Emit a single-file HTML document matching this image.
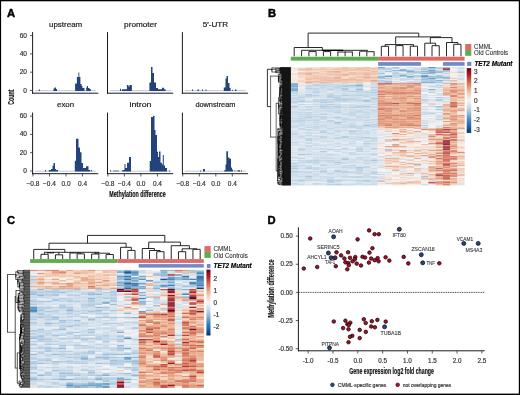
<!DOCTYPE html>
<html><head><meta charset="utf-8"><style>
html,body{margin:0;padding:0;background:#fff;}
svg{display:block;will-change:transform;}
text{font-family:"Liberation Sans", sans-serif;paint-order:stroke;stroke:currentColor;stroke-width:0.18px;}
</style></head><body>
<svg width="520" height="395" viewBox="0 0 520 395">
<defs><filter id="soft" x="-2%" y="-2%" width="104%" height="104%"><feGaussianBlur stdDeviation="0.35"/></filter></defs>
<rect x="0.00" y="0.00" width="520.00" height="395.00" fill="#000"/>
<rect x="1.10" y="1.30" width="517.70" height="392.30" fill="#fff"/>
<text x="7.00" y="17.10" font-size="11.2" fill="#000" color="#000" text-anchor="start" font-weight="bold" font-style="normal" style="stroke-width:0.45px">A</text>
<text x="268.00" y="17.10" font-size="11.2" fill="#000" color="#000" text-anchor="start" font-weight="bold" font-style="normal" style="stroke-width:0.45px">B</text>
<text x="7.00" y="224.30" font-size="11.2" fill="#000" color="#000" text-anchor="start" font-weight="bold" font-style="normal" style="stroke-width:0.45px">C</text>
<text x="267.50" y="224.00" font-size="11.2" fill="#000" color="#000" text-anchor="start" font-weight="bold" font-style="normal" style="stroke-width:0.45px">D</text>
<text x="65.60" y="26.70" font-size="7.4" fill="#1a1a1a" color="#1a1a1a" text-anchor="middle" font-weight="normal" font-style="normal" textLength="33.3" lengthAdjust="spacingAndGlyphs">upstream</text>
<line x1="35.10" y1="90.70" x2="96.10" y2="90.70" stroke="#9db0cf" stroke-width="0.7"/>
<path d="M38.90,91.00V89.50H39.90V91.00ZM53.50,91.00V88.50H54.50V91.00ZM54.50,91.00V87.60H56.00V91.00ZM56.00,91.00V89.00H57.00V91.00ZM75.10,91.00V83.40H76.90V91.00ZM76.90,91.00V76.90H78.40V91.00ZM78.40,91.00V72.40H79.30V91.00ZM79.30,91.00V76.90H80.40V91.00ZM80.40,91.00V84.00H81.60V91.00ZM81.60,91.00V85.90H82.50V91.00ZM82.50,91.00V88.10H84.50V91.00ZM86.20,91.00V87.50H87.00V91.00ZM87.00,91.00V86.10H88.00V91.00ZM88.00,91.00V88.00H89.50V91.00ZM89.50,91.00V89.00H90.80V91.00Z" fill="#23437c"/>
<line x1="32.60" y1="32.10" x2="32.60" y2="93.70" stroke="#000" stroke-width="0.9"/>
<line x1="32.15" y1="93.20" x2="98.30" y2="93.20" stroke="#000" stroke-width="0.9"/>
<line x1="30.00" y1="35.60" x2="32.60" y2="35.60" stroke="#333" stroke-width="0.8"/>
<text x="27.00" y="37.60" font-size="6.6" fill="#333" color="#333" text-anchor="end" font-weight="normal" font-style="normal">60</text>
<line x1="30.00" y1="53.90" x2="32.60" y2="53.90" stroke="#333" stroke-width="0.8"/>
<text x="27.00" y="55.90" font-size="6.6" fill="#333" color="#333" text-anchor="end" font-weight="normal" font-style="normal">40</text>
<line x1="30.00" y1="72.20" x2="32.60" y2="72.20" stroke="#333" stroke-width="0.8"/>
<text x="27.00" y="74.20" font-size="6.6" fill="#333" color="#333" text-anchor="end" font-weight="normal" font-style="normal">20</text>
<line x1="30.00" y1="90.50" x2="32.60" y2="90.50" stroke="#333" stroke-width="0.8"/>
<text x="27.00" y="92.50" font-size="6.6" fill="#333" color="#333" text-anchor="end" font-weight="normal" font-style="normal">0</text>
<text x="140.50" y="26.70" font-size="7.4" fill="#1a1a1a" color="#1a1a1a" text-anchor="middle" font-weight="normal" font-style="normal" textLength="32.8" lengthAdjust="spacingAndGlyphs">promoter</text>
<line x1="110.00" y1="90.70" x2="171.00" y2="90.70" stroke="#9db0cf" stroke-width="0.7"/>
<path d="M120.00,91.00V88.75H121.00V91.00ZM121.90,91.00V89.30H126.90V91.00ZM126.90,91.00V85.00H128.50V91.00ZM128.50,91.00V86.50H129.50V91.00ZM129.50,91.00V85.00H131.90V91.00ZM149.40,91.00V82.50H151.00V91.00ZM151.00,91.00V66.90H152.50V91.00ZM152.50,91.00V73.00H154.00V91.00ZM154.00,91.00V82.50H156.00V91.00ZM156.00,91.00V88.00H158.00V91.00ZM158.00,91.00V89.20H162.00V91.00ZM162.00,91.00V87.70H164.00V91.00ZM164.00,91.00V89.30H165.60V91.00Z" fill="#23437c"/>
<line x1="107.50" y1="32.10" x2="107.50" y2="93.70" stroke="#000" stroke-width="0.9"/>
<line x1="107.05" y1="93.20" x2="173.20" y2="93.20" stroke="#000" stroke-width="0.9"/>
<text x="215.40" y="26.70" font-size="7.4" fill="#1a1a1a" color="#1a1a1a" text-anchor="middle" font-weight="normal" font-style="normal" textLength="25.4" lengthAdjust="spacingAndGlyphs">5′-UTR</text>
<line x1="184.90" y1="90.70" x2="245.90" y2="90.70" stroke="#9db0cf" stroke-width="0.7"/>
<path d="M192.00,91.00V89.50H193.00V91.00ZM197.50,91.00V89.50H199.00V91.00ZM202.00,91.00V89.50H203.00V91.00ZM205.50,91.00V89.50H206.50V91.00ZM223.75,91.00V87.40H225.50V91.00ZM225.50,91.00V78.60H226.50V91.00ZM226.50,91.00V76.10H228.00V91.00ZM228.00,91.00V83.00H229.50V91.00ZM229.50,91.00V88.00H230.60V91.00ZM232.00,91.00V89.70H232.80V91.00ZM235.00,91.00V89.50H236.50V91.00Z" fill="#23437c"/>
<line x1="182.40" y1="32.10" x2="182.40" y2="93.70" stroke="#000" stroke-width="0.9"/>
<line x1="181.95" y1="93.20" x2="248.10" y2="93.20" stroke="#000" stroke-width="0.9"/>
<text x="65.60" y="107.20" font-size="7.4" fill="#1a1a1a" color="#1a1a1a" text-anchor="middle" font-weight="normal" font-style="normal" textLength="17" lengthAdjust="spacingAndGlyphs">exon</text>
<line x1="35.10" y1="171.20" x2="96.10" y2="171.20" stroke="#9db0cf" stroke-width="0.7"/>
<path d="M45.00,171.50V170.00H46.00V171.50ZM48.80,171.50V170.00H51.00V171.50ZM51.00,171.50V169.00H52.50V171.50ZM52.50,171.50V165.70H53.50V171.50ZM53.50,171.50V163.00H55.00V171.50ZM55.00,171.50V169.00H56.00V171.50ZM56.00,171.50V170.00H58.00V171.50ZM74.80,171.50V160.70H76.00V171.50ZM76.00,171.50V138.70H78.50V171.50ZM78.50,171.50V147.50H80.00V171.50ZM80.00,171.50V152.20H81.50V171.50ZM81.50,171.50V163.00H83.00V171.50ZM83.00,171.50V168.00H86.00V171.50ZM86.00,171.50V166.30H88.50V171.50ZM88.50,171.50V170.00H90.00V171.50ZM90.80,171.50V169.70H91.80V171.50Z" fill="#23437c"/>
<line x1="32.60" y1="112.60" x2="32.60" y2="174.20" stroke="#000" stroke-width="0.9"/>
<line x1="32.15" y1="173.70" x2="98.30" y2="173.70" stroke="#000" stroke-width="0.9"/>
<line x1="30.00" y1="116.10" x2="32.60" y2="116.10" stroke="#333" stroke-width="0.8"/>
<text x="27.00" y="118.10" font-size="6.6" fill="#333" color="#333" text-anchor="end" font-weight="normal" font-style="normal">60</text>
<line x1="30.00" y1="134.40" x2="32.60" y2="134.40" stroke="#333" stroke-width="0.8"/>
<text x="27.00" y="136.40" font-size="6.6" fill="#333" color="#333" text-anchor="end" font-weight="normal" font-style="normal">40</text>
<line x1="30.00" y1="152.70" x2="32.60" y2="152.70" stroke="#333" stroke-width="0.8"/>
<text x="27.00" y="154.70" font-size="6.6" fill="#333" color="#333" text-anchor="end" font-weight="normal" font-style="normal">20</text>
<line x1="30.00" y1="171.00" x2="32.60" y2="171.00" stroke="#333" stroke-width="0.8"/>
<text x="27.00" y="173.00" font-size="6.6" fill="#333" color="#333" text-anchor="end" font-weight="normal" font-style="normal">0</text>
<line x1="33.00" y1="173.70" x2="33.00" y2="176.50" stroke="#333" stroke-width="0.8"/>
<text x="33.00" y="185.90" font-size="6.5" fill="#333" color="#333" text-anchor="middle" font-weight="normal" font-style="normal">−0.8</text>
<line x1="49.50" y1="173.70" x2="49.50" y2="176.50" stroke="#333" stroke-width="0.8"/>
<text x="49.50" y="185.90" font-size="6.5" fill="#333" color="#333" text-anchor="middle" font-weight="normal" font-style="normal">−0.4</text>
<line x1="66.00" y1="173.70" x2="66.00" y2="176.50" stroke="#333" stroke-width="0.8"/>
<text x="66.00" y="185.90" font-size="6.5" fill="#333" color="#333" text-anchor="middle" font-weight="normal" font-style="normal">0.0</text>
<line x1="82.50" y1="173.70" x2="82.50" y2="176.50" stroke="#333" stroke-width="0.8"/>
<text x="82.50" y="185.90" font-size="6.5" fill="#333" color="#333" text-anchor="middle" font-weight="normal" font-style="normal">0.4</text>
<text x="140.50" y="107.20" font-size="7.4" fill="#1a1a1a" color="#1a1a1a" text-anchor="middle" font-weight="normal" font-style="normal" textLength="22" lengthAdjust="spacingAndGlyphs">intron</text>
<line x1="110.00" y1="171.20" x2="171.00" y2="171.20" stroke="#9db0cf" stroke-width="0.7"/>
<path d="M110.00,171.50V170.30H111.00V171.50ZM113.50,171.50V170.30H114.50V171.50ZM115.50,171.50V170.30H116.50V171.50ZM117.50,171.50V170.30H118.50V171.50ZM122.30,171.50V170.00H124.50V171.50ZM124.50,171.50V164.10H125.50V171.50ZM125.50,171.50V168.00H127.00V171.50ZM127.00,171.50V162.70H129.00V171.50ZM129.00,171.50V156.90H131.00V171.50ZM149.70,171.50V160.90H151.00V171.50ZM151.00,171.50V117.10H153.00V171.50ZM153.00,171.50V115.70H154.50V171.50ZM154.50,171.50V129.90H155.50V171.50ZM155.50,171.50V135.00H157.00V171.50ZM157.00,171.50V151.70H158.00V171.50ZM158.00,171.50V157.00H159.00V171.50ZM159.00,171.50V151.40H160.50V171.50ZM160.50,171.50V162.70H162.00V171.50ZM162.00,171.50V164.50H162.80V171.50ZM162.80,171.50V155.00H163.80V171.50ZM163.80,171.50V165.40H165.00V171.50ZM165.00,171.50V168.00H167.00V171.50ZM169.00,171.50V170.50H170.00V171.50Z" fill="#23437c"/>
<line x1="107.50" y1="112.60" x2="107.50" y2="174.20" stroke="#000" stroke-width="0.9"/>
<line x1="107.05" y1="173.70" x2="173.20" y2="173.70" stroke="#000" stroke-width="0.9"/>
<line x1="107.90" y1="173.70" x2="107.90" y2="176.50" stroke="#333" stroke-width="0.8"/>
<text x="107.90" y="185.90" font-size="6.5" fill="#333" color="#333" text-anchor="middle" font-weight="normal" font-style="normal">−0.8</text>
<line x1="124.40" y1="173.70" x2="124.40" y2="176.50" stroke="#333" stroke-width="0.8"/>
<text x="124.40" y="185.90" font-size="6.5" fill="#333" color="#333" text-anchor="middle" font-weight="normal" font-style="normal">−0.4</text>
<line x1="140.90" y1="173.70" x2="140.90" y2="176.50" stroke="#333" stroke-width="0.8"/>
<text x="140.90" y="185.90" font-size="6.5" fill="#333" color="#333" text-anchor="middle" font-weight="normal" font-style="normal">0.0</text>
<line x1="157.40" y1="173.70" x2="157.40" y2="176.50" stroke="#333" stroke-width="0.8"/>
<text x="157.40" y="185.90" font-size="6.5" fill="#333" color="#333" text-anchor="middle" font-weight="normal" font-style="normal">0.4</text>
<text x="215.40" y="107.20" font-size="7.4" fill="#1a1a1a" color="#1a1a1a" text-anchor="middle" font-weight="normal" font-style="normal" textLength="40" lengthAdjust="spacingAndGlyphs">downstream</text>
<line x1="184.90" y1="171.20" x2="245.90" y2="171.20" stroke="#9db0cf" stroke-width="0.7"/>
<path d="M200.00,171.50V170.50H201.00V171.50ZM203.00,171.50V169.00H205.00V171.50ZM224.40,171.50V170.00H225.50V171.50ZM225.50,171.50V164.40H226.30V171.50ZM226.30,171.50V151.25H228.00V171.50ZM228.00,171.50V157.50H229.50V171.50ZM229.50,171.50V158.75H231.00V171.50ZM231.00,171.50V167.50H232.00V171.50ZM232.00,171.50V169.40H233.00V171.50ZM234.50,171.50V170.30H235.30V171.50ZM237.50,171.50V170.30H240.00V171.50ZM241.00,171.50V170.30H242.00V171.50Z" fill="#23437c"/>
<line x1="182.40" y1="112.60" x2="182.40" y2="174.20" stroke="#000" stroke-width="0.9"/>
<line x1="181.95" y1="173.70" x2="248.10" y2="173.70" stroke="#000" stroke-width="0.9"/>
<line x1="182.80" y1="173.70" x2="182.80" y2="176.50" stroke="#333" stroke-width="0.8"/>
<text x="182.80" y="185.90" font-size="6.5" fill="#333" color="#333" text-anchor="middle" font-weight="normal" font-style="normal">−0.8</text>
<line x1="199.30" y1="173.70" x2="199.30" y2="176.50" stroke="#333" stroke-width="0.8"/>
<text x="199.30" y="185.90" font-size="6.5" fill="#333" color="#333" text-anchor="middle" font-weight="normal" font-style="normal">−0.4</text>
<line x1="215.80" y1="173.70" x2="215.80" y2="176.50" stroke="#333" stroke-width="0.8"/>
<text x="215.80" y="185.90" font-size="6.5" fill="#333" color="#333" text-anchor="middle" font-weight="normal" font-style="normal">0.0</text>
<line x1="232.30" y1="173.70" x2="232.30" y2="176.50" stroke="#333" stroke-width="0.8"/>
<text x="232.30" y="185.90" font-size="6.5" fill="#333" color="#333" text-anchor="middle" font-weight="normal" font-style="normal">0.4</text>
<text x="137.50" y="196.60" font-size="8.2" fill="#111" color="#111" text-anchor="middle" font-weight="bold" font-style="normal" textLength="56.6" lengthAdjust="spacingAndGlyphs">Methylation difference</text>
<text x="0" y="0" font-size="8.2" fill="#111" color="#111" font-weight="bold" text-anchor="middle" textLength="15.0" lengthAdjust="spacingAndGlyphs" transform="translate(14.2,97.2) rotate(-90)">Count</text>
<style>.h79 rect{width:7.292px;height:1.050px}</style><g class="h79" filter="url(#soft)">
<rect x="290.80" y="67.30" fill="#f5f0ed"/>
<rect x="298.04" y="67.30" fill="#f4e8e0"/>
<rect x="305.28" y="67.30" fill="#f4dccd"/>
<rect x="312.53" y="67.30" fill="#f3d9c9"/>
<rect x="319.77" y="67.30" fill="#f0c5ab"/>
<rect x="327.01" y="67.30" fill="#efc2a8"/>
<rect x="334.25" y="67.30" fill="#f2ccb5"/>
<rect x="341.49" y="67.30" fill="#e9ae8e"/>
<rect x="348.73" y="67.30" fill="#efc2a8"/>
<rect x="355.98" y="67.30" fill="#edbb9f"/>
<rect x="363.22" y="67.30" fill="#eab192"/>
<rect x="370.46" y="67.30" fill="#f3d1bc"/>
<rect x="377.70" y="67.30" fill="#4589bb"/>
<rect x="384.94" y="67.30" fill="#ceddea"/>
<rect x="392.18" y="67.30" fill="#8cb4d4"/>
<rect x="399.43" y="67.30" fill="#dee7ef"/>
<rect x="406.67" y="67.30" fill="#bbd1e4"/>
<rect x="413.91" y="67.30" fill="#d5e2ec"/>
<rect x="421.15" y="67.30" fill="#a2c2db"/>
<rect x="428.39" y="67.30" fill="#2669ac"/>
<rect x="435.63" y="67.30" fill="#a0c0db"/>
<rect x="442.88" y="67.30" fill="#81aed0"/>
<rect x="450.12" y="67.30" fill="#d1dfeb"/>
<rect x="457.36" y="67.30" fill="#c6d8e7"/>
<rect x="290.80" y="68.30" fill="#f3d9c8"/>
<rect x="298.04" y="68.30" fill="#f0c4ab"/>
<rect x="305.28" y="68.30" fill="#e8a988"/>
<rect x="312.53" y="68.30" fill="#f3d3be"/>
<rect x="319.77" y="68.30" fill="#efc2a8"/>
<rect x="327.01" y="68.30" fill="#f4dbcc"/>
<rect x="334.25" y="68.30" fill="#edbb9e"/>
<rect x="341.49" y="68.30" fill="#eab090"/>
<rect x="348.73" y="68.30" fill="#f0c5ac"/>
<rect x="355.98" y="68.30" fill="#ebb597"/>
<rect x="363.22" y="68.30" fill="#ebb598"/>
<rect x="370.46" y="68.30" fill="#e8a988"/>
<rect x="377.70" y="68.30" fill="#a4c3dc"/>
<rect x="384.94" y="68.30" fill="#a4c3dc"/>
<rect x="392.18" y="68.30" fill="#a7c5dd"/>
<rect x="399.43" y="68.30" fill="#f5ede8"/>
<rect x="406.67" y="68.30" fill="#ebeff2"/>
<rect x="413.91" y="68.30" fill="#c3d6e6"/>
<rect x="421.15" y="68.30" fill="#a6c4dd"/>
<rect x="428.39" y="68.30" fill="#a1c1db"/>
<rect x="435.63" y="68.30" fill="#a5c4dc"/>
<rect x="442.88" y="68.30" fill="#ad1c2c"/>
<rect x="450.12" y="68.30" fill="#f0f2f3"/>
<rect x="457.36" y="68.30" fill="#bdd3e4"/>
<rect x="290.80" y="69.30" fill="#f4e7de"/>
<rect x="298.04" y="69.30" fill="#ebb495"/>
<rect x="305.28" y="69.30" fill="#e9ac8c"/>
<rect x="312.53" y="69.30" fill="#ebb495"/>
<rect x="319.77" y="69.30" fill="#ecb89b"/>
<rect x="327.01" y="69.30" fill="#ebb495"/>
<rect x="334.25" y="69.30" fill="#e9af8f"/>
<rect x="341.49" y="69.30" fill="#eebfa4"/>
<rect x="348.73" y="69.30" fill="#eab193"/>
<rect x="355.98" y="69.30" fill="#eab192"/>
<rect x="363.22" y="69.30" fill="#eec0a6"/>
<rect x="370.46" y="69.30" fill="#efc1a7"/>
<rect x="377.70" y="69.30" fill="#a7c5dd"/>
<rect x="384.94" y="69.30" fill="#a4c3dc"/>
<rect x="392.18" y="69.30" fill="#eceff2"/>
<rect x="399.43" y="69.30" fill="#5f99c5"/>
<rect x="406.67" y="69.30" fill="#c8d9e8"/>
<rect x="413.91" y="69.30" fill="#b9d0e3"/>
<rect x="421.15" y="69.30" fill="#89b3d3"/>
<rect x="428.39" y="69.30" fill="#abc8de"/>
<rect x="435.63" y="69.30" fill="#d6e2ec"/>
<rect x="442.88" y="69.30" fill="#9e1529"/>
<rect x="450.12" y="69.30" fill="#f5eeea"/>
<rect x="457.36" y="69.30" fill="#dde6ee"/>
<rect x="290.80" y="70.30" fill="#f4e9e2"/>
<rect x="298.04" y="70.30" fill="#f1cab2"/>
<rect x="305.28" y="70.30" fill="#f0c6ad"/>
<rect x="312.53" y="70.30" fill="#f3d1bc"/>
<rect x="319.77" y="70.30" fill="#f3d3be"/>
<rect x="327.01" y="70.30" fill="#f3d1bb"/>
<rect x="334.25" y="70.30" fill="#f3d4c1"/>
<rect x="341.49" y="70.30" fill="#e9ae8e"/>
<rect x="348.73" y="70.30" fill="#edba9d"/>
<rect x="355.98" y="70.30" fill="#efc3a9"/>
<rect x="363.22" y="70.30" fill="#e7a887"/>
<rect x="370.46" y="70.30" fill="#f1cab2"/>
<rect x="377.70" y="70.30" fill="#d6e2ec"/>
<rect x="384.94" y="70.30" fill="#d8e3ed"/>
<rect x="392.18" y="70.30" fill="#6ba1c9"/>
<rect x="399.43" y="70.30" fill="#6ba0c9"/>
<rect x="406.67" y="70.30" fill="#8fb6d5"/>
<rect x="413.91" y="70.30" fill="#dbe5ee"/>
<rect x="421.15" y="70.30" fill="#c6d8e7"/>
<rect x="428.39" y="70.30" fill="#4589bc"/>
<rect x="435.63" y="70.30" fill="#bbd1e4"/>
<rect x="442.88" y="70.30" fill="#9fc0da"/>
<rect x="450.12" y="70.30" fill="#e4eaf0"/>
<rect x="457.36" y="70.30" fill="#cddcea"/>
<rect x="290.80" y="71.30" fill="#f5f0ed"/>
<rect x="298.04" y="71.30" fill="#f5f1ef"/>
<rect x="305.28" y="71.30" fill="#f3d4c0"/>
<rect x="312.53" y="71.30" fill="#f3d7c5"/>
<rect x="319.77" y="71.30" fill="#eebea2"/>
<rect x="327.01" y="71.30" fill="#e6a482"/>
<rect x="334.25" y="71.30" fill="#e29876"/>
<rect x="341.49" y="71.30" fill="#f1cbb3"/>
<rect x="348.73" y="71.30" fill="#f4ddce"/>
<rect x="355.98" y="71.30" fill="#f2ccb4"/>
<rect x="363.22" y="71.30" fill="#f3d3bf"/>
<rect x="370.46" y="71.30" fill="#e7a684"/>
<rect x="377.70" y="71.30" fill="#c4d7e7"/>
<rect x="384.94" y="71.30" fill="#87b2d2"/>
<rect x="392.18" y="71.30" fill="#d2e0eb"/>
<rect x="399.43" y="71.30" fill="#c2d6e6"/>
<rect x="406.67" y="71.30" fill="#5493c1"/>
<rect x="413.91" y="71.30" fill="#92b8d6"/>
<rect x="421.15" y="71.30" fill="#6aa0c8"/>
<rect x="428.39" y="71.30" fill="#79a9cd"/>
<rect x="435.63" y="71.30" fill="#7fadd0"/>
<rect x="442.88" y="71.30" fill="#92b8d6"/>
<rect x="450.12" y="71.30" fill="#ebeff2"/>
<rect x="457.36" y="71.30" fill="#bdd2e4"/>
<rect x="290.80" y="72.30" fill="#f5f0ed"/>
<rect x="298.04" y="72.30" fill="#eebda2"/>
<rect x="305.28" y="72.30" fill="#ecb799"/>
<rect x="312.53" y="72.30" fill="#ebb597"/>
<rect x="319.77" y="72.30" fill="#f3d4c1"/>
<rect x="327.01" y="72.30" fill="#eebfa4"/>
<rect x="334.25" y="72.30" fill="#e9af90"/>
<rect x="341.49" y="72.30" fill="#f3d0bb"/>
<rect x="348.73" y="72.30" fill="#e8ab8a"/>
<rect x="355.98" y="72.30" fill="#efc2a8"/>
<rect x="363.22" y="72.30" fill="#ebb698"/>
<rect x="370.46" y="72.30" fill="#eebea3"/>
<rect x="377.70" y="72.30" fill="#cbdbe9"/>
<rect x="384.94" y="72.30" fill="#e9edf2"/>
<rect x="392.18" y="72.30" fill="#afcae0"/>
<rect x="399.43" y="72.30" fill="#f3f4f4"/>
<rect x="406.67" y="72.30" fill="#9ebfda"/>
<rect x="413.91" y="72.30" fill="#97bbd8"/>
<rect x="421.15" y="72.30" fill="#b4cde1"/>
<rect x="428.39" y="72.30" fill="#5895c2"/>
<rect x="435.63" y="72.30" fill="#80add0"/>
<rect x="442.88" y="72.30" fill="#dae4ed"/>
<rect x="450.12" y="72.30" fill="#f3d4c1"/>
<rect x="457.36" y="72.30" fill="#9ec0da"/>
<rect x="290.80" y="73.30" fill="#f4dccc"/>
<rect x="298.04" y="73.30" fill="#ebb495"/>
<rect x="305.28" y="73.30" fill="#e7a583"/>
<rect x="312.53" y="73.30" fill="#edbca0"/>
<rect x="319.77" y="73.30" fill="#efc2a8"/>
<rect x="327.01" y="73.30" fill="#edbda1"/>
<rect x="334.25" y="73.30" fill="#f1cbb3"/>
<rect x="341.49" y="73.30" fill="#edbca1"/>
<rect x="348.73" y="73.30" fill="#edbb9f"/>
<rect x="355.98" y="73.30" fill="#edbb9e"/>
<rect x="363.22" y="73.30" fill="#e7a683"/>
<rect x="370.46" y="73.30" fill="#edbca0"/>
<rect x="377.70" y="73.30" fill="#87b1d2"/>
<rect x="384.94" y="73.30" fill="#ebeff2"/>
<rect x="392.18" y="73.30" fill="#9bbdd9"/>
<rect x="399.43" y="73.30" fill="#b7cfe2"/>
<rect x="406.67" y="73.30" fill="#c5d7e7"/>
<rect x="413.91" y="73.30" fill="#bbd1e4"/>
<rect x="421.15" y="73.30" fill="#689fc8"/>
<rect x="428.39" y="73.30" fill="#93b8d6"/>
<rect x="435.63" y="73.30" fill="#eef1f3"/>
<rect x="442.88" y="73.30" fill="#a6c5dd"/>
<rect x="450.12" y="73.30" fill="#f5f3f3"/>
<rect x="457.36" y="73.30" fill="#f4e1d5"/>
<rect x="290.80" y="74.30" fill="#f3d5c2"/>
<rect x="298.04" y="74.30" fill="#efc1a7"/>
<rect x="305.28" y="74.30" fill="#e7a684"/>
<rect x="312.53" y="74.30" fill="#f3d2be"/>
<rect x="319.77" y="74.30" fill="#efc2a7"/>
<rect x="327.01" y="74.30" fill="#eab293"/>
<rect x="334.25" y="74.30" fill="#e8ac8b"/>
<rect x="341.49" y="74.30" fill="#e59f7b"/>
<rect x="348.73" y="74.30" fill="#e9ac8c"/>
<rect x="355.98" y="74.30" fill="#ecb89a"/>
<rect x="363.22" y="74.30" fill="#ebb395"/>
<rect x="370.46" y="74.30" fill="#ecb79a"/>
<rect x="377.70" y="74.30" fill="#dae5ed"/>
<rect x="384.94" y="74.30" fill="#e7ecf1"/>
<rect x="392.18" y="74.30" fill="#c7d8e8"/>
<rect x="399.43" y="74.30" fill="#b1cbe0"/>
<rect x="406.67" y="74.30" fill="#afcae0"/>
<rect x="413.91" y="74.30" fill="#f3f4f4"/>
<rect x="421.15" y="74.30" fill="#dbe5ee"/>
<rect x="428.39" y="74.30" fill="#d3e0eb"/>
<rect x="435.63" y="74.30" fill="#cfdeea"/>
<rect x="442.88" y="74.30" fill="#e6ecf1"/>
<rect x="450.12" y="74.30" fill="#f4e9e2"/>
<rect x="457.36" y="74.30" fill="#f4e7df"/>
<rect x="290.80" y="75.30" fill="#f2f3f4"/>
<rect x="298.04" y="75.30" fill="#f4ddcf"/>
<rect x="305.28" y="75.30" fill="#f3d0ba"/>
<rect x="312.53" y="75.30" fill="#ecb99c"/>
<rect x="319.77" y="75.30" fill="#f2ceb7"/>
<rect x="327.01" y="75.30" fill="#f0c6ad"/>
<rect x="334.25" y="75.30" fill="#eebea3"/>
<rect x="341.49" y="75.30" fill="#e9af8f"/>
<rect x="348.73" y="75.30" fill="#f3d1bb"/>
<rect x="355.98" y="75.30" fill="#f3d3be"/>
<rect x="363.22" y="75.30" fill="#ecb89a"/>
<rect x="370.46" y="75.30" fill="#f3d5c1"/>
<rect x="377.70" y="75.30" fill="#c1d5e6"/>
<rect x="384.94" y="75.30" fill="#93b8d6"/>
<rect x="392.18" y="75.30" fill="#a8c5dd"/>
<rect x="399.43" y="75.30" fill="#4c8dbe"/>
<rect x="406.67" y="75.30" fill="#ccdce9"/>
<rect x="413.91" y="75.30" fill="#96bad7"/>
<rect x="421.15" y="75.30" fill="#478bbc"/>
<rect x="428.39" y="75.30" fill="#d8e3ed"/>
<rect x="435.63" y="75.30" fill="#9fc0da"/>
<rect x="442.88" y="75.30" fill="#f3d3bf"/>
<rect x="450.12" y="75.30" fill="#f3f4f4"/>
<rect x="457.36" y="75.30" fill="#cadae9"/>
<rect x="290.80" y="76.30" fill="#f4eae4"/>
<rect x="298.04" y="76.30" fill="#f0c5ac"/>
<rect x="305.28" y="76.30" fill="#f0c5ac"/>
<rect x="312.53" y="76.30" fill="#eebea3"/>
<rect x="319.77" y="76.30" fill="#edbda1"/>
<rect x="327.01" y="76.30" fill="#f3d3be"/>
<rect x="334.25" y="76.30" fill="#efc3a9"/>
<rect x="341.49" y="76.30" fill="#f2cdb6"/>
<rect x="348.73" y="76.30" fill="#f3d7c5"/>
<rect x="355.98" y="76.30" fill="#ecb79a"/>
<rect x="363.22" y="76.30" fill="#edbb9e"/>
<rect x="370.46" y="76.30" fill="#efc4aa"/>
<rect x="377.70" y="76.30" fill="#7eaccf"/>
<rect x="384.94" y="76.30" fill="#4387ba"/>
<rect x="392.18" y="76.30" fill="#c1d5e6"/>
<rect x="399.43" y="76.30" fill="#a7c5dd"/>
<rect x="406.67" y="76.30" fill="#5291c0"/>
<rect x="413.91" y="76.30" fill="#a8c6dd"/>
<rect x="421.15" y="76.30" fill="#3578b4"/>
<rect x="428.39" y="76.30" fill="#77a8cd"/>
<rect x="435.63" y="76.30" fill="#81aed0"/>
<rect x="442.88" y="76.30" fill="#b2cce1"/>
<rect x="450.12" y="76.30" fill="#ecf0f3"/>
<rect x="457.36" y="76.30" fill="#d9e4ed"/>
<rect x="290.80" y="77.30" fill="#f5eeea"/>
<rect x="298.04" y="77.30" fill="#f3d5c1"/>
<rect x="305.28" y="77.30" fill="#eebfa4"/>
<rect x="312.53" y="77.30" fill="#edba9e"/>
<rect x="319.77" y="77.30" fill="#eab294"/>
<rect x="327.01" y="77.30" fill="#e9ad8d"/>
<rect x="334.25" y="77.30" fill="#e39c79"/>
<rect x="341.49" y="77.30" fill="#f4dccd"/>
<rect x="348.73" y="77.30" fill="#eab091"/>
<rect x="355.98" y="77.30" fill="#edba9d"/>
<rect x="363.22" y="77.30" fill="#df8f6e"/>
<rect x="370.46" y="77.30" fill="#e7a886"/>
<rect x="377.70" y="77.30" fill="#81aed0"/>
<rect x="384.94" y="77.30" fill="#dae5ed"/>
<rect x="392.18" y="77.30" fill="#b7cfe2"/>
<rect x="399.43" y="77.30" fill="#eceff2"/>
<rect x="406.67" y="77.30" fill="#9fc0da"/>
<rect x="413.91" y="77.30" fill="#cadbe9"/>
<rect x="421.15" y="77.30" fill="#9cbed9"/>
<rect x="428.39" y="77.30" fill="#9ebfda"/>
<rect x="435.63" y="77.30" fill="#85b0d2"/>
<rect x="442.88" y="77.30" fill="#6ba0c9"/>
<rect x="450.12" y="77.30" fill="#f4e0d4"/>
<rect x="457.36" y="77.30" fill="#f4e2d7"/>
<rect x="290.80" y="78.30" fill="#f4e3d8"/>
<rect x="298.04" y="78.30" fill="#f4ded0"/>
<rect x="305.28" y="78.30" fill="#ebb597"/>
<rect x="312.53" y="78.30" fill="#e9af90"/>
<rect x="319.77" y="78.30" fill="#edbb9f"/>
<rect x="327.01" y="78.30" fill="#ecb99c"/>
<rect x="334.25" y="78.30" fill="#e6a27f"/>
<rect x="341.49" y="78.30" fill="#f1cab2"/>
<rect x="348.73" y="78.30" fill="#efc1a7"/>
<rect x="355.98" y="78.30" fill="#f3d5c2"/>
<rect x="363.22" y="78.30" fill="#efc3aa"/>
<rect x="370.46" y="78.30" fill="#f0c4ab"/>
<rect x="377.70" y="78.30" fill="#a0c0db"/>
<rect x="384.94" y="78.30" fill="#abc8de"/>
<rect x="392.18" y="78.30" fill="#f4eae4"/>
<rect x="399.43" y="78.30" fill="#c2d6e6"/>
<rect x="406.67" y="78.30" fill="#c6d8e7"/>
<rect x="413.91" y="78.30" fill="#f4dfd2"/>
<rect x="421.15" y="78.30" fill="#9bbed9"/>
<rect x="428.39" y="78.30" fill="#4286ba"/>
<rect x="435.63" y="78.30" fill="#b0cae0"/>
<rect x="442.88" y="78.30" fill="#98bbd8"/>
<rect x="450.12" y="78.30" fill="#eebea3"/>
<rect x="457.36" y="78.30" fill="#c0d4e5"/>
<rect x="290.80" y="79.30" fill="#f4e3d8"/>
<rect x="298.04" y="79.30" fill="#f4dfd2"/>
<rect x="305.28" y="79.30" fill="#e9af90"/>
<rect x="312.53" y="79.30" fill="#efc1a6"/>
<rect x="319.77" y="79.30" fill="#eab293"/>
<rect x="327.01" y="79.30" fill="#ecb799"/>
<rect x="334.25" y="79.30" fill="#edba9e"/>
<rect x="341.49" y="79.30" fill="#e6a27e"/>
<rect x="348.73" y="79.30" fill="#e6a27e"/>
<rect x="355.98" y="79.30" fill="#eab090"/>
<rect x="363.22" y="79.30" fill="#eebfa4"/>
<rect x="370.46" y="79.30" fill="#efc2a7"/>
<rect x="377.70" y="79.30" fill="#e0e8ef"/>
<rect x="384.94" y="79.30" fill="#f2ceb7"/>
<rect x="392.18" y="79.30" fill="#c9dae8"/>
<rect x="399.43" y="79.30" fill="#bad1e3"/>
<rect x="406.67" y="79.30" fill="#bed3e5"/>
<rect x="413.91" y="79.30" fill="#adc8df"/>
<rect x="421.15" y="79.30" fill="#82aed0"/>
<rect x="428.39" y="79.30" fill="#a8c5dd"/>
<rect x="435.63" y="79.30" fill="#e5ebf0"/>
<rect x="442.88" y="79.30" fill="#d2e0eb"/>
<rect x="450.12" y="79.30" fill="#f5f2f0"/>
<rect x="457.36" y="79.30" fill="#c2d6e6"/>
<rect x="290.80" y="80.30" fill="#f4dcce"/>
<rect x="298.04" y="80.30" fill="#f2ceb8"/>
<rect x="305.28" y="80.30" fill="#f1c8b0"/>
<rect x="312.53" y="80.30" fill="#f0c6ad"/>
<rect x="319.77" y="80.30" fill="#ebb598"/>
<rect x="327.01" y="80.30" fill="#e6a582"/>
<rect x="334.25" y="80.30" fill="#e8ab8a"/>
<rect x="341.49" y="80.30" fill="#eab193"/>
<rect x="348.73" y="80.30" fill="#edba9d"/>
<rect x="355.98" y="80.30" fill="#eab090"/>
<rect x="363.22" y="80.30" fill="#ebb597"/>
<rect x="370.46" y="80.30" fill="#de8e6d"/>
<rect x="377.70" y="80.30" fill="#a1c1db"/>
<rect x="384.94" y="80.30" fill="#c3d6e6"/>
<rect x="392.18" y="80.30" fill="#f5f3f2"/>
<rect x="399.43" y="80.30" fill="#c8d9e8"/>
<rect x="406.67" y="80.30" fill="#f5efeb"/>
<rect x="413.91" y="80.30" fill="#d0dfeb"/>
<rect x="421.15" y="80.30" fill="#adc9df"/>
<rect x="428.39" y="80.30" fill="#96bbd7"/>
<rect x="435.63" y="80.30" fill="#5e98c4"/>
<rect x="442.88" y="80.30" fill="#9fc0da"/>
<rect x="450.12" y="80.30" fill="#e6a27f"/>
<rect x="457.36" y="80.30" fill="#f4e9e2"/>
<rect x="290.80" y="81.30" fill="#f4ded0"/>
<rect x="298.04" y="81.30" fill="#f0c7ae"/>
<rect x="305.28" y="81.30" fill="#ebb395"/>
<rect x="312.53" y="81.30" fill="#e9ac8c"/>
<rect x="319.77" y="81.30" fill="#efc1a6"/>
<rect x="327.01" y="81.30" fill="#eec0a5"/>
<rect x="334.25" y="81.30" fill="#e9ad8d"/>
<rect x="341.49" y="81.30" fill="#efc2a8"/>
<rect x="348.73" y="81.30" fill="#f3d1bc"/>
<rect x="355.98" y="81.30" fill="#eec0a5"/>
<rect x="363.22" y="81.30" fill="#f0c5ac"/>
<rect x="370.46" y="81.30" fill="#eab394"/>
<rect x="377.70" y="81.30" fill="#a0c1db"/>
<rect x="384.94" y="81.30" fill="#90b7d5"/>
<rect x="392.18" y="81.30" fill="#b1cbe0"/>
<rect x="399.43" y="81.30" fill="#f2f3f4"/>
<rect x="406.67" y="81.30" fill="#bed3e5"/>
<rect x="413.91" y="81.30" fill="#c8d9e8"/>
<rect x="421.15" y="81.30" fill="#94b9d7"/>
<rect x="428.39" y="81.30" fill="#a1c1db"/>
<rect x="435.63" y="81.30" fill="#bdd3e4"/>
<rect x="442.88" y="81.30" fill="#e8edf1"/>
<rect x="450.12" y="81.30" fill="#bed3e5"/>
<rect x="457.36" y="81.30" fill="#f4e1d5"/>
<rect x="290.80" y="82.30" fill="#f4e6dd"/>
<rect x="298.04" y="82.30" fill="#f3d9c9"/>
<rect x="305.28" y="82.30" fill="#e19573"/>
<rect x="312.53" y="82.30" fill="#eec0a6"/>
<rect x="319.77" y="82.30" fill="#e59f7b"/>
<rect x="327.01" y="82.30" fill="#e9ae8f"/>
<rect x="334.25" y="82.30" fill="#f2ceb7"/>
<rect x="341.49" y="82.30" fill="#ebb698"/>
<rect x="348.73" y="82.30" fill="#eab293"/>
<rect x="355.98" y="82.30" fill="#eec0a5"/>
<rect x="363.22" y="82.30" fill="#f4ded1"/>
<rect x="370.46" y="82.30" fill="#efc3a9"/>
<rect x="377.70" y="82.30" fill="#b5cde2"/>
<rect x="384.94" y="82.30" fill="#8ab3d3"/>
<rect x="392.18" y="82.30" fill="#f5f2f0"/>
<rect x="399.43" y="82.30" fill="#b2cce1"/>
<rect x="406.67" y="82.30" fill="#acc8df"/>
<rect x="413.91" y="82.30" fill="#b0cae0"/>
<rect x="421.15" y="82.30" fill="#639cc6"/>
<rect x="428.39" y="82.30" fill="#649cc6"/>
<rect x="435.63" y="82.30" fill="#95bad7"/>
<rect x="442.88" y="82.30" fill="#c2d6e6"/>
<rect x="450.12" y="82.30" fill="#e3eaf0"/>
<rect x="457.36" y="82.30" fill="#dee7ee"/>
<rect x="290.80" y="83.30" fill="#669dc7"/>
<rect x="298.04" y="83.30" fill="#f4e9e2"/>
<rect x="305.28" y="83.30" fill="#c7d9e8"/>
<rect x="312.53" y="83.30" fill="#d5e1ec"/>
<rect x="319.77" y="83.30" fill="#c4d7e7"/>
<rect x="327.01" y="83.30" fill="#cbdbe9"/>
<rect x="334.25" y="83.30" fill="#d5e1ec"/>
<rect x="341.49" y="83.30" fill="#bfd4e5"/>
<rect x="348.73" y="83.30" fill="#eff1f3"/>
<rect x="355.98" y="83.30" fill="#bed3e5"/>
<rect x="363.22" y="83.30" fill="#eff1f3"/>
<rect x="370.46" y="83.30" fill="#c8d9e8"/>
<rect x="377.70" y="83.30" fill="#be403b"/>
<rect x="384.94" y="83.30" fill="#c1453c"/>
<rect x="392.18" y="83.30" fill="#cd5f47"/>
<rect x="399.43" y="83.30" fill="#da8263"/>
<rect x="406.67" y="83.30" fill="#d37054"/>
<rect x="413.91" y="83.30" fill="#c95844"/>
<rect x="421.15" y="83.30" fill="#eaeef2"/>
<rect x="428.39" y="83.30" fill="#dae4ed"/>
<rect x="435.63" y="83.30" fill="#dae4ed"/>
<rect x="442.88" y="83.30" fill="#e6a27f"/>
<rect x="450.12" y="83.30" fill="#d16a4f"/>
<rect x="457.36" y="83.30" fill="#e7a684"/>
<rect x="290.80" y="84.30" fill="#669dc7"/>
<rect x="298.04" y="84.30" fill="#f4e0d3"/>
<rect x="305.28" y="84.30" fill="#d6e2ec"/>
<rect x="312.53" y="84.30" fill="#a8c6dd"/>
<rect x="319.77" y="84.30" fill="#c1d5e6"/>
<rect x="327.01" y="84.30" fill="#bdd2e4"/>
<rect x="334.25" y="84.30" fill="#b9d0e3"/>
<rect x="341.49" y="84.30" fill="#ceddea"/>
<rect x="348.73" y="84.30" fill="#b5cee2"/>
<rect x="355.98" y="84.30" fill="#9fc0da"/>
<rect x="363.22" y="84.30" fill="#dbe5ee"/>
<rect x="370.46" y="84.30" fill="#b9d0e3"/>
<rect x="377.70" y="84.30" fill="#d98162"/>
<rect x="384.94" y="84.30" fill="#dd8b6a"/>
<rect x="392.18" y="84.30" fill="#eab192"/>
<rect x="399.43" y="84.30" fill="#e6a380"/>
<rect x="406.67" y="84.30" fill="#e7a987"/>
<rect x="413.91" y="84.30" fill="#dd8a6a"/>
<rect x="421.15" y="84.30" fill="#dae4ed"/>
<rect x="428.39" y="84.30" fill="#e9eef2"/>
<rect x="435.63" y="84.30" fill="#d3e0eb"/>
<rect x="442.88" y="84.30" fill="#f4e6dc"/>
<rect x="450.12" y="84.30" fill="#df8f6d"/>
<rect x="457.36" y="84.30" fill="#ebb698"/>
<rect x="290.80" y="85.30" fill="#6ba1c9"/>
<rect x="298.04" y="85.30" fill="#d8e3ed"/>
<rect x="305.28" y="85.30" fill="#b8cfe3"/>
<rect x="312.53" y="85.30" fill="#aac7de"/>
<rect x="319.77" y="85.30" fill="#aac7de"/>
<rect x="327.01" y="85.30" fill="#bdd2e4"/>
<rect x="334.25" y="85.30" fill="#bdd2e4"/>
<rect x="341.49" y="85.30" fill="#a7c5dd"/>
<rect x="348.73" y="85.30" fill="#98bcd8"/>
<rect x="355.98" y="85.30" fill="#6ca1c9"/>
<rect x="363.22" y="85.30" fill="#d5e1ec"/>
<rect x="370.46" y="85.30" fill="#cbdbe9"/>
<rect x="377.70" y="85.30" fill="#e6a481"/>
<rect x="384.94" y="85.30" fill="#f0c7ae"/>
<rect x="392.18" y="85.30" fill="#eab192"/>
<rect x="399.43" y="85.30" fill="#e39b78"/>
<rect x="406.67" y="85.30" fill="#da8263"/>
<rect x="413.91" y="85.30" fill="#de8c6b"/>
<rect x="421.15" y="85.30" fill="#d7e3ed"/>
<rect x="428.39" y="85.30" fill="#d3e0eb"/>
<rect x="435.63" y="85.30" fill="#a9c6de"/>
<rect x="442.88" y="85.30" fill="#f1c9b1"/>
<rect x="450.12" y="85.30" fill="#eab091"/>
<rect x="457.36" y="85.30" fill="#f3d7c6"/>
<rect x="290.80" y="86.30" fill="#5d98c4"/>
<rect x="298.04" y="86.30" fill="#e1e9ef"/>
<rect x="305.28" y="86.30" fill="#b9d0e3"/>
<rect x="312.53" y="86.30" fill="#cddcea"/>
<rect x="319.77" y="86.30" fill="#c1d5e6"/>
<rect x="327.01" y="86.30" fill="#bbd1e4"/>
<rect x="334.25" y="86.30" fill="#afcae0"/>
<rect x="341.49" y="86.30" fill="#98bcd8"/>
<rect x="348.73" y="86.30" fill="#b1cbe0"/>
<rect x="355.98" y="86.30" fill="#a7c5dd"/>
<rect x="363.22" y="86.30" fill="#ceddea"/>
<rect x="370.46" y="86.30" fill="#cadbe9"/>
<rect x="377.70" y="86.30" fill="#e9ad8d"/>
<rect x="384.94" y="86.30" fill="#e6a27f"/>
<rect x="392.18" y="86.30" fill="#e9ad8d"/>
<rect x="399.43" y="86.30" fill="#edbca0"/>
<rect x="406.67" y="86.30" fill="#d98061"/>
<rect x="413.91" y="86.30" fill="#edbb9e"/>
<rect x="421.15" y="86.30" fill="#e0e8ef"/>
<rect x="428.39" y="86.30" fill="#b5cde2"/>
<rect x="435.63" y="86.30" fill="#d1dfeb"/>
<rect x="442.88" y="86.30" fill="#f3d7c4"/>
<rect x="450.12" y="86.30" fill="#ecb89b"/>
<rect x="457.36" y="86.30" fill="#e9ae8e"/>
<rect x="290.80" y="87.30" fill="#95bad7"/>
<rect x="298.04" y="87.30" fill="#e3eaf0"/>
<rect x="305.28" y="87.30" fill="#bfd4e5"/>
<rect x="312.53" y="87.30" fill="#cfdeea"/>
<rect x="319.77" y="87.30" fill="#b3cce1"/>
<rect x="327.01" y="87.30" fill="#cbdbe9"/>
<rect x="334.25" y="87.30" fill="#b0cbe0"/>
<rect x="341.49" y="87.30" fill="#c9dae8"/>
<rect x="348.73" y="87.30" fill="#c6d8e7"/>
<rect x="355.98" y="87.30" fill="#bed3e5"/>
<rect x="363.22" y="87.30" fill="#e5ebf1"/>
<rect x="370.46" y="87.30" fill="#a9c6de"/>
<rect x="377.70" y="87.30" fill="#db8666"/>
<rect x="384.94" y="87.30" fill="#e7a886"/>
<rect x="392.18" y="87.30" fill="#db8465"/>
<rect x="399.43" y="87.30" fill="#d57558"/>
<rect x="406.67" y="87.30" fill="#dc8767"/>
<rect x="413.91" y="87.30" fill="#e59f7b"/>
<rect x="421.15" y="87.30" fill="#f5f5f5"/>
<rect x="428.39" y="87.30" fill="#dde6ee"/>
<rect x="435.63" y="87.30" fill="#b2cce1"/>
<rect x="442.88" y="87.30" fill="#edba9d"/>
<rect x="450.12" y="87.30" fill="#cf6449"/>
<rect x="457.36" y="87.30" fill="#eec0a5"/>
<rect x="290.80" y="88.30" fill="#6da2c9"/>
<rect x="298.04" y="88.30" fill="#e9eef2"/>
<rect x="305.28" y="88.30" fill="#a1c1db"/>
<rect x="312.53" y="88.30" fill="#b6cee2"/>
<rect x="319.77" y="88.30" fill="#c5d8e7"/>
<rect x="327.01" y="88.30" fill="#c3d6e6"/>
<rect x="334.25" y="88.30" fill="#bcd2e4"/>
<rect x="341.49" y="88.30" fill="#99bcd8"/>
<rect x="348.73" y="88.30" fill="#d2e0eb"/>
<rect x="355.98" y="88.30" fill="#b5cee2"/>
<rect x="363.22" y="88.30" fill="#edf0f3"/>
<rect x="370.46" y="88.30" fill="#d3e0ec"/>
<rect x="377.70" y="88.30" fill="#e39c78"/>
<rect x="384.94" y="88.30" fill="#e59f7b"/>
<rect x="392.18" y="88.30" fill="#de8c6b"/>
<rect x="399.43" y="88.30" fill="#d37154"/>
<rect x="406.67" y="88.30" fill="#eab091"/>
<rect x="413.91" y="88.30" fill="#e29775"/>
<rect x="421.15" y="88.30" fill="#c6d8e7"/>
<rect x="428.39" y="88.30" fill="#e7ecf1"/>
<rect x="435.63" y="88.30" fill="#f5efeb"/>
<rect x="442.88" y="88.30" fill="#ecb79a"/>
<rect x="450.12" y="88.30" fill="#edbda1"/>
<rect x="457.36" y="88.30" fill="#ebb597"/>
<rect x="290.80" y="89.30" fill="#5e99c4"/>
<rect x="298.04" y="89.30" fill="#d8e3ed"/>
<rect x="305.28" y="89.30" fill="#cadbe9"/>
<rect x="312.53" y="89.30" fill="#b1cbe0"/>
<rect x="319.77" y="89.30" fill="#c7d9e8"/>
<rect x="327.01" y="89.30" fill="#a3c2dc"/>
<rect x="334.25" y="89.30" fill="#ceddea"/>
<rect x="341.49" y="89.30" fill="#a1c1db"/>
<rect x="348.73" y="89.30" fill="#cdddea"/>
<rect x="355.98" y="89.30" fill="#80add0"/>
<rect x="363.22" y="89.30" fill="#eff1f3"/>
<rect x="370.46" y="89.30" fill="#b4cde1"/>
<rect x="377.70" y="89.30" fill="#ebb598"/>
<rect x="384.94" y="89.30" fill="#e5a07d"/>
<rect x="392.18" y="89.30" fill="#e19573"/>
<rect x="399.43" y="89.30" fill="#e9ac8c"/>
<rect x="406.67" y="89.30" fill="#e6a582"/>
<rect x="413.91" y="89.30" fill="#e19674"/>
<rect x="421.15" y="89.30" fill="#d0deeb"/>
<rect x="428.39" y="89.30" fill="#5e98c4"/>
<rect x="435.63" y="89.30" fill="#c7d9e8"/>
<rect x="442.88" y="89.30" fill="#e8aa88"/>
<rect x="450.12" y="89.30" fill="#e19573"/>
<rect x="457.36" y="89.30" fill="#e5a07c"/>
<rect x="290.80" y="90.30" fill="#5895c2"/>
<rect x="298.04" y="90.30" fill="#f4e1d6"/>
<rect x="305.28" y="90.30" fill="#cbdbe9"/>
<rect x="312.53" y="90.30" fill="#c3d6e6"/>
<rect x="319.77" y="90.30" fill="#d0deea"/>
<rect x="327.01" y="90.30" fill="#ceddea"/>
<rect x="334.25" y="90.30" fill="#bfd4e5"/>
<rect x="341.49" y="90.30" fill="#b2cce1"/>
<rect x="348.73" y="90.30" fill="#cfdeea"/>
<rect x="355.98" y="90.30" fill="#aec9df"/>
<rect x="363.22" y="90.30" fill="#c8d9e8"/>
<rect x="370.46" y="90.30" fill="#a9c6de"/>
<rect x="377.70" y="90.30" fill="#de8d6c"/>
<rect x="384.94" y="90.30" fill="#e19472"/>
<rect x="392.18" y="90.30" fill="#df916f"/>
<rect x="399.43" y="90.30" fill="#dd8969"/>
<rect x="406.67" y="90.30" fill="#e09472"/>
<rect x="413.91" y="90.30" fill="#d67659"/>
<rect x="421.15" y="90.30" fill="#c7d9e8"/>
<rect x="428.39" y="90.30" fill="#ceddea"/>
<rect x="435.63" y="90.30" fill="#dfe7ef"/>
<rect x="442.88" y="90.30" fill="#e39b78"/>
<rect x="450.12" y="90.30" fill="#d87e5f"/>
<rect x="457.36" y="90.30" fill="#dd8969"/>
<rect x="290.80" y="91.30" fill="#bcd2e4"/>
<rect x="298.04" y="91.30" fill="#d6e2ec"/>
<rect x="305.28" y="91.30" fill="#cddcea"/>
<rect x="312.53" y="91.30" fill="#b2cce1"/>
<rect x="319.77" y="91.30" fill="#c2d6e6"/>
<rect x="327.01" y="91.30" fill="#e0e8ef"/>
<rect x="334.25" y="91.30" fill="#d1dfeb"/>
<rect x="341.49" y="91.30" fill="#bcd2e4"/>
<rect x="348.73" y="91.30" fill="#9abdd9"/>
<rect x="355.98" y="91.30" fill="#b7cfe2"/>
<rect x="363.22" y="91.30" fill="#b8cfe3"/>
<rect x="370.46" y="91.30" fill="#c6d8e7"/>
<rect x="377.70" y="91.30" fill="#ce6148"/>
<rect x="384.94" y="91.30" fill="#da8162"/>
<rect x="392.18" y="91.30" fill="#dd8a6a"/>
<rect x="399.43" y="91.30" fill="#e6a37f"/>
<rect x="406.67" y="91.30" fill="#e7a785"/>
<rect x="413.91" y="91.30" fill="#e19572"/>
<rect x="421.15" y="91.30" fill="#d0deeb"/>
<rect x="428.39" y="91.30" fill="#f1cab2"/>
<rect x="435.63" y="91.30" fill="#d2dfeb"/>
<rect x="442.88" y="91.30" fill="#eebfa4"/>
<rect x="450.12" y="91.30" fill="#d16b50"/>
<rect x="457.36" y="91.30" fill="#eab293"/>
<rect x="290.80" y="92.30" fill="#b2cce1"/>
<rect x="298.04" y="92.30" fill="#d9e4ed"/>
<rect x="305.28" y="92.30" fill="#c3d6e6"/>
<rect x="312.53" y="92.30" fill="#b0cbe0"/>
<rect x="319.77" y="92.30" fill="#ceddea"/>
<rect x="327.01" y="92.30" fill="#d0deeb"/>
<rect x="334.25" y="92.30" fill="#c2d6e6"/>
<rect x="341.49" y="92.30" fill="#d2e0eb"/>
<rect x="348.73" y="92.30" fill="#d4e1ec"/>
<rect x="355.98" y="92.30" fill="#b9d0e3"/>
<rect x="363.22" y="92.30" fill="#a3c3dc"/>
<rect x="370.46" y="92.30" fill="#9dbfda"/>
<rect x="377.70" y="92.30" fill="#dd8b6b"/>
<rect x="384.94" y="92.30" fill="#d36f53"/>
<rect x="392.18" y="92.30" fill="#d57457"/>
<rect x="399.43" y="92.30" fill="#d26c51"/>
<rect x="406.67" y="92.30" fill="#ce6349"/>
<rect x="413.91" y="92.30" fill="#dc8868"/>
<rect x="421.15" y="92.30" fill="#f5f2f0"/>
<rect x="428.39" y="92.30" fill="#b3cce1"/>
<rect x="435.63" y="92.30" fill="#f0f2f4"/>
<rect x="442.88" y="92.30" fill="#e39a77"/>
<rect x="450.12" y="92.30" fill="#df916f"/>
<rect x="457.36" y="92.30" fill="#edbb9f"/>
<rect x="290.80" y="93.30" fill="#b8cfe3"/>
<rect x="298.04" y="93.30" fill="#ceddea"/>
<rect x="305.28" y="93.30" fill="#dce5ee"/>
<rect x="312.53" y="93.30" fill="#c5d8e7"/>
<rect x="319.77" y="93.30" fill="#d3e0eb"/>
<rect x="327.01" y="93.30" fill="#c0d4e5"/>
<rect x="334.25" y="93.30" fill="#d0deea"/>
<rect x="341.49" y="93.30" fill="#bad1e3"/>
<rect x="348.73" y="93.30" fill="#d1dfeb"/>
<rect x="355.98" y="93.30" fill="#c8d9e8"/>
<rect x="363.22" y="93.30" fill="#d0deeb"/>
<rect x="370.46" y="93.30" fill="#c1d5e6"/>
<rect x="377.70" y="93.30" fill="#e29976"/>
<rect x="384.94" y="93.30" fill="#dc8868"/>
<rect x="392.18" y="93.30" fill="#d26c50"/>
<rect x="399.43" y="93.30" fill="#cd6147"/>
<rect x="406.67" y="93.30" fill="#dc8868"/>
<rect x="413.91" y="93.30" fill="#d37154"/>
<rect x="421.15" y="93.30" fill="#f5f4f3"/>
<rect x="428.39" y="93.30" fill="#eef1f3"/>
<rect x="435.63" y="93.30" fill="#b9d0e3"/>
<rect x="442.88" y="93.30" fill="#e19673"/>
<rect x="450.12" y="93.30" fill="#e7a886"/>
<rect x="457.36" y="93.30" fill="#d97f60"/>
<rect x="290.80" y="94.30" fill="#d1dfeb"/>
<rect x="298.04" y="94.30" fill="#cfddea"/>
<rect x="305.28" y="94.30" fill="#96bbd7"/>
<rect x="312.53" y="94.30" fill="#cfddea"/>
<rect x="319.77" y="94.30" fill="#d0deea"/>
<rect x="327.01" y="94.30" fill="#adc9df"/>
<rect x="334.25" y="94.30" fill="#d3e0eb"/>
<rect x="341.49" y="94.30" fill="#c5d8e7"/>
<rect x="348.73" y="94.30" fill="#c1d5e6"/>
<rect x="355.98" y="94.30" fill="#b7cfe2"/>
<rect x="363.22" y="94.30" fill="#b2cce1"/>
<rect x="370.46" y="94.30" fill="#bcd2e4"/>
<rect x="377.70" y="94.30" fill="#c65041"/>
<rect x="384.94" y="94.30" fill="#de8d6c"/>
<rect x="392.18" y="94.30" fill="#de8d6c"/>
<rect x="399.43" y="94.30" fill="#e59f7b"/>
<rect x="406.67" y="94.30" fill="#e49e7a"/>
<rect x="413.91" y="94.30" fill="#e49d79"/>
<rect x="421.15" y="94.30" fill="#c1d5e6"/>
<rect x="428.39" y="94.30" fill="#eff1f3"/>
<rect x="435.63" y="94.30" fill="#d4e1ec"/>
<rect x="442.88" y="94.30" fill="#e09270"/>
<rect x="450.12" y="94.30" fill="#ecba9d"/>
<rect x="457.36" y="94.30" fill="#e29976"/>
<rect x="290.80" y="95.30" fill="#b2cbe1"/>
<rect x="298.04" y="95.30" fill="#bed3e5"/>
<rect x="305.28" y="95.30" fill="#b0cbe0"/>
<rect x="312.53" y="95.30" fill="#a2c2db"/>
<rect x="319.77" y="95.30" fill="#c8d9e8"/>
<rect x="327.01" y="95.30" fill="#aac7de"/>
<rect x="334.25" y="95.30" fill="#afcae0"/>
<rect x="341.49" y="95.30" fill="#a2c2db"/>
<rect x="348.73" y="95.30" fill="#b6cee2"/>
<rect x="355.98" y="95.30" fill="#abc7de"/>
<rect x="363.22" y="95.30" fill="#b7cfe2"/>
<rect x="370.46" y="95.30" fill="#b8d0e3"/>
<rect x="377.70" y="95.30" fill="#edbca1"/>
<rect x="384.94" y="95.30" fill="#f1c8af"/>
<rect x="392.18" y="95.30" fill="#e8ab8a"/>
<rect x="399.43" y="95.30" fill="#e6a380"/>
<rect x="406.67" y="95.30" fill="#e7a784"/>
<rect x="413.91" y="95.30" fill="#efc4aa"/>
<rect x="421.15" y="95.30" fill="#d1dfeb"/>
<rect x="428.39" y="95.30" fill="#cbdbe9"/>
<rect x="435.63" y="95.30" fill="#c7d9e8"/>
<rect x="442.88" y="95.30" fill="#eebea3"/>
<rect x="450.12" y="95.30" fill="#ce6148"/>
<rect x="457.36" y="95.30" fill="#f2ccb4"/>
<rect x="290.80" y="96.30" fill="#d5e1ec"/>
<rect x="298.04" y="96.30" fill="#bfd4e5"/>
<rect x="305.28" y="96.30" fill="#afcae0"/>
<rect x="312.53" y="96.30" fill="#c7d8e8"/>
<rect x="319.77" y="96.30" fill="#ccdce9"/>
<rect x="327.01" y="96.30" fill="#a7c5dd"/>
<rect x="334.25" y="96.30" fill="#bcd2e4"/>
<rect x="341.49" y="96.30" fill="#d1dfeb"/>
<rect x="348.73" y="96.30" fill="#c6d8e7"/>
<rect x="355.98" y="96.30" fill="#cadbe9"/>
<rect x="363.22" y="96.30" fill="#b2cce1"/>
<rect x="370.46" y="96.30" fill="#d5e1ec"/>
<rect x="377.70" y="96.30" fill="#cf654a"/>
<rect x="384.94" y="96.30" fill="#de8c6c"/>
<rect x="392.18" y="96.30" fill="#e29775"/>
<rect x="399.43" y="96.30" fill="#e5a07c"/>
<rect x="406.67" y="96.30" fill="#d57659"/>
<rect x="413.91" y="96.30" fill="#db8666"/>
<rect x="421.15" y="96.30" fill="#cddcea"/>
<rect x="428.39" y="96.30" fill="#f5eeea"/>
<rect x="435.63" y="96.30" fill="#f2f3f4"/>
<rect x="442.88" y="96.30" fill="#f5f0ee"/>
<rect x="450.12" y="96.30" fill="#d0684d"/>
<rect x="457.36" y="96.30" fill="#eab192"/>
<rect x="290.80" y="97.30" fill="#c1d5e6"/>
<rect x="298.04" y="97.30" fill="#9fc0da"/>
<rect x="305.28" y="97.30" fill="#c6d8e7"/>
<rect x="312.53" y="97.30" fill="#cfddea"/>
<rect x="319.77" y="97.30" fill="#c8d9e8"/>
<rect x="327.01" y="97.30" fill="#a8c6dd"/>
<rect x="334.25" y="97.30" fill="#a9c6de"/>
<rect x="341.49" y="97.30" fill="#c6d8e7"/>
<rect x="348.73" y="97.30" fill="#c7d9e8"/>
<rect x="355.98" y="97.30" fill="#cbdbe9"/>
<rect x="363.22" y="97.30" fill="#cbdbe9"/>
<rect x="370.46" y="97.30" fill="#b4cde1"/>
<rect x="377.70" y="97.30" fill="#eab394"/>
<rect x="384.94" y="97.30" fill="#f1cab2"/>
<rect x="392.18" y="97.30" fill="#e5a07c"/>
<rect x="399.43" y="97.30" fill="#da8162"/>
<rect x="406.67" y="97.30" fill="#ebb495"/>
<rect x="413.91" y="97.30" fill="#ebb495"/>
<rect x="421.15" y="97.30" fill="#d6e2ec"/>
<rect x="428.39" y="97.30" fill="#d0deeb"/>
<rect x="435.63" y="97.30" fill="#92b8d6"/>
<rect x="442.88" y="97.30" fill="#bcd2e4"/>
<rect x="450.12" y="97.30" fill="#f3cfb9"/>
<rect x="457.36" y="97.30" fill="#df8e6d"/>
<rect x="290.80" y="98.30" fill="#b4cde1"/>
<rect x="298.04" y="98.30" fill="#cfdeea"/>
<rect x="305.28" y="98.30" fill="#dce5ee"/>
<rect x="312.53" y="98.30" fill="#dbe5ee"/>
<rect x="319.77" y="98.30" fill="#d6e2ec"/>
<rect x="327.01" y="98.30" fill="#d8e3ed"/>
<rect x="334.25" y="98.30" fill="#aac7de"/>
<rect x="341.49" y="98.30" fill="#bad1e3"/>
<rect x="348.73" y="98.30" fill="#b4cde1"/>
<rect x="355.98" y="98.30" fill="#bbd2e4"/>
<rect x="363.22" y="98.30" fill="#e4eaf0"/>
<rect x="370.46" y="98.30" fill="#a2c2db"/>
<rect x="377.70" y="98.30" fill="#de8d6c"/>
<rect x="384.94" y="98.30" fill="#e9ae8e"/>
<rect x="392.18" y="98.30" fill="#d87d5f"/>
<rect x="399.43" y="98.30" fill="#d87e60"/>
<rect x="406.67" y="98.30" fill="#e6a27f"/>
<rect x="413.91" y="98.30" fill="#d36e52"/>
<rect x="421.15" y="98.30" fill="#d8e3ed"/>
<rect x="428.39" y="98.30" fill="#f4f5f5"/>
<rect x="435.63" y="98.30" fill="#dde6ee"/>
<rect x="442.88" y="98.30" fill="#d4e1ec"/>
<rect x="450.12" y="98.30" fill="#e8a987"/>
<rect x="457.36" y="98.30" fill="#eebea3"/>
<rect x="290.80" y="99.30" fill="#c0d4e5"/>
<rect x="298.04" y="99.30" fill="#b7cfe2"/>
<rect x="305.28" y="99.30" fill="#d9e4ed"/>
<rect x="312.53" y="99.30" fill="#b1cbe0"/>
<rect x="319.77" y="99.30" fill="#adc8df"/>
<rect x="327.01" y="99.30" fill="#a8c6dd"/>
<rect x="334.25" y="99.30" fill="#a7c5dd"/>
<rect x="341.49" y="99.30" fill="#9bbed9"/>
<rect x="348.73" y="99.30" fill="#a3c3dc"/>
<rect x="355.98" y="99.30" fill="#c5d8e7"/>
<rect x="363.22" y="99.30" fill="#b6cee2"/>
<rect x="370.46" y="99.30" fill="#b2cce1"/>
<rect x="377.70" y="99.30" fill="#e7a786"/>
<rect x="384.94" y="99.30" fill="#e39b78"/>
<rect x="392.18" y="99.30" fill="#e6a380"/>
<rect x="399.43" y="99.30" fill="#e5a17d"/>
<rect x="406.67" y="99.30" fill="#ebb698"/>
<rect x="413.91" y="99.30" fill="#eab192"/>
<rect x="421.15" y="99.30" fill="#a7c5dd"/>
<rect x="428.39" y="99.30" fill="#bfd4e5"/>
<rect x="435.63" y="99.30" fill="#a5c4dc"/>
<rect x="442.88" y="99.30" fill="#c7d9e8"/>
<rect x="450.12" y="99.30" fill="#ebb698"/>
<rect x="457.36" y="99.30" fill="#f3d3be"/>
<rect x="290.80" y="100.30" fill="#bdd3e4"/>
<rect x="298.04" y="100.30" fill="#b9d0e3"/>
<rect x="305.28" y="100.30" fill="#d6e2ec"/>
<rect x="312.53" y="100.30" fill="#bcd2e4"/>
<rect x="319.77" y="100.30" fill="#b0cae0"/>
<rect x="327.01" y="100.30" fill="#c6d8e7"/>
<rect x="334.25" y="100.30" fill="#afcae0"/>
<rect x="341.49" y="100.30" fill="#afcae0"/>
<rect x="348.73" y="100.30" fill="#c4d7e7"/>
<rect x="355.98" y="100.30" fill="#a4c3dc"/>
<rect x="363.22" y="100.30" fill="#86b1d2"/>
<rect x="370.46" y="100.30" fill="#c7d9e8"/>
<rect x="377.70" y="100.30" fill="#d98061"/>
<rect x="384.94" y="100.30" fill="#eab293"/>
<rect x="392.18" y="100.30" fill="#e7a684"/>
<rect x="399.43" y="100.30" fill="#dd8a69"/>
<rect x="406.67" y="100.30" fill="#ecb79a"/>
<rect x="413.91" y="100.30" fill="#e7a683"/>
<rect x="421.15" y="100.30" fill="#b2cce1"/>
<rect x="428.39" y="100.30" fill="#d3e0eb"/>
<rect x="435.63" y="100.30" fill="#96bbd7"/>
<rect x="442.88" y="100.30" fill="#f5f2f0"/>
<rect x="450.12" y="100.30" fill="#e59f7b"/>
<rect x="457.36" y="100.30" fill="#e9af90"/>
<rect x="290.80" y="101.30" fill="#b5cee2"/>
<rect x="298.04" y="101.30" fill="#95bad7"/>
<rect x="305.28" y="101.30" fill="#b8d0e3"/>
<rect x="312.53" y="101.30" fill="#a3c3dc"/>
<rect x="319.77" y="101.30" fill="#bbd1e4"/>
<rect x="327.01" y="101.30" fill="#acc8df"/>
<rect x="334.25" y="101.30" fill="#b5cee2"/>
<rect x="341.49" y="101.30" fill="#b7cfe2"/>
<rect x="348.73" y="101.30" fill="#c9dae8"/>
<rect x="355.98" y="101.30" fill="#c9dae8"/>
<rect x="363.22" y="101.30" fill="#a9c6de"/>
<rect x="370.46" y="101.30" fill="#bbd1e4"/>
<rect x="377.70" y="101.30" fill="#db8666"/>
<rect x="384.94" y="101.30" fill="#e39a77"/>
<rect x="392.18" y="101.30" fill="#e9af8f"/>
<rect x="399.43" y="101.30" fill="#e6a582"/>
<rect x="406.67" y="101.30" fill="#e7a887"/>
<rect x="413.91" y="101.30" fill="#df916f"/>
<rect x="421.15" y="101.30" fill="#cfdeea"/>
<rect x="428.39" y="101.30" fill="#d7e3ed"/>
<rect x="435.63" y="101.30" fill="#f4e8e1"/>
<rect x="442.88" y="101.30" fill="#b0cae0"/>
<rect x="450.12" y="101.30" fill="#efc4aa"/>
<rect x="457.36" y="101.30" fill="#f5ede8"/>
<rect x="290.80" y="102.30" fill="#a7c5dd"/>
<rect x="298.04" y="102.30" fill="#d2dfeb"/>
<rect x="305.28" y="102.30" fill="#c9dae8"/>
<rect x="312.53" y="102.30" fill="#dbe5ee"/>
<rect x="319.77" y="102.30" fill="#a1c1db"/>
<rect x="327.01" y="102.30" fill="#b4cde1"/>
<rect x="334.25" y="102.30" fill="#d8e3ed"/>
<rect x="341.49" y="102.30" fill="#d4e0ec"/>
<rect x="348.73" y="102.30" fill="#d2dfeb"/>
<rect x="355.98" y="102.30" fill="#d2dfeb"/>
<rect x="363.22" y="102.30" fill="#c5d7e7"/>
<rect x="370.46" y="102.30" fill="#c4d7e7"/>
<rect x="377.70" y="102.30" fill="#df916f"/>
<rect x="384.94" y="102.30" fill="#d98061"/>
<rect x="392.18" y="102.30" fill="#e19573"/>
<rect x="399.43" y="102.30" fill="#dd8b6a"/>
<rect x="406.67" y="102.30" fill="#d57457"/>
<rect x="413.91" y="102.30" fill="#e7a784"/>
<rect x="421.15" y="102.30" fill="#c6d8e7"/>
<rect x="428.39" y="102.30" fill="#e7edf1"/>
<rect x="435.63" y="102.30" fill="#d4e1ec"/>
<rect x="442.88" y="102.30" fill="#e2eaf0"/>
<rect x="450.12" y="102.30" fill="#c0443c"/>
<rect x="457.36" y="102.30" fill="#e8a988"/>
<rect x="290.80" y="103.30" fill="#d5e1ec"/>
<rect x="298.04" y="103.30" fill="#e6ecf1"/>
<rect x="305.28" y="103.30" fill="#f5f3f2"/>
<rect x="312.53" y="103.30" fill="#ccdce9"/>
<rect x="319.77" y="103.30" fill="#d2dfeb"/>
<rect x="327.01" y="103.30" fill="#dbe5ee"/>
<rect x="334.25" y="103.30" fill="#d2e0eb"/>
<rect x="341.49" y="103.30" fill="#f3f4f4"/>
<rect x="348.73" y="103.30" fill="#e0e8ef"/>
<rect x="355.98" y="103.30" fill="#d5e1ec"/>
<rect x="363.22" y="103.30" fill="#dfe8ef"/>
<rect x="370.46" y="103.30" fill="#d0deeb"/>
<rect x="377.70" y="103.30" fill="#cf654a"/>
<rect x="384.94" y="103.30" fill="#c75442"/>
<rect x="392.18" y="103.30" fill="#ae1e2d"/>
<rect x="399.43" y="103.30" fill="#db8666"/>
<rect x="406.67" y="103.30" fill="#c44d3f"/>
<rect x="413.91" y="103.30" fill="#b93736"/>
<rect x="421.15" y="103.30" fill="#f4dccd"/>
<rect x="428.39" y="103.30" fill="#eebda2"/>
<rect x="435.63" y="103.30" fill="#f4e2d7"/>
<rect x="442.88" y="103.30" fill="#f4ded0"/>
<rect x="450.12" y="103.30" fill="#ce6248"/>
<rect x="457.36" y="103.30" fill="#e5a17e"/>
<rect x="290.80" y="104.30" fill="#d9e4ed"/>
<rect x="298.04" y="104.30" fill="#acc8df"/>
<rect x="305.28" y="104.30" fill="#bfd4e5"/>
<rect x="312.53" y="104.30" fill="#b8d0e3"/>
<rect x="319.77" y="104.30" fill="#b4cde1"/>
<rect x="327.01" y="104.30" fill="#9abdd9"/>
<rect x="334.25" y="104.30" fill="#bbd1e4"/>
<rect x="341.49" y="104.30" fill="#c4d7e7"/>
<rect x="348.73" y="104.30" fill="#c4d7e7"/>
<rect x="355.98" y="104.30" fill="#d0deeb"/>
<rect x="363.22" y="104.30" fill="#bfd4e5"/>
<rect x="370.46" y="104.30" fill="#b6cee2"/>
<rect x="377.70" y="104.30" fill="#df906f"/>
<rect x="384.94" y="104.30" fill="#dc8968"/>
<rect x="392.18" y="104.30" fill="#e7a785"/>
<rect x="399.43" y="104.30" fill="#eab191"/>
<rect x="406.67" y="104.30" fill="#e8a987"/>
<rect x="413.91" y="104.30" fill="#d98162"/>
<rect x="421.15" y="104.30" fill="#eff1f3"/>
<rect x="428.39" y="104.30" fill="#bcd2e4"/>
<rect x="435.63" y="104.30" fill="#dae4ed"/>
<rect x="442.88" y="104.30" fill="#e29875"/>
<rect x="450.12" y="104.30" fill="#d16a4e"/>
<rect x="457.36" y="104.30" fill="#f2ccb5"/>
<rect x="290.80" y="105.30" fill="#c5d8e7"/>
<rect x="298.04" y="105.30" fill="#dce5ee"/>
<rect x="305.28" y="105.30" fill="#e7edf1"/>
<rect x="312.53" y="105.30" fill="#dde6ee"/>
<rect x="319.77" y="105.30" fill="#b5cee2"/>
<rect x="327.01" y="105.30" fill="#d0dfeb"/>
<rect x="334.25" y="105.30" fill="#c4d7e7"/>
<rect x="341.49" y="105.30" fill="#c9dae8"/>
<rect x="348.73" y="105.30" fill="#bed3e5"/>
<rect x="355.98" y="105.30" fill="#c1d5e6"/>
<rect x="363.22" y="105.30" fill="#cadae9"/>
<rect x="370.46" y="105.30" fill="#e0e8ef"/>
<rect x="377.70" y="105.30" fill="#d6775a"/>
<rect x="384.94" y="105.30" fill="#d87d5f"/>
<rect x="392.18" y="105.30" fill="#db8566"/>
<rect x="399.43" y="105.30" fill="#e19573"/>
<rect x="406.67" y="105.30" fill="#dd8a6a"/>
<rect x="413.91" y="105.30" fill="#d26c51"/>
<rect x="421.15" y="105.30" fill="#f5f5f5"/>
<rect x="428.39" y="105.30" fill="#f4dccd"/>
<rect x="435.63" y="105.30" fill="#e8edf1"/>
<rect x="442.88" y="105.30" fill="#e7a583"/>
<rect x="450.12" y="105.30" fill="#cd6047"/>
<rect x="457.36" y="105.30" fill="#e5a17d"/>
<rect x="290.80" y="106.30" fill="#97bbd8"/>
<rect x="298.04" y="106.30" fill="#d0deeb"/>
<rect x="305.28" y="106.30" fill="#abc7de"/>
<rect x="312.53" y="106.30" fill="#b6cee2"/>
<rect x="319.77" y="106.30" fill="#9ebfda"/>
<rect x="327.01" y="106.30" fill="#adc9df"/>
<rect x="334.25" y="106.30" fill="#a6c4dd"/>
<rect x="341.49" y="106.30" fill="#cbdbe9"/>
<rect x="348.73" y="106.30" fill="#bbd1e4"/>
<rect x="355.98" y="106.30" fill="#a1c1db"/>
<rect x="363.22" y="106.30" fill="#94b9d7"/>
<rect x="370.46" y="106.30" fill="#b5cee2"/>
<rect x="377.70" y="106.30" fill="#eab394"/>
<rect x="384.94" y="106.30" fill="#edbca1"/>
<rect x="392.18" y="106.30" fill="#e5a27e"/>
<rect x="399.43" y="106.30" fill="#e9ae8e"/>
<rect x="406.67" y="106.30" fill="#e8a988"/>
<rect x="413.91" y="106.30" fill="#ebb496"/>
<rect x="421.15" y="106.30" fill="#b1cbe0"/>
<rect x="428.39" y="106.30" fill="#b5cde2"/>
<rect x="435.63" y="106.30" fill="#8ab3d3"/>
<rect x="442.88" y="106.30" fill="#eab293"/>
<rect x="450.12" y="106.30" fill="#ba3837"/>
<rect x="457.36" y="106.30" fill="#f5f2f1"/>
<rect x="290.80" y="107.30" fill="#c1d5e6"/>
<rect x="298.04" y="107.30" fill="#d2e0eb"/>
<rect x="305.28" y="107.30" fill="#c4d7e7"/>
<rect x="312.53" y="107.30" fill="#d4e1ec"/>
<rect x="319.77" y="107.30" fill="#bbd1e4"/>
<rect x="327.01" y="107.30" fill="#c0d4e5"/>
<rect x="334.25" y="107.30" fill="#a8c6dd"/>
<rect x="341.49" y="107.30" fill="#afcae0"/>
<rect x="348.73" y="107.30" fill="#9fc0da"/>
<rect x="355.98" y="107.30" fill="#afcae0"/>
<rect x="363.22" y="107.30" fill="#c4d7e7"/>
<rect x="370.46" y="107.30" fill="#c9dae8"/>
<rect x="377.70" y="107.30" fill="#da8364"/>
<rect x="384.94" y="107.30" fill="#e29875"/>
<rect x="392.18" y="107.30" fill="#e8ac8b"/>
<rect x="399.43" y="107.30" fill="#e09270"/>
<rect x="406.67" y="107.30" fill="#e49e7a"/>
<rect x="413.91" y="107.30" fill="#d67659"/>
<rect x="421.15" y="107.30" fill="#f4e8e1"/>
<rect x="428.39" y="107.30" fill="#ebeff2"/>
<rect x="435.63" y="107.30" fill="#afcae0"/>
<rect x="442.88" y="107.30" fill="#f0c4ab"/>
<rect x="450.12" y="107.30" fill="#e29876"/>
<rect x="457.36" y="107.30" fill="#f3d1bb"/>
<rect x="290.80" y="108.30" fill="#d0deeb"/>
<rect x="298.04" y="108.30" fill="#d2e0eb"/>
<rect x="305.28" y="108.30" fill="#d4e1ec"/>
<rect x="312.53" y="108.30" fill="#ccdce9"/>
<rect x="319.77" y="108.30" fill="#b8d0e3"/>
<rect x="327.01" y="108.30" fill="#b9d0e3"/>
<rect x="334.25" y="108.30" fill="#c6d8e7"/>
<rect x="341.49" y="108.30" fill="#dae4ed"/>
<rect x="348.73" y="108.30" fill="#dde6ee"/>
<rect x="355.98" y="108.30" fill="#d6e2ec"/>
<rect x="363.22" y="108.30" fill="#ceddea"/>
<rect x="370.46" y="108.30" fill="#d2dfeb"/>
<rect x="377.70" y="108.30" fill="#d6785b"/>
<rect x="384.94" y="108.30" fill="#d36f53"/>
<rect x="392.18" y="108.30" fill="#d6785a"/>
<rect x="399.43" y="108.30" fill="#e7a784"/>
<rect x="406.67" y="108.30" fill="#d57658"/>
<rect x="413.91" y="108.30" fill="#da8162"/>
<rect x="421.15" y="108.30" fill="#d5e1ec"/>
<rect x="428.39" y="108.30" fill="#eceff2"/>
<rect x="435.63" y="108.30" fill="#e6ecf1"/>
<rect x="442.88" y="108.30" fill="#e8a988"/>
<rect x="450.12" y="108.30" fill="#efc2a8"/>
<rect x="457.36" y="108.30" fill="#e8ab8b"/>
<rect x="290.80" y="109.30" fill="#cbdbe9"/>
<rect x="298.04" y="109.30" fill="#c0d5e5"/>
<rect x="305.28" y="109.30" fill="#a5c4dc"/>
<rect x="312.53" y="109.30" fill="#cadae9"/>
<rect x="319.77" y="109.30" fill="#ceddea"/>
<rect x="327.01" y="109.30" fill="#c5d7e7"/>
<rect x="334.25" y="109.30" fill="#c9dae8"/>
<rect x="341.49" y="109.30" fill="#bbd1e4"/>
<rect x="348.73" y="109.30" fill="#b5cee2"/>
<rect x="355.98" y="109.30" fill="#cbdbe9"/>
<rect x="363.22" y="109.30" fill="#bbd1e4"/>
<rect x="370.46" y="109.30" fill="#c5d7e7"/>
<rect x="377.70" y="109.30" fill="#c75342"/>
<rect x="384.94" y="109.30" fill="#dc8968"/>
<rect x="392.18" y="109.30" fill="#e19472"/>
<rect x="399.43" y="109.30" fill="#eab394"/>
<rect x="406.67" y="109.30" fill="#e19573"/>
<rect x="413.91" y="109.30" fill="#dc8868"/>
<rect x="421.15" y="109.30" fill="#c2d6e6"/>
<rect x="428.39" y="109.30" fill="#d1dfeb"/>
<rect x="435.63" y="109.30" fill="#88b2d3"/>
<rect x="442.88" y="109.30" fill="#e6a27f"/>
<rect x="450.12" y="109.30" fill="#e9ae8e"/>
<rect x="457.36" y="109.30" fill="#e7a684"/>
<rect x="290.80" y="110.30" fill="#d8e3ed"/>
<rect x="298.04" y="110.30" fill="#c3d6e6"/>
<rect x="305.28" y="110.30" fill="#d4e1ec"/>
<rect x="312.53" y="110.30" fill="#cadbe9"/>
<rect x="319.77" y="110.30" fill="#c2d5e6"/>
<rect x="327.01" y="110.30" fill="#c0d5e5"/>
<rect x="334.25" y="110.30" fill="#b6cee2"/>
<rect x="341.49" y="110.30" fill="#d7e3ed"/>
<rect x="348.73" y="110.30" fill="#d3e0eb"/>
<rect x="355.98" y="110.30" fill="#b3cde1"/>
<rect x="363.22" y="110.30" fill="#d2e0eb"/>
<rect x="370.46" y="110.30" fill="#b8d0e3"/>
<rect x="377.70" y="110.30" fill="#e8aa89"/>
<rect x="384.94" y="110.30" fill="#d57659"/>
<rect x="392.18" y="110.30" fill="#e7a785"/>
<rect x="399.43" y="110.30" fill="#d67659"/>
<rect x="406.67" y="110.30" fill="#dd8a6a"/>
<rect x="413.91" y="110.30" fill="#d87c5e"/>
<rect x="421.15" y="110.30" fill="#e8edf1"/>
<rect x="428.39" y="110.30" fill="#f5f3f2"/>
<rect x="435.63" y="110.30" fill="#e4ebf0"/>
<rect x="442.88" y="110.30" fill="#e39a77"/>
<rect x="450.12" y="110.30" fill="#dd8a6a"/>
<rect x="457.36" y="110.30" fill="#df906e"/>
<rect x="290.80" y="111.30" fill="#bcd2e4"/>
<rect x="298.04" y="111.30" fill="#d3e0eb"/>
<rect x="305.28" y="111.30" fill="#d8e3ed"/>
<rect x="312.53" y="111.30" fill="#c2d6e6"/>
<rect x="319.77" y="111.30" fill="#cbdbe9"/>
<rect x="327.01" y="111.30" fill="#bad1e3"/>
<rect x="334.25" y="111.30" fill="#bed3e5"/>
<rect x="341.49" y="111.30" fill="#c8d9e8"/>
<rect x="348.73" y="111.30" fill="#bdd2e4"/>
<rect x="355.98" y="111.30" fill="#b3cce1"/>
<rect x="363.22" y="111.30" fill="#c3d6e6"/>
<rect x="370.46" y="111.30" fill="#c7d8e8"/>
<rect x="377.70" y="111.30" fill="#de8d6c"/>
<rect x="384.94" y="111.30" fill="#db8565"/>
<rect x="392.18" y="111.30" fill="#eab294"/>
<rect x="399.43" y="111.30" fill="#d67759"/>
<rect x="406.67" y="111.30" fill="#e29774"/>
<rect x="413.91" y="111.30" fill="#e6a37f"/>
<rect x="421.15" y="111.30" fill="#d0deeb"/>
<rect x="428.39" y="111.30" fill="#e3eaf0"/>
<rect x="435.63" y="111.30" fill="#edf0f3"/>
<rect x="442.88" y="111.30" fill="#edba9e"/>
<rect x="450.12" y="111.30" fill="#e09270"/>
<rect x="457.36" y="111.30" fill="#f4e0d3"/>
<rect x="290.80" y="112.30" fill="#bcd2e4"/>
<rect x="298.04" y="112.30" fill="#b7cfe2"/>
<rect x="305.28" y="112.30" fill="#b1cbe0"/>
<rect x="312.53" y="112.30" fill="#c9dae8"/>
<rect x="319.77" y="112.30" fill="#d5e2ec"/>
<rect x="327.01" y="112.30" fill="#ccdce9"/>
<rect x="334.25" y="112.30" fill="#abc7de"/>
<rect x="341.49" y="112.30" fill="#d2e0eb"/>
<rect x="348.73" y="112.30" fill="#b3cce1"/>
<rect x="355.98" y="112.30" fill="#b8d0e3"/>
<rect x="363.22" y="112.30" fill="#afcae0"/>
<rect x="370.46" y="112.30" fill="#c1d5e6"/>
<rect x="377.70" y="112.30" fill="#e49d79"/>
<rect x="384.94" y="112.30" fill="#e6a481"/>
<rect x="392.18" y="112.30" fill="#e8aa88"/>
<rect x="399.43" y="112.30" fill="#e7a987"/>
<rect x="406.67" y="112.30" fill="#e9ad8c"/>
<rect x="413.91" y="112.30" fill="#e19472"/>
<rect x="421.15" y="112.30" fill="#b8d0e3"/>
<rect x="428.39" y="112.30" fill="#c6d8e7"/>
<rect x="435.63" y="112.30" fill="#c4d7e7"/>
<rect x="442.88" y="112.30" fill="#f3d4c0"/>
<rect x="450.12" y="112.30" fill="#eab091"/>
<rect x="457.36" y="112.30" fill="#f4e9e2"/>
<rect x="290.80" y="113.30" fill="#ceddea"/>
<rect x="298.04" y="113.30" fill="#d0deeb"/>
<rect x="305.28" y="113.30" fill="#c2d5e6"/>
<rect x="312.53" y="113.30" fill="#dce5ee"/>
<rect x="319.77" y="113.30" fill="#b9d0e3"/>
<rect x="327.01" y="113.30" fill="#d0deeb"/>
<rect x="334.25" y="113.30" fill="#cfdeea"/>
<rect x="341.49" y="113.30" fill="#bed3e5"/>
<rect x="348.73" y="113.30" fill="#c3d6e6"/>
<rect x="355.98" y="113.30" fill="#d4e1ec"/>
<rect x="363.22" y="113.30" fill="#c8d9e8"/>
<rect x="370.46" y="113.30" fill="#ccdce9"/>
<rect x="377.70" y="113.30" fill="#d36e52"/>
<rect x="384.94" y="113.30" fill="#dc8767"/>
<rect x="392.18" y="113.30" fill="#e8aa89"/>
<rect x="399.43" y="113.30" fill="#e39a77"/>
<rect x="406.67" y="113.30" fill="#d77a5c"/>
<rect x="413.91" y="113.30" fill="#de8e6d"/>
<rect x="421.15" y="113.30" fill="#c1d5e6"/>
<rect x="428.39" y="113.30" fill="#a0c1db"/>
<rect x="435.63" y="113.30" fill="#e6ecf1"/>
<rect x="442.88" y="113.30" fill="#d57457"/>
<rect x="450.12" y="113.30" fill="#ecb79a"/>
<rect x="457.36" y="113.30" fill="#f4e7df"/>
<rect x="290.80" y="114.30" fill="#c4d7e7"/>
<rect x="298.04" y="114.30" fill="#b1cbe0"/>
<rect x="305.28" y="114.30" fill="#b6cee2"/>
<rect x="312.53" y="114.30" fill="#b5cee2"/>
<rect x="319.77" y="114.30" fill="#abc7de"/>
<rect x="327.01" y="114.30" fill="#c3d6e6"/>
<rect x="334.25" y="114.30" fill="#cbdbe9"/>
<rect x="341.49" y="114.30" fill="#c1d5e6"/>
<rect x="348.73" y="114.30" fill="#b1cbe0"/>
<rect x="355.98" y="114.30" fill="#cdddea"/>
<rect x="363.22" y="114.30" fill="#b9d0e3"/>
<rect x="370.46" y="114.30" fill="#c5d8e7"/>
<rect x="377.70" y="114.30" fill="#eab293"/>
<rect x="384.94" y="114.30" fill="#e29775"/>
<rect x="392.18" y="114.30" fill="#e19573"/>
<rect x="399.43" y="114.30" fill="#dd8a6a"/>
<rect x="406.67" y="114.30" fill="#e6a380"/>
<rect x="413.91" y="114.30" fill="#e39b78"/>
<rect x="421.15" y="114.30" fill="#bad1e3"/>
<rect x="428.39" y="114.30" fill="#e3eaf0"/>
<rect x="435.63" y="114.30" fill="#e0e8ef"/>
<rect x="442.88" y="114.30" fill="#e49d7a"/>
<rect x="450.12" y="114.30" fill="#eab293"/>
<rect x="457.36" y="114.30" fill="#f4e1d6"/>
<rect x="290.80" y="115.30" fill="#d0dfeb"/>
<rect x="298.04" y="115.30" fill="#cfdeea"/>
<rect x="305.28" y="115.30" fill="#c6d8e7"/>
<rect x="312.53" y="115.30" fill="#d8e3ed"/>
<rect x="319.77" y="115.30" fill="#dce6ee"/>
<rect x="327.01" y="115.30" fill="#d6e2ec"/>
<rect x="334.25" y="115.30" fill="#dee7ef"/>
<rect x="341.49" y="115.30" fill="#d6e2ec"/>
<rect x="348.73" y="115.30" fill="#c2d5e6"/>
<rect x="355.98" y="115.30" fill="#c9dae8"/>
<rect x="363.22" y="115.30" fill="#cddcea"/>
<rect x="370.46" y="115.30" fill="#d9e4ed"/>
<rect x="377.70" y="115.30" fill="#cd6047"/>
<rect x="384.94" y="115.30" fill="#d37054"/>
<rect x="392.18" y="115.30" fill="#cc5e46"/>
<rect x="399.43" y="115.30" fill="#da8364"/>
<rect x="406.67" y="115.30" fill="#d57558"/>
<rect x="413.91" y="115.30" fill="#c75242"/>
<rect x="421.15" y="115.30" fill="#f5f2f1"/>
<rect x="428.39" y="115.30" fill="#f4e5dc"/>
<rect x="435.63" y="115.30" fill="#bcd2e4"/>
<rect x="442.88" y="115.30" fill="#f0c5ac"/>
<rect x="450.12" y="115.30" fill="#e29774"/>
<rect x="457.36" y="115.30" fill="#d6775a"/>
<rect x="290.80" y="116.30" fill="#d6e2ec"/>
<rect x="298.04" y="116.30" fill="#b3cce1"/>
<rect x="305.28" y="116.30" fill="#acc8df"/>
<rect x="312.53" y="116.30" fill="#acc8df"/>
<rect x="319.77" y="116.30" fill="#aec9df"/>
<rect x="327.01" y="116.30" fill="#c7d9e8"/>
<rect x="334.25" y="116.30" fill="#b8cfe3"/>
<rect x="341.49" y="116.30" fill="#d9e4ed"/>
<rect x="348.73" y="116.30" fill="#cadbe9"/>
<rect x="355.98" y="116.30" fill="#b2cbe1"/>
<rect x="363.22" y="116.30" fill="#c2d5e6"/>
<rect x="370.46" y="116.30" fill="#bbd1e4"/>
<rect x="377.70" y="116.30" fill="#df8f6e"/>
<rect x="384.94" y="116.30" fill="#de8c6c"/>
<rect x="392.18" y="116.30" fill="#e6a482"/>
<rect x="399.43" y="116.30" fill="#de8d6c"/>
<rect x="406.67" y="116.30" fill="#e09371"/>
<rect x="413.91" y="116.30" fill="#e5a07c"/>
<rect x="421.15" y="116.30" fill="#d8e3ed"/>
<rect x="428.39" y="116.30" fill="#e2e9f0"/>
<rect x="435.63" y="116.30" fill="#c9dae8"/>
<rect x="442.88" y="116.30" fill="#f2cbb4"/>
<rect x="450.12" y="116.30" fill="#d57558"/>
<rect x="457.36" y="116.30" fill="#eebfa4"/>
<rect x="290.80" y="117.30" fill="#bed3e5"/>
<rect x="298.04" y="117.30" fill="#d0deea"/>
<rect x="305.28" y="117.30" fill="#aec9df"/>
<rect x="312.53" y="117.30" fill="#c9dae8"/>
<rect x="319.77" y="117.30" fill="#b0cbe0"/>
<rect x="327.01" y="117.30" fill="#c1d5e6"/>
<rect x="334.25" y="117.30" fill="#a9c6de"/>
<rect x="341.49" y="117.30" fill="#bcd2e4"/>
<rect x="348.73" y="117.30" fill="#d5e1ec"/>
<rect x="355.98" y="117.30" fill="#c5d8e7"/>
<rect x="363.22" y="117.30" fill="#b3cce1"/>
<rect x="370.46" y="117.30" fill="#dee7ef"/>
<rect x="377.70" y="117.30" fill="#e19573"/>
<rect x="384.94" y="117.30" fill="#d16b4f"/>
<rect x="392.18" y="117.30" fill="#e09371"/>
<rect x="399.43" y="117.30" fill="#e6a582"/>
<rect x="406.67" y="117.30" fill="#cf6449"/>
<rect x="413.91" y="117.30" fill="#e09170"/>
<rect x="421.15" y="117.30" fill="#f1f3f4"/>
<rect x="428.39" y="117.30" fill="#f5efec"/>
<rect x="435.63" y="117.30" fill="#bbd1e4"/>
<rect x="442.88" y="117.30" fill="#e6a582"/>
<rect x="450.12" y="117.30" fill="#e5a27e"/>
<rect x="457.36" y="117.30" fill="#e49c79"/>
<rect x="290.80" y="118.30" fill="#c2d6e6"/>
<rect x="298.04" y="118.30" fill="#acc8df"/>
<rect x="305.28" y="118.30" fill="#c3d6e6"/>
<rect x="312.53" y="118.30" fill="#cfdeea"/>
<rect x="319.77" y="118.30" fill="#bdd3e4"/>
<rect x="327.01" y="118.30" fill="#ccdce9"/>
<rect x="334.25" y="118.30" fill="#b9d0e3"/>
<rect x="341.49" y="118.30" fill="#c1d5e6"/>
<rect x="348.73" y="118.30" fill="#c8dae8"/>
<rect x="355.98" y="118.30" fill="#c5d7e7"/>
<rect x="363.22" y="118.30" fill="#d5e1ec"/>
<rect x="370.46" y="118.30" fill="#d1dfeb"/>
<rect x="377.70" y="118.30" fill="#db8465"/>
<rect x="384.94" y="118.30" fill="#dc8767"/>
<rect x="392.18" y="118.30" fill="#e09270"/>
<rect x="399.43" y="118.30" fill="#e8aa89"/>
<rect x="406.67" y="118.30" fill="#d98061"/>
<rect x="413.91" y="118.30" fill="#d47256"/>
<rect x="421.15" y="118.30" fill="#dde6ee"/>
<rect x="428.39" y="118.30" fill="#d2e0eb"/>
<rect x="435.63" y="118.30" fill="#d7e3ed"/>
<rect x="442.88" y="118.30" fill="#dd8a69"/>
<rect x="450.12" y="118.30" fill="#df8f6e"/>
<rect x="457.36" y="118.30" fill="#f3d3be"/>
<rect x="290.80" y="119.30" fill="#c8d9e8"/>
<rect x="298.04" y="119.30" fill="#bdd3e4"/>
<rect x="305.28" y="119.30" fill="#c7d9e8"/>
<rect x="312.53" y="119.30" fill="#bbd1e4"/>
<rect x="319.77" y="119.30" fill="#bbd2e4"/>
<rect x="327.01" y="119.30" fill="#dde6ee"/>
<rect x="334.25" y="119.30" fill="#d8e3ed"/>
<rect x="341.49" y="119.30" fill="#afcae0"/>
<rect x="348.73" y="119.30" fill="#bad0e3"/>
<rect x="355.98" y="119.30" fill="#c3d6e6"/>
<rect x="363.22" y="119.30" fill="#c4d7e7"/>
<rect x="370.46" y="119.30" fill="#b3cce1"/>
<rect x="377.70" y="119.30" fill="#d47255"/>
<rect x="384.94" y="119.30" fill="#e6a380"/>
<rect x="392.18" y="119.30" fill="#d57659"/>
<rect x="399.43" y="119.30" fill="#d57659"/>
<rect x="406.67" y="119.30" fill="#dd8b6a"/>
<rect x="413.91" y="119.30" fill="#df916f"/>
<rect x="421.15" y="119.30" fill="#e4ebf0"/>
<rect x="428.39" y="119.30" fill="#e6ecf1"/>
<rect x="435.63" y="119.30" fill="#a5c4dc"/>
<rect x="442.88" y="119.30" fill="#f0c6ad"/>
<rect x="450.12" y="119.30" fill="#d57558"/>
<rect x="457.36" y="119.30" fill="#e9ad8d"/>
<rect x="290.80" y="120.30" fill="#b6cee2"/>
<rect x="298.04" y="120.30" fill="#abc8de"/>
<rect x="305.28" y="120.30" fill="#b0cbe0"/>
<rect x="312.53" y="120.30" fill="#afcae0"/>
<rect x="319.77" y="120.30" fill="#e3eaf0"/>
<rect x="327.01" y="120.30" fill="#a7c5dd"/>
<rect x="334.25" y="120.30" fill="#d4e1ec"/>
<rect x="341.49" y="120.30" fill="#c5d8e7"/>
<rect x="348.73" y="120.30" fill="#c1d5e6"/>
<rect x="355.98" y="120.30" fill="#c0d5e5"/>
<rect x="363.22" y="120.30" fill="#b6cee2"/>
<rect x="370.46" y="120.30" fill="#d5e1ec"/>
<rect x="377.70" y="120.30" fill="#e19674"/>
<rect x="384.94" y="120.30" fill="#e5a17d"/>
<rect x="392.18" y="120.30" fill="#e6a27f"/>
<rect x="399.43" y="120.30" fill="#e49c79"/>
<rect x="406.67" y="120.30" fill="#eab293"/>
<rect x="413.91" y="120.30" fill="#e7a583"/>
<rect x="421.15" y="120.30" fill="#bdd2e4"/>
<rect x="428.39" y="120.30" fill="#dfe8ef"/>
<rect x="435.63" y="120.30" fill="#dfe7ef"/>
<rect x="442.88" y="120.30" fill="#f4e7df"/>
<rect x="450.12" y="120.30" fill="#e8aa89"/>
<rect x="457.36" y="120.30" fill="#e6a582"/>
<rect x="290.80" y="121.30" fill="#b5cde2"/>
<rect x="298.04" y="121.30" fill="#b6cfe2"/>
<rect x="305.28" y="121.30" fill="#d8e3ed"/>
<rect x="312.53" y="121.30" fill="#c9dae8"/>
<rect x="319.77" y="121.30" fill="#c3d6e6"/>
<rect x="327.01" y="121.30" fill="#b6cee2"/>
<rect x="334.25" y="121.30" fill="#ceddea"/>
<rect x="341.49" y="121.30" fill="#c1d5e6"/>
<rect x="348.73" y="121.30" fill="#cfddea"/>
<rect x="355.98" y="121.30" fill="#d1dfeb"/>
<rect x="363.22" y="121.30" fill="#d4e1ec"/>
<rect x="370.46" y="121.30" fill="#c6d8e7"/>
<rect x="377.70" y="121.30" fill="#de8d6c"/>
<rect x="384.94" y="121.30" fill="#da8263"/>
<rect x="392.18" y="121.30" fill="#db8565"/>
<rect x="399.43" y="121.30" fill="#d97f61"/>
<rect x="406.67" y="121.30" fill="#de8d6c"/>
<rect x="413.91" y="121.30" fill="#dc8767"/>
<rect x="421.15" y="121.30" fill="#d6e2ec"/>
<rect x="428.39" y="121.30" fill="#d6e2ec"/>
<rect x="435.63" y="121.30" fill="#e7edf1"/>
<rect x="442.88" y="121.30" fill="#d7795b"/>
<rect x="450.12" y="121.30" fill="#e39b78"/>
<rect x="457.36" y="121.30" fill="#e29775"/>
<rect x="290.80" y="122.30" fill="#c7d9e8"/>
<rect x="298.04" y="122.30" fill="#c3d6e6"/>
<rect x="305.28" y="122.30" fill="#cddcea"/>
<rect x="312.53" y="122.30" fill="#b7cfe2"/>
<rect x="319.77" y="122.30" fill="#cbdbe9"/>
<rect x="327.01" y="122.30" fill="#c6d8e7"/>
<rect x="334.25" y="122.30" fill="#80add0"/>
<rect x="341.49" y="122.30" fill="#c7d9e8"/>
<rect x="348.73" y="122.30" fill="#ccdce9"/>
<rect x="355.98" y="122.30" fill="#dce6ee"/>
<rect x="363.22" y="122.30" fill="#afcae0"/>
<rect x="370.46" y="122.30" fill="#c3d6e6"/>
<rect x="377.70" y="122.30" fill="#df916f"/>
<rect x="384.94" y="122.30" fill="#e7a887"/>
<rect x="392.18" y="122.30" fill="#d98061"/>
<rect x="399.43" y="122.30" fill="#df8f6d"/>
<rect x="406.67" y="122.30" fill="#e7a683"/>
<rect x="413.91" y="122.30" fill="#e8ac8b"/>
<rect x="421.15" y="122.30" fill="#ccdce9"/>
<rect x="428.39" y="122.30" fill="#f4ded1"/>
<rect x="435.63" y="122.30" fill="#f4e3d8"/>
<rect x="442.88" y="122.30" fill="#f5efeb"/>
<rect x="450.12" y="122.30" fill="#f3d0ba"/>
<rect x="457.36" y="122.30" fill="#e7a785"/>
<rect x="290.80" y="123.30" fill="#ccdce9"/>
<rect x="298.04" y="123.30" fill="#c2d6e6"/>
<rect x="305.28" y="123.30" fill="#d5e1ec"/>
<rect x="312.53" y="123.30" fill="#cfdeea"/>
<rect x="319.77" y="123.30" fill="#d1dfeb"/>
<rect x="327.01" y="123.30" fill="#d1dfeb"/>
<rect x="334.25" y="123.30" fill="#bad1e3"/>
<rect x="341.49" y="123.30" fill="#dde6ee"/>
<rect x="348.73" y="123.30" fill="#c6d8e7"/>
<rect x="355.98" y="123.30" fill="#dbe5ee"/>
<rect x="363.22" y="123.30" fill="#d6e2ec"/>
<rect x="370.46" y="123.30" fill="#ceddea"/>
<rect x="377.70" y="123.30" fill="#d77b5d"/>
<rect x="384.94" y="123.30" fill="#d97f60"/>
<rect x="392.18" y="123.30" fill="#e6a27f"/>
<rect x="399.43" y="123.30" fill="#db8465"/>
<rect x="406.67" y="123.30" fill="#d57558"/>
<rect x="413.91" y="123.30" fill="#e49e7a"/>
<rect x="421.15" y="123.30" fill="#c0d4e5"/>
<rect x="428.39" y="123.30" fill="#f4ebe5"/>
<rect x="435.63" y="123.30" fill="#f5f1ef"/>
<rect x="442.88" y="123.30" fill="#f1cab2"/>
<rect x="450.12" y="123.30" fill="#d47255"/>
<rect x="457.36" y="123.30" fill="#e7a785"/>
<rect x="290.80" y="124.30" fill="#d5e1ec"/>
<rect x="298.04" y="124.30" fill="#c2d6e6"/>
<rect x="305.28" y="124.30" fill="#c4d7e7"/>
<rect x="312.53" y="124.30" fill="#bbd1e4"/>
<rect x="319.77" y="124.30" fill="#cbdbe9"/>
<rect x="327.01" y="124.30" fill="#c6d8e7"/>
<rect x="334.25" y="124.30" fill="#bcd2e4"/>
<rect x="341.49" y="124.30" fill="#c2d5e6"/>
<rect x="348.73" y="124.30" fill="#bbd1e4"/>
<rect x="355.98" y="124.30" fill="#d1dfeb"/>
<rect x="363.22" y="124.30" fill="#b6cee2"/>
<rect x="370.46" y="124.30" fill="#acc8df"/>
<rect x="377.70" y="124.30" fill="#e49d7a"/>
<rect x="384.94" y="124.30" fill="#d57457"/>
<rect x="392.18" y="124.30" fill="#e19472"/>
<rect x="399.43" y="124.30" fill="#d87d5e"/>
<rect x="406.67" y="124.30" fill="#d77b5d"/>
<rect x="413.91" y="124.30" fill="#e19472"/>
<rect x="421.15" y="124.30" fill="#f1f2f4"/>
<rect x="428.39" y="124.30" fill="#ebeff2"/>
<rect x="435.63" y="124.30" fill="#dee7ef"/>
<rect x="442.88" y="124.30" fill="#edbca0"/>
<rect x="450.12" y="124.30" fill="#df906f"/>
<rect x="457.36" y="124.30" fill="#f3d3be"/>
<rect x="290.80" y="125.30" fill="#bfd4e5"/>
<rect x="298.04" y="125.30" fill="#b9d0e3"/>
<rect x="305.28" y="125.30" fill="#cbdbe9"/>
<rect x="312.53" y="125.30" fill="#cadae9"/>
<rect x="319.77" y="125.30" fill="#b8d0e3"/>
<rect x="327.01" y="125.30" fill="#d1dfeb"/>
<rect x="334.25" y="125.30" fill="#d5e1ec"/>
<rect x="341.49" y="125.30" fill="#c5d7e7"/>
<rect x="348.73" y="125.30" fill="#b6cee2"/>
<rect x="355.98" y="125.30" fill="#ccdce9"/>
<rect x="363.22" y="125.30" fill="#98bcd8"/>
<rect x="370.46" y="125.30" fill="#b9d0e3"/>
<rect x="377.70" y="125.30" fill="#dc8767"/>
<rect x="384.94" y="125.30" fill="#d16a4f"/>
<rect x="392.18" y="125.30" fill="#e5a17e"/>
<rect x="399.43" y="125.30" fill="#d57457"/>
<rect x="406.67" y="125.30" fill="#cf644a"/>
<rect x="413.91" y="125.30" fill="#d26d51"/>
<rect x="421.15" y="125.30" fill="#8bb4d4"/>
<rect x="428.39" y="125.30" fill="#f3f4f4"/>
<rect x="435.63" y="125.30" fill="#dee7ef"/>
<rect x="442.88" y="125.30" fill="#de8e6d"/>
<rect x="450.12" y="125.30" fill="#e49e7a"/>
<rect x="457.36" y="125.30" fill="#f0c7af"/>
<rect x="290.80" y="126.30" fill="#b7cfe2"/>
<rect x="298.04" y="126.30" fill="#d3e0eb"/>
<rect x="305.28" y="126.30" fill="#cadbe9"/>
<rect x="312.53" y="126.30" fill="#b6cee2"/>
<rect x="319.77" y="126.30" fill="#c2d6e6"/>
<rect x="327.01" y="126.30" fill="#cbdbe9"/>
<rect x="334.25" y="126.30" fill="#c5d8e7"/>
<rect x="341.49" y="126.30" fill="#bad1e3"/>
<rect x="348.73" y="126.30" fill="#b0cae0"/>
<rect x="355.98" y="126.30" fill="#aec9df"/>
<rect x="363.22" y="126.30" fill="#b3cde1"/>
<rect x="370.46" y="126.30" fill="#b1cbe0"/>
<rect x="377.70" y="126.30" fill="#edbca0"/>
<rect x="384.94" y="126.30" fill="#ecb99c"/>
<rect x="392.18" y="126.30" fill="#e09270"/>
<rect x="399.43" y="126.30" fill="#ebb496"/>
<rect x="406.67" y="126.30" fill="#ecb79a"/>
<rect x="413.91" y="126.30" fill="#e6a481"/>
<rect x="421.15" y="126.30" fill="#f0f2f4"/>
<rect x="428.39" y="126.30" fill="#eceff2"/>
<rect x="435.63" y="126.30" fill="#c1d5e6"/>
<rect x="442.88" y="126.30" fill="#f3d7c6"/>
<rect x="450.12" y="126.30" fill="#ebb698"/>
<rect x="457.36" y="126.30" fill="#f4daca"/>
<rect x="290.80" y="127.30" fill="#bfd4e5"/>
<rect x="298.04" y="127.30" fill="#d0deeb"/>
<rect x="305.28" y="127.30" fill="#b6cee2"/>
<rect x="312.53" y="127.30" fill="#bbd1e4"/>
<rect x="319.77" y="127.30" fill="#c4d7e7"/>
<rect x="327.01" y="127.30" fill="#c9dae8"/>
<rect x="334.25" y="127.30" fill="#bbd2e4"/>
<rect x="341.49" y="127.30" fill="#bbd1e4"/>
<rect x="348.73" y="127.30" fill="#b5cee2"/>
<rect x="355.98" y="127.30" fill="#bcd2e4"/>
<rect x="363.22" y="127.30" fill="#d1dfeb"/>
<rect x="370.46" y="127.30" fill="#c5d7e7"/>
<rect x="377.70" y="127.30" fill="#eebea2"/>
<rect x="384.94" y="127.30" fill="#d77b5d"/>
<rect x="392.18" y="127.30" fill="#dc8968"/>
<rect x="399.43" y="127.30" fill="#e29976"/>
<rect x="406.67" y="127.30" fill="#de8c6b"/>
<rect x="413.91" y="127.30" fill="#edbca1"/>
<rect x="421.15" y="127.30" fill="#b0cae0"/>
<rect x="428.39" y="127.30" fill="#f5eeeb"/>
<rect x="435.63" y="127.30" fill="#f3d9c9"/>
<rect x="442.88" y="127.30" fill="#c85543"/>
<rect x="450.12" y="127.30" fill="#e7a583"/>
<rect x="457.36" y="127.30" fill="#e8ac8b"/>
<rect x="290.80" y="128.30" fill="#d5e1ec"/>
<rect x="298.04" y="128.30" fill="#b5cee2"/>
<rect x="305.28" y="128.30" fill="#e0e8ef"/>
<rect x="312.53" y="128.30" fill="#bed3e5"/>
<rect x="319.77" y="128.30" fill="#d0deeb"/>
<rect x="327.01" y="128.30" fill="#b6cee2"/>
<rect x="334.25" y="128.30" fill="#d0deeb"/>
<rect x="341.49" y="128.30" fill="#cbdbe9"/>
<rect x="348.73" y="128.30" fill="#d9e3ed"/>
<rect x="355.98" y="128.30" fill="#b6cee2"/>
<rect x="363.22" y="128.30" fill="#cbdbe9"/>
<rect x="370.46" y="128.30" fill="#e1e9ef"/>
<rect x="377.70" y="128.30" fill="#d4e1ec"/>
<rect x="384.94" y="128.30" fill="#f4ddce"/>
<rect x="392.18" y="128.30" fill="#f0c4ab"/>
<rect x="399.43" y="128.30" fill="#f4e9e1"/>
<rect x="406.67" y="128.30" fill="#f4e5db"/>
<rect x="413.91" y="128.30" fill="#e5a17d"/>
<rect x="421.15" y="128.30" fill="#eebea3"/>
<rect x="428.39" y="128.30" fill="#eab191"/>
<rect x="435.63" y="128.30" fill="#da8464"/>
<rect x="442.88" y="128.30" fill="#e49d79"/>
<rect x="450.12" y="128.30" fill="#e19674"/>
<rect x="457.36" y="128.30" fill="#dd8969"/>
<rect x="290.80" y="129.30" fill="#dfe8ef"/>
<rect x="298.04" y="129.30" fill="#bdd3e4"/>
<rect x="305.28" y="129.30" fill="#b0cbe0"/>
<rect x="312.53" y="129.30" fill="#c9dae8"/>
<rect x="319.77" y="129.30" fill="#d5e1ec"/>
<rect x="327.01" y="129.30" fill="#ccdbe9"/>
<rect x="334.25" y="129.30" fill="#cfdeea"/>
<rect x="341.49" y="129.30" fill="#d7e2ec"/>
<rect x="348.73" y="129.30" fill="#dde6ee"/>
<rect x="355.98" y="129.30" fill="#d5e1ec"/>
<rect x="363.22" y="129.30" fill="#e1e9ef"/>
<rect x="370.46" y="129.30" fill="#bcd2e4"/>
<rect x="377.70" y="129.30" fill="#f3d5c1"/>
<rect x="384.94" y="129.30" fill="#f2cdb6"/>
<rect x="392.18" y="129.30" fill="#f5f4f4"/>
<rect x="399.43" y="129.30" fill="#e29876"/>
<rect x="406.67" y="129.30" fill="#e9eef2"/>
<rect x="413.91" y="129.30" fill="#f4f4f5"/>
<rect x="421.15" y="129.30" fill="#ce6348"/>
<rect x="428.39" y="129.30" fill="#d77a5c"/>
<rect x="435.63" y="129.30" fill="#d0684d"/>
<rect x="442.88" y="129.30" fill="#8d0e26"/>
<rect x="450.12" y="129.30" fill="#c1463d"/>
<rect x="457.36" y="129.30" fill="#f4eae3"/>
<rect x="290.80" y="130.30" fill="#ccdce9"/>
<rect x="298.04" y="130.30" fill="#d7e3ed"/>
<rect x="305.28" y="130.30" fill="#c0d5e5"/>
<rect x="312.53" y="130.30" fill="#c5d7e7"/>
<rect x="319.77" y="130.30" fill="#bbd1e4"/>
<rect x="327.01" y="130.30" fill="#d0deea"/>
<rect x="334.25" y="130.30" fill="#b9d0e3"/>
<rect x="341.49" y="130.30" fill="#b9d0e3"/>
<rect x="348.73" y="130.30" fill="#adc9df"/>
<rect x="355.98" y="130.30" fill="#b3cce1"/>
<rect x="363.22" y="130.30" fill="#c7d9e8"/>
<rect x="370.46" y="130.30" fill="#ccdce9"/>
<rect x="377.70" y="130.30" fill="#e4ebf0"/>
<rect x="384.94" y="130.30" fill="#d8e3ed"/>
<rect x="392.18" y="130.30" fill="#f3d3bf"/>
<rect x="399.43" y="130.30" fill="#f3d8c7"/>
<rect x="406.67" y="130.30" fill="#ecba9d"/>
<rect x="413.91" y="130.30" fill="#f5efec"/>
<rect x="421.15" y="130.30" fill="#eff1f3"/>
<rect x="428.39" y="130.30" fill="#eebfa4"/>
<rect x="435.63" y="130.30" fill="#c65041"/>
<rect x="442.88" y="130.30" fill="#d57558"/>
<rect x="450.12" y="130.30" fill="#e8ab8b"/>
<rect x="457.36" y="130.30" fill="#f0f2f3"/>
<rect x="290.80" y="131.30" fill="#c5d7e7"/>
<rect x="298.04" y="131.30" fill="#d8e3ed"/>
<rect x="305.28" y="131.30" fill="#d6e2ec"/>
<rect x="312.53" y="131.30" fill="#dae4ed"/>
<rect x="319.77" y="131.30" fill="#aec9df"/>
<rect x="327.01" y="131.30" fill="#d6e2ec"/>
<rect x="334.25" y="131.30" fill="#bbd1e4"/>
<rect x="341.49" y="131.30" fill="#d3e0ec"/>
<rect x="348.73" y="131.30" fill="#a1c1db"/>
<rect x="355.98" y="131.30" fill="#cadae9"/>
<rect x="363.22" y="131.30" fill="#bcd2e4"/>
<rect x="370.46" y="131.30" fill="#dbe5ee"/>
<rect x="377.70" y="131.30" fill="#f4ebe5"/>
<rect x="384.94" y="131.30" fill="#ecb99d"/>
<rect x="392.18" y="131.30" fill="#f4e1d4"/>
<rect x="399.43" y="131.30" fill="#dc8767"/>
<rect x="406.67" y="131.30" fill="#f4e9e2"/>
<rect x="413.91" y="131.30" fill="#db8666"/>
<rect x="421.15" y="131.30" fill="#f5f3f1"/>
<rect x="428.39" y="131.30" fill="#f4e6dd"/>
<rect x="435.63" y="131.30" fill="#ce6148"/>
<rect x="442.88" y="131.30" fill="#d57659"/>
<rect x="450.12" y="131.30" fill="#e49c79"/>
<rect x="457.36" y="131.30" fill="#edf0f3"/>
<rect x="290.80" y="132.30" fill="#c5d7e7"/>
<rect x="298.04" y="132.30" fill="#cdddea"/>
<rect x="305.28" y="132.30" fill="#bed3e5"/>
<rect x="312.53" y="132.30" fill="#d1dfeb"/>
<rect x="319.77" y="132.30" fill="#a2c2db"/>
<rect x="327.01" y="132.30" fill="#d7e2ec"/>
<rect x="334.25" y="132.30" fill="#c4d7e7"/>
<rect x="341.49" y="132.30" fill="#dee7ee"/>
<rect x="348.73" y="132.30" fill="#c5d7e7"/>
<rect x="355.98" y="132.30" fill="#bfd4e5"/>
<rect x="363.22" y="132.30" fill="#c3d6e6"/>
<rect x="370.46" y="132.30" fill="#cfdeea"/>
<rect x="377.70" y="132.30" fill="#f4ddcf"/>
<rect x="384.94" y="132.30" fill="#f5f5f5"/>
<rect x="392.18" y="132.30" fill="#f5ece7"/>
<rect x="399.43" y="132.30" fill="#f1cbb3"/>
<rect x="406.67" y="132.30" fill="#eebfa3"/>
<rect x="413.91" y="132.30" fill="#dde6ee"/>
<rect x="421.15" y="132.30" fill="#e5ebf0"/>
<rect x="428.39" y="132.30" fill="#f4ddcf"/>
<rect x="435.63" y="132.30" fill="#b73235"/>
<rect x="442.88" y="132.30" fill="#aa192b"/>
<rect x="450.12" y="132.30" fill="#d37154"/>
<rect x="457.36" y="132.30" fill="#efc1a7"/>
<rect x="290.80" y="133.30" fill="#b5cee2"/>
<rect x="298.04" y="133.30" fill="#d8e3ed"/>
<rect x="305.28" y="133.30" fill="#c1d5e6"/>
<rect x="312.53" y="133.30" fill="#bbd1e4"/>
<rect x="319.77" y="133.30" fill="#e2e9f0"/>
<rect x="327.01" y="133.30" fill="#afcae0"/>
<rect x="334.25" y="133.30" fill="#dbe5ee"/>
<rect x="341.49" y="133.30" fill="#cddcea"/>
<rect x="348.73" y="133.30" fill="#b8d0e3"/>
<rect x="355.98" y="133.30" fill="#ccdce9"/>
<rect x="363.22" y="133.30" fill="#bad1e3"/>
<rect x="370.46" y="133.30" fill="#cddcea"/>
<rect x="377.70" y="133.30" fill="#e3eaf0"/>
<rect x="384.94" y="133.30" fill="#dbe5ee"/>
<rect x="392.18" y="133.30" fill="#cc5e47"/>
<rect x="399.43" y="133.30" fill="#f4ebe5"/>
<rect x="406.67" y="133.30" fill="#edbb9f"/>
<rect x="413.91" y="133.30" fill="#f4dacb"/>
<rect x="421.15" y="133.30" fill="#f3d2bd"/>
<rect x="428.39" y="133.30" fill="#f5f2f0"/>
<rect x="435.63" y="133.30" fill="#efc1a7"/>
<rect x="442.88" y="133.30" fill="#f5eee9"/>
<rect x="450.12" y="133.30" fill="#d16a4f"/>
<rect x="457.36" y="133.30" fill="#f0c6ad"/>
<rect x="290.80" y="134.30" fill="#b3cce1"/>
<rect x="298.04" y="134.30" fill="#d4e1ec"/>
<rect x="305.28" y="134.30" fill="#d1dfeb"/>
<rect x="312.53" y="134.30" fill="#edf0f3"/>
<rect x="319.77" y="134.30" fill="#cddcea"/>
<rect x="327.01" y="134.30" fill="#d5e1ec"/>
<rect x="334.25" y="134.30" fill="#d2dfeb"/>
<rect x="341.49" y="134.30" fill="#d4e0ec"/>
<rect x="348.73" y="134.30" fill="#c8d9e8"/>
<rect x="355.98" y="134.30" fill="#c1d5e6"/>
<rect x="363.22" y="134.30" fill="#d3e0eb"/>
<rect x="370.46" y="134.30" fill="#d9e4ed"/>
<rect x="377.70" y="134.30" fill="#d2dfeb"/>
<rect x="384.94" y="134.30" fill="#dbe5ee"/>
<rect x="392.18" y="134.30" fill="#f3d8c7"/>
<rect x="399.43" y="134.30" fill="#e19673"/>
<rect x="406.67" y="134.30" fill="#f4e6dc"/>
<rect x="413.91" y="134.30" fill="#dbe5ee"/>
<rect x="421.15" y="134.30" fill="#f2ceb8"/>
<rect x="428.39" y="134.30" fill="#e9ac8c"/>
<rect x="435.63" y="134.30" fill="#b32a31"/>
<rect x="442.88" y="134.30" fill="#cc5d46"/>
<rect x="450.12" y="134.30" fill="#b83335"/>
<rect x="457.36" y="134.30" fill="#f5ede8"/>
<rect x="290.80" y="135.30" fill="#d5e1ec"/>
<rect x="298.04" y="135.30" fill="#cbdbe9"/>
<rect x="305.28" y="135.30" fill="#b3cce1"/>
<rect x="312.53" y="135.30" fill="#c3d6e6"/>
<rect x="319.77" y="135.30" fill="#dae4ed"/>
<rect x="327.01" y="135.30" fill="#d8e3ed"/>
<rect x="334.25" y="135.30" fill="#c1d5e6"/>
<rect x="341.49" y="135.30" fill="#d7e3ed"/>
<rect x="348.73" y="135.30" fill="#d5e1ec"/>
<rect x="355.98" y="135.30" fill="#d5e1ec"/>
<rect x="363.22" y="135.30" fill="#ceddea"/>
<rect x="370.46" y="135.30" fill="#ceddea"/>
<rect x="377.70" y="135.30" fill="#dce6ee"/>
<rect x="384.94" y="135.30" fill="#f5ede8"/>
<rect x="392.18" y="135.30" fill="#f3d3bf"/>
<rect x="399.43" y="135.30" fill="#f5f3f2"/>
<rect x="406.67" y="135.30" fill="#f4e8e1"/>
<rect x="413.91" y="135.30" fill="#f3d5c2"/>
<rect x="421.15" y="135.30" fill="#f4e1d5"/>
<rect x="428.39" y="135.30" fill="#e5a17d"/>
<rect x="435.63" y="135.30" fill="#efc2a8"/>
<rect x="442.88" y="135.30" fill="#d87c5e"/>
<rect x="450.12" y="135.30" fill="#e09270"/>
<rect x="457.36" y="135.30" fill="#f4e3d8"/>
<rect x="290.80" y="136.30" fill="#c7d9e8"/>
<rect x="298.04" y="136.30" fill="#b9d0e3"/>
<rect x="305.28" y="136.30" fill="#d4e1ec"/>
<rect x="312.53" y="136.30" fill="#bdd3e4"/>
<rect x="319.77" y="136.30" fill="#adc8df"/>
<rect x="327.01" y="136.30" fill="#cfddea"/>
<rect x="334.25" y="136.30" fill="#d9e4ed"/>
<rect x="341.49" y="136.30" fill="#9ec0da"/>
<rect x="348.73" y="136.30" fill="#bfd4e5"/>
<rect x="355.98" y="136.30" fill="#c3d6e6"/>
<rect x="363.22" y="136.30" fill="#d2dfeb"/>
<rect x="370.46" y="136.30" fill="#d7e3ed"/>
<rect x="377.70" y="136.30" fill="#e9eef2"/>
<rect x="384.94" y="136.30" fill="#bfd4e5"/>
<rect x="392.18" y="136.30" fill="#f1cab2"/>
<rect x="399.43" y="136.30" fill="#efc3aa"/>
<rect x="406.67" y="136.30" fill="#f4daca"/>
<rect x="413.91" y="136.30" fill="#f4e0d4"/>
<rect x="421.15" y="136.30" fill="#dfe8ef"/>
<rect x="428.39" y="136.30" fill="#d0684d"/>
<rect x="435.63" y="136.30" fill="#f3d3bf"/>
<rect x="442.88" y="136.30" fill="#edbca0"/>
<rect x="450.12" y="136.30" fill="#d87c5e"/>
<rect x="457.36" y="136.30" fill="#f3d7c5"/>
<rect x="290.80" y="137.30" fill="#cadae9"/>
<rect x="298.04" y="137.30" fill="#c4d7e7"/>
<rect x="305.28" y="137.30" fill="#d7e3ed"/>
<rect x="312.53" y="137.30" fill="#d4e1ec"/>
<rect x="319.77" y="137.30" fill="#b4cde1"/>
<rect x="327.01" y="137.30" fill="#cfdeea"/>
<rect x="334.25" y="137.30" fill="#a8c6dd"/>
<rect x="341.49" y="137.30" fill="#9fc0da"/>
<rect x="348.73" y="137.30" fill="#d2dfeb"/>
<rect x="355.98" y="137.30" fill="#b6cee2"/>
<rect x="363.22" y="137.30" fill="#97bbd8"/>
<rect x="370.46" y="137.30" fill="#bdd3e4"/>
<rect x="377.70" y="137.30" fill="#d4e1ec"/>
<rect x="384.94" y="137.30" fill="#f4e8e0"/>
<rect x="392.18" y="137.30" fill="#f4e6dd"/>
<rect x="399.43" y="137.30" fill="#e8edf1"/>
<rect x="406.67" y="137.30" fill="#e7ecf1"/>
<rect x="413.91" y="137.30" fill="#f3cfb9"/>
<rect x="421.15" y="137.30" fill="#d7e2ed"/>
<rect x="428.39" y="137.30" fill="#f3d5c2"/>
<rect x="435.63" y="137.30" fill="#f3d1bb"/>
<rect x="442.88" y="137.30" fill="#d0674c"/>
<rect x="450.12" y="137.30" fill="#ca5944"/>
<rect x="457.36" y="137.30" fill="#f3d3be"/>
<rect x="290.80" y="138.30" fill="#d4e1ec"/>
<rect x="298.04" y="138.30" fill="#cbdbe9"/>
<rect x="305.28" y="138.30" fill="#b2cce1"/>
<rect x="312.53" y="138.30" fill="#bed3e5"/>
<rect x="319.77" y="138.30" fill="#c4d7e7"/>
<rect x="327.01" y="138.30" fill="#cbdbe9"/>
<rect x="334.25" y="138.30" fill="#b8d0e3"/>
<rect x="341.49" y="138.30" fill="#ceddea"/>
<rect x="348.73" y="138.30" fill="#b6cee2"/>
<rect x="355.98" y="138.30" fill="#c4d7e7"/>
<rect x="363.22" y="138.30" fill="#c3d6e6"/>
<rect x="370.46" y="138.30" fill="#aec9df"/>
<rect x="377.70" y="138.30" fill="#f4daca"/>
<rect x="384.94" y="138.30" fill="#f5efec"/>
<rect x="392.18" y="138.30" fill="#f4daca"/>
<rect x="399.43" y="138.30" fill="#f4e4da"/>
<rect x="406.67" y="138.30" fill="#bad0e3"/>
<rect x="413.91" y="138.30" fill="#dde6ee"/>
<rect x="421.15" y="138.30" fill="#dfe8ef"/>
<rect x="428.39" y="138.30" fill="#e8ac8b"/>
<rect x="435.63" y="138.30" fill="#ecb89b"/>
<rect x="442.88" y="138.30" fill="#c65141"/>
<rect x="450.12" y="138.30" fill="#f3d1bb"/>
<rect x="457.36" y="138.30" fill="#f2f3f4"/>
<rect x="290.80" y="139.30" fill="#c4d7e7"/>
<rect x="298.04" y="139.30" fill="#d9e4ed"/>
<rect x="305.28" y="139.30" fill="#aec9df"/>
<rect x="312.53" y="139.30" fill="#c9dae8"/>
<rect x="319.77" y="139.30" fill="#d2dfeb"/>
<rect x="327.01" y="139.30" fill="#ceddea"/>
<rect x="334.25" y="139.30" fill="#ccdce9"/>
<rect x="341.49" y="139.30" fill="#d6e2ec"/>
<rect x="348.73" y="139.30" fill="#d0deeb"/>
<rect x="355.98" y="139.30" fill="#bad1e3"/>
<rect x="363.22" y="139.30" fill="#d4e1ec"/>
<rect x="370.46" y="139.30" fill="#bed3e5"/>
<rect x="377.70" y="139.30" fill="#f1f3f4"/>
<rect x="384.94" y="139.30" fill="#eab394"/>
<rect x="392.18" y="139.30" fill="#cf644a"/>
<rect x="399.43" y="139.30" fill="#e5a17d"/>
<rect x="406.67" y="139.30" fill="#f2cdb6"/>
<rect x="413.91" y="139.30" fill="#f5ede9"/>
<rect x="421.15" y="139.30" fill="#eff1f3"/>
<rect x="428.39" y="139.30" fill="#d77a5c"/>
<rect x="435.63" y="139.30" fill="#d87e5f"/>
<rect x="442.88" y="139.30" fill="#e7a684"/>
<rect x="450.12" y="139.30" fill="#bf433b"/>
<rect x="457.36" y="139.30" fill="#edbca0"/>
<rect x="290.80" y="140.30" fill="#e2e9f0"/>
<rect x="298.04" y="140.30" fill="#d7e2ed"/>
<rect x="305.28" y="140.30" fill="#adc9df"/>
<rect x="312.53" y="140.30" fill="#c7d9e8"/>
<rect x="319.77" y="140.30" fill="#d0deeb"/>
<rect x="327.01" y="140.30" fill="#d0deeb"/>
<rect x="334.25" y="140.30" fill="#e4eaf0"/>
<rect x="341.49" y="140.30" fill="#c8d9e8"/>
<rect x="348.73" y="140.30" fill="#d1dfeb"/>
<rect x="355.98" y="140.30" fill="#d1dfeb"/>
<rect x="363.22" y="140.30" fill="#d1dfeb"/>
<rect x="370.46" y="140.30" fill="#c2d5e6"/>
<rect x="377.70" y="140.30" fill="#dfe8ef"/>
<rect x="384.94" y="140.30" fill="#b3cce1"/>
<rect x="392.18" y="140.30" fill="#ecb99c"/>
<rect x="399.43" y="140.30" fill="#f3d4c1"/>
<rect x="406.67" y="140.30" fill="#f1c9b1"/>
<rect x="413.91" y="140.30" fill="#f4ece6"/>
<rect x="421.15" y="140.30" fill="#f3d9c8"/>
<rect x="428.39" y="140.30" fill="#f4dbcc"/>
<rect x="435.63" y="140.30" fill="#e9ae8e"/>
<rect x="442.88" y="140.30" fill="#810a23"/>
<rect x="450.12" y="140.30" fill="#d0664c"/>
<rect x="457.36" y="140.30" fill="#e9af8f"/>
<rect x="290.80" y="141.30" fill="#ceddea"/>
<rect x="298.04" y="141.30" fill="#c9dae8"/>
<rect x="305.28" y="141.30" fill="#dfe8ef"/>
<rect x="312.53" y="141.30" fill="#dee7ee"/>
<rect x="319.77" y="141.30" fill="#c4d7e7"/>
<rect x="327.01" y="141.30" fill="#bcd2e4"/>
<rect x="334.25" y="141.30" fill="#d3e0ec"/>
<rect x="341.49" y="141.30" fill="#d3e0eb"/>
<rect x="348.73" y="141.30" fill="#bfd4e5"/>
<rect x="355.98" y="141.30" fill="#eaeef2"/>
<rect x="363.22" y="141.30" fill="#aac7de"/>
<rect x="370.46" y="141.30" fill="#c0d5e5"/>
<rect x="377.70" y="141.30" fill="#f4e3d8"/>
<rect x="384.94" y="141.30" fill="#eebfa5"/>
<rect x="392.18" y="141.30" fill="#e2e9f0"/>
<rect x="399.43" y="141.30" fill="#f4e1d5"/>
<rect x="406.67" y="141.30" fill="#e59f7b"/>
<rect x="413.91" y="141.30" fill="#e29775"/>
<rect x="421.15" y="141.30" fill="#f4e7de"/>
<rect x="428.39" y="141.30" fill="#eebea3"/>
<rect x="435.63" y="141.30" fill="#eab091"/>
<rect x="442.88" y="141.30" fill="#880d25"/>
<rect x="450.12" y="141.30" fill="#eebea3"/>
<rect x="457.36" y="141.30" fill="#dce6ee"/>
<rect x="290.80" y="142.30" fill="#b5cde2"/>
<rect x="298.04" y="142.30" fill="#d0deeb"/>
<rect x="305.28" y="142.30" fill="#b8d0e3"/>
<rect x="312.53" y="142.30" fill="#dce6ee"/>
<rect x="319.77" y="142.30" fill="#dfe7ef"/>
<rect x="327.01" y="142.30" fill="#dbe5ee"/>
<rect x="334.25" y="142.30" fill="#d7e3ed"/>
<rect x="341.49" y="142.30" fill="#dde6ee"/>
<rect x="348.73" y="142.30" fill="#d3e0eb"/>
<rect x="355.98" y="142.30" fill="#dae4ed"/>
<rect x="363.22" y="142.30" fill="#d5e1ec"/>
<rect x="370.46" y="142.30" fill="#d9e4ed"/>
<rect x="377.70" y="142.30" fill="#e1e8ef"/>
<rect x="384.94" y="142.30" fill="#f5f5f5"/>
<rect x="392.18" y="142.30" fill="#f5ece7"/>
<rect x="399.43" y="142.30" fill="#eab394"/>
<rect x="406.67" y="142.30" fill="#efc3aa"/>
<rect x="413.91" y="142.30" fill="#f4e8e1"/>
<rect x="421.15" y="142.30" fill="#edf0f3"/>
<rect x="428.39" y="142.30" fill="#f3d4c1"/>
<rect x="435.63" y="142.30" fill="#c95844"/>
<rect x="442.88" y="142.30" fill="#a4172a"/>
<rect x="450.12" y="142.30" fill="#e39c79"/>
<rect x="457.36" y="142.30" fill="#f4e3d8"/>
<rect x="290.80" y="143.30" fill="#ccdbe9"/>
<rect x="298.04" y="143.30" fill="#e1e8ef"/>
<rect x="305.28" y="143.30" fill="#c1d5e6"/>
<rect x="312.53" y="143.30" fill="#c7d9e8"/>
<rect x="319.77" y="143.30" fill="#e2e9f0"/>
<rect x="327.01" y="143.30" fill="#d6e2ec"/>
<rect x="334.25" y="143.30" fill="#b9d0e3"/>
<rect x="341.49" y="143.30" fill="#dbe5ee"/>
<rect x="348.73" y="143.30" fill="#b7cfe2"/>
<rect x="355.98" y="143.30" fill="#d4e1ec"/>
<rect x="363.22" y="143.30" fill="#a0c1db"/>
<rect x="370.46" y="143.30" fill="#bcd2e4"/>
<rect x="377.70" y="143.30" fill="#f3d0ba"/>
<rect x="384.94" y="143.30" fill="#f4f4f5"/>
<rect x="392.18" y="143.30" fill="#f4e7de"/>
<rect x="399.43" y="143.30" fill="#f3d4c1"/>
<rect x="406.67" y="143.30" fill="#f3d9c8"/>
<rect x="413.91" y="143.30" fill="#f4e2d6"/>
<rect x="421.15" y="143.30" fill="#f4f4f5"/>
<rect x="428.39" y="143.30" fill="#d37054"/>
<rect x="435.63" y="143.30" fill="#bb3937"/>
<rect x="442.88" y="143.30" fill="#901026"/>
<rect x="450.12" y="143.30" fill="#f0c5ac"/>
<rect x="457.36" y="143.30" fill="#f4e1d5"/>
<rect x="290.80" y="144.30" fill="#c8d9e8"/>
<rect x="298.04" y="144.30" fill="#d3e0eb"/>
<rect x="305.28" y="144.30" fill="#e0e8ef"/>
<rect x="312.53" y="144.30" fill="#c4d7e7"/>
<rect x="319.77" y="144.30" fill="#cfdeea"/>
<rect x="327.01" y="144.30" fill="#c5d8e7"/>
<rect x="334.25" y="144.30" fill="#cfdeea"/>
<rect x="341.49" y="144.30" fill="#c1d5e6"/>
<rect x="348.73" y="144.30" fill="#d2dfeb"/>
<rect x="355.98" y="144.30" fill="#dbe5ee"/>
<rect x="363.22" y="144.30" fill="#c6d8e7"/>
<rect x="370.46" y="144.30" fill="#c7d9e8"/>
<rect x="377.70" y="144.30" fill="#f4eae3"/>
<rect x="384.94" y="144.30" fill="#dce5ee"/>
<rect x="392.18" y="144.30" fill="#da8364"/>
<rect x="399.43" y="144.30" fill="#e9eef2"/>
<rect x="406.67" y="144.30" fill="#f4e5db"/>
<rect x="413.91" y="144.30" fill="#f5efec"/>
<rect x="421.15" y="144.30" fill="#e8ac8b"/>
<rect x="428.39" y="144.30" fill="#f3d5c2"/>
<rect x="435.63" y="144.30" fill="#e7a583"/>
<rect x="442.88" y="144.30" fill="#67001f"/>
<rect x="450.12" y="144.30" fill="#e49c79"/>
<rect x="457.36" y="144.30" fill="#f4e9e2"/>
<rect x="290.80" y="145.30" fill="#c8d9e8"/>
<rect x="298.04" y="145.30" fill="#ccdce9"/>
<rect x="305.28" y="145.30" fill="#bbd1e4"/>
<rect x="312.53" y="145.30" fill="#c5d8e7"/>
<rect x="319.77" y="145.30" fill="#c5d7e7"/>
<rect x="327.01" y="145.30" fill="#d3e0eb"/>
<rect x="334.25" y="145.30" fill="#d3e0ec"/>
<rect x="341.49" y="145.30" fill="#d4e1ec"/>
<rect x="348.73" y="145.30" fill="#c6d8e7"/>
<rect x="355.98" y="145.30" fill="#d4e1ec"/>
<rect x="363.22" y="145.30" fill="#c5d7e7"/>
<rect x="370.46" y="145.30" fill="#d8e3ed"/>
<rect x="377.70" y="145.30" fill="#f4e6de"/>
<rect x="384.94" y="145.30" fill="#f2f3f4"/>
<rect x="392.18" y="145.30" fill="#e7a886"/>
<rect x="399.43" y="145.30" fill="#dee7ee"/>
<rect x="406.67" y="145.30" fill="#ecf0f3"/>
<rect x="413.91" y="145.30" fill="#f5f2f1"/>
<rect x="421.15" y="145.30" fill="#f4ece6"/>
<rect x="428.39" y="145.30" fill="#f5f2f0"/>
<rect x="435.63" y="145.30" fill="#f1c8b0"/>
<rect x="442.88" y="145.30" fill="#dc8868"/>
<rect x="450.12" y="145.30" fill="#e39a77"/>
<rect x="457.36" y="145.30" fill="#f5efeb"/>
<rect x="290.80" y="146.30" fill="#e8edf1"/>
<rect x="298.04" y="146.30" fill="#d7e2ed"/>
<rect x="305.28" y="146.30" fill="#b9d0e3"/>
<rect x="312.53" y="146.30" fill="#dde6ee"/>
<rect x="319.77" y="146.30" fill="#cfdeea"/>
<rect x="327.01" y="146.30" fill="#dae5ee"/>
<rect x="334.25" y="146.30" fill="#bad0e3"/>
<rect x="341.49" y="146.30" fill="#dbe5ee"/>
<rect x="348.73" y="146.30" fill="#dbe5ee"/>
<rect x="355.98" y="146.30" fill="#c6d8e7"/>
<rect x="363.22" y="146.30" fill="#bed3e5"/>
<rect x="370.46" y="146.30" fill="#c7d9e8"/>
<rect x="377.70" y="146.30" fill="#f4e4da"/>
<rect x="384.94" y="146.30" fill="#da8464"/>
<rect x="392.18" y="146.30" fill="#da8263"/>
<rect x="399.43" y="146.30" fill="#e39b78"/>
<rect x="406.67" y="146.30" fill="#f4e0d3"/>
<rect x="413.91" y="146.30" fill="#f4ddcf"/>
<rect x="421.15" y="146.30" fill="#f3d6c3"/>
<rect x="428.39" y="146.30" fill="#f2cdb6"/>
<rect x="435.63" y="146.30" fill="#e6a37f"/>
<rect x="442.88" y="146.30" fill="#ad1d2c"/>
<rect x="450.12" y="146.30" fill="#d1694e"/>
<rect x="457.36" y="146.30" fill="#f3d3be"/>
<rect x="290.80" y="147.30" fill="#d6e2ec"/>
<rect x="298.04" y="147.30" fill="#d1dfeb"/>
<rect x="305.28" y="147.30" fill="#d1dfeb"/>
<rect x="312.53" y="147.30" fill="#d0deeb"/>
<rect x="319.77" y="147.30" fill="#e2eaf0"/>
<rect x="327.01" y="147.30" fill="#d6e2ec"/>
<rect x="334.25" y="147.30" fill="#e5ebf1"/>
<rect x="341.49" y="147.30" fill="#d2dfeb"/>
<rect x="348.73" y="147.30" fill="#e0e8ef"/>
<rect x="355.98" y="147.30" fill="#bed3e5"/>
<rect x="363.22" y="147.30" fill="#cfdeea"/>
<rect x="370.46" y="147.30" fill="#d3e0eb"/>
<rect x="377.70" y="147.30" fill="#f5f5f4"/>
<rect x="384.94" y="147.30" fill="#f4dcce"/>
<rect x="392.18" y="147.30" fill="#f4e2d6"/>
<rect x="399.43" y="147.30" fill="#f3d0ba"/>
<rect x="406.67" y="147.30" fill="#f4e2d7"/>
<rect x="413.91" y="147.30" fill="#f0c6ad"/>
<rect x="421.15" y="147.30" fill="#f4dfd2"/>
<rect x="428.39" y="147.30" fill="#f3d9c8"/>
<rect x="435.63" y="147.30" fill="#de8e6d"/>
<rect x="442.88" y="147.30" fill="#8d0e26"/>
<rect x="450.12" y="147.30" fill="#edbb9f"/>
<rect x="457.36" y="147.30" fill="#eebea3"/>
<rect x="290.80" y="148.30" fill="#d6e2ec"/>
<rect x="298.04" y="148.30" fill="#c0d4e5"/>
<rect x="305.28" y="148.30" fill="#ceddea"/>
<rect x="312.53" y="148.30" fill="#cfddea"/>
<rect x="319.77" y="148.30" fill="#b5cee2"/>
<rect x="327.01" y="148.30" fill="#d7e2ed"/>
<rect x="334.25" y="148.30" fill="#e5ebf0"/>
<rect x="341.49" y="148.30" fill="#b1cbe0"/>
<rect x="348.73" y="148.30" fill="#e1e8ef"/>
<rect x="355.98" y="148.30" fill="#b7cfe2"/>
<rect x="363.22" y="148.30" fill="#d9e3ed"/>
<rect x="370.46" y="148.30" fill="#a3c3dc"/>
<rect x="377.70" y="148.30" fill="#f3d6c3"/>
<rect x="384.94" y="148.30" fill="#f5ece6"/>
<rect x="392.18" y="148.30" fill="#e5ebf1"/>
<rect x="399.43" y="148.30" fill="#eef1f3"/>
<rect x="406.67" y="148.30" fill="#e4ebf0"/>
<rect x="413.91" y="148.30" fill="#eff1f3"/>
<rect x="421.15" y="148.30" fill="#f4e2d6"/>
<rect x="428.39" y="148.30" fill="#f3d7c5"/>
<rect x="435.63" y="148.30" fill="#f2f3f4"/>
<rect x="442.88" y="148.30" fill="#bc3b38"/>
<rect x="450.12" y="148.30" fill="#df916f"/>
<rect x="457.36" y="148.30" fill="#f4daca"/>
<rect x="290.80" y="149.30" fill="#d9e4ed"/>
<rect x="298.04" y="149.30" fill="#9fc0da"/>
<rect x="305.28" y="149.30" fill="#c5d7e7"/>
<rect x="312.53" y="149.30" fill="#c1d5e6"/>
<rect x="319.77" y="149.30" fill="#ceddea"/>
<rect x="327.01" y="149.30" fill="#a8c6dd"/>
<rect x="334.25" y="149.30" fill="#a9c6de"/>
<rect x="341.49" y="149.30" fill="#bdd3e4"/>
<rect x="348.73" y="149.30" fill="#c2d6e6"/>
<rect x="355.98" y="149.30" fill="#a0c1db"/>
<rect x="363.22" y="149.30" fill="#c7d9e8"/>
<rect x="370.46" y="149.30" fill="#c0d5e5"/>
<rect x="377.70" y="149.30" fill="#f4e6dd"/>
<rect x="384.94" y="149.30" fill="#87b2d2"/>
<rect x="392.18" y="149.30" fill="#f3d1bc"/>
<rect x="399.43" y="149.30" fill="#e8edf1"/>
<rect x="406.67" y="149.30" fill="#f2f3f4"/>
<rect x="413.91" y="149.30" fill="#f1cab3"/>
<rect x="421.15" y="149.30" fill="#ecb89b"/>
<rect x="428.39" y="149.30" fill="#f3d1bc"/>
<rect x="435.63" y="149.30" fill="#e8a988"/>
<rect x="442.88" y="149.30" fill="#770622"/>
<rect x="450.12" y="149.30" fill="#f3d0ba"/>
<rect x="457.36" y="149.30" fill="#f4e5dc"/>
<rect x="290.80" y="150.30" fill="#cfddea"/>
<rect x="298.04" y="150.30" fill="#c7d8e8"/>
<rect x="305.28" y="150.30" fill="#d7e3ed"/>
<rect x="312.53" y="150.30" fill="#edf0f3"/>
<rect x="319.77" y="150.30" fill="#d8e3ed"/>
<rect x="327.01" y="150.30" fill="#dbe5ee"/>
<rect x="334.25" y="150.30" fill="#d4e1ec"/>
<rect x="341.49" y="150.30" fill="#e2e9f0"/>
<rect x="348.73" y="150.30" fill="#d7e2ec"/>
<rect x="355.98" y="150.30" fill="#c8dae8"/>
<rect x="363.22" y="150.30" fill="#d6e2ec"/>
<rect x="370.46" y="150.30" fill="#e6ecf1"/>
<rect x="377.70" y="150.30" fill="#f4e2d6"/>
<rect x="384.94" y="150.30" fill="#e8a988"/>
<rect x="392.18" y="150.30" fill="#efc2a8"/>
<rect x="399.43" y="150.30" fill="#d16a4f"/>
<rect x="406.67" y="150.30" fill="#eebfa4"/>
<rect x="413.91" y="150.30" fill="#e8a988"/>
<rect x="421.15" y="150.30" fill="#f4ddcf"/>
<rect x="428.39" y="150.30" fill="#dd8b6b"/>
<rect x="435.63" y="150.30" fill="#d98162"/>
<rect x="442.88" y="150.30" fill="#e09371"/>
<rect x="450.12" y="150.30" fill="#d36f53"/>
<rect x="457.36" y="150.30" fill="#f4e8e1"/>
<rect x="290.80" y="151.30" fill="#dce6ee"/>
<rect x="298.04" y="151.30" fill="#d4e1ec"/>
<rect x="305.28" y="151.30" fill="#c9dae8"/>
<rect x="312.53" y="151.30" fill="#d3e0eb"/>
<rect x="319.77" y="151.30" fill="#9abdd9"/>
<rect x="327.01" y="151.30" fill="#dde6ee"/>
<rect x="334.25" y="151.30" fill="#bdd3e4"/>
<rect x="341.49" y="151.30" fill="#d3e0eb"/>
<rect x="348.73" y="151.30" fill="#e9eef2"/>
<rect x="355.98" y="151.30" fill="#acc8df"/>
<rect x="363.22" y="151.30" fill="#c1d5e6"/>
<rect x="370.46" y="151.30" fill="#cfddea"/>
<rect x="377.70" y="151.30" fill="#f4e5dc"/>
<rect x="384.94" y="151.30" fill="#c8d9e8"/>
<rect x="392.18" y="151.30" fill="#f5f3f2"/>
<rect x="399.43" y="151.30" fill="#e6a482"/>
<rect x="406.67" y="151.30" fill="#f5f1ef"/>
<rect x="413.91" y="151.30" fill="#f0c6ad"/>
<rect x="421.15" y="151.30" fill="#d8e3ed"/>
<rect x="428.39" y="151.30" fill="#f4e7df"/>
<rect x="435.63" y="151.30" fill="#f4dcce"/>
<rect x="442.88" y="151.30" fill="#c95744"/>
<rect x="450.12" y="151.30" fill="#ce6349"/>
<rect x="457.36" y="151.30" fill="#f3d3c0"/>
<rect x="290.80" y="152.30" fill="#cbdbe9"/>
<rect x="298.04" y="152.30" fill="#d2dfeb"/>
<rect x="305.28" y="152.30" fill="#d4e1ec"/>
<rect x="312.53" y="152.30" fill="#cadbe9"/>
<rect x="319.77" y="152.30" fill="#d5e2ec"/>
<rect x="327.01" y="152.30" fill="#e6ecf1"/>
<rect x="334.25" y="152.30" fill="#e9eef2"/>
<rect x="341.49" y="152.30" fill="#c5d8e7"/>
<rect x="348.73" y="152.30" fill="#b9d0e3"/>
<rect x="355.98" y="152.30" fill="#e5ebf1"/>
<rect x="363.22" y="152.30" fill="#dbe5ee"/>
<rect x="370.46" y="152.30" fill="#dde6ee"/>
<rect x="377.70" y="152.30" fill="#f3d7c6"/>
<rect x="384.94" y="152.30" fill="#f4e9e1"/>
<rect x="392.18" y="152.30" fill="#e7a785"/>
<rect x="399.43" y="152.30" fill="#e7a887"/>
<rect x="406.67" y="152.30" fill="#e8aa89"/>
<rect x="413.91" y="152.30" fill="#f5f2f1"/>
<rect x="421.15" y="152.30" fill="#edba9e"/>
<rect x="428.39" y="152.30" fill="#f2cdb7"/>
<rect x="435.63" y="152.30" fill="#e39a77"/>
<rect x="442.88" y="152.30" fill="#bf433b"/>
<rect x="450.12" y="152.30" fill="#e6a27f"/>
<rect x="457.36" y="152.30" fill="#cf644a"/>
<rect x="290.80" y="153.30" fill="#d5e1ec"/>
<rect x="298.04" y="153.30" fill="#d2dfeb"/>
<rect x="305.28" y="153.30" fill="#cbdbe9"/>
<rect x="312.53" y="153.30" fill="#d1dfeb"/>
<rect x="319.77" y="153.30" fill="#cadbe9"/>
<rect x="327.01" y="153.30" fill="#d5e1ec"/>
<rect x="334.25" y="153.30" fill="#d9e3ed"/>
<rect x="341.49" y="153.30" fill="#d8e3ed"/>
<rect x="348.73" y="153.30" fill="#b8cfe3"/>
<rect x="355.98" y="153.30" fill="#c9dae8"/>
<rect x="363.22" y="153.30" fill="#cfdeea"/>
<rect x="370.46" y="153.30" fill="#b9d0e3"/>
<rect x="377.70" y="153.30" fill="#f4dfd3"/>
<rect x="384.94" y="153.30" fill="#f4e7df"/>
<rect x="392.18" y="153.30" fill="#f2cdb6"/>
<rect x="399.43" y="153.30" fill="#f0c7af"/>
<rect x="406.67" y="153.30" fill="#f4ebe5"/>
<rect x="413.91" y="153.30" fill="#e09270"/>
<rect x="421.15" y="153.30" fill="#edbba0"/>
<rect x="428.39" y="153.30" fill="#f3d5c2"/>
<rect x="435.63" y="153.30" fill="#d47155"/>
<rect x="442.88" y="153.30" fill="#b52d33"/>
<rect x="450.12" y="153.30" fill="#ebb496"/>
<rect x="457.36" y="153.30" fill="#f4daca"/>
<rect x="290.80" y="154.30" fill="#c9dae8"/>
<rect x="298.04" y="154.30" fill="#8db5d4"/>
<rect x="305.28" y="154.30" fill="#a5c4dc"/>
<rect x="312.53" y="154.30" fill="#c3d6e6"/>
<rect x="319.77" y="154.30" fill="#c8d9e8"/>
<rect x="327.01" y="154.30" fill="#acc8df"/>
<rect x="334.25" y="154.30" fill="#ccdce9"/>
<rect x="341.49" y="154.30" fill="#dde6ee"/>
<rect x="348.73" y="154.30" fill="#c0d5e5"/>
<rect x="355.98" y="154.30" fill="#bcd2e4"/>
<rect x="363.22" y="154.30" fill="#bed3e5"/>
<rect x="370.46" y="154.30" fill="#aac7de"/>
<rect x="377.70" y="154.30" fill="#f5f0ee"/>
<rect x="384.94" y="154.30" fill="#f5f3f3"/>
<rect x="392.18" y="154.30" fill="#f3ceb8"/>
<rect x="399.43" y="154.30" fill="#edba9e"/>
<rect x="406.67" y="154.30" fill="#f5ede8"/>
<rect x="413.91" y="154.30" fill="#f4e3d8"/>
<rect x="421.15" y="154.30" fill="#f5ece7"/>
<rect x="428.39" y="154.30" fill="#e19674"/>
<rect x="435.63" y="154.30" fill="#f4e0d4"/>
<rect x="442.88" y="154.30" fill="#d98061"/>
<rect x="450.12" y="154.30" fill="#f2cbb4"/>
<rect x="457.36" y="154.30" fill="#f4e2d6"/>
<rect x="290.80" y="155.30" fill="#e1e9ef"/>
<rect x="298.04" y="155.30" fill="#d8e3ed"/>
<rect x="305.28" y="155.30" fill="#e0e8ef"/>
<rect x="312.53" y="155.30" fill="#dae4ed"/>
<rect x="319.77" y="155.30" fill="#cfdeea"/>
<rect x="327.01" y="155.30" fill="#d0deeb"/>
<rect x="334.25" y="155.30" fill="#c4d7e7"/>
<rect x="341.49" y="155.30" fill="#dae4ed"/>
<rect x="348.73" y="155.30" fill="#d3e0eb"/>
<rect x="355.98" y="155.30" fill="#e1e9ef"/>
<rect x="363.22" y="155.30" fill="#e3eaf0"/>
<rect x="370.46" y="155.30" fill="#cddcea"/>
<rect x="377.70" y="155.30" fill="#eff1f3"/>
<rect x="384.94" y="155.30" fill="#ecba9d"/>
<rect x="392.18" y="155.30" fill="#f3d9c8"/>
<rect x="399.43" y="155.30" fill="#ecb89a"/>
<rect x="406.67" y="155.30" fill="#e8ab8a"/>
<rect x="413.91" y="155.30" fill="#f2ccb4"/>
<rect x="421.15" y="155.30" fill="#d98061"/>
<rect x="428.39" y="155.30" fill="#f1c9b1"/>
<rect x="435.63" y="155.30" fill="#c85543"/>
<rect x="442.88" y="155.30" fill="#c65141"/>
<rect x="450.12" y="155.30" fill="#f4eae3"/>
<rect x="457.36" y="155.30" fill="#eebfa5"/>
<rect x="290.80" y="156.30" fill="#d2dfeb"/>
<rect x="298.04" y="156.30" fill="#dbe5ee"/>
<rect x="305.28" y="156.30" fill="#d2e0eb"/>
<rect x="312.53" y="156.30" fill="#cadae9"/>
<rect x="319.77" y="156.30" fill="#cdddea"/>
<rect x="327.01" y="156.30" fill="#d0deeb"/>
<rect x="334.25" y="156.30" fill="#dde6ee"/>
<rect x="341.49" y="156.30" fill="#d0dfeb"/>
<rect x="348.73" y="156.30" fill="#e2e9f0"/>
<rect x="355.98" y="156.30" fill="#dee7ee"/>
<rect x="363.22" y="156.30" fill="#c9dae8"/>
<rect x="370.46" y="156.30" fill="#e0e8ef"/>
<rect x="377.70" y="156.30" fill="#bad1e3"/>
<rect x="384.94" y="156.30" fill="#f3d8c6"/>
<rect x="392.18" y="156.30" fill="#f4e3d9"/>
<rect x="399.43" y="156.30" fill="#f2cdb6"/>
<rect x="406.67" y="156.30" fill="#e59f7b"/>
<rect x="413.91" y="156.30" fill="#f0c6ad"/>
<rect x="421.15" y="156.30" fill="#f4dbcc"/>
<rect x="428.39" y="156.30" fill="#d6785a"/>
<rect x="435.63" y="156.30" fill="#e5a07c"/>
<rect x="442.88" y="156.30" fill="#d57558"/>
<rect x="450.12" y="156.30" fill="#c44d3f"/>
<rect x="457.36" y="156.30" fill="#e8aa89"/>
<rect x="290.80" y="157.30" fill="#afcae0"/>
<rect x="298.04" y="157.30" fill="#cbdbe9"/>
<rect x="305.28" y="157.30" fill="#d4e0ec"/>
<rect x="312.53" y="157.30" fill="#c6d8e7"/>
<rect x="319.77" y="157.30" fill="#c1d5e6"/>
<rect x="327.01" y="157.30" fill="#cbdbe9"/>
<rect x="334.25" y="157.30" fill="#ccdce9"/>
<rect x="341.49" y="157.30" fill="#bcd2e4"/>
<rect x="348.73" y="157.30" fill="#d4e1ec"/>
<rect x="355.98" y="157.30" fill="#acc8df"/>
<rect x="363.22" y="157.30" fill="#c7d9e8"/>
<rect x="370.46" y="157.30" fill="#e3eaf0"/>
<rect x="377.70" y="157.30" fill="#d5e1ec"/>
<rect x="384.94" y="157.30" fill="#f4ece6"/>
<rect x="392.18" y="157.30" fill="#cadae9"/>
<rect x="399.43" y="157.30" fill="#f4f4f5"/>
<rect x="406.67" y="157.30" fill="#e7ecf1"/>
<rect x="413.91" y="157.30" fill="#f3d8c7"/>
<rect x="421.15" y="157.30" fill="#f3f4f4"/>
<rect x="428.39" y="157.30" fill="#d7795b"/>
<rect x="435.63" y="157.30" fill="#edbda2"/>
<rect x="442.88" y="157.30" fill="#d1694e"/>
<rect x="450.12" y="157.30" fill="#e19472"/>
<rect x="457.36" y="157.30" fill="#eec0a5"/>
<rect x="290.80" y="158.30" fill="#d8e3ed"/>
<rect x="298.04" y="158.30" fill="#b1cbe0"/>
<rect x="305.28" y="158.30" fill="#e7edf1"/>
<rect x="312.53" y="158.30" fill="#c8d9e8"/>
<rect x="319.77" y="158.30" fill="#c1d5e6"/>
<rect x="327.01" y="158.30" fill="#b0cae0"/>
<rect x="334.25" y="158.30" fill="#c6d8e7"/>
<rect x="341.49" y="158.30" fill="#aec9df"/>
<rect x="348.73" y="158.30" fill="#d0deeb"/>
<rect x="355.98" y="158.30" fill="#c3d6e6"/>
<rect x="363.22" y="158.30" fill="#d2dfeb"/>
<rect x="370.46" y="158.30" fill="#bfd4e5"/>
<rect x="377.70" y="158.30" fill="#f4eae4"/>
<rect x="384.94" y="158.30" fill="#de8e6d"/>
<rect x="392.18" y="158.30" fill="#e6a27f"/>
<rect x="399.43" y="158.30" fill="#f3d1bc"/>
<rect x="406.67" y="158.30" fill="#f3f4f4"/>
<rect x="413.91" y="158.30" fill="#e29976"/>
<rect x="421.15" y="158.30" fill="#d3e0eb"/>
<rect x="428.39" y="158.30" fill="#f5f1ee"/>
<rect x="435.63" y="158.30" fill="#c0453c"/>
<rect x="442.88" y="158.30" fill="#d87c5e"/>
<rect x="450.12" y="158.30" fill="#c44d3f"/>
<rect x="457.36" y="158.30" fill="#edba9e"/>
<rect x="290.80" y="159.30" fill="#e4eaf0"/>
<rect x="298.04" y="159.30" fill="#dfe7ef"/>
<rect x="305.28" y="159.30" fill="#d1dfeb"/>
<rect x="312.53" y="159.30" fill="#bdd2e4"/>
<rect x="319.77" y="159.30" fill="#d1dfeb"/>
<rect x="327.01" y="159.30" fill="#dae5ee"/>
<rect x="334.25" y="159.30" fill="#cadbe9"/>
<rect x="341.49" y="159.30" fill="#94b9d7"/>
<rect x="348.73" y="159.30" fill="#c1d5e6"/>
<rect x="355.98" y="159.30" fill="#c1d5e6"/>
<rect x="363.22" y="159.30" fill="#c7d9e8"/>
<rect x="370.46" y="159.30" fill="#c2d5e6"/>
<rect x="377.70" y="159.30" fill="#f3d0bb"/>
<rect x="384.94" y="159.30" fill="#d7e2ec"/>
<rect x="392.18" y="159.30" fill="#f1c9b0"/>
<rect x="399.43" y="159.30" fill="#ceddea"/>
<rect x="406.67" y="159.30" fill="#c0d5e5"/>
<rect x="413.91" y="159.30" fill="#f0f2f4"/>
<rect x="421.15" y="159.30" fill="#eaeef2"/>
<rect x="428.39" y="159.30" fill="#f4e8e0"/>
<rect x="435.63" y="159.30" fill="#ebb597"/>
<rect x="442.88" y="159.30" fill="#c1463d"/>
<rect x="450.12" y="159.30" fill="#da8364"/>
<rect x="457.36" y="159.30" fill="#f3d5c2"/>
<rect x="290.80" y="160.30" fill="#c2d6e6"/>
<rect x="298.04" y="160.30" fill="#b2cce1"/>
<rect x="305.28" y="160.30" fill="#adc9df"/>
<rect x="312.53" y="160.30" fill="#a5c4dc"/>
<rect x="319.77" y="160.30" fill="#b7cfe2"/>
<rect x="327.01" y="160.30" fill="#aac7de"/>
<rect x="334.25" y="160.30" fill="#b9d0e3"/>
<rect x="341.49" y="160.30" fill="#ccdce9"/>
<rect x="348.73" y="160.30" fill="#c9dae8"/>
<rect x="355.98" y="160.30" fill="#d4e0ec"/>
<rect x="363.22" y="160.30" fill="#aec9df"/>
<rect x="370.46" y="160.30" fill="#97bbd8"/>
<rect x="377.70" y="160.30" fill="#c3d6e6"/>
<rect x="384.94" y="160.30" fill="#eab394"/>
<rect x="392.18" y="160.30" fill="#f2cdb6"/>
<rect x="399.43" y="160.30" fill="#f4f4f5"/>
<rect x="406.67" y="160.30" fill="#eebfa4"/>
<rect x="413.91" y="160.30" fill="#f5f2f1"/>
<rect x="421.15" y="160.30" fill="#edbca0"/>
<rect x="428.39" y="160.30" fill="#f4e4da"/>
<rect x="435.63" y="160.30" fill="#ecb89b"/>
<rect x="442.88" y="160.30" fill="#c95743"/>
<rect x="450.12" y="160.30" fill="#f4dac9"/>
<rect x="457.36" y="160.30" fill="#f4e8e0"/>
<rect x="290.80" y="161.30" fill="#dfe8ef"/>
<rect x="298.04" y="161.30" fill="#ceddea"/>
<rect x="305.28" y="161.30" fill="#b2cce1"/>
<rect x="312.53" y="161.30" fill="#c1d5e6"/>
<rect x="319.77" y="161.30" fill="#c5d8e7"/>
<rect x="327.01" y="161.30" fill="#b8cfe3"/>
<rect x="334.25" y="161.30" fill="#cddcea"/>
<rect x="341.49" y="161.30" fill="#d7e3ed"/>
<rect x="348.73" y="161.30" fill="#c7d8e8"/>
<rect x="355.98" y="161.30" fill="#d3e0eb"/>
<rect x="363.22" y="161.30" fill="#cbdbe9"/>
<rect x="370.46" y="161.30" fill="#c8d9e8"/>
<rect x="377.70" y="161.30" fill="#dce5ee"/>
<rect x="384.94" y="161.30" fill="#f3d1bb"/>
<rect x="392.18" y="161.30" fill="#e7a886"/>
<rect x="399.43" y="161.30" fill="#f5eeea"/>
<rect x="406.67" y="161.30" fill="#eceff2"/>
<rect x="413.91" y="161.30" fill="#f2cdb6"/>
<rect x="421.15" y="161.30" fill="#f4e8e0"/>
<rect x="428.39" y="161.30" fill="#e6a37f"/>
<rect x="435.63" y="161.30" fill="#da8364"/>
<rect x="442.88" y="161.30" fill="#d57457"/>
<rect x="450.12" y="161.30" fill="#f3d9c8"/>
<rect x="457.36" y="161.30" fill="#f0c5ac"/>
<rect x="290.80" y="162.30" fill="#ccdce9"/>
<rect x="298.04" y="162.30" fill="#b3cce1"/>
<rect x="305.28" y="162.30" fill="#afcae0"/>
<rect x="312.53" y="162.30" fill="#a9c6de"/>
<rect x="319.77" y="162.30" fill="#d3e0eb"/>
<rect x="327.01" y="162.30" fill="#c2d6e6"/>
<rect x="334.25" y="162.30" fill="#8db5d4"/>
<rect x="341.49" y="162.30" fill="#bad1e3"/>
<rect x="348.73" y="162.30" fill="#bfd3e5"/>
<rect x="355.98" y="162.30" fill="#c8d9e8"/>
<rect x="363.22" y="162.30" fill="#cbdbe9"/>
<rect x="370.46" y="162.30" fill="#c4d7e7"/>
<rect x="377.70" y="162.30" fill="#f4daca"/>
<rect x="384.94" y="162.30" fill="#f0c7af"/>
<rect x="392.18" y="162.30" fill="#f4dccd"/>
<rect x="399.43" y="162.30" fill="#e59f7b"/>
<rect x="406.67" y="162.30" fill="#f4e1d6"/>
<rect x="413.91" y="162.30" fill="#f5f2f1"/>
<rect x="421.15" y="162.30" fill="#f4e1d5"/>
<rect x="428.39" y="162.30" fill="#f4f4f5"/>
<rect x="435.63" y="162.30" fill="#e6a27f"/>
<rect x="442.88" y="162.30" fill="#e39b78"/>
<rect x="450.12" y="162.30" fill="#e9ae8e"/>
<rect x="457.36" y="162.30" fill="#f3cfb9"/>
<rect x="290.80" y="163.30" fill="#a5c3dc"/>
<rect x="298.04" y="163.30" fill="#d4e1ec"/>
<rect x="305.28" y="163.30" fill="#d3e0eb"/>
<rect x="312.53" y="163.30" fill="#cddcea"/>
<rect x="319.77" y="163.30" fill="#d8e3ed"/>
<rect x="327.01" y="163.30" fill="#d4e1ec"/>
<rect x="334.25" y="163.30" fill="#cadbe9"/>
<rect x="341.49" y="163.30" fill="#bfd3e5"/>
<rect x="348.73" y="163.30" fill="#d8e3ed"/>
<rect x="355.98" y="163.30" fill="#d9e4ed"/>
<rect x="363.22" y="163.30" fill="#b6cee2"/>
<rect x="370.46" y="163.30" fill="#c3d7e6"/>
<rect x="377.70" y="163.30" fill="#dce6ee"/>
<rect x="384.94" y="163.30" fill="#f0c4ab"/>
<rect x="392.18" y="163.30" fill="#f4dfd1"/>
<rect x="399.43" y="163.30" fill="#f1f3f4"/>
<rect x="406.67" y="163.30" fill="#e39a77"/>
<rect x="413.91" y="163.30" fill="#eebea2"/>
<rect x="421.15" y="163.30" fill="#f3d6c4"/>
<rect x="428.39" y="163.30" fill="#ebb496"/>
<rect x="435.63" y="163.30" fill="#df8f6d"/>
<rect x="442.88" y="163.30" fill="#c75342"/>
<rect x="450.12" y="163.30" fill="#cd6148"/>
<rect x="457.36" y="163.30" fill="#edbb9e"/>
<rect x="290.80" y="164.30" fill="#c5d7e7"/>
<rect x="298.04" y="164.30" fill="#ceddea"/>
<rect x="305.28" y="164.30" fill="#e3eaf0"/>
<rect x="312.53" y="164.30" fill="#c3d6e6"/>
<rect x="319.77" y="164.30" fill="#b5cee2"/>
<rect x="327.01" y="164.30" fill="#cfddea"/>
<rect x="334.25" y="164.30" fill="#b8d0e3"/>
<rect x="341.49" y="164.30" fill="#eceff2"/>
<rect x="348.73" y="164.30" fill="#d5e1ec"/>
<rect x="355.98" y="164.30" fill="#d4e1ec"/>
<rect x="363.22" y="164.30" fill="#d2dfeb"/>
<rect x="370.46" y="164.30" fill="#e4ebf0"/>
<rect x="377.70" y="164.30" fill="#dce6ee"/>
<rect x="384.94" y="164.30" fill="#f4e7de"/>
<rect x="392.18" y="164.30" fill="#e5ebf0"/>
<rect x="399.43" y="164.30" fill="#e7a886"/>
<rect x="406.67" y="164.30" fill="#f4dcce"/>
<rect x="413.91" y="164.30" fill="#dd8b6a"/>
<rect x="421.15" y="164.30" fill="#f4ebe5"/>
<rect x="428.39" y="164.30" fill="#f4e6de"/>
<rect x="435.63" y="164.30" fill="#e9ad8d"/>
<rect x="442.88" y="164.30" fill="#b62e33"/>
<rect x="450.12" y="164.30" fill="#ecb99d"/>
<rect x="457.36" y="164.30" fill="#f1c8af"/>
<rect x="290.80" y="165.30" fill="#bad1e3"/>
<rect x="298.04" y="165.30" fill="#bad1e3"/>
<rect x="305.28" y="165.30" fill="#bdd2e4"/>
<rect x="312.53" y="165.30" fill="#dde6ee"/>
<rect x="319.77" y="165.30" fill="#b4cde1"/>
<rect x="327.01" y="165.30" fill="#cddcea"/>
<rect x="334.25" y="165.30" fill="#d3e0eb"/>
<rect x="341.49" y="165.30" fill="#bad0e3"/>
<rect x="348.73" y="165.30" fill="#acc8df"/>
<rect x="355.98" y="165.30" fill="#dbe5ee"/>
<rect x="363.22" y="165.30" fill="#dee7ee"/>
<rect x="370.46" y="165.30" fill="#c3d6e6"/>
<rect x="377.70" y="165.30" fill="#cfddea"/>
<rect x="384.94" y="165.30" fill="#f3d2bd"/>
<rect x="392.18" y="165.30" fill="#f4daca"/>
<rect x="399.43" y="165.30" fill="#f2f3f4"/>
<rect x="406.67" y="165.30" fill="#f5ede8"/>
<rect x="413.91" y="165.30" fill="#bcd2e4"/>
<rect x="421.15" y="165.30" fill="#e7ecf1"/>
<rect x="428.39" y="165.30" fill="#f5f3f2"/>
<rect x="435.63" y="165.30" fill="#f3cfb9"/>
<rect x="442.88" y="165.30" fill="#c34a3e"/>
<rect x="450.12" y="165.30" fill="#e19573"/>
<rect x="457.36" y="165.30" fill="#e19674"/>
<rect x="290.80" y="166.30" fill="#a2c2db"/>
<rect x="298.04" y="166.30" fill="#c7d8e8"/>
<rect x="305.28" y="166.30" fill="#c3d6e6"/>
<rect x="312.53" y="166.30" fill="#e1e8ef"/>
<rect x="319.77" y="166.30" fill="#dde6ee"/>
<rect x="327.01" y="166.30" fill="#d2e0eb"/>
<rect x="334.25" y="166.30" fill="#d2dfeb"/>
<rect x="341.49" y="166.30" fill="#c5d7e7"/>
<rect x="348.73" y="166.30" fill="#c9dae8"/>
<rect x="355.98" y="166.30" fill="#cadbe9"/>
<rect x="363.22" y="166.30" fill="#a5c4dc"/>
<rect x="370.46" y="166.30" fill="#e7edf1"/>
<rect x="377.70" y="166.30" fill="#f3d0ba"/>
<rect x="384.94" y="166.30" fill="#dd8a6a"/>
<rect x="392.18" y="166.30" fill="#e19673"/>
<rect x="399.43" y="166.30" fill="#edbda1"/>
<rect x="406.67" y="166.30" fill="#eab394"/>
<rect x="413.91" y="166.30" fill="#e8edf1"/>
<rect x="421.15" y="166.30" fill="#eff1f3"/>
<rect x="428.39" y="166.30" fill="#e29774"/>
<rect x="435.63" y="166.30" fill="#e19573"/>
<rect x="442.88" y="166.30" fill="#e6a583"/>
<rect x="450.12" y="166.30" fill="#dd8c6b"/>
<rect x="457.36" y="166.30" fill="#f5f2f1"/>
<rect x="290.80" y="167.30" fill="#c0d4e5"/>
<rect x="298.04" y="167.30" fill="#d7e3ed"/>
<rect x="305.28" y="167.30" fill="#abc7de"/>
<rect x="312.53" y="167.30" fill="#b7cfe2"/>
<rect x="319.77" y="167.30" fill="#cadae9"/>
<rect x="327.01" y="167.30" fill="#bfd4e5"/>
<rect x="334.25" y="167.30" fill="#c3d6e6"/>
<rect x="341.49" y="167.30" fill="#b0cbe0"/>
<rect x="348.73" y="167.30" fill="#b9d0e3"/>
<rect x="355.98" y="167.30" fill="#94b9d7"/>
<rect x="363.22" y="167.30" fill="#bcd2e4"/>
<rect x="370.46" y="167.30" fill="#d4e1ec"/>
<rect x="377.70" y="167.30" fill="#c3d7e6"/>
<rect x="384.94" y="167.30" fill="#eef1f3"/>
<rect x="392.18" y="167.30" fill="#f2cbb4"/>
<rect x="399.43" y="167.30" fill="#eebea3"/>
<rect x="406.67" y="167.30" fill="#f0c4ab"/>
<rect x="413.91" y="167.30" fill="#e9eef2"/>
<rect x="421.15" y="167.30" fill="#eaeef2"/>
<rect x="428.39" y="167.30" fill="#df8f6e"/>
<rect x="435.63" y="167.30" fill="#edba9d"/>
<rect x="442.88" y="167.30" fill="#d26c50"/>
<rect x="450.12" y="167.30" fill="#f3d0ba"/>
<rect x="457.36" y="167.30" fill="#f3f4f5"/>
<rect x="290.80" y="168.30" fill="#97bbd8"/>
<rect x="298.04" y="168.30" fill="#c3d7e6"/>
<rect x="305.28" y="168.30" fill="#a5c4dc"/>
<rect x="312.53" y="168.30" fill="#bbd1e4"/>
<rect x="319.77" y="168.30" fill="#bcd2e4"/>
<rect x="327.01" y="168.30" fill="#dee7ee"/>
<rect x="334.25" y="168.30" fill="#d7e2ec"/>
<rect x="341.49" y="168.30" fill="#d2e0eb"/>
<rect x="348.73" y="168.30" fill="#c4d7e7"/>
<rect x="355.98" y="168.30" fill="#b4cde1"/>
<rect x="363.22" y="168.30" fill="#d3e0eb"/>
<rect x="370.46" y="168.30" fill="#bed3e5"/>
<rect x="377.70" y="168.30" fill="#f5f0ee"/>
<rect x="384.94" y="168.30" fill="#f0c5ac"/>
<rect x="392.18" y="168.30" fill="#f3d7c5"/>
<rect x="399.43" y="168.30" fill="#f3d8c6"/>
<rect x="406.67" y="168.30" fill="#f2f3f4"/>
<rect x="413.91" y="168.30" fill="#e8ab8b"/>
<rect x="421.15" y="168.30" fill="#f3d1bc"/>
<rect x="428.39" y="168.30" fill="#e7a785"/>
<rect x="435.63" y="168.30" fill="#b73235"/>
<rect x="442.88" y="168.30" fill="#e9ae8e"/>
<rect x="450.12" y="168.30" fill="#e19572"/>
<rect x="457.36" y="168.30" fill="#ecb89b"/>
<rect x="290.80" y="169.30" fill="#d3e0ec"/>
<rect x="298.04" y="169.30" fill="#d3e0eb"/>
<rect x="305.28" y="169.30" fill="#d5e1ec"/>
<rect x="312.53" y="169.30" fill="#b4cde1"/>
<rect x="319.77" y="169.30" fill="#ceddea"/>
<rect x="327.01" y="169.30" fill="#dde6ee"/>
<rect x="334.25" y="169.30" fill="#cfddea"/>
<rect x="341.49" y="169.30" fill="#cddcea"/>
<rect x="348.73" y="169.30" fill="#d9e4ed"/>
<rect x="355.98" y="169.30" fill="#b0cbe0"/>
<rect x="363.22" y="169.30" fill="#d4e1ec"/>
<rect x="370.46" y="169.30" fill="#e1e9ef"/>
<rect x="377.70" y="169.30" fill="#f5f1ef"/>
<rect x="384.94" y="169.30" fill="#eff1f3"/>
<rect x="392.18" y="169.30" fill="#ecb89b"/>
<rect x="399.43" y="169.30" fill="#f4e1d6"/>
<rect x="406.67" y="169.30" fill="#f5efec"/>
<rect x="413.91" y="169.30" fill="#f1cab2"/>
<rect x="421.15" y="169.30" fill="#d7e2ec"/>
<rect x="428.39" y="169.30" fill="#e6a481"/>
<rect x="435.63" y="169.30" fill="#edbca1"/>
<rect x="442.88" y="169.30" fill="#d57558"/>
<rect x="450.12" y="169.30" fill="#d16b4f"/>
<rect x="457.36" y="169.30" fill="#f3ceb8"/>
<rect x="290.80" y="170.30" fill="#c8d9e8"/>
<rect x="298.04" y="170.30" fill="#d8e3ed"/>
<rect x="305.28" y="170.30" fill="#d9e4ed"/>
<rect x="312.53" y="170.30" fill="#e0e8ef"/>
<rect x="319.77" y="170.30" fill="#bad0e3"/>
<rect x="327.01" y="170.30" fill="#d2e0eb"/>
<rect x="334.25" y="170.30" fill="#a5c4dc"/>
<rect x="341.49" y="170.30" fill="#d1dfeb"/>
<rect x="348.73" y="170.30" fill="#d7e2ec"/>
<rect x="355.98" y="170.30" fill="#b6cee2"/>
<rect x="363.22" y="170.30" fill="#ccdce9"/>
<rect x="370.46" y="170.30" fill="#d1dfeb"/>
<rect x="377.70" y="170.30" fill="#eceff2"/>
<rect x="384.94" y="170.30" fill="#e5ebf0"/>
<rect x="392.18" y="170.30" fill="#e6a582"/>
<rect x="399.43" y="170.30" fill="#dde6ee"/>
<rect x="406.67" y="170.30" fill="#f4e1d4"/>
<rect x="413.91" y="170.30" fill="#eebfa4"/>
<rect x="421.15" y="170.30" fill="#f4e7de"/>
<rect x="428.39" y="170.30" fill="#df906e"/>
<rect x="435.63" y="170.30" fill="#c65242"/>
<rect x="442.88" y="170.30" fill="#ca5944"/>
<rect x="450.12" y="170.30" fill="#c34b3f"/>
<rect x="457.36" y="170.30" fill="#efc3a9"/>
<rect x="290.80" y="171.30" fill="#a0c0db"/>
<rect x="298.04" y="171.30" fill="#b0cbe0"/>
<rect x="305.28" y="171.30" fill="#bbd1e4"/>
<rect x="312.53" y="171.30" fill="#bad0e3"/>
<rect x="319.77" y="171.30" fill="#97bbd8"/>
<rect x="327.01" y="171.30" fill="#dae4ed"/>
<rect x="334.25" y="171.30" fill="#9abdd9"/>
<rect x="341.49" y="171.30" fill="#a2c2db"/>
<rect x="348.73" y="171.30" fill="#bed3e5"/>
<rect x="355.98" y="171.30" fill="#bad1e3"/>
<rect x="363.22" y="171.30" fill="#d1dfeb"/>
<rect x="370.46" y="171.30" fill="#bad1e3"/>
<rect x="377.70" y="171.30" fill="#eceff2"/>
<rect x="384.94" y="171.30" fill="#f4ebe5"/>
<rect x="392.18" y="171.30" fill="#e5ebf0"/>
<rect x="399.43" y="171.30" fill="#ccdce9"/>
<rect x="406.67" y="171.30" fill="#e5ebf0"/>
<rect x="413.91" y="171.30" fill="#f3d1bc"/>
<rect x="421.15" y="171.30" fill="#e2e9f0"/>
<rect x="428.39" y="171.30" fill="#ebb699"/>
<rect x="435.63" y="171.30" fill="#f2ccb5"/>
<rect x="442.88" y="171.30" fill="#d0674c"/>
<rect x="450.12" y="171.30" fill="#edbca0"/>
<rect x="457.36" y="171.30" fill="#f3d4c0"/>
<rect x="290.80" y="172.30" fill="#bed3e5"/>
<rect x="298.04" y="172.30" fill="#c2d5e6"/>
<rect x="305.28" y="172.30" fill="#b6cee2"/>
<rect x="312.53" y="172.30" fill="#d2e0eb"/>
<rect x="319.77" y="172.30" fill="#bdd3e4"/>
<rect x="327.01" y="172.30" fill="#c7d9e8"/>
<rect x="334.25" y="172.30" fill="#cadbe9"/>
<rect x="341.49" y="172.30" fill="#aec9df"/>
<rect x="348.73" y="172.30" fill="#afcae0"/>
<rect x="355.98" y="172.30" fill="#bdd3e4"/>
<rect x="363.22" y="172.30" fill="#d3e0eb"/>
<rect x="370.46" y="172.30" fill="#abc7de"/>
<rect x="377.70" y="172.30" fill="#c6d8e7"/>
<rect x="384.94" y="172.30" fill="#d2e0eb"/>
<rect x="392.18" y="172.30" fill="#f5f0ed"/>
<rect x="399.43" y="172.30" fill="#dee7ef"/>
<rect x="406.67" y="172.30" fill="#e4eaf0"/>
<rect x="413.91" y="172.30" fill="#f3d6c4"/>
<rect x="421.15" y="172.30" fill="#d2dfeb"/>
<rect x="428.39" y="172.30" fill="#f3d9c9"/>
<rect x="435.63" y="172.30" fill="#f3d6c4"/>
<rect x="442.88" y="172.30" fill="#dc8868"/>
<rect x="450.12" y="172.30" fill="#e39a77"/>
<rect x="457.36" y="172.30" fill="#c1d5e6"/>
<rect x="290.80" y="173.30" fill="#c9dae8"/>
<rect x="298.04" y="173.30" fill="#cddcea"/>
<rect x="305.28" y="173.30" fill="#c7d9e8"/>
<rect x="312.53" y="173.30" fill="#cddcea"/>
<rect x="319.77" y="173.30" fill="#cfdeea"/>
<rect x="327.01" y="173.30" fill="#b1cbe0"/>
<rect x="334.25" y="173.30" fill="#c6d8e7"/>
<rect x="341.49" y="173.30" fill="#d2dfeb"/>
<rect x="348.73" y="173.30" fill="#dae4ed"/>
<rect x="355.98" y="173.30" fill="#b0cae0"/>
<rect x="363.22" y="173.30" fill="#bed3e5"/>
<rect x="370.46" y="173.30" fill="#b0cae0"/>
<rect x="377.70" y="173.30" fill="#f5f4f3"/>
<rect x="384.94" y="173.30" fill="#dde6ee"/>
<rect x="392.18" y="173.30" fill="#f4f5f5"/>
<rect x="399.43" y="173.30" fill="#efc2a8"/>
<rect x="406.67" y="173.30" fill="#db8465"/>
<rect x="413.91" y="173.30" fill="#ceddea"/>
<rect x="421.15" y="173.30" fill="#e9ad8d"/>
<rect x="428.39" y="173.30" fill="#f4e8e1"/>
<rect x="435.63" y="173.30" fill="#d47357"/>
<rect x="442.88" y="173.30" fill="#c75442"/>
<rect x="450.12" y="173.30" fill="#cd6047"/>
<rect x="457.36" y="173.30" fill="#f4ded0"/>
<rect x="290.80" y="174.30" fill="#bcd2e4"/>
<rect x="298.04" y="174.30" fill="#cadae9"/>
<rect x="305.28" y="174.30" fill="#d5e2ec"/>
<rect x="312.53" y="174.30" fill="#bbd1e4"/>
<rect x="319.77" y="174.30" fill="#d1dfeb"/>
<rect x="327.01" y="174.30" fill="#cbdbe9"/>
<rect x="334.25" y="174.30" fill="#ceddea"/>
<rect x="341.49" y="174.30" fill="#cbdbe9"/>
<rect x="348.73" y="174.30" fill="#d3e0eb"/>
<rect x="355.98" y="174.30" fill="#d6e2ec"/>
<rect x="363.22" y="174.30" fill="#c6d8e7"/>
<rect x="370.46" y="174.30" fill="#c5d7e7"/>
<rect x="377.70" y="174.30" fill="#a7c5dd"/>
<rect x="384.94" y="174.30" fill="#e7ecf1"/>
<rect x="392.18" y="174.30" fill="#e6ecf1"/>
<rect x="399.43" y="174.30" fill="#efc1a7"/>
<rect x="406.67" y="174.30" fill="#eceff2"/>
<rect x="413.91" y="174.30" fill="#f5ece7"/>
<rect x="421.15" y="174.30" fill="#f3d4c1"/>
<rect x="428.39" y="174.30" fill="#e59f7b"/>
<rect x="435.63" y="174.30" fill="#c55041"/>
<rect x="442.88" y="174.30" fill="#df8f6d"/>
<rect x="450.12" y="174.30" fill="#de8e6d"/>
<rect x="457.36" y="174.30" fill="#e8aa89"/>
<rect x="290.80" y="175.30" fill="#c5d7e7"/>
<rect x="298.04" y="175.30" fill="#cfdeea"/>
<rect x="305.28" y="175.30" fill="#bed3e5"/>
<rect x="312.53" y="175.30" fill="#c9dae8"/>
<rect x="319.77" y="175.30" fill="#dae5ee"/>
<rect x="327.01" y="175.30" fill="#d3e0eb"/>
<rect x="334.25" y="175.30" fill="#ceddea"/>
<rect x="341.49" y="175.30" fill="#cadbe9"/>
<rect x="348.73" y="175.30" fill="#e4ebf0"/>
<rect x="355.98" y="175.30" fill="#dbe5ee"/>
<rect x="363.22" y="175.30" fill="#bed3e5"/>
<rect x="370.46" y="175.30" fill="#eceff2"/>
<rect x="377.70" y="175.30" fill="#f5f1ef"/>
<rect x="384.94" y="175.30" fill="#f4e1d5"/>
<rect x="392.18" y="175.30" fill="#f3d8c6"/>
<rect x="399.43" y="175.30" fill="#f4e0d3"/>
<rect x="406.67" y="175.30" fill="#ecb89b"/>
<rect x="413.91" y="175.30" fill="#f2f3f4"/>
<rect x="421.15" y="175.30" fill="#f3d8c7"/>
<rect x="428.39" y="175.30" fill="#f0c5ac"/>
<rect x="435.63" y="175.30" fill="#ac1a2b"/>
<rect x="442.88" y="175.30" fill="#b93536"/>
<rect x="450.12" y="175.30" fill="#d47154"/>
<rect x="457.36" y="175.30" fill="#eab192"/>
<rect x="290.80" y="176.30" fill="#c8d9e8"/>
<rect x="298.04" y="176.30" fill="#c0d4e5"/>
<rect x="305.28" y="176.30" fill="#91b7d6"/>
<rect x="312.53" y="176.30" fill="#c5d8e7"/>
<rect x="319.77" y="176.30" fill="#b8cfe3"/>
<rect x="327.01" y="176.30" fill="#cadbe9"/>
<rect x="334.25" y="176.30" fill="#c3d6e6"/>
<rect x="341.49" y="176.30" fill="#b3cde1"/>
<rect x="348.73" y="176.30" fill="#adc9df"/>
<rect x="355.98" y="176.30" fill="#abc7de"/>
<rect x="363.22" y="176.30" fill="#c3d6e6"/>
<rect x="370.46" y="176.30" fill="#bbd2e4"/>
<rect x="377.70" y="176.30" fill="#cbdbe9"/>
<rect x="384.94" y="176.30" fill="#e6ecf1"/>
<rect x="392.18" y="176.30" fill="#f4daca"/>
<rect x="399.43" y="176.30" fill="#ebeff2"/>
<rect x="406.67" y="176.30" fill="#f5f1ef"/>
<rect x="413.91" y="176.30" fill="#eff2f3"/>
<rect x="421.15" y="176.30" fill="#86b0d2"/>
<rect x="428.39" y="176.30" fill="#f3d7c5"/>
<rect x="435.63" y="176.30" fill="#e7a886"/>
<rect x="442.88" y="176.30" fill="#c75342"/>
<rect x="450.12" y="176.30" fill="#d57457"/>
<rect x="457.36" y="176.30" fill="#eff1f3"/>
<rect x="290.80" y="177.30" fill="#d0deeb"/>
<rect x="298.04" y="177.30" fill="#cbdbe9"/>
<rect x="305.28" y="177.30" fill="#c8d9e8"/>
<rect x="312.53" y="177.30" fill="#d3e0eb"/>
<rect x="319.77" y="177.30" fill="#d3e0ec"/>
<rect x="327.01" y="177.30" fill="#b0cae0"/>
<rect x="334.25" y="177.30" fill="#dae5ee"/>
<rect x="341.49" y="177.30" fill="#c3d6e6"/>
<rect x="348.73" y="177.30" fill="#bad1e3"/>
<rect x="355.98" y="177.30" fill="#bad1e3"/>
<rect x="363.22" y="177.30" fill="#c2d6e6"/>
<rect x="370.46" y="177.30" fill="#b2cce1"/>
<rect x="377.70" y="177.30" fill="#f3d4c0"/>
<rect x="384.94" y="177.30" fill="#f4e0d3"/>
<rect x="392.18" y="177.30" fill="#f5f5f5"/>
<rect x="399.43" y="177.30" fill="#efc3a9"/>
<rect x="406.67" y="177.30" fill="#f4dbcb"/>
<rect x="413.91" y="177.30" fill="#f4daca"/>
<rect x="421.15" y="177.30" fill="#f2ccb5"/>
<rect x="428.39" y="177.30" fill="#f3d1bc"/>
<rect x="435.63" y="177.30" fill="#e7a684"/>
<rect x="442.88" y="177.30" fill="#c55041"/>
<rect x="450.12" y="177.30" fill="#f4e5dc"/>
<rect x="457.36" y="177.30" fill="#ebeff2"/>
<rect x="290.80" y="178.30" fill="#d3e0eb"/>
<rect x="298.04" y="178.30" fill="#d9e4ed"/>
<rect x="305.28" y="178.30" fill="#aec9df"/>
<rect x="312.53" y="178.30" fill="#cddcea"/>
<rect x="319.77" y="178.30" fill="#c0d5e5"/>
<rect x="327.01" y="178.30" fill="#c7d9e8"/>
<rect x="334.25" y="178.30" fill="#d4e1ec"/>
<rect x="341.49" y="178.30" fill="#dee7ef"/>
<rect x="348.73" y="178.30" fill="#e2e9f0"/>
<rect x="355.98" y="178.30" fill="#d8e3ed"/>
<rect x="363.22" y="178.30" fill="#d4e1ec"/>
<rect x="370.46" y="178.30" fill="#cfddea"/>
<rect x="377.70" y="178.30" fill="#b8d0e3"/>
<rect x="384.94" y="178.30" fill="#f4dac9"/>
<rect x="392.18" y="178.30" fill="#f3f4f4"/>
<rect x="399.43" y="178.30" fill="#f0f2f3"/>
<rect x="406.67" y="178.30" fill="#f3d7c5"/>
<rect x="413.91" y="178.30" fill="#e4eaf0"/>
<rect x="421.15" y="178.30" fill="#e6a27f"/>
<rect x="428.39" y="178.30" fill="#e9ad8d"/>
<rect x="435.63" y="178.30" fill="#d87c5e"/>
<rect x="442.88" y="178.30" fill="#bf433c"/>
<rect x="450.12" y="178.30" fill="#dd8b6b"/>
<rect x="457.36" y="178.30" fill="#f3d0bb"/>
<rect x="290.80" y="179.30" fill="#d0dfeb"/>
<rect x="298.04" y="179.30" fill="#b9d0e3"/>
<rect x="305.28" y="179.30" fill="#cadbe9"/>
<rect x="312.53" y="179.30" fill="#c8d9e8"/>
<rect x="319.77" y="179.30" fill="#d1dfeb"/>
<rect x="327.01" y="179.30" fill="#b1cbe0"/>
<rect x="334.25" y="179.30" fill="#cadae9"/>
<rect x="341.49" y="179.30" fill="#c3d6e6"/>
<rect x="348.73" y="179.30" fill="#d0deea"/>
<rect x="355.98" y="179.30" fill="#cfddea"/>
<rect x="363.22" y="179.30" fill="#c8dae8"/>
<rect x="370.46" y="179.30" fill="#cdddea"/>
<rect x="377.70" y="179.30" fill="#f4e9e3"/>
<rect x="384.94" y="179.30" fill="#efc2a7"/>
<rect x="392.18" y="179.30" fill="#f3d2bd"/>
<rect x="399.43" y="179.30" fill="#f3d0bb"/>
<rect x="406.67" y="179.30" fill="#e9eef2"/>
<rect x="413.91" y="179.30" fill="#f4e4da"/>
<rect x="421.15" y="179.30" fill="#f3d4c1"/>
<rect x="428.39" y="179.30" fill="#e7a785"/>
<rect x="435.63" y="179.30" fill="#f0c5ac"/>
<rect x="442.88" y="179.30" fill="#d47155"/>
<rect x="450.12" y="179.30" fill="#eab091"/>
<rect x="457.36" y="179.30" fill="#f4dac9"/>
<rect x="290.80" y="180.30" fill="#a9c6de"/>
<rect x="298.04" y="180.30" fill="#aac7de"/>
<rect x="305.28" y="180.30" fill="#b0cbe0"/>
<rect x="312.53" y="180.30" fill="#b3cde1"/>
<rect x="319.77" y="180.30" fill="#c4d7e7"/>
<rect x="327.01" y="180.30" fill="#a2c2db"/>
<rect x="334.25" y="180.30" fill="#a0c1db"/>
<rect x="341.49" y="180.30" fill="#bfd4e5"/>
<rect x="348.73" y="180.30" fill="#bad1e3"/>
<rect x="355.98" y="180.30" fill="#aec9df"/>
<rect x="363.22" y="180.30" fill="#9cbed9"/>
<rect x="370.46" y="180.30" fill="#c4d7e7"/>
<rect x="377.70" y="180.30" fill="#aac7de"/>
<rect x="384.94" y="180.30" fill="#f4e5db"/>
<rect x="392.18" y="180.30" fill="#f5ece7"/>
<rect x="399.43" y="180.30" fill="#eceff2"/>
<rect x="406.67" y="180.30" fill="#e8edf1"/>
<rect x="413.91" y="180.30" fill="#f4ded0"/>
<rect x="421.15" y="180.30" fill="#e5ebf1"/>
<rect x="428.39" y="180.30" fill="#c8d9e8"/>
<rect x="435.63" y="180.30" fill="#f3d7c6"/>
<rect x="442.88" y="180.30" fill="#f4e8e0"/>
<rect x="450.12" y="180.30" fill="#ebb597"/>
<rect x="457.36" y="180.30" fill="#f3d8c6"/>
<rect x="290.80" y="181.30" fill="#dae4ed"/>
<rect x="298.04" y="181.30" fill="#b5cee2"/>
<rect x="305.28" y="181.30" fill="#e7ecf1"/>
<rect x="312.53" y="181.30" fill="#e3eaf0"/>
<rect x="319.77" y="181.30" fill="#ccdce9"/>
<rect x="327.01" y="181.30" fill="#aac7de"/>
<rect x="334.25" y="181.30" fill="#bed3e5"/>
<rect x="341.49" y="181.30" fill="#dae4ed"/>
<rect x="348.73" y="181.30" fill="#e6ecf1"/>
<rect x="355.98" y="181.30" fill="#c4d7e7"/>
<rect x="363.22" y="181.30" fill="#acc8df"/>
<rect x="370.46" y="181.30" fill="#bcd2e4"/>
<rect x="377.70" y="181.30" fill="#e8a987"/>
<rect x="384.94" y="181.30" fill="#f4e4da"/>
<rect x="392.18" y="181.30" fill="#eef1f3"/>
<rect x="399.43" y="181.30" fill="#d2dfeb"/>
<rect x="406.67" y="181.30" fill="#efc2a8"/>
<rect x="413.91" y="181.30" fill="#ebb597"/>
<rect x="421.15" y="181.30" fill="#f5f0ed"/>
<rect x="428.39" y="181.30" fill="#f1cab3"/>
<rect x="435.63" y="181.30" fill="#dc8868"/>
<rect x="442.88" y="181.30" fill="#d36f53"/>
<rect x="450.12" y="181.30" fill="#e9ad8d"/>
<rect x="457.36" y="181.30" fill="#f4e2d7"/>
<rect x="290.80" y="182.30" fill="#d0deea"/>
<rect x="298.04" y="182.30" fill="#e5ebf0"/>
<rect x="305.28" y="182.30" fill="#dbe5ee"/>
<rect x="312.53" y="182.30" fill="#e3eaf0"/>
<rect x="319.77" y="182.30" fill="#ecf0f3"/>
<rect x="327.01" y="182.30" fill="#b2cce1"/>
<rect x="334.25" y="182.30" fill="#d6e2ec"/>
<rect x="341.49" y="182.30" fill="#e2e9f0"/>
<rect x="348.73" y="182.30" fill="#d4e1ec"/>
<rect x="355.98" y="182.30" fill="#d0deea"/>
<rect x="363.22" y="182.30" fill="#dbe5ee"/>
<rect x="370.46" y="182.30" fill="#d0deeb"/>
<rect x="377.70" y="182.30" fill="#f5f5f5"/>
<rect x="384.94" y="182.30" fill="#f4ddce"/>
<rect x="392.18" y="182.30" fill="#ecb99c"/>
<rect x="399.43" y="182.30" fill="#efc2a8"/>
<rect x="406.67" y="182.30" fill="#e6a27f"/>
<rect x="413.91" y="182.30" fill="#eebea3"/>
<rect x="421.15" y="182.30" fill="#f4dfd2"/>
<rect x="428.39" y="182.30" fill="#9b1428"/>
<rect x="435.63" y="182.30" fill="#d77b5d"/>
<rect x="442.88" y="182.30" fill="#c44c3f"/>
<rect x="450.12" y="182.30" fill="#d98061"/>
<rect x="457.36" y="182.30" fill="#f3d5c3"/>
<rect x="290.80" y="183.30" fill="#b3cce1"/>
<rect x="298.04" y="183.30" fill="#d1dfeb"/>
<rect x="305.28" y="183.30" fill="#e0e8ef"/>
<rect x="312.53" y="183.30" fill="#afcae0"/>
<rect x="319.77" y="183.30" fill="#c2d6e6"/>
<rect x="327.01" y="183.30" fill="#d4e1ec"/>
<rect x="334.25" y="183.30" fill="#c3d6e6"/>
<rect x="341.49" y="183.30" fill="#d5e1ec"/>
<rect x="348.73" y="183.30" fill="#ceddea"/>
<rect x="355.98" y="183.30" fill="#bcd2e4"/>
<rect x="363.22" y="183.30" fill="#ccdce9"/>
<rect x="370.46" y="183.30" fill="#c6d8e7"/>
<rect x="377.70" y="183.30" fill="#f4dac9"/>
<rect x="384.94" y="183.30" fill="#abc8de"/>
<rect x="392.18" y="183.30" fill="#eebea2"/>
<rect x="399.43" y="183.30" fill="#e5a07d"/>
<rect x="406.67" y="183.30" fill="#f3d2be"/>
<rect x="413.91" y="183.30" fill="#f1c8b0"/>
<rect x="421.15" y="183.30" fill="#f5efec"/>
<rect x="428.39" y="183.30" fill="#eab294"/>
<rect x="435.63" y="183.30" fill="#df8f6e"/>
<rect x="442.88" y="183.30" fill="#e39b78"/>
<rect x="450.12" y="183.30" fill="#efc4aa"/>
<rect x="457.36" y="183.30" fill="#d3e0eb"/>
<rect x="290.80" y="184.30" fill="#c6d8e7"/>
<rect x="298.04" y="184.30" fill="#c1d5e6"/>
<rect x="305.28" y="184.30" fill="#d0dfeb"/>
<rect x="312.53" y="184.30" fill="#c3d6e6"/>
<rect x="319.77" y="184.30" fill="#cbdbe9"/>
<rect x="327.01" y="184.30" fill="#a6c4dd"/>
<rect x="334.25" y="184.30" fill="#9dbfda"/>
<rect x="341.49" y="184.30" fill="#b4cde1"/>
<rect x="348.73" y="184.30" fill="#b8d0e3"/>
<rect x="355.98" y="184.30" fill="#c5d7e7"/>
<rect x="363.22" y="184.30" fill="#bcd2e4"/>
<rect x="370.46" y="184.30" fill="#bbd1e4"/>
<rect x="377.70" y="184.30" fill="#ebeff2"/>
<rect x="384.94" y="184.30" fill="#f5efec"/>
<rect x="392.18" y="184.30" fill="#f4ded0"/>
<rect x="399.43" y="184.30" fill="#f4e0d3"/>
<rect x="406.67" y="184.30" fill="#eef1f3"/>
<rect x="413.91" y="184.30" fill="#f4e9e2"/>
<rect x="421.15" y="184.30" fill="#c2d6e6"/>
<rect x="428.39" y="184.30" fill="#eff1f3"/>
<rect x="435.63" y="184.30" fill="#ebb496"/>
<rect x="442.88" y="184.30" fill="#d0674c"/>
<rect x="450.12" y="184.30" fill="#f2ceb8"/>
<rect x="457.36" y="184.30" fill="#dae4ed"/>
</g>
<path d="M308.10,33.10H418.75M308.10,33.10V47.50M418.75,33.10V36.90M294.20,47.50H322.30M294.20,47.50V56.30M322.30,47.50V50.30M301.60,50.30H368.00M301.60,50.30V56.30M308.90,51.60V56.30M316.15,51.60V56.30M323.39,51.60V56.30M330.63,51.60V56.30M337.87,51.60V56.30M345.11,51.60V56.30M352.35,51.60V56.30M359.60,51.60V56.30M366.84,51.60V56.30M374.08,51.60V56.30M308.90,51.60H316.15M323.39,51.60H330.63M337.87,52.00H352.35M359.60,51.20H366.84M366.84,51.70H374.08M395.70,36.90H441.00M395.70,36.90V44.60M385.10,44.60H413.50M385.10,44.60V46.30M381.32,46.30H388.56M381.32,46.30V56.30M388.56,46.30V56.30M399.70,44.60V45.60M395.80,45.60H403.05M395.80,45.60V56.30M403.05,45.60V56.30M413.50,44.60V46.20M410.29,46.20H417.53M410.29,46.20V56.30M417.53,46.20V56.30M430.30,37.60H452.00M430.30,37.60V43.20M424.77,43.20H435.60M424.77,43.20V56.30M435.60,43.20V45.70M432.01,45.70H439.25M432.01,45.70V56.30M439.25,45.70V56.30M452.00,37.60V42.50M446.50,42.50H457.90M446.50,42.50V56.30M457.90,42.50V44.30M453.74,44.30H460.98M453.74,44.30V56.30M460.98,44.30V56.30" fill="none" stroke="#111" stroke-width="0.9"/>
<rect x="322.30" y="49.70" width="21.00" height="1.30" fill="#000"/>
<rect x="290.80" y="56.75" width="87.30" height="3.90" fill="#5fac4e"/>
<rect x="378.10" y="56.75" width="86.50" height="3.90" fill="#df6a66"/>
<rect x="378.10" y="62.10" width="42.90" height="3.70" fill="#7189cb"/>
<rect x="443.00" y="62.10" width="21.60" height="3.70" fill="#7189cb"/>
<rect x="465.20" y="44.00" width="6.10" height="6.00" fill="#df6a66"/>
<rect x="465.20" y="50.00" width="6.10" height="5.80" fill="#5fac4e"/>
<text x="474.10" y="48.70" font-size="6.6" fill="#2a2a2a" color="#2a2a2a" text-anchor="start" font-weight="normal" font-style="normal" textLength="18.2" lengthAdjust="spacingAndGlyphs" style="stroke-width:0.08px">CMML</text>
<text x="474.10" y="54.80" font-size="6.6" fill="#2a2a2a" color="#2a2a2a" text-anchor="start" font-weight="normal" font-style="normal" textLength="34.0" lengthAdjust="spacingAndGlyphs" style="stroke-width:0.08px">Old Controls</text>
<rect x="467.20" y="61.80" width="4.10" height="4.10" fill="#7189cb"/>
<text x="474.40" y="65.90" font-size="6.3" fill="#000" color="#000" text-anchor="start" font-weight="bold" font-style="italic" textLength="38.0" lengthAdjust="spacingAndGlyphs">TET2 Mutant</text>
<defs><linearGradient id="g2925" x1="0" y1="0" x2="0" y2="1"><stop offset="0.00" stop-color="#67001f"/><stop offset="0.10" stop-color="#ac1a2b"/><stop offset="0.20" stop-color="#ce6248"/><stop offset="0.30" stop-color="#e5a07c"/><stop offset="0.40" stop-color="#f3d0ba"/><stop offset="0.50" stop-color="#f5f5f5"/><stop offset="0.60" stop-color="#ceddea"/><stop offset="0.70" stop-color="#92b8d6"/><stop offset="0.80" stop-color="#468abc"/><stop offset="0.90" stop-color="#2164aa"/><stop offset="1.00" stop-color="#053061"/></linearGradient></defs>
<rect x="466.70" y="68.10" width="4.50" height="64.80" fill="url(#g2925)"/>
<text x="474.00" y="73.70" font-size="6.4" fill="#333" color="#333" text-anchor="start" font-weight="normal" font-style="normal">3</text>
<text x="474.00" y="83.10" font-size="6.4" fill="#333" color="#333" text-anchor="start" font-weight="normal" font-style="normal">2</text>
<text x="474.00" y="93.00" font-size="6.4" fill="#333" color="#333" text-anchor="start" font-weight="normal" font-style="normal">1</text>
<text x="474.00" y="102.70" font-size="6.4" fill="#333" color="#333" text-anchor="start" font-weight="normal" font-style="normal">0</text>
<text x="474.00" y="112.20" font-size="6.4" fill="#333" color="#333" text-anchor="start" font-weight="normal" font-style="normal">-1</text>
<text x="474.00" y="122.30" font-size="6.4" fill="#333" color="#333" text-anchor="start" font-weight="normal" font-style="normal">-2</text>
<text x="474.00" y="132.00" font-size="6.4" fill="#333" color="#333" text-anchor="start" font-weight="normal" font-style="normal">-3</text>
<path d="M290.80,71.47H281.21M290.80,71.80H281.21M290.80,67.47H281.05M290.80,67.80H281.05M290.80,70.80H280.83M290.80,71.13H280.83M290.80,72.80H280.55M290.80,73.13H280.55M281.21,71.63H280.49M290.80,72.13H280.49M281.05,67.63H280.37M290.80,68.13H280.37M290.80,69.47H280.33M290.80,69.80H280.33M290.80,72.47H280.31M280.55,72.97H280.31M280.33,69.63H280.19M290.80,70.13H280.19M290.80,68.80H280.18M290.80,69.13H280.18M290.80,70.47H279.33M280.83,70.97H279.33M290.80,68.47H279.32M280.18,68.97H279.32M279.33,70.72H275.94M280.49,71.88H275.94M275.94,71.30H275.87M280.31,72.72H275.87M279.32,68.72H275.36M280.19,69.88H275.36M275.36,69.30H271.90M275.87,72.01H271.90M280.37,67.88H271.90M271.90,70.65H271.90" fill="none" stroke="#000" stroke-width="0.62"/>
<path d="M281.21,71.17V72.10M281.05,67.17V68.10M280.83,70.50V71.43M280.55,72.50V73.43M280.49,71.33V72.43M280.37,67.33V68.43M280.33,69.17V70.10M280.31,72.17V73.27M280.19,69.33V70.43M280.18,68.50V69.43M279.33,70.17V71.27M279.32,68.17V69.27M275.94,70.42V72.18M275.87,71.00V73.02M275.36,68.42V70.18M271.90,69.00V72.31M271.90,67.58V70.95" fill="none" stroke="#000" stroke-width="0.6"/>
<path d="M290.80,128.80H284.17M290.80,129.13H284.17M290.80,150.47H283.95M290.80,150.80H283.95M290.80,118.80H283.94M290.80,119.13H283.94M290.80,129.80H283.88M290.80,130.13H283.88M290.80,95.47H283.87M290.80,95.80H283.87M290.80,161.80H283.78M290.80,162.13H283.78M290.80,132.80H283.71M290.80,133.13H283.71M290.80,128.47H283.64M284.17,128.97H283.64M290.80,89.47H283.61M290.80,89.80H283.61M290.80,77.80H283.60M290.80,78.13H283.60M290.80,178.80H283.57M290.80,179.13H283.57M290.80,106.80H283.56M290.80,107.13H283.56M290.80,114.47H283.52M290.80,114.80H283.52M290.80,171.80H283.47M290.80,172.13H283.47M290.80,131.80H283.46M290.80,132.13H283.46M290.80,181.47H283.43M290.80,181.80H283.43M290.80,183.47H283.43M290.80,183.80H283.43M290.80,104.80H283.41M290.80,105.13H283.41M290.80,81.80H283.40M290.80,82.13H283.40M290.80,132.47H283.40M283.71,132.97H283.40M290.80,130.47H283.38M290.80,130.80H283.38M290.80,180.80H283.37M290.80,181.13H283.37M290.80,134.47H283.36M290.80,134.80H283.36M290.80,171.47H283.33M283.47,171.97H283.33M290.80,109.47H283.32M290.80,109.80H283.32M290.80,103.47H283.30M290.80,103.80H283.30M290.80,158.80H283.27M290.80,159.13H283.27M290.80,101.47H283.27M290.80,101.80H283.27M290.80,98.80H283.25M290.80,99.13H283.25M283.95,150.63H283.25M290.80,151.13H283.25M290.80,82.80H283.19M290.80,83.13H283.19M290.80,152.47H283.18M290.80,152.80H283.18M290.80,141.80H283.17M290.80,142.13H283.17M290.80,84.47H283.16M290.80,84.80H283.16M290.80,178.47H283.13M283.57,178.97H283.13M290.80,141.47H283.10M283.17,141.97H283.10M290.80,107.47H283.09M290.80,107.80H283.09M290.80,159.47H283.08M290.80,159.80H283.08M290.80,172.47H283.06M290.80,172.80H283.06M290.80,90.80H283.04M290.80,91.13H283.04M290.80,184.80H283.03M290.80,185.13H283.03M290.80,110.80H283.01M290.80,111.13H283.01M283.87,95.63H283.01M290.80,96.13H283.01M290.80,154.80H283.01M290.80,155.13H283.01M290.80,157.47H283.00M290.80,157.80H283.00M283.30,103.63H283.00M290.80,104.13H283.00M290.80,137.47H283.00M290.80,137.80H283.00M283.16,84.63H282.96M290.80,85.13H282.96M290.80,173.47H282.96M290.80,173.80H282.96M290.80,113.80H282.95M290.80,114.13H282.95M290.80,112.47H282.94M290.80,112.80H282.94M290.80,133.47H282.93M290.80,133.80H282.93M282.93,133.63H282.93M290.80,134.13H282.93M283.38,130.63H282.92M290.80,131.13H282.92M290.80,83.47H282.92M290.80,83.80H282.92M290.80,85.80H282.91M290.80,86.13H282.91M290.80,169.80H282.91M290.80,170.13H282.91M290.80,92.80H282.91M290.80,93.13H282.91M290.80,180.47H282.87M283.37,180.97H282.87M290.80,177.80H282.87M290.80,178.13H282.87M290.80,177.47H282.87M282.87,177.97H282.87M290.80,164.80H282.86M290.80,165.13H282.86M290.80,164.47H282.86M282.86,164.97H282.86M283.00,137.63H282.85M290.80,138.13H282.85M290.80,149.80H282.85M290.80,150.13H282.85M290.80,145.80H282.84M290.80,146.13H282.84M282.96,173.63H282.84M290.80,174.13H282.84M290.80,113.47H282.84M282.95,113.97H282.84M283.61,89.63H282.83M290.80,90.13H282.83M283.43,181.63H282.83M290.80,182.13H282.83M283.52,114.63H282.82M290.80,115.13H282.82M290.80,121.80H282.81M290.80,122.13H282.81M290.80,92.47H282.81M282.91,92.97H282.81M290.80,108.47H282.81M290.80,108.80H282.81M290.80,121.47H282.79M282.81,121.97H282.79M290.80,170.47H282.79M290.80,170.80H282.79M290.80,118.47H282.79M283.94,118.97H282.79M290.80,97.80H282.78M290.80,98.13H282.78M290.80,81.47H282.78M283.40,81.97H282.78M290.80,102.80H282.77M290.80,103.13H282.77M290.80,156.80H282.77M290.80,157.13H282.77M290.80,122.47H282.76M290.80,122.80H282.76M290.80,86.80H282.74M290.80,87.13H282.74M290.80,153.47H282.72M290.80,153.80H282.72M282.79,170.63H282.72M290.80,171.13H282.72M290.80,179.80H282.71M290.80,180.13H282.71M290.80,179.47H282.71M282.71,179.97H282.71M283.09,107.63H282.71M290.80,108.13H282.71M290.80,93.47H282.69M290.80,93.80H282.69M290.80,104.47H282.67M283.41,104.97H282.67M290.80,120.80H282.66M290.80,121.13H282.66M290.80,139.47H282.66M290.80,139.80H282.66M290.80,98.47H282.66M283.25,98.97H282.66M290.80,117.80H282.65M290.80,118.13H282.65M290.80,166.47H282.63M290.80,166.80H282.63M290.80,111.47H282.62M290.80,111.80H282.62M290.80,80.47H282.61M290.80,80.80H282.61M282.61,80.63H282.61M290.80,81.13H282.61M283.00,157.63H282.61M290.80,158.13H282.61M290.80,149.47H282.60M282.85,149.97H282.60M290.80,176.80H282.60M290.80,177.13H282.60M283.36,134.63H282.57M290.80,135.13H282.57M290.80,174.80H282.55M290.80,175.13H282.55M290.80,102.47H282.55M282.77,102.97H282.55M283.18,152.63H282.54M290.80,153.13H282.54M290.80,75.47H282.54M290.80,75.80H282.54M290.80,126.80H282.54M290.80,127.13H282.54M290.80,87.80H282.53M290.80,88.13H282.53M290.80,123.47H282.52M290.80,123.80H282.52M290.80,175.80H282.52M290.80,176.13H282.52M290.80,138.80H282.51M290.80,139.13H282.51M290.80,143.80H282.51M290.80,144.13H282.51M290.80,85.47H282.50M282.91,85.97H282.50M282.72,153.63H282.48M290.80,154.13H282.48M290.80,167.80H282.48M290.80,168.13H282.48M290.80,165.80H282.48M290.80,166.13H282.48M290.80,131.47H282.47M283.46,131.97H282.47M290.80,94.47H282.46M290.80,94.80H282.46M290.80,88.47H282.45M290.80,88.80H282.45M290.80,76.80H282.44M290.80,77.13H282.44M290.80,119.47H282.43M290.80,119.80H282.43M283.27,101.63H282.42M290.80,102.13H282.42M290.80,161.47H282.42M283.78,161.97H282.42M290.80,144.80H282.41M290.80,145.13H282.41M283.06,172.63H282.41M290.80,173.13H282.41M290.80,124.80H282.40M290.80,125.13H282.40M290.80,124.47H282.40M282.40,124.97H282.40M283.08,159.63H282.38M290.80,160.13H282.38M290.80,100.47H282.37M290.80,100.80H282.37M282.37,100.63H282.37M290.80,101.13H282.37M290.80,163.47H282.37M290.80,163.80H282.37M290.80,126.47H282.35M282.54,126.97H282.35M290.80,174.47H282.35M282.55,174.97H282.35M290.80,182.47H282.35M290.80,182.80H282.35M290.80,105.47H282.34M290.80,105.80H282.34M282.37,163.63H282.34M290.80,164.13H282.34M290.80,140.80H282.34M290.80,141.13H282.34M290.80,140.47H282.34M282.34,140.97H282.34M290.80,91.80H282.32M290.80,92.13H282.32M290.80,91.47H282.32M282.32,91.97H282.32M290.80,162.80H282.32M290.80,163.13H282.32M282.76,122.63H282.32M290.80,123.13H282.32M290.80,154.47H282.30M283.01,154.97H282.30M290.80,168.80H282.30M290.80,169.13H282.30M290.80,168.47H282.30M282.30,168.97H282.30M290.80,96.80H282.28M290.80,97.13H282.28M282.45,88.63H282.27M290.80,89.13H282.27M290.80,136.47H282.27M290.80,136.80H282.27M282.27,136.63H282.27M290.80,137.13H282.27M282.69,93.63H282.26M290.80,94.13H282.26M282.46,94.63H282.24M290.80,95.13H282.24M290.80,143.47H282.24M282.51,143.97H282.24M290.80,74.47H282.23M290.80,74.80H282.23M282.23,74.63H282.23M290.80,75.13H282.23M290.80,110.47H282.21M283.01,110.97H282.21M282.92,83.63H282.21M290.80,84.13H282.21M290.80,127.47H282.20M290.80,127.80H282.20M283.43,183.63H282.20M290.80,184.13H282.20M290.80,158.47H282.19M283.27,158.97H282.19M290.80,76.47H282.19M282.44,76.97H282.19M290.80,116.80H282.17M290.80,117.13H282.17M283.32,109.63H282.15M290.80,110.13H282.15M290.80,167.47H282.15M282.48,167.97H282.15M290.80,90.47H282.14M283.04,90.97H282.14M290.80,175.47H282.13M282.52,175.97H282.13M290.80,162.47H282.12M282.32,162.97H282.12M290.80,138.47H282.12M282.51,138.97H282.12M290.80,184.47H282.11M283.03,184.97H282.11M282.43,119.63H282.10M290.80,120.13H282.10M290.80,147.47H282.09M290.80,147.80H282.09M282.81,108.63H282.08M290.80,109.13H282.08M282.52,123.63H282.08M290.80,124.13H282.08M290.80,86.47H282.08M282.74,86.97H282.08M290.80,144.47H282.06M282.41,144.97H282.06M282.34,105.63H282.05M290.80,106.13H282.05M290.80,142.47H282.05M290.80,142.80H282.05M282.05,142.63H282.05M290.80,143.13H282.05M290.80,169.47H282.05M282.91,169.97H282.05M282.62,111.63H282.04M290.80,112.13H282.04M290.80,129.47H282.03M283.88,129.97H282.03M290.80,106.47H282.02M283.56,106.97H282.02M290.80,135.80H282.00M290.80,136.13H282.00M290.80,151.47H282.00M290.80,151.80H282.00M290.80,117.47H282.00M282.65,117.97H282.00M290.80,115.80H281.97M290.80,116.13H281.97M290.80,125.80H281.92M290.80,126.13H281.92M290.80,125.47H281.92M281.92,125.97H281.92M282.63,166.63H281.91M290.80,167.13H281.91M290.80,165.47H281.89M282.48,165.97H281.89M290.80,146.80H281.87M290.80,147.13H281.87M290.80,77.47H281.86M283.60,77.97H281.86M290.80,99.80H281.85M290.80,100.13H281.85M290.80,82.47H281.84M283.19,82.97H281.84M290.80,78.47H281.83M290.80,78.80H281.83M281.83,78.63H281.83M290.80,79.13H281.83M290.80,160.47H281.79M290.80,160.80H281.79M290.80,155.80H281.78M290.80,156.13H281.78M290.80,155.47H281.78M281.78,155.97H281.78M282.00,117.72H281.78M282.79,118.72H281.78M290.80,73.80H281.69M290.80,74.13H281.69M290.80,96.47H281.68M282.28,96.97H281.68M290.80,176.47H281.67M282.60,176.97H281.67M290.80,73.47H281.64M281.69,73.97H281.64M290.80,99.47H281.63M281.85,99.97H281.63M282.35,182.63H281.62M290.80,183.13H281.62M282.54,75.63H281.61M290.80,76.13H281.61M282.94,112.63H281.58M290.80,113.13H281.58M290.80,145.47H281.58M282.84,145.97H281.58M290.80,146.47H281.57M281.87,146.97H281.57M290.80,148.80H281.55M290.80,149.13H281.55M290.80,156.47H281.52M282.77,156.97H281.52M290.80,120.47H281.50M282.66,120.97H281.50M282.21,110.72H281.48M282.04,111.88H281.48M282.09,147.63H281.47M290.80,148.13H281.47M282.84,113.72H281.46M282.82,114.88H281.46M290.80,87.47H281.42M282.53,87.97H281.42M282.50,85.72H281.41M282.08,86.72H281.41M282.66,139.63H281.39M290.80,140.13H281.39M282.00,151.63H281.36M290.80,152.13H281.36M290.80,79.47H281.35M290.80,79.80H281.35M281.35,79.63H281.35M290.80,80.13H281.35M281.58,112.88H281.35M281.46,114.30H281.35M290.80,116.47H281.34M282.17,116.97H281.34M290.80,115.47H281.27M281.97,115.97H281.27M282.20,127.63H281.26M290.80,128.13H281.26M282.81,92.72H281.20M282.26,93.88H281.20M290.80,135.47H281.18M282.00,135.97H281.18M282.08,123.88H281.14M282.40,124.72H281.14M281.79,160.63H281.14M290.80,161.13H281.14M290.80,97.47H281.14M282.78,97.97H281.14M283.33,171.72H281.12M282.41,172.88H281.12M282.71,107.88H281.04M282.08,108.88H281.04M281.04,108.38H281.04M282.15,109.88H281.04M282.96,84.88H281.01M281.41,86.22H281.01M290.80,148.47H280.94M281.55,148.97H280.94M281.14,124.30H280.90M281.92,125.72H280.90M281.04,109.13H280.88M281.48,111.30H280.88M281.34,116.72H280.85M281.78,118.22H280.85M280.85,117.47H280.85M282.10,119.88H280.85M282.83,89.88H280.84M282.14,90.72H280.84M281.20,93.30H280.80M282.24,94.88H280.80M282.05,169.72H280.70M282.72,170.88H280.70M281.01,85.55H280.69M281.42,87.72H280.69M280.88,110.22H280.68M281.35,113.59H280.68M281.63,99.72H280.67M282.37,100.88H280.67M280.90,125.01H280.59M282.35,126.72H280.59M281.14,97.72H280.59M282.66,98.72H280.59M281.27,115.72H280.55M280.85,118.67H280.55M280.68,111.90H280.55M280.55,117.20H280.55M281.52,156.72H280.55M282.61,157.88H280.55M280.67,100.30H280.46M282.42,101.88H280.46M280.69,86.63H280.43M282.27,88.88H280.43M280.43,87.76H280.43M280.84,90.30H280.43M283.13,178.72H280.32M282.71,179.72H280.32M282.87,177.72H280.32M280.32,179.22H280.32M280.59,98.22H280.25M280.46,101.09H280.25M282.78,81.72H280.22M281.84,82.72H280.22M282.32,91.72H280.20M280.80,94.09H280.20M280.25,99.65H280.16M282.55,102.72H280.16M282.32,122.88H280.15M280.59,125.86H280.15M282.79,121.72H280.15M280.15,124.37H280.15M280.15,123.04H280.15M281.26,127.88H280.15M282.67,104.72H280.12M282.05,105.88H280.12M280.43,89.03H280.10M280.20,92.90H280.10M280.55,114.55H280.08M281.50,120.72H280.08M280.08,117.63H280.08M280.15,125.46H280.08M282.05,142.88H280.03M282.24,143.72H280.03M282.54,152.88H280.02M282.48,153.88H280.02M281.14,160.88H279.97M282.42,161.72H279.97M282.85,137.88H279.96M282.12,138.72H279.96M281.18,135.72H279.93M282.27,136.88H279.93M282.21,83.88H279.92M280.10,90.97H279.92M282.34,163.88H279.91M282.86,164.72H279.91M281.64,73.72H279.84M282.23,74.88H279.84M280.12,105.30H279.74M282.02,106.72H279.74M279.74,106.01H279.74M280.08,121.55H279.74M279.92,87.42H279.73M283.01,95.88H279.73M283.10,141.72H279.70M280.03,143.30H279.70M282.12,162.72H279.69M279.91,164.30H279.69M279.73,91.65H279.69M281.68,96.72H279.69M281.47,147.88H279.67M280.94,148.72H279.67M281.61,75.88H279.67M282.19,76.72H279.67M282.35,174.72H279.64M282.13,175.72H279.64M282.84,173.88H279.64M279.64,175.22H279.64M279.97,161.30H279.58M279.69,163.51H279.58M281.91,166.88H279.56M282.15,167.72H279.56M282.30,168.72H279.54M280.70,170.30H279.54M282.47,131.72H279.47M283.40,132.72H279.47M282.92,130.88H279.47M279.47,132.22H279.47M279.93,136.30H279.47M279.96,138.30H279.47M279.69,94.19H279.43M280.16,101.19H279.43M279.58,162.40H279.40M281.89,165.72H279.40M280.02,153.38H279.38M282.30,154.72H279.38M279.38,154.05H279.38M281.78,155.72H279.38M282.34,140.72H279.35M279.70,142.51H279.35M282.20,183.88H279.14M282.11,184.72H279.14M279.35,141.61H279.08M282.06,144.72H279.08M279.67,148.30H279.02M282.60,149.72H279.02M279.54,169.51H279.02M281.12,172.30H279.02M281.86,77.72H278.94M281.83,78.88H278.94M279.02,170.90H278.91M279.64,174.55H278.91M278.91,172.73H278.91M281.67,176.72H278.91M278.91,174.72H278.91M280.32,178.47H278.91M279.08,143.16H278.90M281.58,145.72H278.90M282.57,134.88H278.89M279.47,137.30H278.89M278.89,136.09H278.89M281.39,139.88H278.89M278.89,137.99H278.89M278.90,144.44H278.89M279.40,164.06H278.86M279.56,167.30H278.86M278.86,165.68H278.86M278.91,176.59H278.86M279.38,154.88H278.81M280.55,157.30H278.81M281.36,151.88H278.81M278.81,156.09H278.81M283.25,150.88H278.81M278.81,153.99H278.81M279.02,149.01H278.81M278.81,152.44H278.81M282.83,181.88H278.69M281.62,182.88H278.69M281.57,146.72H278.64M278.81,150.72H278.64M278.89,141.21H278.64M278.64,148.72H278.64M282.38,159.88H278.63M278.86,171.14H278.63M282.19,158.72H278.63M278.63,165.51H278.63M278.64,144.97H278.63M278.63,162.11H278.63M282.61,80.88H278.62M280.22,82.22H278.62M283.00,103.88H278.55M279.74,113.78H278.55M279.43,97.69H278.55M278.55,108.83H278.55M281.35,79.88H278.45M278.62,81.55H278.45M278.94,78.30H278.45M278.45,80.72H278.45M279.67,76.30H278.45M278.45,79.51H278.45M279.84,74.30H278.45M278.45,77.90H278.45M279.47,131.55H278.44M282.93,133.88H278.44M278.44,132.72H278.44M278.63,153.54H278.44M278.69,182.38H278.38M279.14,184.30H278.38M283.64,128.72H277.84M282.03,129.72H277.84M277.84,129.22H277.84M278.44,143.13H277.84M277.84,136.17H277.66M282.87,180.72H277.66M277.66,158.44H277.66M278.38,183.34H277.66M278.55,103.26H276.18M277.66,170.89H276.18M278.45,76.10H270.60M276.18,137.08H270.60" fill="none" stroke="#000" stroke-width="0.62"/>
<path d="M284.17,128.50V129.43M283.95,150.17V151.10M283.94,118.50V119.43M283.88,129.50V130.43M283.87,95.17V96.10M283.78,161.50V162.43M283.71,132.50V133.43M283.64,128.17V129.27M283.61,89.17V90.10M283.60,77.50V78.43M283.57,178.50V179.43M283.56,106.50V107.43M283.52,114.17V115.10M283.47,171.50V172.43M283.46,131.50V132.43M283.43,181.17V182.10M283.43,183.17V184.10M283.41,104.50V105.43M283.40,81.50V82.43M283.40,132.17V133.27M283.38,130.17V131.10M283.37,180.50V181.43M283.36,134.17V135.10M283.33,171.17V172.27M283.32,109.17V110.10M283.30,103.17V104.10M283.27,158.50V159.43M283.27,101.17V102.10M283.25,98.50V99.43M283.25,150.33V151.43M283.19,82.50V83.43M283.18,152.17V153.10M283.17,141.50V142.43M283.16,84.17V85.10M283.13,178.17V179.27M283.10,141.17V142.27M283.09,107.17V108.10M283.08,159.17V160.10M283.06,172.17V173.10M283.04,90.50V91.43M283.03,184.50V185.43M283.01,110.50V111.43M283.01,95.33V96.43M283.01,154.50V155.43M283.00,157.17V158.10M283.00,103.33V104.43M283.00,137.17V138.10M282.96,84.33V85.43M282.96,173.17V174.10M282.95,113.50V114.43M282.94,112.17V113.10M282.93,133.17V134.10M282.93,133.33V134.43M282.92,130.33V131.43M282.92,83.17V84.10M282.91,85.50V86.43M282.91,169.50V170.43M282.91,92.50V93.43M282.87,180.17V181.27M282.87,177.50V178.43M282.87,177.17V178.27M282.86,164.50V165.43M282.86,164.17V165.27M282.85,137.33V138.43M282.85,149.50V150.43M282.84,145.50V146.43M282.84,173.33V174.43M282.84,113.17V114.27M282.83,89.33V90.43M282.83,181.33V182.43M282.82,114.33V115.43M282.81,121.50V122.43M282.81,92.17V93.27M282.81,108.17V109.10M282.79,121.17V122.27M282.79,170.17V171.10M282.79,118.17V119.27M282.78,97.50V98.43M282.78,81.17V82.27M282.77,102.50V103.43M282.77,156.50V157.43M282.76,122.17V123.10M282.74,86.50V87.43M282.72,153.17V154.10M282.72,170.33V171.43M282.71,179.50V180.43M282.71,179.17V180.27M282.71,107.33V108.43M282.69,93.17V94.10M282.67,104.17V105.27M282.66,120.50V121.43M282.66,139.17V140.10M282.66,98.17V99.27M282.65,117.50V118.43M282.63,166.17V167.10M282.62,111.17V112.10M282.61,80.17V81.10M282.61,80.33V81.43M282.61,157.33V158.43M282.60,149.17V150.27M282.60,176.50V177.43M282.57,134.33V135.43M282.55,174.50V175.43M282.55,102.17V103.27M282.54,152.33V153.43M282.54,75.17V76.10M282.54,126.50V127.43M282.53,87.50V88.43M282.52,123.17V124.10M282.52,175.50V176.43M282.51,138.50V139.43M282.51,143.50V144.43M282.50,85.17V86.27M282.48,153.33V154.43M282.48,167.50V168.43M282.48,165.50V166.43M282.47,131.17V132.27M282.46,94.17V95.10M282.45,88.17V89.10M282.44,76.50V77.43M282.43,119.17V120.10M282.42,101.33V102.43M282.42,161.17V162.27M282.41,144.50V145.43M282.41,172.33V173.43M282.40,124.50V125.43M282.40,124.17V125.27M282.38,159.33V160.43M282.37,100.17V101.10M282.37,100.33V101.43M282.37,163.17V164.10M282.35,126.17V127.27M282.35,174.17V175.27M282.35,182.17V183.10M282.34,105.17V106.10M282.34,163.33V164.43M282.34,140.50V141.43M282.34,140.17V141.27M282.32,91.50V92.43M282.32,91.17V92.27M282.32,162.50V163.43M282.32,122.33V123.43M282.30,154.17V155.27M282.30,168.50V169.43M282.30,168.17V169.27M282.28,96.50V97.43M282.27,88.33V89.43M282.27,136.17V137.10M282.27,136.33V137.43M282.26,93.33V94.43M282.24,94.33V95.43M282.24,143.17V144.27M282.23,74.17V75.10M282.23,74.33V75.43M282.21,110.17V111.27M282.21,83.33V84.43M282.20,127.17V128.10M282.20,183.33V184.43M282.19,158.17V159.27M282.19,76.17V77.27M282.17,116.50V117.43M282.15,109.33V110.43M282.15,167.17V168.27M282.14,90.17V91.27M282.13,175.17V176.27M282.12,162.17V163.27M282.12,138.17V139.27M282.11,184.17V185.27M282.10,119.33V120.43M282.09,147.17V148.10M282.08,108.33V109.43M282.08,123.33V124.43M282.08,86.17V87.27M282.06,144.17V145.27M282.05,105.33V106.43M282.05,142.17V143.10M282.05,142.33V143.43M282.05,169.17V170.27M282.04,111.33V112.43M282.03,129.17V130.27M282.02,106.17V107.27M282.00,135.50V136.43M282.00,151.17V152.10M282.00,117.17V118.27M281.97,115.50V116.43M281.92,125.50V126.43M281.92,125.17V126.27M281.91,166.33V167.43M281.89,165.17V166.27M281.87,146.50V147.43M281.86,77.17V78.27M281.85,99.50V100.43M281.84,82.17V83.27M281.83,78.17V79.10M281.83,78.33V79.43M281.79,160.17V161.10M281.78,155.50V156.43M281.78,155.17V156.27M281.78,117.42V119.02M281.69,73.50V74.43M281.68,96.17V97.27M281.67,176.17V177.27M281.64,73.17V74.27M281.63,99.17V100.27M281.62,182.33V183.43M281.61,75.33V76.43M281.58,112.33V113.43M281.58,145.17V146.27M281.57,146.17V147.27M281.55,148.50V149.43M281.52,156.17V157.27M281.50,120.17V121.27M281.48,110.42V112.18M281.47,147.33V148.43M281.46,113.42V115.18M281.42,87.17V88.27M281.41,85.42V87.02M281.39,139.33V140.43M281.36,151.33V152.43M281.35,79.17V80.10M281.35,79.33V80.43M281.35,112.58V114.60M281.34,116.17V117.27M281.27,115.17V116.27M281.26,127.33V128.43M281.20,92.42V94.18M281.18,135.17V136.27M281.14,123.58V125.02M281.14,160.33V161.43M281.14,97.17V98.27M281.12,171.42V173.18M281.04,107.58V109.18M281.04,108.08V110.18M281.01,84.58V86.52M280.94,148.17V149.27M280.90,124.00V126.02M280.88,108.83V111.60M280.85,116.42V118.52M280.85,117.17V120.18M280.84,89.58V91.02M280.80,93.00V95.18M280.70,169.42V171.18M280.69,85.25V88.02M280.68,109.92V113.89M280.67,99.42V101.18M280.59,124.71V127.02M280.59,97.42V99.02M280.55,115.42V118.97M280.55,111.60V117.50M280.55,156.42V158.18M280.46,100.00V102.18M280.43,86.33V89.18M280.43,87.46V90.60M280.32,178.42V180.02M280.32,177.42V179.52M280.25,97.92V101.39M280.22,81.42V83.02M280.20,91.42V94.39M280.16,99.35V103.02M280.15,122.58V126.16M280.15,121.42V124.67M280.15,122.74V128.18M280.12,104.42V106.18M280.10,88.73V93.20M280.08,114.25V121.02M280.08,117.33V125.76M280.03,142.58V144.02M280.02,152.58V154.18M279.97,160.58V162.02M279.96,137.58V139.02M279.93,135.42V137.18M279.92,83.58V91.27M279.91,163.58V165.02M279.84,73.42V75.18M279.74,105.00V107.02M279.74,105.71V121.85M279.73,87.12V96.18M279.70,141.42V143.60M279.69,162.42V164.60M279.69,91.35V97.02M279.67,147.58V149.02M279.67,75.58V77.02M279.64,174.42V176.02M279.64,173.58V175.52M279.58,161.00V163.81M279.56,166.58V168.02M279.54,168.42V170.60M279.47,131.42V133.02M279.47,130.58V132.52M279.47,136.00V138.60M279.43,93.89V101.49M279.40,162.10V166.02M279.38,153.08V155.02M279.38,153.75V156.02M279.35,140.42V142.81M279.14,183.58V185.02M279.08,141.31V145.02M279.02,148.00V150.02M279.02,169.21V172.60M278.94,77.42V79.18M278.91,170.60V174.85M278.91,172.43V177.02M278.91,174.42V178.77M278.90,142.86V146.02M278.89,134.58V137.60M278.89,135.79V140.18M278.89,137.69V144.74M278.86,163.76V167.60M278.86,165.38V176.89M278.81,154.58V157.60M278.81,151.58V156.39M278.81,150.58V154.29M278.81,148.71V152.74M278.69,181.58V183.18M278.64,146.42V151.02M278.64,140.91V149.02M278.63,159.58V171.44M278.63,158.42V165.81M278.63,144.67V162.41M278.62,80.58V82.52M278.55,103.58V114.08M278.55,97.39V109.13M278.45,79.58V81.85M278.45,78.00V81.02M278.45,76.00V79.81M278.45,74.00V78.20M278.44,131.25V134.18M278.44,132.42V153.84M278.38,182.08V184.60M277.84,128.42V130.02M277.84,128.92V143.43M277.66,135.87V181.02M277.66,158.14V183.64M276.18,102.96V171.19M270.60,75.80V137.38" fill="none" stroke="#000" stroke-width="0.6"/>
<path d="M271.9,69.27H267.4V106.59H270.6" fill="none" stroke="#000" stroke-width="0.8"/>
<style>.h2939 rect{width:7.288px;height:1.523px}</style><g class="h2939" filter="url(#soft)">
<rect x="30.10" y="269.90" fill="#df8f6e"/>
<rect x="37.34" y="269.90" fill="#e8a987"/>
<rect x="44.58" y="269.90" fill="#de8e6d"/>
<rect x="51.81" y="269.90" fill="#dc8868"/>
<rect x="59.05" y="269.90" fill="#f3d4c0"/>
<rect x="66.29" y="269.90" fill="#e7a583"/>
<rect x="73.53" y="269.90" fill="#f3d4c0"/>
<rect x="80.76" y="269.90" fill="#eec0a5"/>
<rect x="88.00" y="269.90" fill="#e49d7a"/>
<rect x="95.24" y="269.90" fill="#f2cdb6"/>
<rect x="102.47" y="269.90" fill="#eec0a6"/>
<rect x="109.71" y="269.90" fill="#ecba9d"/>
<rect x="116.95" y="269.90" fill="#b4cde1"/>
<rect x="124.19" y="269.90" fill="#89b3d3"/>
<rect x="131.43" y="269.90" fill="#b1cbe0"/>
<rect x="138.66" y="269.90" fill="#c9dae8"/>
<rect x="145.90" y="269.90" fill="#e3eaf0"/>
<rect x="153.14" y="269.90" fill="#f5f2f0"/>
<rect x="160.38" y="269.90" fill="#84afd1"/>
<rect x="167.61" y="269.90" fill="#95bad7"/>
<rect x="174.85" y="269.90" fill="#d77b5d"/>
<rect x="182.09" y="269.90" fill="#e49d79"/>
<rect x="189.33" y="269.90" fill="#a5c3dc"/>
<rect x="196.56" y="269.90" fill="#bdd3e4"/>
<rect x="30.10" y="271.37" fill="#f1f2f4"/>
<rect x="37.34" y="271.37" fill="#f2f3f4"/>
<rect x="44.58" y="271.37" fill="#f4dacb"/>
<rect x="51.81" y="271.37" fill="#e19573"/>
<rect x="59.05" y="271.37" fill="#d6775a"/>
<rect x="66.29" y="271.37" fill="#f3d1bc"/>
<rect x="73.53" y="271.37" fill="#ecb89b"/>
<rect x="80.76" y="271.37" fill="#ecb79a"/>
<rect x="88.00" y="271.37" fill="#efc2a8"/>
<rect x="95.24" y="271.37" fill="#f5f0ed"/>
<rect x="102.47" y="271.37" fill="#eab091"/>
<rect x="109.71" y="271.37" fill="#efc3a9"/>
<rect x="116.95" y="271.37" fill="#629bc6"/>
<rect x="124.19" y="271.37" fill="#0a386d"/>
<rect x="131.43" y="271.37" fill="#3d81b8"/>
<rect x="138.66" y="271.37" fill="#bfd4e5"/>
<rect x="145.90" y="271.37" fill="#e1e9ef"/>
<rect x="153.14" y="271.37" fill="#d9e4ed"/>
<rect x="160.38" y="271.37" fill="#7eaccf"/>
<rect x="167.61" y="271.37" fill="#dee7ef"/>
<rect x="174.85" y="271.37" fill="#e5a17d"/>
<rect x="182.09" y="271.37" fill="#eec0a5"/>
<rect x="189.33" y="271.37" fill="#94b9d7"/>
<rect x="196.56" y="271.37" fill="#619ac5"/>
<rect x="30.10" y="272.84" fill="#e1e9ef"/>
<rect x="37.34" y="272.84" fill="#e29875"/>
<rect x="44.58" y="272.84" fill="#f2ccb5"/>
<rect x="51.81" y="272.84" fill="#ecb89a"/>
<rect x="59.05" y="272.84" fill="#e9ae8e"/>
<rect x="66.29" y="272.84" fill="#f3d9c8"/>
<rect x="73.53" y="272.84" fill="#e49d7a"/>
<rect x="80.76" y="272.84" fill="#efc3aa"/>
<rect x="88.00" y="272.84" fill="#f3d0ba"/>
<rect x="95.24" y="272.84" fill="#f3d0ba"/>
<rect x="102.47" y="272.84" fill="#f4e4da"/>
<rect x="109.71" y="272.84" fill="#f4ddcf"/>
<rect x="116.95" y="272.84" fill="#e1e9ef"/>
<rect x="124.19" y="272.84" fill="#478bbc"/>
<rect x="131.43" y="272.84" fill="#639cc6"/>
<rect x="138.66" y="272.84" fill="#dbe5ee"/>
<rect x="145.90" y="272.84" fill="#f4ded0"/>
<rect x="153.14" y="272.84" fill="#adc8df"/>
<rect x="160.38" y="272.84" fill="#9dbfda"/>
<rect x="167.61" y="272.84" fill="#c7d8e8"/>
<rect x="174.85" y="272.84" fill="#f5f4f3"/>
<rect x="182.09" y="272.84" fill="#b0cae0"/>
<rect x="189.33" y="272.84" fill="#f4daca"/>
<rect x="196.56" y="272.84" fill="#4387bb"/>
<rect x="30.10" y="274.32" fill="#e8edf1"/>
<rect x="37.34" y="274.32" fill="#f4e2d6"/>
<rect x="44.58" y="274.32" fill="#f0c4ab"/>
<rect x="51.81" y="274.32" fill="#eab294"/>
<rect x="59.05" y="274.32" fill="#f1c9b1"/>
<rect x="66.29" y="274.32" fill="#f1c8af"/>
<rect x="73.53" y="274.32" fill="#f4d9c9"/>
<rect x="80.76" y="274.32" fill="#f3d2bd"/>
<rect x="88.00" y="274.32" fill="#f3cfb8"/>
<rect x="95.24" y="274.32" fill="#f0c5ac"/>
<rect x="102.47" y="274.32" fill="#e7a786"/>
<rect x="109.71" y="274.32" fill="#ebb698"/>
<rect x="116.95" y="274.32" fill="#bfd4e5"/>
<rect x="124.19" y="274.32" fill="#a5c4dc"/>
<rect x="131.43" y="274.32" fill="#4d8ebe"/>
<rect x="138.66" y="274.32" fill="#f4e4db"/>
<rect x="145.90" y="274.32" fill="#f3f4f5"/>
<rect x="153.14" y="274.32" fill="#81aed0"/>
<rect x="160.38" y="274.32" fill="#77a8cd"/>
<rect x="167.61" y="274.32" fill="#af202d"/>
<rect x="174.85" y="274.32" fill="#5493c1"/>
<rect x="182.09" y="274.32" fill="#f4dfd2"/>
<rect x="189.33" y="274.32" fill="#c1d5e6"/>
<rect x="196.56" y="274.32" fill="#8fb6d5"/>
<rect x="30.10" y="275.79" fill="#adc9df"/>
<rect x="37.34" y="275.79" fill="#f0c6ad"/>
<rect x="44.58" y="275.79" fill="#efc2a8"/>
<rect x="51.81" y="275.79" fill="#f4d9c9"/>
<rect x="59.05" y="275.79" fill="#efc2a8"/>
<rect x="66.29" y="275.79" fill="#f1c9b0"/>
<rect x="73.53" y="275.79" fill="#eebfa4"/>
<rect x="80.76" y="275.79" fill="#f4e2d7"/>
<rect x="88.00" y="275.79" fill="#edbb9f"/>
<rect x="95.24" y="275.79" fill="#f3d0ba"/>
<rect x="102.47" y="275.79" fill="#f4dbcc"/>
<rect x="109.71" y="275.79" fill="#f4f4f5"/>
<rect x="116.95" y="275.79" fill="#679ec7"/>
<rect x="124.19" y="275.79" fill="#3578b4"/>
<rect x="131.43" y="275.79" fill="#f5f5f4"/>
<rect x="138.66" y="275.79" fill="#74a6cc"/>
<rect x="145.90" y="275.79" fill="#eebea2"/>
<rect x="153.14" y="275.79" fill="#f4e6dc"/>
<rect x="160.38" y="275.79" fill="#b7cfe2"/>
<rect x="167.61" y="275.79" fill="#b8cfe3"/>
<rect x="174.85" y="275.79" fill="#d8e3ed"/>
<rect x="182.09" y="275.79" fill="#3074b2"/>
<rect x="189.33" y="275.79" fill="#f5ece7"/>
<rect x="196.56" y="275.79" fill="#377ab4"/>
<rect x="30.10" y="277.26" fill="#d1dfeb"/>
<rect x="37.34" y="277.26" fill="#f0c6ad"/>
<rect x="44.58" y="277.26" fill="#ebeff2"/>
<rect x="51.81" y="277.26" fill="#f4e3d8"/>
<rect x="59.05" y="277.26" fill="#f4e0d3"/>
<rect x="66.29" y="277.26" fill="#f4e7df"/>
<rect x="73.53" y="277.26" fill="#ecb79a"/>
<rect x="80.76" y="277.26" fill="#e49c79"/>
<rect x="88.00" y="277.26" fill="#f0c6ad"/>
<rect x="95.24" y="277.26" fill="#f3ceb8"/>
<rect x="102.47" y="277.26" fill="#eebea2"/>
<rect x="109.71" y="277.26" fill="#f3d2be"/>
<rect x="116.95" y="277.26" fill="#85b0d2"/>
<rect x="124.19" y="277.26" fill="#659dc7"/>
<rect x="131.43" y="277.26" fill="#5a96c3"/>
<rect x="138.66" y="277.26" fill="#b0cae0"/>
<rect x="145.90" y="277.26" fill="#f1f3f4"/>
<rect x="153.14" y="277.26" fill="#d5e1ec"/>
<rect x="160.38" y="277.26" fill="#cbdbe9"/>
<rect x="167.61" y="277.26" fill="#3e82b8"/>
<rect x="174.85" y="277.26" fill="#71a4cb"/>
<rect x="182.09" y="277.26" fill="#6ea2ca"/>
<rect x="189.33" y="277.26" fill="#d9e4ed"/>
<rect x="196.56" y="277.26" fill="#154e8c"/>
<rect x="30.10" y="278.73" fill="#ecb79a"/>
<rect x="37.34" y="278.73" fill="#e5a17d"/>
<rect x="44.58" y="278.73" fill="#f3d7c5"/>
<rect x="51.81" y="278.73" fill="#e8a988"/>
<rect x="59.05" y="278.73" fill="#f5f2f0"/>
<rect x="66.29" y="278.73" fill="#f1c9b0"/>
<rect x="73.53" y="278.73" fill="#f4e8e1"/>
<rect x="80.76" y="278.73" fill="#e8aa89"/>
<rect x="88.00" y="278.73" fill="#eab091"/>
<rect x="95.24" y="278.73" fill="#ecb99c"/>
<rect x="102.47" y="278.73" fill="#f3d4c0"/>
<rect x="109.71" y="278.73" fill="#f4dfd2"/>
<rect x="116.95" y="278.73" fill="#9abdd9"/>
<rect x="124.19" y="278.73" fill="#3074b1"/>
<rect x="131.43" y="278.73" fill="#9fc0da"/>
<rect x="138.66" y="278.73" fill="#5694c2"/>
<rect x="145.90" y="278.73" fill="#f4ebe5"/>
<rect x="153.14" y="278.73" fill="#e7edf1"/>
<rect x="160.38" y="278.73" fill="#1b5899"/>
<rect x="167.61" y="278.73" fill="#478bbd"/>
<rect x="174.85" y="278.73" fill="#91b7d5"/>
<rect x="182.09" y="278.73" fill="#639bc6"/>
<rect x="189.33" y="278.73" fill="#4286ba"/>
<rect x="196.56" y="278.73" fill="#4589bb"/>
<rect x="30.10" y="280.21" fill="#b8cfe3"/>
<rect x="37.34" y="280.21" fill="#f0c5ac"/>
<rect x="44.58" y="280.21" fill="#f4eae4"/>
<rect x="51.81" y="280.21" fill="#f4ded0"/>
<rect x="59.05" y="280.21" fill="#eab192"/>
<rect x="66.29" y="280.21" fill="#f4e8e0"/>
<rect x="73.53" y="280.21" fill="#f0c4ab"/>
<rect x="80.76" y="280.21" fill="#e49d7a"/>
<rect x="88.00" y="280.21" fill="#e9ae8f"/>
<rect x="95.24" y="280.21" fill="#f4e0d4"/>
<rect x="102.47" y="280.21" fill="#da8464"/>
<rect x="109.71" y="280.21" fill="#f3d1bc"/>
<rect x="116.95" y="280.21" fill="#bed3e5"/>
<rect x="124.19" y="280.21" fill="#95bad7"/>
<rect x="131.43" y="280.21" fill="#5693c1"/>
<rect x="138.66" y="280.21" fill="#e8edf1"/>
<rect x="145.90" y="280.21" fill="#4387ba"/>
<rect x="153.14" y="280.21" fill="#d8e3ed"/>
<rect x="160.38" y="280.21" fill="#acc8df"/>
<rect x="167.61" y="280.21" fill="#96bad7"/>
<rect x="174.85" y="280.21" fill="#cadae9"/>
<rect x="182.09" y="280.21" fill="#d7e2ec"/>
<rect x="189.33" y="280.21" fill="#edf0f3"/>
<rect x="196.56" y="280.21" fill="#2e71b0"/>
<rect x="30.10" y="281.68" fill="#f2cbb4"/>
<rect x="37.34" y="281.68" fill="#e5a17d"/>
<rect x="44.58" y="281.68" fill="#edbca1"/>
<rect x="51.81" y="281.68" fill="#ebb597"/>
<rect x="59.05" y="281.68" fill="#f5f4f3"/>
<rect x="66.29" y="281.68" fill="#f4e2d7"/>
<rect x="73.53" y="281.68" fill="#ebb698"/>
<rect x="80.76" y="281.68" fill="#f4e1d5"/>
<rect x="88.00" y="281.68" fill="#e8a988"/>
<rect x="95.24" y="281.68" fill="#e5a17e"/>
<rect x="102.47" y="281.68" fill="#f3d7c5"/>
<rect x="109.71" y="281.68" fill="#f4daca"/>
<rect x="116.95" y="281.68" fill="#73a5cb"/>
<rect x="124.19" y="281.68" fill="#5f99c5"/>
<rect x="131.43" y="281.68" fill="#b0cbe0"/>
<rect x="138.66" y="281.68" fill="#c2d6e6"/>
<rect x="145.90" y="281.68" fill="#f4f5f5"/>
<rect x="153.14" y="281.68" fill="#9cbed9"/>
<rect x="160.38" y="281.68" fill="#b8d0e3"/>
<rect x="167.61" y="281.68" fill="#7aa9ce"/>
<rect x="174.85" y="281.68" fill="#f3f4f4"/>
<rect x="182.09" y="281.68" fill="#c8d9e8"/>
<rect x="189.33" y="281.68" fill="#4f8fbf"/>
<rect x="196.56" y="281.68" fill="#689fc8"/>
<rect x="30.10" y="283.15" fill="#c4d7e7"/>
<rect x="37.34" y="283.15" fill="#e5a17e"/>
<rect x="44.58" y="283.15" fill="#f3d4c0"/>
<rect x="51.81" y="283.15" fill="#e29875"/>
<rect x="59.05" y="283.15" fill="#e49e7b"/>
<rect x="66.29" y="283.15" fill="#d98162"/>
<rect x="73.53" y="283.15" fill="#eab293"/>
<rect x="80.76" y="283.15" fill="#ecb99c"/>
<rect x="88.00" y="283.15" fill="#e39977"/>
<rect x="95.24" y="283.15" fill="#f3d7c6"/>
<rect x="102.47" y="283.15" fill="#edbb9f"/>
<rect x="109.71" y="283.15" fill="#efc2a8"/>
<rect x="116.95" y="283.15" fill="#86b1d2"/>
<rect x="124.19" y="283.15" fill="#134a85"/>
<rect x="131.43" y="283.15" fill="#1f60a4"/>
<rect x="138.66" y="283.15" fill="#5e99c4"/>
<rect x="145.90" y="283.15" fill="#eab294"/>
<rect x="153.14" y="283.15" fill="#ccdce9"/>
<rect x="160.38" y="283.15" fill="#d2e0eb"/>
<rect x="167.61" y="283.15" fill="#afcae0"/>
<rect x="174.85" y="283.15" fill="#bdd2e4"/>
<rect x="182.09" y="283.15" fill="#e7edf1"/>
<rect x="189.33" y="283.15" fill="#3377b3"/>
<rect x="196.56" y="283.15" fill="#4488bb"/>
<rect x="30.10" y="284.62" fill="#d1dfeb"/>
<rect x="37.34" y="284.62" fill="#f3d7c5"/>
<rect x="44.58" y="284.62" fill="#f4e5db"/>
<rect x="51.81" y="284.62" fill="#f4e3d9"/>
<rect x="59.05" y="284.62" fill="#f4dcce"/>
<rect x="66.29" y="284.62" fill="#e7a583"/>
<rect x="73.53" y="284.62" fill="#f3d2be"/>
<rect x="80.76" y="284.62" fill="#f2cdb7"/>
<rect x="88.00" y="284.62" fill="#f0c6ad"/>
<rect x="95.24" y="284.62" fill="#eab192"/>
<rect x="102.47" y="284.62" fill="#e7a785"/>
<rect x="109.71" y="284.62" fill="#edbca1"/>
<rect x="116.95" y="284.62" fill="#7fadd0"/>
<rect x="124.19" y="284.62" fill="#73a5cc"/>
<rect x="131.43" y="284.62" fill="#3c7fb7"/>
<rect x="138.66" y="284.62" fill="#d7e3ed"/>
<rect x="145.90" y="284.62" fill="#e9ae8e"/>
<rect x="153.14" y="284.62" fill="#afcae0"/>
<rect x="160.38" y="284.62" fill="#629bc6"/>
<rect x="167.61" y="284.62" fill="#3f83b9"/>
<rect x="174.85" y="284.62" fill="#c7d9e8"/>
<rect x="182.09" y="284.62" fill="#c1d5e6"/>
<rect x="189.33" y="284.62" fill="#a8c6dd"/>
<rect x="196.56" y="284.62" fill="#3a7eb6"/>
<rect x="30.10" y="286.10" fill="#e9af90"/>
<rect x="37.34" y="286.10" fill="#ecb99c"/>
<rect x="44.58" y="286.10" fill="#e7a886"/>
<rect x="51.81" y="286.10" fill="#efc3a9"/>
<rect x="59.05" y="286.10" fill="#e19674"/>
<rect x="66.29" y="286.10" fill="#e6a27f"/>
<rect x="73.53" y="286.10" fill="#eebda2"/>
<rect x="80.76" y="286.10" fill="#f1c9b1"/>
<rect x="88.00" y="286.10" fill="#d26d51"/>
<rect x="95.24" y="286.10" fill="#f3d4c0"/>
<rect x="102.47" y="286.10" fill="#f3d2bd"/>
<rect x="109.71" y="286.10" fill="#f5f0ed"/>
<rect x="116.95" y="286.10" fill="#b9d0e3"/>
<rect x="124.19" y="286.10" fill="#5b97c3"/>
<rect x="131.43" y="286.10" fill="#78a8cd"/>
<rect x="138.66" y="286.10" fill="#6fa3ca"/>
<rect x="145.90" y="286.10" fill="#f5f2f0"/>
<rect x="153.14" y="286.10" fill="#b1cbe0"/>
<rect x="160.38" y="286.10" fill="#5694c2"/>
<rect x="167.61" y="286.10" fill="#a9c6de"/>
<rect x="174.85" y="286.10" fill="#dbe5ee"/>
<rect x="182.09" y="286.10" fill="#9abdd9"/>
<rect x="189.33" y="286.10" fill="#aec9df"/>
<rect x="196.56" y="286.10" fill="#92b8d6"/>
<rect x="30.10" y="287.57" fill="#f4e6dd"/>
<rect x="37.34" y="287.57" fill="#f1c8b0"/>
<rect x="44.58" y="287.57" fill="#eab091"/>
<rect x="51.81" y="287.57" fill="#ecb79a"/>
<rect x="59.05" y="287.57" fill="#e7a886"/>
<rect x="66.29" y="287.57" fill="#e8aa89"/>
<rect x="73.53" y="287.57" fill="#e9ac8c"/>
<rect x="80.76" y="287.57" fill="#f2ceb8"/>
<rect x="88.00" y="287.57" fill="#e49d79"/>
<rect x="95.24" y="287.57" fill="#e7a583"/>
<rect x="102.47" y="287.57" fill="#f2cdb6"/>
<rect x="109.71" y="287.57" fill="#e59f7b"/>
<rect x="116.95" y="287.57" fill="#8bb4d4"/>
<rect x="124.19" y="287.57" fill="#2265ab"/>
<rect x="131.43" y="287.57" fill="#73a5cc"/>
<rect x="138.66" y="287.57" fill="#7baace"/>
<rect x="145.90" y="287.57" fill="#f1c8b0"/>
<rect x="153.14" y="287.57" fill="#8bb4d3"/>
<rect x="160.38" y="287.57" fill="#f2f3f4"/>
<rect x="167.61" y="287.57" fill="#75a6cc"/>
<rect x="174.85" y="287.57" fill="#bfd4e5"/>
<rect x="182.09" y="287.57" fill="#e3eaf0"/>
<rect x="189.33" y="287.57" fill="#d8e3ed"/>
<rect x="196.56" y="287.57" fill="#0f437b"/>
<rect x="30.10" y="289.04" fill="#bfd4e5"/>
<rect x="37.34" y="289.04" fill="#94b9d7"/>
<rect x="44.58" y="289.04" fill="#d2dfeb"/>
<rect x="51.81" y="289.04" fill="#a8c6dd"/>
<rect x="59.05" y="289.04" fill="#c0d4e5"/>
<rect x="66.29" y="289.04" fill="#bfd4e5"/>
<rect x="73.53" y="289.04" fill="#9cbed9"/>
<rect x="80.76" y="289.04" fill="#cbdbe9"/>
<rect x="88.00" y="289.04" fill="#e4ebf0"/>
<rect x="95.24" y="289.04" fill="#abc8de"/>
<rect x="102.47" y="289.04" fill="#b4cde1"/>
<rect x="109.71" y="289.04" fill="#ccdce9"/>
<rect x="116.95" y="289.04" fill="#6a011f"/>
<rect x="124.19" y="289.04" fill="#dc8968"/>
<rect x="131.43" y="289.04" fill="#b62f33"/>
<rect x="138.66" y="289.04" fill="#d1dfeb"/>
<rect x="145.90" y="289.04" fill="#f3d6c4"/>
<rect x="153.14" y="289.04" fill="#bcd2e4"/>
<rect x="160.38" y="289.04" fill="#c44d3f"/>
<rect x="167.61" y="289.04" fill="#67001f"/>
<rect x="174.85" y="289.04" fill="#b4cde1"/>
<rect x="182.09" y="289.04" fill="#86b1d2"/>
<rect x="189.33" y="289.04" fill="#c1473d"/>
<rect x="196.56" y="289.04" fill="#f3d4c0"/>
<rect x="30.10" y="290.51" fill="#b2cce1"/>
<rect x="37.34" y="290.51" fill="#bfd4e5"/>
<rect x="44.58" y="290.51" fill="#adc8df"/>
<rect x="51.81" y="290.51" fill="#b0cae0"/>
<rect x="59.05" y="290.51" fill="#c5d7e7"/>
<rect x="66.29" y="290.51" fill="#b5cee2"/>
<rect x="73.53" y="290.51" fill="#c9dae8"/>
<rect x="80.76" y="290.51" fill="#d6e2ec"/>
<rect x="88.00" y="290.51" fill="#d7e3ed"/>
<rect x="95.24" y="290.51" fill="#c2d5e6"/>
<rect x="102.47" y="290.51" fill="#e6ecf1"/>
<rect x="109.71" y="290.51" fill="#b6cee2"/>
<rect x="116.95" y="290.51" fill="#870c25"/>
<rect x="124.19" y="290.51" fill="#67001f"/>
<rect x="131.43" y="290.51" fill="#b73235"/>
<rect x="138.66" y="290.51" fill="#e6ecf1"/>
<rect x="145.90" y="290.51" fill="#c9dae8"/>
<rect x="153.14" y="290.51" fill="#cddcea"/>
<rect x="160.38" y="290.51" fill="#f4e4d9"/>
<rect x="167.61" y="290.51" fill="#9e1529"/>
<rect x="174.85" y="290.51" fill="#f4dccd"/>
<rect x="182.09" y="290.51" fill="#e6ecf1"/>
<rect x="189.33" y="290.51" fill="#c44c3f"/>
<rect x="196.56" y="290.51" fill="#ebb698"/>
<rect x="30.10" y="291.99" fill="#a8c6dd"/>
<rect x="37.34" y="291.99" fill="#b5cee2"/>
<rect x="44.58" y="291.99" fill="#b9d0e3"/>
<rect x="51.81" y="291.99" fill="#b8cfe3"/>
<rect x="59.05" y="291.99" fill="#9cbed9"/>
<rect x="66.29" y="291.99" fill="#d4e1ec"/>
<rect x="73.53" y="291.99" fill="#d2dfeb"/>
<rect x="80.76" y="291.99" fill="#bed3e5"/>
<rect x="88.00" y="291.99" fill="#acc8df"/>
<rect x="95.24" y="291.99" fill="#d2dfeb"/>
<rect x="102.47" y="291.99" fill="#b2cce1"/>
<rect x="109.71" y="291.99" fill="#b2cce1"/>
<rect x="116.95" y="291.99" fill="#f4eae3"/>
<rect x="124.19" y="291.99" fill="#f5efec"/>
<rect x="131.43" y="291.99" fill="#e9af8f"/>
<rect x="138.66" y="291.99" fill="#8bb4d4"/>
<rect x="145.90" y="291.99" fill="#f5f0ed"/>
<rect x="153.14" y="291.99" fill="#f5f1ef"/>
<rect x="160.38" y="291.99" fill="#f3d0ba"/>
<rect x="167.61" y="291.99" fill="#a9192a"/>
<rect x="174.85" y="291.99" fill="#f4e2d7"/>
<rect x="182.09" y="291.99" fill="#d4e1ec"/>
<rect x="189.33" y="291.99" fill="#b42b32"/>
<rect x="196.56" y="291.99" fill="#f4e7df"/>
<rect x="30.10" y="293.46" fill="#94b9d7"/>
<rect x="37.34" y="293.46" fill="#b4cde1"/>
<rect x="44.58" y="293.46" fill="#b6cee2"/>
<rect x="51.81" y="293.46" fill="#acc8df"/>
<rect x="59.05" y="293.46" fill="#d4e1ec"/>
<rect x="66.29" y="293.46" fill="#bed3e5"/>
<rect x="73.53" y="293.46" fill="#d0deeb"/>
<rect x="80.76" y="293.46" fill="#b4cde1"/>
<rect x="88.00" y="293.46" fill="#8fb6d5"/>
<rect x="95.24" y="293.46" fill="#8fb6d5"/>
<rect x="102.47" y="293.46" fill="#cddcea"/>
<rect x="109.71" y="293.46" fill="#b3cce1"/>
<rect x="116.95" y="293.46" fill="#c8d9e8"/>
<rect x="124.19" y="293.46" fill="#de8d6c"/>
<rect x="131.43" y="293.46" fill="#bb3b38"/>
<rect x="138.66" y="293.46" fill="#c7d9e8"/>
<rect x="145.90" y="293.46" fill="#f3d5c2"/>
<rect x="153.14" y="293.46" fill="#d2e0eb"/>
<rect x="160.38" y="293.46" fill="#c6d8e7"/>
<rect x="167.61" y="293.46" fill="#edbca1"/>
<rect x="174.85" y="293.46" fill="#eebfa4"/>
<rect x="182.09" y="293.46" fill="#3b7fb7"/>
<rect x="189.33" y="293.46" fill="#e09371"/>
<rect x="196.56" y="293.46" fill="#ebb699"/>
<rect x="30.10" y="294.93" fill="#d0deea"/>
<rect x="37.34" y="294.93" fill="#93b9d6"/>
<rect x="44.58" y="294.93" fill="#bcd2e4"/>
<rect x="51.81" y="294.93" fill="#aec9df"/>
<rect x="59.05" y="294.93" fill="#dee7ee"/>
<rect x="66.29" y="294.93" fill="#bdd3e4"/>
<rect x="73.53" y="294.93" fill="#b2cce1"/>
<rect x="80.76" y="294.93" fill="#e2e9f0"/>
<rect x="88.00" y="294.93" fill="#c6d8e7"/>
<rect x="95.24" y="294.93" fill="#d3e0eb"/>
<rect x="102.47" y="294.93" fill="#cadbe9"/>
<rect x="109.71" y="294.93" fill="#bed3e5"/>
<rect x="116.95" y="294.93" fill="#f4ddce"/>
<rect x="124.19" y="294.93" fill="#f5f0ed"/>
<rect x="131.43" y="294.93" fill="#f5f4f3"/>
<rect x="138.66" y="294.93" fill="#8ab3d3"/>
<rect x="145.90" y="294.93" fill="#f4e8e1"/>
<rect x="153.14" y="294.93" fill="#d9e4ed"/>
<rect x="160.38" y="294.93" fill="#ebb496"/>
<rect x="167.61" y="294.93" fill="#860c24"/>
<rect x="174.85" y="294.93" fill="#f4e1d5"/>
<rect x="182.09" y="294.93" fill="#f5eee9"/>
<rect x="189.33" y="294.93" fill="#bf433c"/>
<rect x="196.56" y="294.93" fill="#e29976"/>
<rect x="30.10" y="296.40" fill="#bad1e3"/>
<rect x="37.34" y="296.40" fill="#bfd3e5"/>
<rect x="44.58" y="296.40" fill="#bfd4e5"/>
<rect x="51.81" y="296.40" fill="#d7e2ec"/>
<rect x="59.05" y="296.40" fill="#dfe8ef"/>
<rect x="66.29" y="296.40" fill="#d7e3ed"/>
<rect x="73.53" y="296.40" fill="#c7d9e8"/>
<rect x="80.76" y="296.40" fill="#bed3e5"/>
<rect x="88.00" y="296.40" fill="#c8d9e8"/>
<rect x="95.24" y="296.40" fill="#b3cce1"/>
<rect x="102.47" y="296.40" fill="#c1d5e6"/>
<rect x="109.71" y="296.40" fill="#b9d0e3"/>
<rect x="116.95" y="296.40" fill="#e9eef2"/>
<rect x="124.19" y="296.40" fill="#9abdd9"/>
<rect x="131.43" y="296.40" fill="#e9ae8e"/>
<rect x="138.66" y="296.40" fill="#e0e8ef"/>
<rect x="145.90" y="296.40" fill="#a2c2db"/>
<rect x="153.14" y="296.40" fill="#e7a684"/>
<rect x="160.38" y="296.40" fill="#f4e4da"/>
<rect x="167.61" y="296.40" fill="#ce6248"/>
<rect x="174.85" y="296.40" fill="#e5a07d"/>
<rect x="182.09" y="296.40" fill="#7caace"/>
<rect x="189.33" y="296.40" fill="#67001f"/>
<rect x="196.56" y="296.40" fill="#f3d5c3"/>
<rect x="30.10" y="297.88" fill="#d8e3ed"/>
<rect x="37.34" y="297.88" fill="#e0e8ef"/>
<rect x="44.58" y="297.88" fill="#d4e1ec"/>
<rect x="51.81" y="297.88" fill="#cadae9"/>
<rect x="59.05" y="297.88" fill="#b5cee2"/>
<rect x="66.29" y="297.88" fill="#c3d6e6"/>
<rect x="73.53" y="297.88" fill="#ccdce9"/>
<rect x="80.76" y="297.88" fill="#d9e4ed"/>
<rect x="88.00" y="297.88" fill="#8fb6d5"/>
<rect x="95.24" y="297.88" fill="#d3e0eb"/>
<rect x="102.47" y="297.88" fill="#abc7de"/>
<rect x="109.71" y="297.88" fill="#b7cfe2"/>
<rect x="116.95" y="297.88" fill="#eaeef2"/>
<rect x="124.19" y="297.88" fill="#f4e9e2"/>
<rect x="131.43" y="297.88" fill="#d97f60"/>
<rect x="138.66" y="297.88" fill="#3e82b8"/>
<rect x="145.90" y="297.88" fill="#f5ede8"/>
<rect x="153.14" y="297.88" fill="#b7cfe2"/>
<rect x="160.38" y="297.88" fill="#f2f3f4"/>
<rect x="167.61" y="297.88" fill="#b73235"/>
<rect x="174.85" y="297.88" fill="#bad1e3"/>
<rect x="182.09" y="297.88" fill="#edbda1"/>
<rect x="189.33" y="297.88" fill="#67001f"/>
<rect x="196.56" y="297.88" fill="#f3d0b9"/>
<rect x="30.10" y="299.35" fill="#b0cbe0"/>
<rect x="37.34" y="299.35" fill="#e1e9ef"/>
<rect x="44.58" y="299.35" fill="#e4ebf0"/>
<rect x="51.81" y="299.35" fill="#94b9d7"/>
<rect x="59.05" y="299.35" fill="#bed3e5"/>
<rect x="66.29" y="299.35" fill="#b2cce1"/>
<rect x="73.53" y="299.35" fill="#cbdbe9"/>
<rect x="80.76" y="299.35" fill="#c4d7e7"/>
<rect x="88.00" y="299.35" fill="#adc9df"/>
<rect x="95.24" y="299.35" fill="#bcd2e4"/>
<rect x="102.47" y="299.35" fill="#dbe5ee"/>
<rect x="109.71" y="299.35" fill="#afcae0"/>
<rect x="116.95" y="299.35" fill="#f5f1ef"/>
<rect x="124.19" y="299.35" fill="#e7a886"/>
<rect x="131.43" y="299.35" fill="#b0232f"/>
<rect x="138.66" y="299.35" fill="#d8e3ed"/>
<rect x="145.90" y="299.35" fill="#f3f4f4"/>
<rect x="153.14" y="299.35" fill="#bbd1e4"/>
<rect x="160.38" y="299.35" fill="#f4dcce"/>
<rect x="167.61" y="299.35" fill="#67001f"/>
<rect x="174.85" y="299.35" fill="#f3d3bf"/>
<rect x="182.09" y="299.35" fill="#dc8868"/>
<rect x="189.33" y="299.35" fill="#da8263"/>
<rect x="196.56" y="299.35" fill="#d47255"/>
<rect x="30.10" y="300.82" fill="#afcae0"/>
<rect x="37.34" y="300.82" fill="#a4c3dc"/>
<rect x="44.58" y="300.82" fill="#a6c4dd"/>
<rect x="51.81" y="300.82" fill="#d1dfeb"/>
<rect x="59.05" y="300.82" fill="#c4d7e7"/>
<rect x="66.29" y="300.82" fill="#b1cbe0"/>
<rect x="73.53" y="300.82" fill="#afcae0"/>
<rect x="80.76" y="300.82" fill="#cadae9"/>
<rect x="88.00" y="300.82" fill="#abc7de"/>
<rect x="95.24" y="300.82" fill="#d0deeb"/>
<rect x="102.47" y="300.82" fill="#bdd3e4"/>
<rect x="109.71" y="300.82" fill="#a8c5dd"/>
<rect x="116.95" y="300.82" fill="#dbe5ee"/>
<rect x="124.19" y="300.82" fill="#e3eaf0"/>
<rect x="131.43" y="300.82" fill="#f5ede8"/>
<rect x="138.66" y="300.82" fill="#88b2d3"/>
<rect x="145.90" y="300.82" fill="#c1d5e6"/>
<rect x="153.14" y="300.82" fill="#d2e0eb"/>
<rect x="160.38" y="300.82" fill="#d5e1ec"/>
<rect x="167.61" y="300.82" fill="#d67659"/>
<rect x="174.85" y="300.82" fill="#f4e3d9"/>
<rect x="182.09" y="300.82" fill="#cfddea"/>
<rect x="189.33" y="300.82" fill="#eaeef2"/>
<rect x="196.56" y="300.82" fill="#bb3938"/>
<rect x="30.10" y="302.29" fill="#bed3e5"/>
<rect x="37.34" y="302.29" fill="#c0d4e5"/>
<rect x="44.58" y="302.29" fill="#d5e1ec"/>
<rect x="51.81" y="302.29" fill="#d4e1ec"/>
<rect x="59.05" y="302.29" fill="#d9e4ed"/>
<rect x="66.29" y="302.29" fill="#d1dfeb"/>
<rect x="73.53" y="302.29" fill="#ceddea"/>
<rect x="80.76" y="302.29" fill="#c8d9e8"/>
<rect x="88.00" y="302.29" fill="#b8d0e3"/>
<rect x="95.24" y="302.29" fill="#b9d0e3"/>
<rect x="102.47" y="302.29" fill="#5694c1"/>
<rect x="109.71" y="302.29" fill="#dde6ee"/>
<rect x="116.95" y="302.29" fill="#e2e9f0"/>
<rect x="124.19" y="302.29" fill="#eaeef2"/>
<rect x="131.43" y="302.29" fill="#ce6148"/>
<rect x="138.66" y="302.29" fill="#7eaccf"/>
<rect x="145.90" y="302.29" fill="#f2f3f4"/>
<rect x="153.14" y="302.29" fill="#b7cfe2"/>
<rect x="160.38" y="302.29" fill="#c2d5e6"/>
<rect x="167.61" y="302.29" fill="#6c0220"/>
<rect x="174.85" y="302.29" fill="#f4e8e0"/>
<rect x="182.09" y="302.29" fill="#c4d7e7"/>
<rect x="189.33" y="302.29" fill="#b73235"/>
<rect x="196.56" y="302.29" fill="#d57457"/>
<rect x="30.10" y="303.77" fill="#b0cbe0"/>
<rect x="37.34" y="303.77" fill="#c9dae8"/>
<rect x="44.58" y="303.77" fill="#d4e1ec"/>
<rect x="51.81" y="303.77" fill="#d2e0eb"/>
<rect x="59.05" y="303.77" fill="#c7d9e8"/>
<rect x="66.29" y="303.77" fill="#cbdbe9"/>
<rect x="73.53" y="303.77" fill="#dae4ed"/>
<rect x="80.76" y="303.77" fill="#bdd2e4"/>
<rect x="88.00" y="303.77" fill="#b1cbe0"/>
<rect x="95.24" y="303.77" fill="#b1cbe0"/>
<rect x="102.47" y="303.77" fill="#f3f4f5"/>
<rect x="109.71" y="303.77" fill="#9ebfda"/>
<rect x="116.95" y="303.77" fill="#e6ecf1"/>
<rect x="124.19" y="303.77" fill="#b6cee2"/>
<rect x="131.43" y="303.77" fill="#ecb89b"/>
<rect x="138.66" y="303.77" fill="#a3c3dc"/>
<rect x="145.90" y="303.77" fill="#dae4ed"/>
<rect x="153.14" y="303.77" fill="#f4e2d6"/>
<rect x="160.38" y="303.77" fill="#e6a481"/>
<rect x="167.61" y="303.77" fill="#b32a31"/>
<rect x="174.85" y="303.77" fill="#d4e1ec"/>
<rect x="182.09" y="303.77" fill="#f5f3f3"/>
<rect x="189.33" y="303.77" fill="#d26d51"/>
<rect x="196.56" y="303.77" fill="#f4dcce"/>
<rect x="30.10" y="305.24" fill="#ccdce9"/>
<rect x="37.34" y="305.24" fill="#d6e2ec"/>
<rect x="44.58" y="305.24" fill="#d1dfeb"/>
<rect x="51.81" y="305.24" fill="#eff1f3"/>
<rect x="59.05" y="305.24" fill="#a4c3dc"/>
<rect x="66.29" y="305.24" fill="#d0deeb"/>
<rect x="73.53" y="305.24" fill="#dfe7ef"/>
<rect x="80.76" y="305.24" fill="#b2cce1"/>
<rect x="88.00" y="305.24" fill="#a3c3dc"/>
<rect x="95.24" y="305.24" fill="#f0f2f4"/>
<rect x="102.47" y="305.24" fill="#dde6ee"/>
<rect x="109.71" y="305.24" fill="#d7e2ec"/>
<rect x="116.95" y="305.24" fill="#edbca1"/>
<rect x="124.19" y="305.24" fill="#f4f5f5"/>
<rect x="131.43" y="305.24" fill="#f4e1d6"/>
<rect x="138.66" y="305.24" fill="#f3d8c7"/>
<rect x="145.90" y="305.24" fill="#f1f3f4"/>
<rect x="153.14" y="305.24" fill="#91b7d6"/>
<rect x="160.38" y="305.24" fill="#f4e9e2"/>
<rect x="167.61" y="305.24" fill="#67001f"/>
<rect x="174.85" y="305.24" fill="#d5e2ec"/>
<rect x="182.09" y="305.24" fill="#d1dfeb"/>
<rect x="189.33" y="305.24" fill="#f4e9e1"/>
<rect x="196.56" y="305.24" fill="#e9ad8d"/>
<rect x="30.10" y="306.71" fill="#5895c2"/>
<rect x="37.34" y="306.71" fill="#b1cbe0"/>
<rect x="44.58" y="306.71" fill="#b4cde1"/>
<rect x="51.81" y="306.71" fill="#bad1e3"/>
<rect x="59.05" y="306.71" fill="#b2cbe1"/>
<rect x="66.29" y="306.71" fill="#b3cce1"/>
<rect x="73.53" y="306.71" fill="#d6e2ec"/>
<rect x="80.76" y="306.71" fill="#c2d6e6"/>
<rect x="88.00" y="306.71" fill="#ceddea"/>
<rect x="95.24" y="306.71" fill="#93b9d6"/>
<rect x="102.47" y="306.71" fill="#aac7de"/>
<rect x="109.71" y="306.71" fill="#d6e2ec"/>
<rect x="116.95" y="306.71" fill="#f2f3f4"/>
<rect x="124.19" y="306.71" fill="#df916f"/>
<rect x="131.43" y="306.71" fill="#f2f3f4"/>
<rect x="138.66" y="306.71" fill="#e0e8ef"/>
<rect x="145.90" y="306.71" fill="#c6d8e7"/>
<rect x="153.14" y="306.71" fill="#ebeff2"/>
<rect x="160.38" y="306.71" fill="#dfe7ef"/>
<rect x="167.61" y="306.71" fill="#d98162"/>
<rect x="174.85" y="306.71" fill="#cddcea"/>
<rect x="182.09" y="306.71" fill="#f4ddcf"/>
<rect x="189.33" y="306.71" fill="#9c1428"/>
<rect x="196.56" y="306.71" fill="#f4e6dd"/>
<rect x="30.10" y="308.19" fill="#4b8dbe"/>
<rect x="37.34" y="308.19" fill="#abc8de"/>
<rect x="44.58" y="308.19" fill="#afcae0"/>
<rect x="51.81" y="308.19" fill="#d2e0eb"/>
<rect x="59.05" y="308.19" fill="#b9d0e3"/>
<rect x="66.29" y="308.19" fill="#acc8df"/>
<rect x="73.53" y="308.19" fill="#d3e0eb"/>
<rect x="80.76" y="308.19" fill="#cddcea"/>
<rect x="88.00" y="308.19" fill="#cddcea"/>
<rect x="95.24" y="308.19" fill="#c8d9e8"/>
<rect x="102.47" y="308.19" fill="#b5cee2"/>
<rect x="109.71" y="308.19" fill="#d5e1ec"/>
<rect x="116.95" y="308.19" fill="#cfdeea"/>
<rect x="124.19" y="308.19" fill="#efc1a7"/>
<rect x="131.43" y="308.19" fill="#e6a380"/>
<rect x="138.66" y="308.19" fill="#f5f1ee"/>
<rect x="145.90" y="308.19" fill="#dee7ee"/>
<rect x="153.14" y="308.19" fill="#f3d8c7"/>
<rect x="160.38" y="308.19" fill="#a1c1db"/>
<rect x="167.61" y="308.19" fill="#b0232f"/>
<rect x="174.85" y="308.19" fill="#f4e0d4"/>
<rect x="182.09" y="308.19" fill="#f3d1bb"/>
<rect x="189.33" y="308.19" fill="#f4e1d5"/>
<rect x="196.56" y="308.19" fill="#d6785a"/>
<rect x="30.10" y="309.66" fill="#4185ba"/>
<rect x="37.34" y="309.66" fill="#a8c6dd"/>
<rect x="44.58" y="309.66" fill="#dae4ed"/>
<rect x="51.81" y="309.66" fill="#b3cde1"/>
<rect x="59.05" y="309.66" fill="#d0deea"/>
<rect x="66.29" y="309.66" fill="#8db5d4"/>
<rect x="73.53" y="309.66" fill="#cbdbe9"/>
<rect x="80.76" y="309.66" fill="#bed3e5"/>
<rect x="88.00" y="309.66" fill="#c1d5e6"/>
<rect x="95.24" y="309.66" fill="#a1c1db"/>
<rect x="102.47" y="309.66" fill="#c2d6e6"/>
<rect x="109.71" y="309.66" fill="#b4cde1"/>
<rect x="116.95" y="309.66" fill="#efc4aa"/>
<rect x="124.19" y="309.66" fill="#f5ece7"/>
<rect x="131.43" y="309.66" fill="#e6ecf1"/>
<rect x="138.66" y="309.66" fill="#eef1f3"/>
<rect x="145.90" y="309.66" fill="#99bcd8"/>
<rect x="153.14" y="309.66" fill="#dbe5ee"/>
<rect x="160.38" y="309.66" fill="#f2cdb6"/>
<rect x="167.61" y="309.66" fill="#67001f"/>
<rect x="174.85" y="309.66" fill="#f3d6c4"/>
<rect x="182.09" y="309.66" fill="#ebb597"/>
<rect x="189.33" y="309.66" fill="#cc5e46"/>
<rect x="196.56" y="309.66" fill="#e9ad8d"/>
<rect x="30.10" y="311.13" fill="#4a8cbd"/>
<rect x="37.34" y="311.13" fill="#bed3e5"/>
<rect x="44.58" y="311.13" fill="#9fc0da"/>
<rect x="51.81" y="311.13" fill="#bbd1e4"/>
<rect x="59.05" y="311.13" fill="#d1dfeb"/>
<rect x="66.29" y="311.13" fill="#b9d0e3"/>
<rect x="73.53" y="311.13" fill="#b2cce1"/>
<rect x="80.76" y="311.13" fill="#c8dae8"/>
<rect x="88.00" y="311.13" fill="#a0c1db"/>
<rect x="95.24" y="311.13" fill="#b0cbe0"/>
<rect x="102.47" y="311.13" fill="#e3eaf0"/>
<rect x="109.71" y="311.13" fill="#cadbe9"/>
<rect x="116.95" y="311.13" fill="#f4e3d8"/>
<rect x="124.19" y="311.13" fill="#f4dccd"/>
<rect x="131.43" y="311.13" fill="#f4ddce"/>
<rect x="138.66" y="311.13" fill="#4f8fbf"/>
<rect x="145.90" y="311.13" fill="#dee7ef"/>
<rect x="153.14" y="311.13" fill="#f1c9b1"/>
<rect x="160.38" y="311.13" fill="#f5f4f4"/>
<rect x="167.61" y="311.13" fill="#890d25"/>
<rect x="174.85" y="311.13" fill="#eceff2"/>
<rect x="182.09" y="311.13" fill="#f3d9c8"/>
<rect x="189.33" y="311.13" fill="#c65041"/>
<rect x="196.56" y="311.13" fill="#67001f"/>
<rect x="30.10" y="312.60" fill="#c6d8e7"/>
<rect x="37.34" y="312.60" fill="#acc8df"/>
<rect x="44.58" y="312.60" fill="#d6e2ec"/>
<rect x="51.81" y="312.60" fill="#c2d6e6"/>
<rect x="59.05" y="312.60" fill="#cfdeea"/>
<rect x="66.29" y="312.60" fill="#b1cbe0"/>
<rect x="73.53" y="312.60" fill="#d5e1ec"/>
<rect x="80.76" y="312.60" fill="#b1cbe0"/>
<rect x="88.00" y="312.60" fill="#ccdce9"/>
<rect x="95.24" y="312.60" fill="#b9d0e3"/>
<rect x="102.47" y="312.60" fill="#b0cbe0"/>
<rect x="109.71" y="312.60" fill="#d0deeb"/>
<rect x="116.95" y="312.60" fill="#d9e4ed"/>
<rect x="124.19" y="312.60" fill="#8eb6d5"/>
<rect x="131.43" y="312.60" fill="#e8edf1"/>
<rect x="138.66" y="312.60" fill="#da8262"/>
<rect x="145.90" y="312.60" fill="#e7a683"/>
<rect x="153.14" y="312.60" fill="#e19573"/>
<rect x="160.38" y="312.60" fill="#e29875"/>
<rect x="167.61" y="312.60" fill="#de8c6b"/>
<rect x="174.85" y="312.60" fill="#d9e4ed"/>
<rect x="182.09" y="312.60" fill="#d0674c"/>
<rect x="189.33" y="312.60" fill="#c95744"/>
<rect x="196.56" y="312.60" fill="#efc3aa"/>
<rect x="30.10" y="314.07" fill="#c9dae8"/>
<rect x="37.34" y="314.07" fill="#b1cbe0"/>
<rect x="44.58" y="314.07" fill="#bcd2e4"/>
<rect x="51.81" y="314.07" fill="#dae4ed"/>
<rect x="59.05" y="314.07" fill="#c8dae8"/>
<rect x="66.29" y="314.07" fill="#cddcea"/>
<rect x="73.53" y="314.07" fill="#bfd3e5"/>
<rect x="80.76" y="314.07" fill="#f0f2f4"/>
<rect x="88.00" y="314.07" fill="#dde6ee"/>
<rect x="95.24" y="314.07" fill="#d0deeb"/>
<rect x="102.47" y="314.07" fill="#cddcea"/>
<rect x="109.71" y="314.07" fill="#e6ecf1"/>
<rect x="116.95" y="314.07" fill="#f1f3f4"/>
<rect x="124.19" y="314.07" fill="#e7ecf1"/>
<rect x="131.43" y="314.07" fill="#d3e0eb"/>
<rect x="138.66" y="314.07" fill="#f0c5ab"/>
<rect x="145.90" y="314.07" fill="#d37054"/>
<rect x="153.14" y="314.07" fill="#c75442"/>
<rect x="160.38" y="314.07" fill="#b83435"/>
<rect x="167.61" y="314.07" fill="#dc8767"/>
<rect x="174.85" y="314.07" fill="#f5ede7"/>
<rect x="182.09" y="314.07" fill="#f3d2bd"/>
<rect x="189.33" y="314.07" fill="#d26c51"/>
<rect x="196.56" y="314.07" fill="#edbca0"/>
<rect x="30.10" y="315.55" fill="#bad0e3"/>
<rect x="37.34" y="315.55" fill="#b9d0e3"/>
<rect x="44.58" y="315.55" fill="#b8d0e3"/>
<rect x="51.81" y="315.55" fill="#c1d5e6"/>
<rect x="59.05" y="315.55" fill="#d7e2ec"/>
<rect x="66.29" y="315.55" fill="#bcd2e4"/>
<rect x="73.53" y="315.55" fill="#c5d7e7"/>
<rect x="80.76" y="315.55" fill="#cadbe9"/>
<rect x="88.00" y="315.55" fill="#eef1f3"/>
<rect x="95.24" y="315.55" fill="#dae5ee"/>
<rect x="102.47" y="315.55" fill="#bed3e5"/>
<rect x="109.71" y="315.55" fill="#dbe5ee"/>
<rect x="116.95" y="315.55" fill="#f4e9e2"/>
<rect x="124.19" y="315.55" fill="#dfe7ef"/>
<rect x="131.43" y="315.55" fill="#eff2f3"/>
<rect x="138.66" y="315.55" fill="#d16a4f"/>
<rect x="145.90" y="315.55" fill="#f3d1bb"/>
<rect x="153.14" y="315.55" fill="#e09270"/>
<rect x="160.38" y="315.55" fill="#e49d7a"/>
<rect x="167.61" y="315.55" fill="#d16a4f"/>
<rect x="174.85" y="315.55" fill="#f4ded1"/>
<rect x="182.09" y="315.55" fill="#e49c79"/>
<rect x="189.33" y="315.55" fill="#edbb9f"/>
<rect x="196.56" y="315.55" fill="#e9af8f"/>
<rect x="30.10" y="317.02" fill="#b9d0e3"/>
<rect x="37.34" y="317.02" fill="#a9c6de"/>
<rect x="44.58" y="317.02" fill="#bfd4e5"/>
<rect x="51.81" y="317.02" fill="#9cbed9"/>
<rect x="59.05" y="317.02" fill="#c6d8e7"/>
<rect x="66.29" y="317.02" fill="#cbdbe9"/>
<rect x="73.53" y="317.02" fill="#e1e8ef"/>
<rect x="80.76" y="317.02" fill="#b6cee2"/>
<rect x="88.00" y="317.02" fill="#d0dfeb"/>
<rect x="95.24" y="317.02" fill="#a8c5dd"/>
<rect x="102.47" y="317.02" fill="#a8c6dd"/>
<rect x="109.71" y="317.02" fill="#a5c4dc"/>
<rect x="116.95" y="317.02" fill="#bfd3e5"/>
<rect x="124.19" y="317.02" fill="#a4c3dc"/>
<rect x="131.43" y="317.02" fill="#81aed0"/>
<rect x="138.66" y="317.02" fill="#c44c3f"/>
<rect x="145.90" y="317.02" fill="#eebda2"/>
<rect x="153.14" y="317.02" fill="#e8ab8a"/>
<rect x="160.38" y="317.02" fill="#e6a582"/>
<rect x="167.61" y="317.02" fill="#eab091"/>
<rect x="174.85" y="317.02" fill="#d6e2ec"/>
<rect x="182.09" y="317.02" fill="#d26e52"/>
<rect x="189.33" y="317.02" fill="#de8c6c"/>
<rect x="196.56" y="317.02" fill="#db8565"/>
<rect x="30.10" y="318.49" fill="#afcae0"/>
<rect x="37.34" y="318.49" fill="#d5e1ec"/>
<rect x="44.58" y="318.49" fill="#b6cee2"/>
<rect x="51.81" y="318.49" fill="#adc8df"/>
<rect x="59.05" y="318.49" fill="#d9e4ed"/>
<rect x="66.29" y="318.49" fill="#d1dfeb"/>
<rect x="73.53" y="318.49" fill="#d8e3ed"/>
<rect x="80.76" y="318.49" fill="#d7e3ed"/>
<rect x="88.00" y="318.49" fill="#9cbed9"/>
<rect x="95.24" y="318.49" fill="#d6e2ec"/>
<rect x="102.47" y="318.49" fill="#ebeff2"/>
<rect x="109.71" y="318.49" fill="#d0deea"/>
<rect x="116.95" y="318.49" fill="#eef0f3"/>
<rect x="124.19" y="318.49" fill="#f4e3d8"/>
<rect x="131.43" y="318.49" fill="#f4e1d5"/>
<rect x="138.66" y="318.49" fill="#f4e6de"/>
<rect x="145.90" y="318.49" fill="#e9ae8e"/>
<rect x="153.14" y="318.49" fill="#e5a17d"/>
<rect x="160.38" y="318.49" fill="#e6a481"/>
<rect x="167.61" y="318.49" fill="#cd6047"/>
<rect x="174.85" y="318.49" fill="#c4d7e7"/>
<rect x="182.09" y="318.49" fill="#f4dbcc"/>
<rect x="189.33" y="318.49" fill="#d6785b"/>
<rect x="196.56" y="318.49" fill="#e7a887"/>
<rect x="30.10" y="319.96" fill="#d6e2ec"/>
<rect x="37.34" y="319.96" fill="#d6e2ec"/>
<rect x="44.58" y="319.96" fill="#c9dae8"/>
<rect x="51.81" y="319.96" fill="#dae4ed"/>
<rect x="59.05" y="319.96" fill="#a0c0db"/>
<rect x="66.29" y="319.96" fill="#bed3e5"/>
<rect x="73.53" y="319.96" fill="#9fc0da"/>
<rect x="80.76" y="319.96" fill="#e3eaf0"/>
<rect x="88.00" y="319.96" fill="#b9d0e3"/>
<rect x="95.24" y="319.96" fill="#d4e1ec"/>
<rect x="102.47" y="319.96" fill="#cbdbe9"/>
<rect x="109.71" y="319.96" fill="#d1dfeb"/>
<rect x="116.95" y="319.96" fill="#e6ecf1"/>
<rect x="124.19" y="319.96" fill="#f5f3f2"/>
<rect x="131.43" y="319.96" fill="#e7edf1"/>
<rect x="138.66" y="319.96" fill="#e6a27f"/>
<rect x="145.90" y="319.96" fill="#e09371"/>
<rect x="153.14" y="319.96" fill="#f4dfd2"/>
<rect x="160.38" y="319.96" fill="#efc3a9"/>
<rect x="167.61" y="319.96" fill="#cc5e46"/>
<rect x="174.85" y="319.96" fill="#f0f2f3"/>
<rect x="182.09" y="319.96" fill="#f0c7ae"/>
<rect x="189.33" y="319.96" fill="#eebea2"/>
<rect x="196.56" y="319.96" fill="#f3d1bb"/>
<rect x="30.10" y="321.44" fill="#bad0e3"/>
<rect x="37.34" y="321.44" fill="#d5e1ec"/>
<rect x="44.58" y="321.44" fill="#c3d6e6"/>
<rect x="51.81" y="321.44" fill="#d3e0eb"/>
<rect x="59.05" y="321.44" fill="#a4c3dc"/>
<rect x="66.29" y="321.44" fill="#c1d5e6"/>
<rect x="73.53" y="321.44" fill="#c7d9e8"/>
<rect x="80.76" y="321.44" fill="#ceddea"/>
<rect x="88.00" y="321.44" fill="#d3e0eb"/>
<rect x="95.24" y="321.44" fill="#c6d8e7"/>
<rect x="102.47" y="321.44" fill="#d4e1ec"/>
<rect x="109.71" y="321.44" fill="#dae5ee"/>
<rect x="116.95" y="321.44" fill="#dbe5ee"/>
<rect x="124.19" y="321.44" fill="#b3cce1"/>
<rect x="131.43" y="321.44" fill="#bdd3e4"/>
<rect x="138.66" y="321.44" fill="#eebfa4"/>
<rect x="145.90" y="321.44" fill="#d26d51"/>
<rect x="153.14" y="321.44" fill="#da8263"/>
<rect x="160.38" y="321.44" fill="#e5a17d"/>
<rect x="167.61" y="321.44" fill="#e9ad8d"/>
<rect x="174.85" y="321.44" fill="#d3e0ec"/>
<rect x="182.09" y="321.44" fill="#c65242"/>
<rect x="189.33" y="321.44" fill="#e19472"/>
<rect x="196.56" y="321.44" fill="#edba9e"/>
<rect x="30.10" y="322.91" fill="#b2cce1"/>
<rect x="37.34" y="322.91" fill="#d3e0eb"/>
<rect x="44.58" y="322.91" fill="#98bcd8"/>
<rect x="51.81" y="322.91" fill="#b8cfe3"/>
<rect x="59.05" y="322.91" fill="#d2e0eb"/>
<rect x="66.29" y="322.91" fill="#d5e2ec"/>
<rect x="73.53" y="322.91" fill="#d2dfeb"/>
<rect x="80.76" y="322.91" fill="#bed3e5"/>
<rect x="88.00" y="322.91" fill="#d5e2ec"/>
<rect x="95.24" y="322.91" fill="#e3eaf0"/>
<rect x="102.47" y="322.91" fill="#b1cbe0"/>
<rect x="109.71" y="322.91" fill="#b1cbe0"/>
<rect x="116.95" y="322.91" fill="#c1d5e6"/>
<rect x="124.19" y="322.91" fill="#e0e8ef"/>
<rect x="131.43" y="322.91" fill="#c6d8e7"/>
<rect x="138.66" y="322.91" fill="#ebb698"/>
<rect x="145.90" y="322.91" fill="#f4ebe5"/>
<rect x="153.14" y="322.91" fill="#d87c5e"/>
<rect x="160.38" y="322.91" fill="#efc3a9"/>
<rect x="167.61" y="322.91" fill="#e19573"/>
<rect x="174.85" y="322.91" fill="#d7e2ec"/>
<rect x="182.09" y="322.91" fill="#d47357"/>
<rect x="189.33" y="322.91" fill="#ecb89b"/>
<rect x="196.56" y="322.91" fill="#f1cab2"/>
<rect x="30.10" y="324.38" fill="#c6d8e7"/>
<rect x="37.34" y="324.38" fill="#c6d8e7"/>
<rect x="44.58" y="324.38" fill="#b8d0e3"/>
<rect x="51.81" y="324.38" fill="#ceddea"/>
<rect x="59.05" y="324.38" fill="#b8cfe3"/>
<rect x="66.29" y="324.38" fill="#bcd2e4"/>
<rect x="73.53" y="324.38" fill="#a7c5dd"/>
<rect x="80.76" y="324.38" fill="#c4d7e7"/>
<rect x="88.00" y="324.38" fill="#d6e2ec"/>
<rect x="95.24" y="324.38" fill="#c1d5e6"/>
<rect x="102.47" y="324.38" fill="#c3d6e6"/>
<rect x="109.71" y="324.38" fill="#d7e2ed"/>
<rect x="116.95" y="324.38" fill="#bed3e5"/>
<rect x="124.19" y="324.38" fill="#cadae9"/>
<rect x="131.43" y="324.38" fill="#d8e3ed"/>
<rect x="138.66" y="324.38" fill="#cb5c45"/>
<rect x="145.90" y="324.38" fill="#ecb79a"/>
<rect x="153.14" y="324.38" fill="#e6a481"/>
<rect x="160.38" y="324.38" fill="#e19573"/>
<rect x="167.61" y="324.38" fill="#e7a886"/>
<rect x="174.85" y="324.38" fill="#dae4ed"/>
<rect x="182.09" y="324.38" fill="#cb5b45"/>
<rect x="189.33" y="324.38" fill="#f1c9b1"/>
<rect x="196.56" y="324.38" fill="#e09371"/>
<rect x="30.10" y="325.85" fill="#dce6ee"/>
<rect x="37.34" y="325.85" fill="#e1e9ef"/>
<rect x="44.58" y="325.85" fill="#d1dfeb"/>
<rect x="51.81" y="325.85" fill="#d5e2ec"/>
<rect x="59.05" y="325.85" fill="#c0d4e5"/>
<rect x="66.29" y="325.85" fill="#a4c3dc"/>
<rect x="73.53" y="325.85" fill="#d1dfeb"/>
<rect x="80.76" y="325.85" fill="#d1dfeb"/>
<rect x="88.00" y="325.85" fill="#d5e1ec"/>
<rect x="95.24" y="325.85" fill="#e3eaf0"/>
<rect x="102.47" y="325.85" fill="#f5f4f3"/>
<rect x="109.71" y="325.85" fill="#d6e2ec"/>
<rect x="116.95" y="325.85" fill="#f4e8e1"/>
<rect x="124.19" y="325.85" fill="#e8edf1"/>
<rect x="131.43" y="325.85" fill="#e5ebf1"/>
<rect x="138.66" y="325.85" fill="#edba9d"/>
<rect x="145.90" y="325.85" fill="#e29976"/>
<rect x="153.14" y="325.85" fill="#e9ae8e"/>
<rect x="160.38" y="325.85" fill="#df8f6e"/>
<rect x="167.61" y="325.85" fill="#eebea3"/>
<rect x="174.85" y="325.85" fill="#f4e4d9"/>
<rect x="182.09" y="325.85" fill="#eebea3"/>
<rect x="189.33" y="325.85" fill="#d26e52"/>
<rect x="196.56" y="325.85" fill="#f4ddcf"/>
<rect x="30.10" y="327.33" fill="#d1dfeb"/>
<rect x="37.34" y="327.33" fill="#d5e1ec"/>
<rect x="44.58" y="327.33" fill="#dee7ee"/>
<rect x="51.81" y="327.33" fill="#e9eef2"/>
<rect x="59.05" y="327.33" fill="#b4cde1"/>
<rect x="66.29" y="327.33" fill="#cfddea"/>
<rect x="73.53" y="327.33" fill="#cddcea"/>
<rect x="80.76" y="327.33" fill="#d1dfeb"/>
<rect x="88.00" y="327.33" fill="#e4ebf0"/>
<rect x="95.24" y="327.33" fill="#c3d6e6"/>
<rect x="102.47" y="327.33" fill="#b8d0e3"/>
<rect x="109.71" y="327.33" fill="#c3d6e6"/>
<rect x="116.95" y="327.33" fill="#eff2f3"/>
<rect x="124.19" y="327.33" fill="#d1dfeb"/>
<rect x="131.43" y="327.33" fill="#9dbfda"/>
<rect x="138.66" y="327.33" fill="#e7a583"/>
<rect x="145.90" y="327.33" fill="#d26e52"/>
<rect x="153.14" y="327.33" fill="#c54f40"/>
<rect x="160.38" y="327.33" fill="#e9ac8c"/>
<rect x="167.61" y="327.33" fill="#e6a481"/>
<rect x="174.85" y="327.33" fill="#f4eae3"/>
<rect x="182.09" y="327.33" fill="#c95744"/>
<rect x="189.33" y="327.33" fill="#d97e60"/>
<rect x="196.56" y="327.33" fill="#e29774"/>
<rect x="30.10" y="328.80" fill="#dae4ed"/>
<rect x="37.34" y="328.80" fill="#a6c5dd"/>
<rect x="44.58" y="328.80" fill="#e4ebf0"/>
<rect x="51.81" y="328.80" fill="#b3cce1"/>
<rect x="59.05" y="328.80" fill="#9dbfda"/>
<rect x="66.29" y="328.80" fill="#e2e9f0"/>
<rect x="73.53" y="328.80" fill="#ceddea"/>
<rect x="80.76" y="328.80" fill="#dae4ed"/>
<rect x="88.00" y="328.80" fill="#a7c5dd"/>
<rect x="95.24" y="328.80" fill="#d2dfeb"/>
<rect x="102.47" y="328.80" fill="#d2dfeb"/>
<rect x="109.71" y="328.80" fill="#d0deeb"/>
<rect x="116.95" y="328.80" fill="#d8e3ed"/>
<rect x="124.19" y="328.80" fill="#e0e8ef"/>
<rect x="131.43" y="328.80" fill="#dae4ed"/>
<rect x="138.66" y="328.80" fill="#efc2a8"/>
<rect x="145.90" y="328.80" fill="#c44d40"/>
<rect x="153.14" y="328.80" fill="#e9ac8c"/>
<rect x="160.38" y="328.80" fill="#f0c5ac"/>
<rect x="167.61" y="328.80" fill="#da8263"/>
<rect x="174.85" y="328.80" fill="#e2e9f0"/>
<rect x="182.09" y="328.80" fill="#e7a886"/>
<rect x="189.33" y="328.80" fill="#800a23"/>
<rect x="196.56" y="328.80" fill="#df8f6e"/>
<rect x="30.10" y="330.27" fill="#97bbd8"/>
<rect x="37.34" y="330.27" fill="#b7cfe2"/>
<rect x="44.58" y="330.27" fill="#b9d0e3"/>
<rect x="51.81" y="330.27" fill="#c1d5e6"/>
<rect x="59.05" y="330.27" fill="#d1dfeb"/>
<rect x="66.29" y="330.27" fill="#ceddea"/>
<rect x="73.53" y="330.27" fill="#e5ebf0"/>
<rect x="80.76" y="330.27" fill="#b9d0e3"/>
<rect x="88.00" y="330.27" fill="#bcd2e4"/>
<rect x="95.24" y="330.27" fill="#d9e3ed"/>
<rect x="102.47" y="330.27" fill="#dae5ee"/>
<rect x="109.71" y="330.27" fill="#bdd3e4"/>
<rect x="116.95" y="330.27" fill="#b9d0e3"/>
<rect x="124.19" y="330.27" fill="#f5efec"/>
<rect x="131.43" y="330.27" fill="#e7ecf1"/>
<rect x="138.66" y="330.27" fill="#d47155"/>
<rect x="145.90" y="330.27" fill="#d87e60"/>
<rect x="153.14" y="330.27" fill="#de8c6b"/>
<rect x="160.38" y="330.27" fill="#e39a77"/>
<rect x="167.61" y="330.27" fill="#df906f"/>
<rect x="174.85" y="330.27" fill="#e4eaf0"/>
<rect x="182.09" y="330.27" fill="#eebea3"/>
<rect x="189.33" y="330.27" fill="#d57558"/>
<rect x="196.56" y="330.27" fill="#da8364"/>
<rect x="30.10" y="331.75" fill="#dae4ed"/>
<rect x="37.34" y="331.75" fill="#bed3e5"/>
<rect x="44.58" y="331.75" fill="#c9dae8"/>
<rect x="51.81" y="331.75" fill="#e1e8ef"/>
<rect x="59.05" y="331.75" fill="#e0e8ef"/>
<rect x="66.29" y="331.75" fill="#b8cfe3"/>
<rect x="73.53" y="331.75" fill="#aac7de"/>
<rect x="80.76" y="331.75" fill="#d1dfeb"/>
<rect x="88.00" y="331.75" fill="#a9c6de"/>
<rect x="95.24" y="331.75" fill="#edf0f3"/>
<rect x="102.47" y="331.75" fill="#cbdbe9"/>
<rect x="109.71" y="331.75" fill="#d9e4ed"/>
<rect x="116.95" y="331.75" fill="#8ab3d3"/>
<rect x="124.19" y="331.75" fill="#e6ecf1"/>
<rect x="131.43" y="331.75" fill="#e1e9ef"/>
<rect x="138.66" y="331.75" fill="#f2ccb5"/>
<rect x="145.90" y="331.75" fill="#c75242"/>
<rect x="153.14" y="331.75" fill="#e29875"/>
<rect x="160.38" y="331.75" fill="#db8566"/>
<rect x="167.61" y="331.75" fill="#e39a77"/>
<rect x="174.85" y="331.75" fill="#f0f2f4"/>
<rect x="182.09" y="331.75" fill="#d16b4f"/>
<rect x="189.33" y="331.75" fill="#d47255"/>
<rect x="196.56" y="331.75" fill="#de8c6b"/>
<rect x="30.10" y="333.22" fill="#a5c4dc"/>
<rect x="37.34" y="333.22" fill="#ccdce9"/>
<rect x="44.58" y="333.22" fill="#aec9df"/>
<rect x="51.81" y="333.22" fill="#d2dfeb"/>
<rect x="59.05" y="333.22" fill="#bad1e3"/>
<rect x="66.29" y="333.22" fill="#a1c1db"/>
<rect x="73.53" y="333.22" fill="#e7ecf1"/>
<rect x="80.76" y="333.22" fill="#c6d8e7"/>
<rect x="88.00" y="333.22" fill="#c4d7e7"/>
<rect x="95.24" y="333.22" fill="#cddcea"/>
<rect x="102.47" y="333.22" fill="#c8d9e8"/>
<rect x="109.71" y="333.22" fill="#d8e3ed"/>
<rect x="116.95" y="333.22" fill="#f4ebe5"/>
<rect x="124.19" y="333.22" fill="#d7e2ec"/>
<rect x="131.43" y="333.22" fill="#edf0f3"/>
<rect x="138.66" y="333.22" fill="#d87c5e"/>
<rect x="145.90" y="333.22" fill="#f2ceb7"/>
<rect x="153.14" y="333.22" fill="#d87c5e"/>
<rect x="160.38" y="333.22" fill="#d47255"/>
<rect x="167.61" y="333.22" fill="#e19573"/>
<rect x="174.85" y="333.22" fill="#e0e8ef"/>
<rect x="182.09" y="333.22" fill="#eab090"/>
<rect x="189.33" y="333.22" fill="#c95743"/>
<rect x="196.56" y="333.22" fill="#ebb698"/>
<rect x="30.10" y="334.69" fill="#d3e0eb"/>
<rect x="37.34" y="334.69" fill="#b0cbe0"/>
<rect x="44.58" y="334.69" fill="#cadae9"/>
<rect x="51.81" y="334.69" fill="#a8c5dd"/>
<rect x="59.05" y="334.69" fill="#bcd2e4"/>
<rect x="66.29" y="334.69" fill="#dce6ee"/>
<rect x="73.53" y="334.69" fill="#b4cde1"/>
<rect x="80.76" y="334.69" fill="#b6cee2"/>
<rect x="88.00" y="334.69" fill="#bed3e5"/>
<rect x="95.24" y="334.69" fill="#c5d7e7"/>
<rect x="102.47" y="334.69" fill="#b3cde1"/>
<rect x="109.71" y="334.69" fill="#d2dfeb"/>
<rect x="116.95" y="334.69" fill="#c1d5e6"/>
<rect x="124.19" y="334.69" fill="#f5f4f3"/>
<rect x="131.43" y="334.69" fill="#e8edf1"/>
<rect x="138.66" y="334.69" fill="#de8e6d"/>
<rect x="145.90" y="334.69" fill="#e19572"/>
<rect x="153.14" y="334.69" fill="#db8465"/>
<rect x="160.38" y="334.69" fill="#f3d4c1"/>
<rect x="167.61" y="334.69" fill="#b52e33"/>
<rect x="174.85" y="334.69" fill="#b0cbe0"/>
<rect x="182.09" y="334.69" fill="#c1473d"/>
<rect x="189.33" y="334.69" fill="#e6a380"/>
<rect x="196.56" y="334.69" fill="#f4e0d3"/>
<rect x="30.10" y="336.16" fill="#a6c5dd"/>
<rect x="37.34" y="336.16" fill="#97bbd8"/>
<rect x="44.58" y="336.16" fill="#cfdeea"/>
<rect x="51.81" y="336.16" fill="#c2d6e6"/>
<rect x="59.05" y="336.16" fill="#f5f3f2"/>
<rect x="66.29" y="336.16" fill="#cddcea"/>
<rect x="73.53" y="336.16" fill="#b8cfe3"/>
<rect x="80.76" y="336.16" fill="#e1e9ef"/>
<rect x="88.00" y="336.16" fill="#f5efeb"/>
<rect x="95.24" y="336.16" fill="#b6cee2"/>
<rect x="102.47" y="336.16" fill="#b5cee2"/>
<rect x="109.71" y="336.16" fill="#c8d9e8"/>
<rect x="116.95" y="336.16" fill="#9fc0da"/>
<rect x="124.19" y="336.16" fill="#c8d9e8"/>
<rect x="131.43" y="336.16" fill="#f4e7de"/>
<rect x="138.66" y="336.16" fill="#d36e52"/>
<rect x="145.90" y="336.16" fill="#d77a5c"/>
<rect x="153.14" y="336.16" fill="#e39a77"/>
<rect x="160.38" y="336.16" fill="#d0674c"/>
<rect x="167.61" y="336.16" fill="#f3cfb8"/>
<rect x="174.85" y="336.16" fill="#f4dfd2"/>
<rect x="182.09" y="336.16" fill="#efc3aa"/>
<rect x="189.33" y="336.16" fill="#e9ad8d"/>
<rect x="196.56" y="336.16" fill="#e09371"/>
<rect x="30.10" y="337.63" fill="#99bcd8"/>
<rect x="37.34" y="337.63" fill="#bcd2e4"/>
<rect x="44.58" y="337.63" fill="#bdd2e4"/>
<rect x="51.81" y="337.63" fill="#cfdeea"/>
<rect x="59.05" y="337.63" fill="#b3cce1"/>
<rect x="66.29" y="337.63" fill="#b9d0e3"/>
<rect x="73.53" y="337.63" fill="#afcae0"/>
<rect x="80.76" y="337.63" fill="#b4cde1"/>
<rect x="88.00" y="337.63" fill="#b0cae0"/>
<rect x="95.24" y="337.63" fill="#b5cde2"/>
<rect x="102.47" y="337.63" fill="#c3d6e6"/>
<rect x="109.71" y="337.63" fill="#d1dfeb"/>
<rect x="116.95" y="337.63" fill="#cbdbe9"/>
<rect x="124.19" y="337.63" fill="#498cbd"/>
<rect x="131.43" y="337.63" fill="#d3e0eb"/>
<rect x="138.66" y="337.63" fill="#f4e5db"/>
<rect x="145.90" y="337.63" fill="#f3d8c7"/>
<rect x="153.14" y="337.63" fill="#e39a77"/>
<rect x="160.38" y="337.63" fill="#f3f4f4"/>
<rect x="167.61" y="337.63" fill="#eebda2"/>
<rect x="174.85" y="337.63" fill="#dee7ef"/>
<rect x="182.09" y="337.63" fill="#e6a380"/>
<rect x="189.33" y="337.63" fill="#e9af8f"/>
<rect x="196.56" y="337.63" fill="#f4dfd1"/>
<rect x="30.10" y="339.11" fill="#e3eaf0"/>
<rect x="37.34" y="339.11" fill="#9bbed9"/>
<rect x="44.58" y="339.11" fill="#acc8df"/>
<rect x="51.81" y="339.11" fill="#d0deeb"/>
<rect x="59.05" y="339.11" fill="#c2d6e6"/>
<rect x="66.29" y="339.11" fill="#d0deeb"/>
<rect x="73.53" y="339.11" fill="#d9e4ed"/>
<rect x="80.76" y="339.11" fill="#a4c3dc"/>
<rect x="88.00" y="339.11" fill="#ccdce9"/>
<rect x="95.24" y="339.11" fill="#adc9df"/>
<rect x="102.47" y="339.11" fill="#c1d5e6"/>
<rect x="109.71" y="339.11" fill="#bcd2e4"/>
<rect x="116.95" y="339.11" fill="#a7c5dd"/>
<rect x="124.19" y="339.11" fill="#dbe5ee"/>
<rect x="131.43" y="339.11" fill="#aec9df"/>
<rect x="138.66" y="339.11" fill="#ae1e2d"/>
<rect x="145.90" y="339.11" fill="#bd3d39"/>
<rect x="153.14" y="339.11" fill="#e6a380"/>
<rect x="160.38" y="339.11" fill="#f3d7c6"/>
<rect x="167.61" y="339.11" fill="#f5f1ee"/>
<rect x="174.85" y="339.11" fill="#a0c0db"/>
<rect x="182.09" y="339.11" fill="#cd6047"/>
<rect x="189.33" y="339.11" fill="#eebea3"/>
<rect x="196.56" y="339.11" fill="#ecb79a"/>
<rect x="30.10" y="340.58" fill="#b7cfe2"/>
<rect x="37.34" y="340.58" fill="#b6cee2"/>
<rect x="44.58" y="340.58" fill="#b8cfe3"/>
<rect x="51.81" y="340.58" fill="#bbd1e4"/>
<rect x="59.05" y="340.58" fill="#e2e9f0"/>
<rect x="66.29" y="340.58" fill="#cddcea"/>
<rect x="73.53" y="340.58" fill="#edf0f3"/>
<rect x="80.76" y="340.58" fill="#ceddea"/>
<rect x="88.00" y="340.58" fill="#cddcea"/>
<rect x="95.24" y="340.58" fill="#ecf0f3"/>
<rect x="102.47" y="340.58" fill="#b6cee2"/>
<rect x="109.71" y="340.58" fill="#e1e9ef"/>
<rect x="116.95" y="340.58" fill="#adc8df"/>
<rect x="124.19" y="340.58" fill="#f4e9e2"/>
<rect x="131.43" y="340.58" fill="#dee7ef"/>
<rect x="138.66" y="340.58" fill="#db8565"/>
<rect x="145.90" y="340.58" fill="#ebb496"/>
<rect x="153.14" y="340.58" fill="#ac1b2b"/>
<rect x="160.38" y="340.58" fill="#d87e60"/>
<rect x="167.61" y="340.58" fill="#e9ad8c"/>
<rect x="174.85" y="340.58" fill="#f1c8af"/>
<rect x="182.09" y="340.58" fill="#e8aa88"/>
<rect x="189.33" y="340.58" fill="#cf654b"/>
<rect x="196.56" y="340.58" fill="#d6775a"/>
<rect x="30.10" y="342.05" fill="#d5e1ec"/>
<rect x="37.34" y="342.05" fill="#e0e8ef"/>
<rect x="44.58" y="342.05" fill="#cddcea"/>
<rect x="51.81" y="342.05" fill="#dce6ee"/>
<rect x="59.05" y="342.05" fill="#c3d6e6"/>
<rect x="66.29" y="342.05" fill="#c9dae8"/>
<rect x="73.53" y="342.05" fill="#ccdce9"/>
<rect x="80.76" y="342.05" fill="#d9e4ed"/>
<rect x="88.00" y="342.05" fill="#ceddea"/>
<rect x="95.24" y="342.05" fill="#eef1f3"/>
<rect x="102.47" y="342.05" fill="#c3d6e6"/>
<rect x="109.71" y="342.05" fill="#f5eeea"/>
<rect x="116.95" y="342.05" fill="#dde6ee"/>
<rect x="124.19" y="342.05" fill="#eaeef2"/>
<rect x="131.43" y="342.05" fill="#dfe8ef"/>
<rect x="138.66" y="342.05" fill="#cc5e46"/>
<rect x="145.90" y="342.05" fill="#e8ac8b"/>
<rect x="153.14" y="342.05" fill="#d16a4f"/>
<rect x="160.38" y="342.05" fill="#e19472"/>
<rect x="167.61" y="342.05" fill="#eec0a6"/>
<rect x="174.85" y="342.05" fill="#f0f2f4"/>
<rect x="182.09" y="342.05" fill="#ae1e2d"/>
<rect x="189.33" y="342.05" fill="#e5a27e"/>
<rect x="196.56" y="342.05" fill="#d26d51"/>
<rect x="30.10" y="343.52" fill="#acc8df"/>
<rect x="37.34" y="343.52" fill="#dfe8ef"/>
<rect x="44.58" y="343.52" fill="#adc9df"/>
<rect x="51.81" y="343.52" fill="#b9d0e3"/>
<rect x="59.05" y="343.52" fill="#ccdce9"/>
<rect x="66.29" y="343.52" fill="#d0deea"/>
<rect x="73.53" y="343.52" fill="#c4d7e7"/>
<rect x="80.76" y="343.52" fill="#eaeef2"/>
<rect x="88.00" y="343.52" fill="#d9e4ed"/>
<rect x="95.24" y="343.52" fill="#bcd2e4"/>
<rect x="102.47" y="343.52" fill="#d4e1ec"/>
<rect x="109.71" y="343.52" fill="#cfddea"/>
<rect x="116.95" y="343.52" fill="#dee7ef"/>
<rect x="124.19" y="343.52" fill="#d9e4ed"/>
<rect x="131.43" y="343.52" fill="#ceddea"/>
<rect x="138.66" y="343.52" fill="#e19674"/>
<rect x="145.90" y="343.52" fill="#f0c7af"/>
<rect x="153.14" y="343.52" fill="#e49e7a"/>
<rect x="160.38" y="343.52" fill="#a9192a"/>
<rect x="167.61" y="343.52" fill="#e5a17d"/>
<rect x="174.85" y="343.52" fill="#a1c1db"/>
<rect x="182.09" y="343.52" fill="#df906f"/>
<rect x="189.33" y="343.52" fill="#e5a07c"/>
<rect x="196.56" y="343.52" fill="#f0c5ac"/>
<rect x="30.10" y="345.00" fill="#d2dfeb"/>
<rect x="37.34" y="345.00" fill="#ccdce9"/>
<rect x="44.58" y="345.00" fill="#e0e8ef"/>
<rect x="51.81" y="345.00" fill="#ecf0f3"/>
<rect x="59.05" y="345.00" fill="#acc8df"/>
<rect x="66.29" y="345.00" fill="#ceddea"/>
<rect x="73.53" y="345.00" fill="#acc8df"/>
<rect x="80.76" y="345.00" fill="#b4cde1"/>
<rect x="88.00" y="345.00" fill="#d1dfeb"/>
<rect x="95.24" y="345.00" fill="#dbe5ee"/>
<rect x="102.47" y="345.00" fill="#c6d8e7"/>
<rect x="109.71" y="345.00" fill="#f2f3f4"/>
<rect x="116.95" y="345.00" fill="#95bad7"/>
<rect x="124.19" y="345.00" fill="#e5ebf0"/>
<rect x="131.43" y="345.00" fill="#e2eaf0"/>
<rect x="138.66" y="345.00" fill="#ebb598"/>
<rect x="145.90" y="345.00" fill="#e6a481"/>
<rect x="153.14" y="345.00" fill="#f3d2bd"/>
<rect x="160.38" y="345.00" fill="#eec0a6"/>
<rect x="167.61" y="345.00" fill="#de8c6b"/>
<rect x="174.85" y="345.00" fill="#f3d7c6"/>
<rect x="182.09" y="345.00" fill="#d77a5c"/>
<rect x="189.33" y="345.00" fill="#d36f53"/>
<rect x="196.56" y="345.00" fill="#cd6148"/>
<rect x="30.10" y="346.47" fill="#d5e1ec"/>
<rect x="37.34" y="346.47" fill="#bdd2e4"/>
<rect x="44.58" y="346.47" fill="#b6cee2"/>
<rect x="51.81" y="346.47" fill="#d5e1ec"/>
<rect x="59.05" y="346.47" fill="#bbd1e4"/>
<rect x="66.29" y="346.47" fill="#f1f3f4"/>
<rect x="73.53" y="346.47" fill="#cbdbe9"/>
<rect x="80.76" y="346.47" fill="#c1d5e6"/>
<rect x="88.00" y="346.47" fill="#b4cde1"/>
<rect x="95.24" y="346.47" fill="#cadae9"/>
<rect x="102.47" y="346.47" fill="#c4d7e7"/>
<rect x="109.71" y="346.47" fill="#d3e0eb"/>
<rect x="116.95" y="346.47" fill="#b6cee2"/>
<rect x="124.19" y="346.47" fill="#d2dfeb"/>
<rect x="131.43" y="346.47" fill="#d4e1ec"/>
<rect x="138.66" y="346.47" fill="#e8ab8a"/>
<rect x="145.90" y="346.47" fill="#f1c9b1"/>
<rect x="153.14" y="346.47" fill="#e5a07c"/>
<rect x="160.38" y="346.47" fill="#e6a380"/>
<rect x="167.61" y="346.47" fill="#e39b78"/>
<rect x="174.85" y="346.47" fill="#eab090"/>
<rect x="182.09" y="346.47" fill="#ecb79a"/>
<rect x="189.33" y="346.47" fill="#db8465"/>
<rect x="196.56" y="346.47" fill="#db8565"/>
<rect x="30.10" y="347.94" fill="#bed3e5"/>
<rect x="37.34" y="347.94" fill="#b9d0e3"/>
<rect x="44.58" y="347.94" fill="#aac7de"/>
<rect x="51.81" y="347.94" fill="#b1cbe0"/>
<rect x="59.05" y="347.94" fill="#97bbd8"/>
<rect x="66.29" y="347.94" fill="#e7ecf1"/>
<rect x="73.53" y="347.94" fill="#c7d9e8"/>
<rect x="80.76" y="347.94" fill="#c9dae8"/>
<rect x="88.00" y="347.94" fill="#d2e0eb"/>
<rect x="95.24" y="347.94" fill="#bed3e5"/>
<rect x="102.47" y="347.94" fill="#c3d6e6"/>
<rect x="109.71" y="347.94" fill="#c0d4e5"/>
<rect x="116.95" y="347.94" fill="#9dbfda"/>
<rect x="124.19" y="347.94" fill="#79a9cd"/>
<rect x="131.43" y="347.94" fill="#e3eaf0"/>
<rect x="138.66" y="347.94" fill="#d57659"/>
<rect x="145.90" y="347.94" fill="#e39b77"/>
<rect x="153.14" y="347.94" fill="#e9ad8d"/>
<rect x="160.38" y="347.94" fill="#de8d6c"/>
<rect x="167.61" y="347.94" fill="#d57457"/>
<rect x="174.85" y="347.94" fill="#e39a77"/>
<rect x="182.09" y="347.94" fill="#dc8767"/>
<rect x="189.33" y="347.94" fill="#d0664c"/>
<rect x="196.56" y="347.94" fill="#f4e4d9"/>
<rect x="30.10" y="349.41" fill="#dbe5ee"/>
<rect x="37.34" y="349.41" fill="#d9e4ed"/>
<rect x="44.58" y="349.41" fill="#adc9df"/>
<rect x="51.81" y="349.41" fill="#c9dae8"/>
<rect x="59.05" y="349.41" fill="#d4e1ec"/>
<rect x="66.29" y="349.41" fill="#e0e8ef"/>
<rect x="73.53" y="349.41" fill="#dae4ed"/>
<rect x="80.76" y="349.41" fill="#e0e8ef"/>
<rect x="88.00" y="349.41" fill="#cadbe9"/>
<rect x="95.24" y="349.41" fill="#cadbe9"/>
<rect x="102.47" y="349.41" fill="#d4e1ec"/>
<rect x="109.71" y="349.41" fill="#b7cfe2"/>
<rect x="116.95" y="349.41" fill="#a9c6de"/>
<rect x="124.19" y="349.41" fill="#dde6ee"/>
<rect x="131.43" y="349.41" fill="#c1d5e6"/>
<rect x="138.66" y="349.41" fill="#e39c79"/>
<rect x="145.90" y="349.41" fill="#d57558"/>
<rect x="153.14" y="349.41" fill="#f4ece6"/>
<rect x="160.38" y="349.41" fill="#e7a785"/>
<rect x="167.61" y="349.41" fill="#d37053"/>
<rect x="174.85" y="349.41" fill="#f0c4ab"/>
<rect x="182.09" y="349.41" fill="#c2493e"/>
<rect x="189.33" y="349.41" fill="#ecb89b"/>
<rect x="196.56" y="349.41" fill="#e8a988"/>
<rect x="30.10" y="350.89" fill="#c0d4e5"/>
<rect x="37.34" y="350.89" fill="#c2d6e6"/>
<rect x="44.58" y="350.89" fill="#afcae0"/>
<rect x="51.81" y="350.89" fill="#cbdbe9"/>
<rect x="59.05" y="350.89" fill="#b5cee2"/>
<rect x="66.29" y="350.89" fill="#b5cde2"/>
<rect x="73.53" y="350.89" fill="#d7e3ed"/>
<rect x="80.76" y="350.89" fill="#cdddea"/>
<rect x="88.00" y="350.89" fill="#acc8df"/>
<rect x="95.24" y="350.89" fill="#cddcea"/>
<rect x="102.47" y="350.89" fill="#d7e3ed"/>
<rect x="109.71" y="350.89" fill="#dce6ee"/>
<rect x="116.95" y="350.89" fill="#d6e2ec"/>
<rect x="124.19" y="350.89" fill="#f1f3f4"/>
<rect x="131.43" y="350.89" fill="#c5d7e7"/>
<rect x="138.66" y="350.89" fill="#ebb395"/>
<rect x="145.90" y="350.89" fill="#ecb99c"/>
<rect x="153.14" y="350.89" fill="#df906f"/>
<rect x="160.38" y="350.89" fill="#f4eae3"/>
<rect x="167.61" y="350.89" fill="#bd3f3a"/>
<rect x="174.85" y="350.89" fill="#e49e7b"/>
<rect x="182.09" y="350.89" fill="#e5a27e"/>
<rect x="189.33" y="350.89" fill="#df906f"/>
<rect x="196.56" y="350.89" fill="#db8566"/>
<rect x="30.10" y="352.36" fill="#eaeef2"/>
<rect x="37.34" y="352.36" fill="#a6c4dd"/>
<rect x="44.58" y="352.36" fill="#dfe7ef"/>
<rect x="51.81" y="352.36" fill="#d3e0eb"/>
<rect x="59.05" y="352.36" fill="#bed3e5"/>
<rect x="66.29" y="352.36" fill="#d5e1ec"/>
<rect x="73.53" y="352.36" fill="#b5cde2"/>
<rect x="80.76" y="352.36" fill="#a4c3dc"/>
<rect x="88.00" y="352.36" fill="#9cbed9"/>
<rect x="95.24" y="352.36" fill="#f0f2f4"/>
<rect x="102.47" y="352.36" fill="#bed3e5"/>
<rect x="109.71" y="352.36" fill="#c1d5e6"/>
<rect x="116.95" y="352.36" fill="#ceddea"/>
<rect x="124.19" y="352.36" fill="#b8d0e3"/>
<rect x="131.43" y="352.36" fill="#9dbfda"/>
<rect x="138.66" y="352.36" fill="#d77b5d"/>
<rect x="145.90" y="352.36" fill="#e39c78"/>
<rect x="153.14" y="352.36" fill="#db8666"/>
<rect x="160.38" y="352.36" fill="#f2ccb4"/>
<rect x="167.61" y="352.36" fill="#c54f40"/>
<rect x="174.85" y="352.36" fill="#e9ad8d"/>
<rect x="182.09" y="352.36" fill="#c95744"/>
<rect x="189.33" y="352.36" fill="#e29976"/>
<rect x="196.56" y="352.36" fill="#e9ad8d"/>
<rect x="30.10" y="353.83" fill="#95bad7"/>
<rect x="37.34" y="353.83" fill="#d8e3ed"/>
<rect x="44.58" y="353.83" fill="#c2d5e6"/>
<rect x="51.81" y="353.83" fill="#99bdd8"/>
<rect x="59.05" y="353.83" fill="#b7cfe2"/>
<rect x="66.29" y="353.83" fill="#b7cfe2"/>
<rect x="73.53" y="353.83" fill="#bbd2e4"/>
<rect x="80.76" y="353.83" fill="#d0deeb"/>
<rect x="88.00" y="353.83" fill="#d2dfeb"/>
<rect x="95.24" y="353.83" fill="#c3d6e6"/>
<rect x="102.47" y="353.83" fill="#9dbeda"/>
<rect x="109.71" y="353.83" fill="#a0c1db"/>
<rect x="116.95" y="353.83" fill="#9cbed9"/>
<rect x="124.19" y="353.83" fill="#99bcd8"/>
<rect x="131.43" y="353.83" fill="#cadbe9"/>
<rect x="138.66" y="353.83" fill="#eec0a6"/>
<rect x="145.90" y="353.83" fill="#edbb9e"/>
<rect x="153.14" y="353.83" fill="#de8e6d"/>
<rect x="160.38" y="353.83" fill="#eebea3"/>
<rect x="167.61" y="353.83" fill="#c24a3e"/>
<rect x="174.85" y="353.83" fill="#e7ecf1"/>
<rect x="182.09" y="353.83" fill="#da8364"/>
<rect x="189.33" y="353.83" fill="#edbb9f"/>
<rect x="196.56" y="353.83" fill="#e8ac8b"/>
<rect x="30.10" y="355.30" fill="#c8dae8"/>
<rect x="37.34" y="355.30" fill="#c9dae8"/>
<rect x="44.58" y="355.30" fill="#b6cee2"/>
<rect x="51.81" y="355.30" fill="#d0deea"/>
<rect x="59.05" y="355.30" fill="#b3cde1"/>
<rect x="66.29" y="355.30" fill="#cfdeea"/>
<rect x="73.53" y="355.30" fill="#bad1e3"/>
<rect x="80.76" y="355.30" fill="#aec9df"/>
<rect x="88.00" y="355.30" fill="#e2e9f0"/>
<rect x="95.24" y="355.30" fill="#ceddea"/>
<rect x="102.47" y="355.30" fill="#b8cfe3"/>
<rect x="109.71" y="355.30" fill="#d6e2ec"/>
<rect x="116.95" y="355.30" fill="#e9edf1"/>
<rect x="124.19" y="355.30" fill="#f5eeea"/>
<rect x="131.43" y="355.30" fill="#d7e3ed"/>
<rect x="138.66" y="355.30" fill="#d77a5c"/>
<rect x="145.90" y="355.30" fill="#f0c6ae"/>
<rect x="153.14" y="355.30" fill="#bd3d39"/>
<rect x="160.38" y="355.30" fill="#e9ae8e"/>
<rect x="167.61" y="355.30" fill="#dd8a6a"/>
<rect x="174.85" y="355.30" fill="#eab293"/>
<rect x="182.09" y="355.30" fill="#ce6349"/>
<rect x="189.33" y="355.30" fill="#d98162"/>
<rect x="196.56" y="355.30" fill="#e5a17e"/>
<rect x="30.10" y="356.78" fill="#c5d7e7"/>
<rect x="37.34" y="356.78" fill="#e1e9ef"/>
<rect x="44.58" y="356.78" fill="#dae4ed"/>
<rect x="51.81" y="356.78" fill="#d2e0eb"/>
<rect x="59.05" y="356.78" fill="#d1dfeb"/>
<rect x="66.29" y="356.78" fill="#abc7de"/>
<rect x="73.53" y="356.78" fill="#b8cfe3"/>
<rect x="80.76" y="356.78" fill="#a4c3dc"/>
<rect x="88.00" y="356.78" fill="#e7edf1"/>
<rect x="95.24" y="356.78" fill="#95bad7"/>
<rect x="102.47" y="356.78" fill="#a0c1db"/>
<rect x="109.71" y="356.78" fill="#acc8df"/>
<rect x="116.95" y="356.78" fill="#b7cfe2"/>
<rect x="124.19" y="356.78" fill="#6ea2ca"/>
<rect x="131.43" y="356.78" fill="#8eb6d5"/>
<rect x="138.66" y="356.78" fill="#d98062"/>
<rect x="145.90" y="356.78" fill="#f4e1d5"/>
<rect x="153.14" y="356.78" fill="#d6775a"/>
<rect x="160.38" y="356.78" fill="#e09371"/>
<rect x="167.61" y="356.78" fill="#ecb699"/>
<rect x="174.85" y="356.78" fill="#d9e4ed"/>
<rect x="182.09" y="356.78" fill="#eab192"/>
<rect x="189.33" y="356.78" fill="#df916f"/>
<rect x="196.56" y="356.78" fill="#eec0a5"/>
<rect x="30.10" y="358.25" fill="#a8c6dd"/>
<rect x="37.34" y="358.25" fill="#b4cde1"/>
<rect x="44.58" y="358.25" fill="#adc9df"/>
<rect x="51.81" y="358.25" fill="#dae5ed"/>
<rect x="59.05" y="358.25" fill="#c2d6e6"/>
<rect x="66.29" y="358.25" fill="#d1dfeb"/>
<rect x="73.53" y="358.25" fill="#b6cee2"/>
<rect x="80.76" y="358.25" fill="#6ba0c9"/>
<rect x="88.00" y="358.25" fill="#abc7de"/>
<rect x="95.24" y="358.25" fill="#b7cfe2"/>
<rect x="102.47" y="358.25" fill="#92b8d6"/>
<rect x="109.71" y="358.25" fill="#c4d7e7"/>
<rect x="116.95" y="358.25" fill="#c3d6e6"/>
<rect x="124.19" y="358.25" fill="#5191c0"/>
<rect x="131.43" y="358.25" fill="#d7e3ed"/>
<rect x="138.66" y="358.25" fill="#e5a17e"/>
<rect x="145.90" y="358.25" fill="#edbca0"/>
<rect x="153.14" y="358.25" fill="#f2cbb4"/>
<rect x="160.38" y="358.25" fill="#db8566"/>
<rect x="167.61" y="358.25" fill="#f4f4f5"/>
<rect x="174.85" y="358.25" fill="#f4e0d3"/>
<rect x="182.09" y="358.25" fill="#d36f53"/>
<rect x="189.33" y="358.25" fill="#cc5f47"/>
<rect x="196.56" y="358.25" fill="#e7a583"/>
<rect x="30.10" y="359.72" fill="#e2eaf0"/>
<rect x="37.34" y="359.72" fill="#b6cee2"/>
<rect x="44.58" y="359.72" fill="#a8c6dd"/>
<rect x="51.81" y="359.72" fill="#e9edf2"/>
<rect x="59.05" y="359.72" fill="#dce6ee"/>
<rect x="66.29" y="359.72" fill="#c4d7e7"/>
<rect x="73.53" y="359.72" fill="#d7e2ec"/>
<rect x="80.76" y="359.72" fill="#cddcea"/>
<rect x="88.00" y="359.72" fill="#c1d5e6"/>
<rect x="95.24" y="359.72" fill="#cfdeea"/>
<rect x="102.47" y="359.72" fill="#dde6ee"/>
<rect x="109.71" y="359.72" fill="#a2c2db"/>
<rect x="116.95" y="359.72" fill="#b5cde2"/>
<rect x="124.19" y="359.72" fill="#bdd3e4"/>
<rect x="131.43" y="359.72" fill="#a4c3dc"/>
<rect x="138.66" y="359.72" fill="#e6a482"/>
<rect x="145.90" y="359.72" fill="#f4d9c9"/>
<rect x="153.14" y="359.72" fill="#eab294"/>
<rect x="160.38" y="359.72" fill="#db8465"/>
<rect x="167.61" y="359.72" fill="#e6a380"/>
<rect x="174.85" y="359.72" fill="#efc3a9"/>
<rect x="182.09" y="359.72" fill="#d67759"/>
<rect x="189.33" y="359.72" fill="#bd3e39"/>
<rect x="196.56" y="359.72" fill="#edbda1"/>
<rect x="30.10" y="361.19" fill="#a4c3dc"/>
<rect x="37.34" y="361.19" fill="#cadbe9"/>
<rect x="44.58" y="361.19" fill="#c3d6e6"/>
<rect x="51.81" y="361.19" fill="#95bad7"/>
<rect x="59.05" y="361.19" fill="#9ebfda"/>
<rect x="66.29" y="361.19" fill="#a6c5dd"/>
<rect x="73.53" y="361.19" fill="#b3cde1"/>
<rect x="80.76" y="361.19" fill="#b4cde1"/>
<rect x="88.00" y="361.19" fill="#cbdbe9"/>
<rect x="95.24" y="361.19" fill="#dae4ed"/>
<rect x="102.47" y="361.19" fill="#d0deeb"/>
<rect x="109.71" y="361.19" fill="#a5c4dc"/>
<rect x="116.95" y="361.19" fill="#a6c4dd"/>
<rect x="124.19" y="361.19" fill="#8cb5d4"/>
<rect x="131.43" y="361.19" fill="#8fb6d5"/>
<rect x="138.66" y="361.19" fill="#db8666"/>
<rect x="145.90" y="361.19" fill="#e7a887"/>
<rect x="153.14" y="361.19" fill="#f5efeb"/>
<rect x="160.38" y="361.19" fill="#eab090"/>
<rect x="167.61" y="361.19" fill="#d6775a"/>
<rect x="174.85" y="361.19" fill="#f4f4f5"/>
<rect x="182.09" y="361.19" fill="#dc8867"/>
<rect x="189.33" y="361.19" fill="#c1473d"/>
<rect x="196.56" y="361.19" fill="#f5ede8"/>
<rect x="30.10" y="362.67" fill="#abc7de"/>
<rect x="37.34" y="362.67" fill="#9dbfda"/>
<rect x="44.58" y="362.67" fill="#c2d6e6"/>
<rect x="51.81" y="362.67" fill="#c1d5e6"/>
<rect x="59.05" y="362.67" fill="#d9e4ed"/>
<rect x="66.29" y="362.67" fill="#c0d5e5"/>
<rect x="73.53" y="362.67" fill="#b5cee2"/>
<rect x="80.76" y="362.67" fill="#b8d0e3"/>
<rect x="88.00" y="362.67" fill="#d5e1ec"/>
<rect x="95.24" y="362.67" fill="#a1c1db"/>
<rect x="102.47" y="362.67" fill="#b4cde1"/>
<rect x="109.71" y="362.67" fill="#a9c6de"/>
<rect x="116.95" y="362.67" fill="#b4cde1"/>
<rect x="124.19" y="362.67" fill="#e3eaf0"/>
<rect x="131.43" y="362.67" fill="#a1c1db"/>
<rect x="138.66" y="362.67" fill="#d77b5d"/>
<rect x="145.90" y="362.67" fill="#f2ccb5"/>
<rect x="153.14" y="362.67" fill="#f3cfb9"/>
<rect x="160.38" y="362.67" fill="#f3d8c7"/>
<rect x="167.61" y="362.67" fill="#aa192b"/>
<rect x="174.85" y="362.67" fill="#f1c8b0"/>
<rect x="182.09" y="362.67" fill="#ce6248"/>
<rect x="189.33" y="362.67" fill="#e49e7a"/>
<rect x="196.56" y="362.67" fill="#e7a785"/>
<rect x="30.10" y="364.14" fill="#c2d5e6"/>
<rect x="37.34" y="364.14" fill="#e8edf1"/>
<rect x="44.58" y="364.14" fill="#e0e8ef"/>
<rect x="51.81" y="364.14" fill="#c5d8e7"/>
<rect x="59.05" y="364.14" fill="#e1e9ef"/>
<rect x="66.29" y="364.14" fill="#e9edf1"/>
<rect x="73.53" y="364.14" fill="#e8edf1"/>
<rect x="80.76" y="364.14" fill="#dbe5ee"/>
<rect x="88.00" y="364.14" fill="#e8edf1"/>
<rect x="95.24" y="364.14" fill="#e6ecf1"/>
<rect x="102.47" y="364.14" fill="#d6e2ec"/>
<rect x="109.71" y="364.14" fill="#acc8df"/>
<rect x="116.95" y="364.14" fill="#b9d0e3"/>
<rect x="124.19" y="364.14" fill="#f5ede8"/>
<rect x="131.43" y="364.14" fill="#b9d0e3"/>
<rect x="138.66" y="364.14" fill="#df916f"/>
<rect x="145.90" y="364.14" fill="#e5a17d"/>
<rect x="153.14" y="364.14" fill="#e8a988"/>
<rect x="160.38" y="364.14" fill="#bb3b38"/>
<rect x="167.61" y="364.14" fill="#e39c79"/>
<rect x="174.85" y="364.14" fill="#d47154"/>
<rect x="182.09" y="364.14" fill="#d6785b"/>
<rect x="189.33" y="364.14" fill="#db8566"/>
<rect x="196.56" y="364.14" fill="#df8f6e"/>
<rect x="30.10" y="365.61" fill="#c1d5e6"/>
<rect x="37.34" y="365.61" fill="#dfe8ef"/>
<rect x="44.58" y="365.61" fill="#e5ebf1"/>
<rect x="51.81" y="365.61" fill="#dde6ee"/>
<rect x="59.05" y="365.61" fill="#dde6ee"/>
<rect x="66.29" y="365.61" fill="#cfddea"/>
<rect x="73.53" y="365.61" fill="#e7ecf1"/>
<rect x="80.76" y="365.61" fill="#cfdeea"/>
<rect x="88.00" y="365.61" fill="#d3e0eb"/>
<rect x="95.24" y="365.61" fill="#ceddea"/>
<rect x="102.47" y="365.61" fill="#f4f5f5"/>
<rect x="109.71" y="365.61" fill="#dee7ef"/>
<rect x="116.95" y="365.61" fill="#dae4ed"/>
<rect x="124.19" y="365.61" fill="#f5ece7"/>
<rect x="131.43" y="365.61" fill="#d1dfeb"/>
<rect x="138.66" y="365.61" fill="#eab394"/>
<rect x="145.90" y="365.61" fill="#db8464"/>
<rect x="153.14" y="365.61" fill="#d16a4f"/>
<rect x="160.38" y="365.61" fill="#c75442"/>
<rect x="167.61" y="365.61" fill="#efc1a7"/>
<rect x="174.85" y="365.61" fill="#eec0a5"/>
<rect x="182.09" y="365.61" fill="#ba3737"/>
<rect x="189.33" y="365.61" fill="#c65241"/>
<rect x="196.56" y="365.61" fill="#de8e6d"/>
<rect x="30.10" y="367.08" fill="#a7c5dd"/>
<rect x="37.34" y="367.08" fill="#d1dfeb"/>
<rect x="44.58" y="367.08" fill="#c1d5e6"/>
<rect x="51.81" y="367.08" fill="#b9d0e3"/>
<rect x="59.05" y="367.08" fill="#d6e2ec"/>
<rect x="66.29" y="367.08" fill="#bcd2e4"/>
<rect x="73.53" y="367.08" fill="#d4e1ec"/>
<rect x="80.76" y="367.08" fill="#e0e8ef"/>
<rect x="88.00" y="367.08" fill="#c9dae8"/>
<rect x="95.24" y="367.08" fill="#e3eaf0"/>
<rect x="102.47" y="367.08" fill="#e9eef2"/>
<rect x="109.71" y="367.08" fill="#e8edf1"/>
<rect x="116.95" y="367.08" fill="#b6cee2"/>
<rect x="124.19" y="367.08" fill="#9fc0da"/>
<rect x="131.43" y="367.08" fill="#acc8df"/>
<rect x="138.66" y="367.08" fill="#f0c6ad"/>
<rect x="145.90" y="367.08" fill="#ecb79a"/>
<rect x="153.14" y="367.08" fill="#dc8767"/>
<rect x="160.38" y="367.08" fill="#de8e6d"/>
<rect x="167.61" y="367.08" fill="#d47155"/>
<rect x="174.85" y="367.08" fill="#d6775a"/>
<rect x="182.09" y="367.08" fill="#df8f6e"/>
<rect x="189.33" y="367.08" fill="#e6a380"/>
<rect x="196.56" y="367.08" fill="#edbca1"/>
<rect x="30.10" y="368.56" fill="#b1cbe0"/>
<rect x="37.34" y="368.56" fill="#d6e2ec"/>
<rect x="44.58" y="368.56" fill="#e6ecf1"/>
<rect x="51.81" y="368.56" fill="#d4e1ec"/>
<rect x="59.05" y="368.56" fill="#c4d7e7"/>
<rect x="66.29" y="368.56" fill="#d1dfeb"/>
<rect x="73.53" y="368.56" fill="#e1e8ef"/>
<rect x="80.76" y="368.56" fill="#c3d6e6"/>
<rect x="88.00" y="368.56" fill="#dae4ed"/>
<rect x="95.24" y="368.56" fill="#cfdeea"/>
<rect x="102.47" y="368.56" fill="#c1d5e6"/>
<rect x="109.71" y="368.56" fill="#dfe8ef"/>
<rect x="116.95" y="368.56" fill="#f1f3f4"/>
<rect x="124.19" y="368.56" fill="#ceddea"/>
<rect x="131.43" y="368.56" fill="#acc8df"/>
<rect x="138.66" y="368.56" fill="#f0c5ac"/>
<rect x="145.90" y="368.56" fill="#eec0a6"/>
<rect x="153.14" y="368.56" fill="#cb5c46"/>
<rect x="160.38" y="368.56" fill="#df916f"/>
<rect x="167.61" y="368.56" fill="#da8364"/>
<rect x="174.85" y="368.56" fill="#e6a481"/>
<rect x="182.09" y="368.56" fill="#db8565"/>
<rect x="189.33" y="368.56" fill="#d47255"/>
<rect x="196.56" y="368.56" fill="#ecb99d"/>
<rect x="30.10" y="370.03" fill="#eef1f3"/>
<rect x="37.34" y="370.03" fill="#c6d8e7"/>
<rect x="44.58" y="370.03" fill="#e6ecf1"/>
<rect x="51.81" y="370.03" fill="#9dbfda"/>
<rect x="59.05" y="370.03" fill="#c6d8e7"/>
<rect x="66.29" y="370.03" fill="#bed3e5"/>
<rect x="73.53" y="370.03" fill="#e1e9ef"/>
<rect x="80.76" y="370.03" fill="#bad1e3"/>
<rect x="88.00" y="370.03" fill="#bad1e3"/>
<rect x="95.24" y="370.03" fill="#e3eaf0"/>
<rect x="102.47" y="370.03" fill="#f1f3f4"/>
<rect x="109.71" y="370.03" fill="#e6ecf1"/>
<rect x="116.95" y="370.03" fill="#f3cfb9"/>
<rect x="124.19" y="370.03" fill="#f2f3f4"/>
<rect x="131.43" y="370.03" fill="#aec9df"/>
<rect x="138.66" y="370.03" fill="#f3d5c2"/>
<rect x="145.90" y="370.03" fill="#e9ad8d"/>
<rect x="153.14" y="370.03" fill="#e8a987"/>
<rect x="160.38" y="370.03" fill="#ebb395"/>
<rect x="167.61" y="370.03" fill="#d97e60"/>
<rect x="174.85" y="370.03" fill="#d16a4e"/>
<rect x="182.09" y="370.03" fill="#c1463d"/>
<rect x="189.33" y="370.03" fill="#cf6349"/>
<rect x="196.56" y="370.03" fill="#d47356"/>
<rect x="30.10" y="371.50" fill="#bad1e3"/>
<rect x="37.34" y="371.50" fill="#e4eaf0"/>
<rect x="44.58" y="371.50" fill="#bad1e3"/>
<rect x="51.81" y="371.50" fill="#d5e1ec"/>
<rect x="59.05" y="371.50" fill="#b9d0e3"/>
<rect x="66.29" y="371.50" fill="#c1d5e6"/>
<rect x="73.53" y="371.50" fill="#d9e4ed"/>
<rect x="80.76" y="371.50" fill="#e8edf1"/>
<rect x="88.00" y="371.50" fill="#a7c5dd"/>
<rect x="95.24" y="371.50" fill="#d4e1ec"/>
<rect x="102.47" y="371.50" fill="#f5eeea"/>
<rect x="109.71" y="371.50" fill="#d6e2ec"/>
<rect x="116.95" y="371.50" fill="#e3eaf0"/>
<rect x="124.19" y="371.50" fill="#edf0f3"/>
<rect x="131.43" y="371.50" fill="#d8e3ed"/>
<rect x="138.66" y="371.50" fill="#d67759"/>
<rect x="145.90" y="371.50" fill="#e39b78"/>
<rect x="153.14" y="371.50" fill="#efc4aa"/>
<rect x="160.38" y="371.50" fill="#db8465"/>
<rect x="167.61" y="371.50" fill="#df916f"/>
<rect x="174.85" y="371.50" fill="#d87c5e"/>
<rect x="182.09" y="371.50" fill="#efc3aa"/>
<rect x="189.33" y="371.50" fill="#e9ac8c"/>
<rect x="196.56" y="371.50" fill="#bf423b"/>
<rect x="30.10" y="372.98" fill="#b8d0e3"/>
<rect x="37.34" y="372.98" fill="#dee7ee"/>
<rect x="44.58" y="372.98" fill="#afcae0"/>
<rect x="51.81" y="372.98" fill="#d6e2ec"/>
<rect x="59.05" y="372.98" fill="#9cbed9"/>
<rect x="66.29" y="372.98" fill="#9abdd9"/>
<rect x="73.53" y="372.98" fill="#bad1e3"/>
<rect x="80.76" y="372.98" fill="#c8d9e8"/>
<rect x="88.00" y="372.98" fill="#b7cfe2"/>
<rect x="95.24" y="372.98" fill="#dfe7ef"/>
<rect x="102.47" y="372.98" fill="#b0cae0"/>
<rect x="109.71" y="372.98" fill="#d4e0ec"/>
<rect x="116.95" y="372.98" fill="#b0cbe0"/>
<rect x="124.19" y="372.98" fill="#9abdd9"/>
<rect x="131.43" y="372.98" fill="#d9e4ed"/>
<rect x="138.66" y="372.98" fill="#eebea2"/>
<rect x="145.90" y="372.98" fill="#f5ece6"/>
<rect x="153.14" y="372.98" fill="#e59f7b"/>
<rect x="160.38" y="372.98" fill="#d97f60"/>
<rect x="167.61" y="372.98" fill="#df8f6d"/>
<rect x="174.85" y="372.98" fill="#f4d9c9"/>
<rect x="182.09" y="372.98" fill="#f0c6ad"/>
<rect x="189.33" y="372.98" fill="#ecb79a"/>
<rect x="196.56" y="372.98" fill="#e49c79"/>
<rect x="30.10" y="374.45" fill="#d8e3ed"/>
<rect x="37.34" y="374.45" fill="#91b7d6"/>
<rect x="44.58" y="374.45" fill="#adc9df"/>
<rect x="51.81" y="374.45" fill="#cbdbe9"/>
<rect x="59.05" y="374.45" fill="#bbd1e4"/>
<rect x="66.29" y="374.45" fill="#b0cae0"/>
<rect x="73.53" y="374.45" fill="#a1c1db"/>
<rect x="80.76" y="374.45" fill="#c3d6e6"/>
<rect x="88.00" y="374.45" fill="#abc7de"/>
<rect x="95.24" y="374.45" fill="#a2c2db"/>
<rect x="102.47" y="374.45" fill="#7baace"/>
<rect x="109.71" y="374.45" fill="#bed3e5"/>
<rect x="116.95" y="374.45" fill="#cfdeea"/>
<rect x="124.19" y="374.45" fill="#c4d7e7"/>
<rect x="131.43" y="374.45" fill="#8bb4d4"/>
<rect x="138.66" y="374.45" fill="#dd8a6a"/>
<rect x="145.90" y="374.45" fill="#e7a683"/>
<rect x="153.14" y="374.45" fill="#edbb9f"/>
<rect x="160.38" y="374.45" fill="#f4dccd"/>
<rect x="167.61" y="374.45" fill="#e49c79"/>
<rect x="174.85" y="374.45" fill="#e9af90"/>
<rect x="182.09" y="374.45" fill="#f4e5db"/>
<rect x="189.33" y="374.45" fill="#de8d6c"/>
<rect x="196.56" y="374.45" fill="#efc3a9"/>
<rect x="30.10" y="375.92" fill="#ceddea"/>
<rect x="37.34" y="375.92" fill="#d5e2ec"/>
<rect x="44.58" y="375.92" fill="#e1e9ef"/>
<rect x="51.81" y="375.92" fill="#d4e1ec"/>
<rect x="59.05" y="375.92" fill="#b2cce1"/>
<rect x="66.29" y="375.92" fill="#dae4ed"/>
<rect x="73.53" y="375.92" fill="#d9e4ed"/>
<rect x="80.76" y="375.92" fill="#ceddea"/>
<rect x="88.00" y="375.92" fill="#ebeff2"/>
<rect x="95.24" y="375.92" fill="#cadbe9"/>
<rect x="102.47" y="375.92" fill="#e2e9f0"/>
<rect x="109.71" y="375.92" fill="#e4ebf0"/>
<rect x="116.95" y="375.92" fill="#e0e8ef"/>
<rect x="124.19" y="375.92" fill="#d8e3ed"/>
<rect x="131.43" y="375.92" fill="#c6d8e7"/>
<rect x="138.66" y="375.92" fill="#e7a684"/>
<rect x="145.90" y="375.92" fill="#eab293"/>
<rect x="153.14" y="375.92" fill="#ebb598"/>
<rect x="160.38" y="375.92" fill="#e7a583"/>
<rect x="167.61" y="375.92" fill="#e7a886"/>
<rect x="174.85" y="375.92" fill="#eec0a5"/>
<rect x="182.09" y="375.92" fill="#df906e"/>
<rect x="189.33" y="375.92" fill="#c1473d"/>
<rect x="196.56" y="375.92" fill="#f1c9b1"/>
<rect x="30.10" y="377.39" fill="#99bcd8"/>
<rect x="37.34" y="377.39" fill="#cdddea"/>
<rect x="44.58" y="377.39" fill="#cfddea"/>
<rect x="51.81" y="377.39" fill="#c5d8e7"/>
<rect x="59.05" y="377.39" fill="#b6cee2"/>
<rect x="66.29" y="377.39" fill="#e6ecf1"/>
<rect x="73.53" y="377.39" fill="#b6cee2"/>
<rect x="80.76" y="377.39" fill="#b5cee2"/>
<rect x="88.00" y="377.39" fill="#cfdeea"/>
<rect x="95.24" y="377.39" fill="#98bcd8"/>
<rect x="102.47" y="377.39" fill="#a9c6de"/>
<rect x="109.71" y="377.39" fill="#aac7de"/>
<rect x="116.95" y="377.39" fill="#75a7cc"/>
<rect x="124.19" y="377.39" fill="#cadbe9"/>
<rect x="131.43" y="377.39" fill="#e8edf1"/>
<rect x="138.66" y="377.39" fill="#e19472"/>
<rect x="145.90" y="377.39" fill="#f1c9b0"/>
<rect x="153.14" y="377.39" fill="#edbb9f"/>
<rect x="160.38" y="377.39" fill="#f3d3bf"/>
<rect x="167.61" y="377.39" fill="#e9ad8d"/>
<rect x="174.85" y="377.39" fill="#efc2a8"/>
<rect x="182.09" y="377.39" fill="#f3ceb8"/>
<rect x="189.33" y="377.39" fill="#d77a5c"/>
<rect x="196.56" y="377.39" fill="#f4e2d6"/>
<rect x="30.10" y="378.87" fill="#9abdd9"/>
<rect x="37.34" y="378.87" fill="#abc7de"/>
<rect x="44.58" y="378.87" fill="#c1d5e6"/>
<rect x="51.81" y="378.87" fill="#a9c6de"/>
<rect x="59.05" y="378.87" fill="#87b1d2"/>
<rect x="66.29" y="378.87" fill="#84b0d1"/>
<rect x="73.53" y="378.87" fill="#aec9df"/>
<rect x="80.76" y="378.87" fill="#b2cce1"/>
<rect x="88.00" y="378.87" fill="#b5cde2"/>
<rect x="95.24" y="378.87" fill="#7eaccf"/>
<rect x="102.47" y="378.87" fill="#b6cee2"/>
<rect x="109.71" y="378.87" fill="#bdd3e4"/>
<rect x="116.95" y="378.87" fill="#8cb4d4"/>
<rect x="124.19" y="378.87" fill="#82aed0"/>
<rect x="131.43" y="378.87" fill="#c8d9e8"/>
<rect x="138.66" y="378.87" fill="#f3d5c1"/>
<rect x="145.90" y="378.87" fill="#e8a987"/>
<rect x="153.14" y="378.87" fill="#d6775a"/>
<rect x="160.38" y="378.87" fill="#f2ceb7"/>
<rect x="167.61" y="378.87" fill="#e5a07c"/>
<rect x="174.85" y="378.87" fill="#efc4aa"/>
<rect x="182.09" y="378.87" fill="#e09270"/>
<rect x="189.33" y="378.87" fill="#e19472"/>
<rect x="196.56" y="378.87" fill="#e9ad8c"/>
<rect x="30.10" y="380.34" fill="#b6cee2"/>
<rect x="37.34" y="380.34" fill="#c1d5e6"/>
<rect x="44.58" y="380.34" fill="#d1dfeb"/>
<rect x="51.81" y="380.34" fill="#dee7ee"/>
<rect x="59.05" y="380.34" fill="#d2e0eb"/>
<rect x="66.29" y="380.34" fill="#e0e8ef"/>
<rect x="73.53" y="380.34" fill="#d4e1ec"/>
<rect x="80.76" y="380.34" fill="#c5d7e7"/>
<rect x="88.00" y="380.34" fill="#d3e0eb"/>
<rect x="95.24" y="380.34" fill="#d7e3ed"/>
<rect x="102.47" y="380.34" fill="#97bbd8"/>
<rect x="109.71" y="380.34" fill="#c6d8e7"/>
<rect x="116.95" y="380.34" fill="#d98061"/>
<rect x="124.19" y="380.34" fill="#dce5ee"/>
<rect x="131.43" y="380.34" fill="#e9eef2"/>
<rect x="138.66" y="380.34" fill="#df8f6e"/>
<rect x="145.90" y="380.34" fill="#dd8a6a"/>
<rect x="153.14" y="380.34" fill="#e19674"/>
<rect x="160.38" y="380.34" fill="#dd8969"/>
<rect x="167.61" y="380.34" fill="#e8a987"/>
<rect x="174.85" y="380.34" fill="#c85543"/>
<rect x="182.09" y="380.34" fill="#cf654b"/>
<rect x="189.33" y="380.34" fill="#c55041"/>
<rect x="196.56" y="380.34" fill="#e6a481"/>
<rect x="30.10" y="381.81" fill="#d9e4ed"/>
<rect x="37.34" y="381.81" fill="#dee7ee"/>
<rect x="44.58" y="381.81" fill="#cfdeea"/>
<rect x="51.81" y="381.81" fill="#bed3e5"/>
<rect x="59.05" y="381.81" fill="#e1e9ef"/>
<rect x="66.29" y="381.81" fill="#b7cfe2"/>
<rect x="73.53" y="381.81" fill="#d3e0eb"/>
<rect x="80.76" y="381.81" fill="#d3e0eb"/>
<rect x="88.00" y="381.81" fill="#a7c5dd"/>
<rect x="95.24" y="381.81" fill="#dee7ee"/>
<rect x="102.47" y="381.81" fill="#d2e0eb"/>
<rect x="109.71" y="381.81" fill="#bdd3e4"/>
<rect x="116.95" y="381.81" fill="#820a24"/>
<rect x="124.19" y="381.81" fill="#9ec0da"/>
<rect x="131.43" y="381.81" fill="#edf0f3"/>
<rect x="138.66" y="381.81" fill="#df916f"/>
<rect x="145.90" y="381.81" fill="#e9af8f"/>
<rect x="153.14" y="381.81" fill="#cf644a"/>
<rect x="160.38" y="381.81" fill="#e39976"/>
<rect x="167.61" y="381.81" fill="#e7a683"/>
<rect x="174.85" y="381.81" fill="#eab192"/>
<rect x="182.09" y="381.81" fill="#db8565"/>
<rect x="189.33" y="381.81" fill="#efc3a9"/>
<rect x="196.56" y="381.81" fill="#e9af8f"/>
<rect x="30.10" y="383.28" fill="#bbd1e4"/>
<rect x="37.34" y="383.28" fill="#dfe8ef"/>
<rect x="44.58" y="383.28" fill="#d2dfeb"/>
<rect x="51.81" y="383.28" fill="#aac7de"/>
<rect x="59.05" y="383.28" fill="#c3d6e6"/>
<rect x="66.29" y="383.28" fill="#70a3ca"/>
<rect x="73.53" y="383.28" fill="#96bbd7"/>
<rect x="80.76" y="383.28" fill="#8fb6d5"/>
<rect x="88.00" y="383.28" fill="#6fa3ca"/>
<rect x="95.24" y="383.28" fill="#699fc8"/>
<rect x="102.47" y="383.28" fill="#4286ba"/>
<rect x="109.71" y="383.28" fill="#95bad7"/>
<rect x="116.95" y="383.28" fill="#c65141"/>
<rect x="124.19" y="383.28" fill="#f4e3d8"/>
<rect x="131.43" y="383.28" fill="#c6d8e7"/>
<rect x="138.66" y="383.28" fill="#edbb9f"/>
<rect x="145.90" y="383.28" fill="#e09170"/>
<rect x="153.14" y="383.28" fill="#c95744"/>
<rect x="160.38" y="383.28" fill="#e7a886"/>
<rect x="167.61" y="383.28" fill="#df916f"/>
<rect x="174.85" y="383.28" fill="#dd8b6b"/>
<rect x="182.09" y="383.28" fill="#df8f6e"/>
<rect x="189.33" y="383.28" fill="#e49c79"/>
<rect x="196.56" y="383.28" fill="#edbda1"/>
<rect x="30.10" y="384.75" fill="#dfe7ef"/>
<rect x="37.34" y="384.75" fill="#c7d9e8"/>
<rect x="44.58" y="384.75" fill="#d2dfeb"/>
<rect x="51.81" y="384.75" fill="#dee7ef"/>
<rect x="59.05" y="384.75" fill="#bbd1e4"/>
<rect x="66.29" y="384.75" fill="#5a96c3"/>
<rect x="73.53" y="384.75" fill="#8eb6d5"/>
<rect x="80.76" y="384.75" fill="#7dabcf"/>
<rect x="88.00" y="384.75" fill="#73a5cb"/>
<rect x="95.24" y="384.75" fill="#71a4cb"/>
<rect x="102.47" y="384.75" fill="#a9c6de"/>
<rect x="109.71" y="384.75" fill="#dee7ef"/>
<rect x="116.95" y="384.75" fill="#9b1428"/>
<rect x="124.19" y="384.75" fill="#dce6ee"/>
<rect x="131.43" y="384.75" fill="#dbe5ee"/>
<rect x="138.66" y="384.75" fill="#e19572"/>
<rect x="145.90" y="384.75" fill="#eec0a5"/>
<rect x="153.14" y="384.75" fill="#de8e6d"/>
<rect x="160.38" y="384.75" fill="#c85643"/>
<rect x="167.61" y="384.75" fill="#9a1328"/>
<rect x="174.85" y="384.75" fill="#e7a886"/>
<rect x="182.09" y="384.75" fill="#d77b5d"/>
<rect x="189.33" y="384.75" fill="#e19573"/>
<rect x="196.56" y="384.75" fill="#ce6248"/>
<rect x="30.10" y="386.23" fill="#f3d8c7"/>
<rect x="37.34" y="386.23" fill="#b9d0e3"/>
<rect x="44.58" y="386.23" fill="#aec9df"/>
<rect x="51.81" y="386.23" fill="#bbd1e4"/>
<rect x="59.05" y="386.23" fill="#d2e0eb"/>
<rect x="66.29" y="386.23" fill="#76a7cc"/>
<rect x="73.53" y="386.23" fill="#5b97c3"/>
<rect x="80.76" y="386.23" fill="#7dabcf"/>
<rect x="88.00" y="386.23" fill="#9bbdd9"/>
<rect x="95.24" y="386.23" fill="#72a5cb"/>
<rect x="102.47" y="386.23" fill="#4286ba"/>
<rect x="109.71" y="386.23" fill="#c8d9e8"/>
<rect x="116.95" y="386.23" fill="#6a011f"/>
<rect x="124.19" y="386.23" fill="#c3d6e6"/>
<rect x="131.43" y="386.23" fill="#dae4ed"/>
<rect x="138.66" y="386.23" fill="#e29876"/>
<rect x="145.90" y="386.23" fill="#e5a07c"/>
<rect x="153.14" y="386.23" fill="#e19472"/>
<rect x="160.38" y="386.23" fill="#b52d32"/>
<rect x="167.61" y="386.23" fill="#d77b5d"/>
<rect x="174.85" y="386.23" fill="#f4e6dd"/>
<rect x="182.09" y="386.23" fill="#cf664b"/>
<rect x="189.33" y="386.23" fill="#dd8a6a"/>
<rect x="196.56" y="386.23" fill="#db8666"/>
</g>
<path d="M87.50,235.40H164.80M87.50,235.40V243.20M164.80,235.40V242.10M49.00,243.20H126.10M49.00,243.20V249.40M33.72,249.40H64.80M33.72,249.40V259.00M64.80,249.40V252.30M44.50,252.30H99.00M44.50,252.30V254.30M40.96,254.30H48.19M58.90,252.30V254.80M55.43,254.80H62.67M69.91,253.00V259.00M69.91,253.00H80.60M80.60,253.00V253.80M77.14,253.80H84.38M95.00,252.30V254.00M91.62,254.00H98.86M99.00,252.30V253.20M95.00,253.20H109.40M109.40,253.20V254.50M106.09,254.50H113.33M40.96,254.30V259.00M48.19,254.30V259.00M55.43,254.80V259.00M62.67,254.80V259.00M77.14,253.80V259.00M84.38,253.80V259.00M91.62,254.00V259.00M98.86,254.00V259.00M106.09,254.50V259.00M113.33,254.50V259.00M126.10,243.20V247.30M120.57,247.30H131.30M120.57,247.30V259.00M131.30,247.30V250.40M127.81,250.40H135.04M127.81,250.40V259.00M135.04,250.40V259.00M148.70,242.10H180.40M148.70,242.10V248.50M142.28,248.50H154.40M142.28,248.50V259.00M154.40,248.50V250.50M149.52,250.50H160.20M149.52,250.50V259.00M160.20,250.50V251.70M156.76,251.70H163.99M156.76,251.70V259.00M163.99,251.70V259.00M180.40,242.10V245.70M171.23,245.70H189.40M171.23,245.70V259.00M189.40,245.70V248.80M182.10,248.80H196.80M182.10,248.80V251.70M178.47,251.70H185.71M178.47,251.70V259.00M185.71,251.70V259.00M196.80,248.80V249.30M192.94,249.30H200.18M192.94,249.30V259.00M200.18,249.30V259.00" fill="none" stroke="#111" stroke-width="0.9"/>
<rect x="47.00" y="252.00" width="7.00" height="1.40" fill="#222"/>
<rect x="30.10" y="259.10" width="87.20" height="3.80" fill="#5fac4e"/>
<rect x="117.30" y="259.10" width="86.50" height="3.80" fill="#df6a66"/>
<rect x="138.70" y="264.10" width="65.10" height="3.50" fill="#7189cb"/>
<rect x="204.40" y="246.10" width="6.30" height="5.80" fill="#df6a66"/>
<rect x="204.40" y="251.90" width="6.30" height="6.00" fill="#5fac4e"/>
<text x="213.60" y="251.00" font-size="6.6" fill="#2a2a2a" color="#2a2a2a" text-anchor="start" font-weight="normal" font-style="normal" textLength="18.4" lengthAdjust="spacingAndGlyphs" style="stroke-width:0.08px">CMML</text>
<text x="213.60" y="257.60" font-size="6.6" fill="#2a2a2a" color="#2a2a2a" text-anchor="start" font-weight="normal" font-style="normal" textLength="34.2" lengthAdjust="spacingAndGlyphs" style="stroke-width:0.08px">Old Controls</text>
<rect x="206.90" y="264.00" width="3.60" height="4.10" fill="#7189cb"/>
<text x="213.50" y="268.40" font-size="6.3" fill="#000" color="#000" text-anchor="start" font-weight="bold" font-style="italic" textLength="38.2" lengthAdjust="spacingAndGlyphs">TET2 Mutant</text>
<defs><linearGradient id="g4872" x1="0" y1="0" x2="0" y2="1"><stop offset="0.00" stop-color="#67001f"/><stop offset="0.10" stop-color="#ac1a2b"/><stop offset="0.20" stop-color="#ce6248"/><stop offset="0.30" stop-color="#e5a07c"/><stop offset="0.40" stop-color="#f3d0ba"/><stop offset="0.50" stop-color="#f5f5f5"/><stop offset="0.60" stop-color="#ceddea"/><stop offset="0.70" stop-color="#92b8d6"/><stop offset="0.80" stop-color="#468abc"/><stop offset="0.90" stop-color="#2164aa"/><stop offset="1.00" stop-color="#053061"/></linearGradient></defs>
<rect x="206.40" y="269.60" width="4.10" height="65.90" fill="url(#g4872)"/>
<text x="213.60" y="281.40" font-size="6.4" fill="#333" color="#333" text-anchor="start" font-weight="normal" font-style="normal">2</text>
<text x="213.60" y="293.10" font-size="6.4" fill="#333" color="#333" text-anchor="start" font-weight="normal" font-style="normal">1</text>
<text x="213.60" y="305.00" font-size="6.4" fill="#333" color="#333" text-anchor="start" font-weight="normal" font-style="normal">0</text>
<text x="213.60" y="316.90" font-size="6.4" fill="#333" color="#333" text-anchor="start" font-weight="normal" font-style="normal">-1</text>
<text x="213.60" y="328.60" font-size="6.4" fill="#333" color="#333" text-anchor="start" font-weight="normal" font-style="normal">-2</text>
<path d="M30.10,373.34H25.23M30.10,374.08H25.23M30.10,276.16H24.76M30.10,276.89H24.76M30.10,327.70H24.75M30.10,328.43H24.75M30.10,340.95H24.62M30.10,341.68H24.62M30.10,361.56H24.56M30.10,362.30H24.56M30.10,295.30H24.45M30.10,296.04H24.45M30.10,301.19H24.41M30.10,301.93H24.41M30.10,382.18H24.41M30.10,382.91H24.41M30.10,329.17H24.40M30.10,329.90H24.40M30.10,305.61H24.38M30.10,306.34H24.38M30.10,286.47H24.28M30.10,287.20H24.28M30.10,339.48H24.26M30.10,340.21H24.26M30.10,342.42H24.20M30.10,343.16H24.20M30.10,302.66H24.15M30.10,303.40H24.15M30.10,317.39H24.14M30.10,318.12H24.14M30.10,355.67H24.13M30.10,356.41H24.13M30.10,363.04H24.12M30.10,363.77H24.12M30.10,330.64H24.09M30.10,331.38H24.09M30.10,335.06H24.09M30.10,335.79H24.09M30.10,283.52H24.07M30.10,284.26H24.07M30.10,343.89H24.07M30.10,344.63H24.07M30.10,351.26H24.05M30.10,351.99H24.05M30.10,277.63H23.96M30.10,278.37H23.96M30.10,333.59H23.93M30.10,334.32H23.93M30.10,348.31H23.93M30.10,349.05H23.93M30.10,377.76H23.89M30.10,378.50H23.89M30.10,315.92H23.87M30.10,316.65H23.87M30.10,289.41H23.87M30.10,290.15H23.87M30.10,312.97H23.86M30.10,313.71H23.86M30.10,314.44H23.85M30.10,315.18H23.85M30.10,318.86H23.84M30.10,319.60H23.84M30.10,287.94H23.83M30.10,288.67H23.83M30.10,298.25H23.79M30.10,298.98H23.79M30.10,299.72H23.77M30.10,300.45H23.77M30.10,326.22H23.69M30.10,326.96H23.69M30.10,310.03H23.67M30.10,310.76H23.67M30.10,296.77H23.58M30.10,297.51H23.58M30.10,324.01H23.57M30.10,324.75H23.57M30.10,293.83H23.53M30.10,294.56H23.53M30.10,352.73H23.53M30.10,353.46H23.53M30.10,270.27H23.52M30.10,271.00H23.52M30.10,284.99H23.50M30.10,285.73H23.50M30.10,336.53H23.50M30.10,337.27H23.50M23.84,319.23H23.38M30.10,320.33H23.38M30.10,338.00H23.37M30.10,338.74H23.37M30.10,367.45H23.33M30.10,368.19H23.33M30.10,376.29H23.29M30.10,377.02H23.29M30.10,282.05H23.24M30.10,282.78H23.24M30.10,273.21H23.23M30.10,273.95H23.23M30.10,383.65H23.19M30.10,384.39H23.19M30.10,274.69H23.09M30.10,275.42H23.09M30.10,368.93H22.96M30.10,369.66H22.96M30.10,374.82H22.89M30.10,375.55H22.89M30.10,271.74H22.88M30.10,272.48H22.88M30.10,379.23H22.86M30.10,379.97H22.86M23.38,319.78H22.85M30.10,321.07H22.85M30.10,304.14H22.79M30.10,304.87H22.79M23.86,313.34H22.77M23.85,314.81H22.77M30.10,364.51H22.75M30.10,365.24H22.75M30.10,365.98H22.75M30.10,366.72H22.75M30.10,345.37H22.74M30.10,346.10H22.74M30.10,292.36H22.70M30.10,293.09H22.70M30.10,385.12H22.67M30.10,385.86H22.67M30.10,311.50H22.64M30.10,312.23H22.64M30.10,371.87H22.63M30.10,372.61H22.63M24.20,342.79H22.62M24.07,344.26H22.62M30.10,380.71H22.60M30.10,381.44H22.60M30.10,279.10H22.56M30.10,279.84H22.56M30.10,358.62H22.55M30.10,359.35H22.55M23.89,378.13H22.51M22.86,379.60H22.51M30.10,357.15H22.45M30.10,357.88H22.45M30.10,354.20H22.36M30.10,354.94H22.36M23.57,324.38H22.32M30.10,325.49H22.32M30.10,332.11H22.31M30.10,332.85H22.31M23.69,326.59H22.30M24.75,328.06H22.30M30.10,360.09H22.30M30.10,360.83H22.30M22.85,320.43H22.09M30.10,321.81H22.09M23.33,367.82H22.06M22.96,369.29H22.06M23.19,384.02H21.96M22.67,385.49H21.96M30.10,307.08H21.95M30.10,307.82H21.95M30.10,347.57H21.94M23.93,348.68H21.94M30.10,308.55H21.88M30.10,309.29H21.88M21.94,348.13H21.88M30.10,349.78H21.88M30.10,280.58H21.84M30.10,281.31H21.84M30.10,323.28H21.78M22.32,324.93H21.78M24.05,351.62H21.75M23.53,353.10H21.75M22.63,372.24H21.73M25.23,373.71H21.73M22.30,327.33H21.65M24.40,329.54H21.65M30.10,370.40H21.60M30.10,371.13H21.60M24.09,331.01H21.49M22.31,332.48H21.49M22.89,375.18H21.43M23.29,376.66H21.43M21.43,375.92H21.43M22.51,378.87H21.43M24.14,317.76H21.33M22.09,321.12H21.33M30.10,350.52H21.31M21.75,352.36H21.31M21.88,348.95H21.31M21.31,351.44H21.31M21.65,328.43H21.28M21.49,331.75H21.28M21.28,330.09H21.25M23.93,333.95H21.25M30.10,290.88H21.22M30.10,291.62H21.22M24.62,341.32H21.22M22.62,343.52H21.22M30.10,346.84H21.19M21.31,350.20H21.19M24.13,356.04H21.14M22.45,357.51H21.14M24.56,361.93H21.08M24.12,363.40H21.08M22.74,345.73H21.06M21.19,348.52H21.06M22.77,314.07H21.06M23.87,316.28H21.06M21.06,315.18H21.06M21.33,319.44H21.06M21.25,332.02H21.05M24.09,335.43H21.05M21.78,324.11H21.05M21.05,333.72H21.05M22.75,364.88H21.03M22.75,366.35H21.03M21.03,365.61H21.03M22.06,368.56H21.03M21.03,367.09H21.03M21.60,370.77H21.03M30.10,386.60H21.02M30.10,387.33H21.02M22.36,354.57H20.94M21.14,356.78H20.94M21.73,372.97H20.94M21.43,377.39H20.94M21.06,317.31H20.79M30.10,322.54H20.79M20.79,319.92H20.79M21.05,328.92H20.79M22.30,360.46H20.63M21.08,362.67H20.63M21.22,342.42H20.61M21.06,347.13H20.61M20.61,344.77H20.61M20.94,355.67H20.61M20.79,324.42H20.54M23.50,336.90H20.54M20.54,330.66H20.54M23.37,338.37H20.54M24.41,382.55H20.48M21.96,384.75H20.48M22.55,358.99H20.37M20.63,361.56H20.37M20.61,350.22H20.37M20.37,360.27H20.37M20.37,355.25H20.37M21.03,368.93H20.37M20.37,362.09H20.37M20.94,375.18H20.37M20.48,383.65H19.85M21.02,386.96H19.85M23.87,289.78H19.80M21.22,291.25H19.80M23.67,310.39H19.67M22.64,311.87H19.67M23.24,282.42H19.64M24.07,283.89H19.64M24.41,301.56H19.60M24.15,303.03H19.60M20.54,334.52H19.59M24.26,339.84H19.59M19.59,337.18H19.59M20.37,368.64H19.59M19.64,283.15H19.59M23.50,285.36H19.59M24.76,276.53H19.53M23.96,278.00H19.53M22.70,292.72H19.49M23.53,294.20H19.49M19.59,284.26H19.48M24.28,286.83H19.48M19.48,285.55H19.48M23.83,288.31H19.48M22.60,381.07H19.19M19.85,385.31H19.19M23.77,300.09H19.09M19.60,302.29H19.09M21.88,308.92H19.01M19.67,311.13H19.01M24.45,295.67H18.61M23.58,297.14H18.61M18.61,296.40H18.61M23.79,298.61H18.61M22.88,272.11H18.41M23.23,273.58H18.41M21.95,307.45H18.33M19.01,310.03H18.33M18.61,297.51H18.24M19.09,301.19H18.24M18.24,299.35H18.24M22.79,304.50H18.24M19.49,293.46H18.24M18.24,301.93H18.24M24.38,305.98H18.11M18.33,308.74H18.11M18.24,297.69H18.04M18.11,307.36H18.04M21.84,280.94H17.90M19.48,286.93H17.90M22.56,279.47H17.89M17.90,283.93H17.89M19.53,277.26H17.89M17.89,281.70H17.89M23.52,270.64H17.57M18.41,272.84H17.57M19.59,352.91H17.31M19.19,383.19H17.31M19.80,290.51H15.98M18.04,302.53H15.98M23.09,275.05H15.84M17.89,279.48H15.84M17.57,271.74H15.84M15.84,277.27H15.84M15.98,296.52H15.22M17.31,368.05H15.22M15.84,274.50H7.50M15.22,332.28H7.50" fill="none" stroke="#000" stroke-width="0.62"/>
<path d="M25.23,373.04V374.38M24.76,275.86V277.19M24.75,327.40V328.73M24.62,340.65V341.98M24.56,361.26V362.60M24.45,295.00V296.34M24.41,300.89V302.23M24.41,381.88V383.21M24.40,328.87V330.20M24.38,305.31V306.64M24.28,286.17V287.50M24.26,339.18V340.51M24.20,342.12V343.46M24.15,302.36V303.70M24.14,317.09V318.42M24.13,355.37V356.71M24.12,362.74V364.07M24.09,330.34V331.68M24.09,334.76V336.09M24.07,283.22V284.56M24.07,343.59V344.93M24.05,350.96V352.29M23.96,277.33V278.67M23.93,333.29V334.62M23.93,348.01V349.35M23.89,377.46V378.80M23.87,315.62V316.95M23.87,289.11V290.45M23.86,312.67V314.01M23.85,314.14V315.48M23.84,318.56V319.90M23.83,287.64V288.97M23.79,297.95V299.28M23.77,299.42V300.75M23.69,325.92V327.26M23.67,309.73V311.06M23.58,296.47V297.81M23.57,323.71V325.05M23.53,293.53V294.86M23.53,352.43V353.76M23.52,269.97V271.30M23.50,284.69V286.03M23.50,336.23V337.57M23.38,318.93V320.63M23.37,337.70V339.04M23.33,367.15V368.49M23.29,375.99V377.32M23.24,281.75V283.08M23.23,272.91V274.25M23.19,383.35V384.69M23.09,274.39V275.72M22.96,368.63V369.96M22.89,374.52V375.85M22.88,271.44V272.78M22.86,378.93V380.27M22.85,319.48V321.37M22.79,303.84V305.17M22.77,313.04V315.11M22.75,364.21V365.54M22.75,365.68V367.02M22.74,345.07V346.40M22.70,292.06V293.39M22.67,384.82V386.16M22.64,311.20V312.53M22.63,371.57V372.91M22.62,342.49V344.56M22.60,380.41V381.74M22.56,278.80V280.14M22.55,358.32V359.65M22.51,377.83V379.90M22.45,356.85V358.18M22.36,353.90V355.24M22.32,324.08V325.79M22.31,331.81V333.15M22.30,326.29V328.36M22.30,359.79V361.13M22.09,320.13V322.11M22.06,367.52V369.59M21.96,383.72V385.79M21.95,306.78V308.12M21.94,347.27V348.98M21.88,308.25V309.59M21.88,347.83V350.08M21.84,280.28V281.61M21.78,322.98V325.23M21.75,351.32V353.40M21.73,371.94V374.01M21.65,327.03V329.84M21.60,370.10V371.43M21.49,330.71V332.78M21.43,374.88V376.96M21.43,375.62V379.17M21.33,317.46V321.42M21.31,350.22V352.66M21.31,348.65V351.74M21.28,328.13V332.05M21.25,329.79V334.25M21.22,290.58V291.92M21.22,341.02V343.82M21.19,346.54V350.50M21.14,355.74V357.81M21.08,361.63V363.70M21.06,345.43V348.82M21.06,313.77V316.58M21.06,314.88V319.74M21.05,331.72V335.73M21.05,323.81V334.02M21.03,364.58V366.65M21.03,365.31V368.86M21.03,366.79V371.07M21.02,386.30V387.63M20.94,354.27V357.08M20.94,372.67V377.69M20.79,317.01V322.84M20.79,319.62V329.22M20.63,360.16V362.97M20.61,342.12V347.43M20.61,344.47V355.97M20.54,324.12V337.20M20.54,330.36V338.67M20.48,382.25V385.06M20.37,358.69V361.86M20.37,349.92V360.57M20.37,354.95V369.23M20.37,361.79V375.48M19.85,383.35V387.26M19.80,289.48V291.55M19.67,310.09V312.17M19.64,282.12V284.19M19.60,301.26V303.33M19.59,334.22V340.14M19.59,336.88V368.94M19.59,282.85V285.66M19.53,276.23V278.30M19.49,292.42V294.50M19.48,283.96V287.13M19.48,285.25V288.61M19.19,380.77V385.61M19.09,299.79V302.59M19.01,308.62V311.43M18.61,295.37V297.44M18.61,296.10V298.91M18.41,271.81V273.88M18.33,307.15V310.33M18.24,297.21V301.49M18.24,299.05V304.80M18.24,293.16V302.23M18.11,305.68V309.04M18.04,297.39V307.66M17.90,280.64V287.23M17.89,279.17V284.23M17.89,276.96V282.00M17.57,270.34V273.14M17.31,352.61V383.49M15.98,290.21V302.83M15.84,274.75V279.78M15.84,271.44V277.57M15.22,296.22V368.35M7.50,274.20V332.58" fill="none" stroke="#000" stroke-width="0.7"/>
<line x1="298.40" y1="227.30" x2="298.40" y2="351.20" stroke="#000" stroke-width="0.9"/>
<line x1="297.95" y1="350.80" x2="484.70" y2="350.80" stroke="#000" stroke-width="0.9"/>
<line x1="295.80" y1="236.10" x2="298.40" y2="236.10" stroke="#333" stroke-width="0.8"/>
<text x="292.80" y="238.30" font-size="6.3" fill="#333" color="#333" text-anchor="end" font-weight="normal" font-style="normal">0.50</text>
<line x1="295.80" y1="264.25" x2="298.40" y2="264.25" stroke="#333" stroke-width="0.8"/>
<text x="292.80" y="266.45" font-size="6.3" fill="#333" color="#333" text-anchor="end" font-weight="normal" font-style="normal">0.25</text>
<line x1="295.80" y1="292.40" x2="298.40" y2="292.40" stroke="#333" stroke-width="0.8"/>
<text x="292.80" y="294.60" font-size="6.3" fill="#333" color="#333" text-anchor="end" font-weight="normal" font-style="normal">0.00</text>
<line x1="295.80" y1="320.55" x2="298.40" y2="320.55" stroke="#333" stroke-width="0.8"/>
<text x="292.80" y="322.75" font-size="6.3" fill="#333" color="#333" text-anchor="end" font-weight="normal" font-style="normal">-0.25</text>
<line x1="295.80" y1="348.70" x2="298.40" y2="348.70" stroke="#333" stroke-width="0.8"/>
<text x="292.80" y="350.90" font-size="6.3" fill="#333" color="#333" text-anchor="end" font-weight="normal" font-style="normal">-0.50</text>
<line x1="308.20" y1="350.80" x2="308.20" y2="353.60" stroke="#333" stroke-width="0.8"/>
<text x="308.20" y="362.60" font-size="6.3" fill="#333" color="#333" text-anchor="middle" font-weight="normal" font-style="normal">-1.0</text>
<line x1="333.01" y1="350.80" x2="333.01" y2="353.60" stroke="#333" stroke-width="0.8"/>
<text x="333.01" y="362.60" font-size="6.3" fill="#333" color="#333" text-anchor="middle" font-weight="normal" font-style="normal">-0.5</text>
<line x1="357.83" y1="350.80" x2="357.83" y2="353.60" stroke="#333" stroke-width="0.8"/>
<text x="357.83" y="362.60" font-size="6.3" fill="#333" color="#333" text-anchor="middle" font-weight="normal" font-style="normal">0.0</text>
<line x1="382.64" y1="350.80" x2="382.64" y2="353.60" stroke="#333" stroke-width="0.8"/>
<text x="382.64" y="362.60" font-size="6.3" fill="#333" color="#333" text-anchor="middle" font-weight="normal" font-style="normal">0.5</text>
<line x1="407.46" y1="350.80" x2="407.46" y2="353.60" stroke="#333" stroke-width="0.8"/>
<text x="407.46" y="362.60" font-size="6.3" fill="#333" color="#333" text-anchor="middle" font-weight="normal" font-style="normal">1.0</text>
<line x1="432.27" y1="350.80" x2="432.27" y2="353.60" stroke="#333" stroke-width="0.8"/>
<text x="432.27" y="362.60" font-size="6.3" fill="#333" color="#333" text-anchor="middle" font-weight="normal" font-style="normal">1.5</text>
<line x1="457.09" y1="350.80" x2="457.09" y2="353.60" stroke="#333" stroke-width="0.8"/>
<text x="457.09" y="362.60" font-size="6.3" fill="#333" color="#333" text-anchor="middle" font-weight="normal" font-style="normal">2.0</text>
<line x1="481.90" y1="350.80" x2="481.90" y2="353.60" stroke="#333" stroke-width="0.8"/>
<text x="481.90" y="362.60" font-size="6.3" fill="#333" color="#333" text-anchor="middle" font-weight="normal" font-style="normal">2.5</text>
<line x1="299.2" y1="292.4" x2="484.9" y2="292.4" stroke="#222" stroke-width="0.9" stroke-dasharray="0.95 0.8"/>
<text x="391.60" y="374.00" font-size="8.2" fill="#111" color="#111" text-anchor="middle" font-weight="bold" font-style="normal" textLength="84.6" lengthAdjust="spacingAndGlyphs">Gene expression log2 fold change</text>
<text x="0" y="0" font-size="8.2" fill="#111" color="#111" font-weight="bold" text-anchor="middle" textLength="58.0" lengthAdjust="spacingAndGlyphs" transform="translate(274.4,288.5) rotate(-90)">Methylation difference</text>
<circle cx="310.2" cy="238.5" r="1.8" fill="#b00d28" stroke="#000" stroke-width="0.7"/>
<circle cx="357.6" cy="239.4" r="1.8" fill="#b00d28" stroke="#000" stroke-width="0.7"/>
<circle cx="369.1" cy="230.4" r="1.8" fill="#b00d28" stroke="#000" stroke-width="0.7"/>
<circle cx="374.6" cy="234.2" r="1.8" fill="#b00d28" stroke="#000" stroke-width="0.7"/>
<circle cx="378.8" cy="234.2" r="1.8" fill="#b00d28" stroke="#000" stroke-width="0.7"/>
<circle cx="372.4" cy="248.2" r="1.8" fill="#b00d28" stroke="#000" stroke-width="0.7"/>
<circle cx="369.5" cy="252.6" r="1.8" fill="#b00d28" stroke="#000" stroke-width="0.7"/>
<circle cx="336.5" cy="252.3" r="1.8" fill="#b00d28" stroke="#000" stroke-width="0.7"/>
<circle cx="341.1" cy="255.4" r="1.8" fill="#b00d28" stroke="#000" stroke-width="0.7"/>
<circle cx="348.1" cy="252.3" r="1.8" fill="#b00d28" stroke="#000" stroke-width="0.7"/>
<circle cx="344.4" cy="258.5" r="1.8" fill="#b00d28" stroke="#000" stroke-width="0.7"/>
<circle cx="350" cy="257.8" r="1.8" fill="#b00d28" stroke="#000" stroke-width="0.7"/>
<circle cx="355.3" cy="257.1" r="1.8" fill="#b00d28" stroke="#000" stroke-width="0.7"/>
<circle cx="345.4" cy="262.3" r="1.8" fill="#b00d28" stroke="#000" stroke-width="0.7"/>
<circle cx="348.3" cy="263.1" r="1.8" fill="#b00d28" stroke="#000" stroke-width="0.7"/>
<circle cx="352.6" cy="261.3" r="1.8" fill="#b00d28" stroke="#000" stroke-width="0.7"/>
<circle cx="354.8" cy="259.2" r="1.8" fill="#b00d28" stroke="#000" stroke-width="0.7"/>
<circle cx="348.8" cy="265.2" r="1.8" fill="#b00d28" stroke="#000" stroke-width="0.7"/>
<circle cx="356.7" cy="263.6" r="1.8" fill="#b00d28" stroke="#000" stroke-width="0.7"/>
<circle cx="361" cy="265.5" r="1.8" fill="#b00d28" stroke="#000" stroke-width="0.7"/>
<circle cx="347.3" cy="269.3" r="1.8" fill="#b00d28" stroke="#000" stroke-width="0.7"/>
<circle cx="335.8" cy="266.2" r="1.8" fill="#b00d28" stroke="#000" stroke-width="0.7"/>
<circle cx="362.5" cy="256.8" r="1.8" fill="#b00d28" stroke="#000" stroke-width="0.7"/>
<circle cx="365.1" cy="257.5" r="1.8" fill="#b00d28" stroke="#000" stroke-width="0.7"/>
<circle cx="371.2" cy="258.5" r="1.8" fill="#b00d28" stroke="#000" stroke-width="0.7"/>
<circle cx="374.7" cy="260.2" r="1.8" fill="#b00d28" stroke="#000" stroke-width="0.7"/>
<circle cx="377.6" cy="258.1" r="1.8" fill="#b00d28" stroke="#000" stroke-width="0.7"/>
<circle cx="378.6" cy="261.3" r="1.8" fill="#b00d28" stroke="#000" stroke-width="0.7"/>
<circle cx="368.9" cy="262.6" r="1.8" fill="#b00d28" stroke="#000" stroke-width="0.7"/>
<circle cx="385.6" cy="257.3" r="1.8" fill="#b00d28" stroke="#000" stroke-width="0.7"/>
<circle cx="389.3" cy="260.6" r="1.8" fill="#b00d28" stroke="#000" stroke-width="0.7"/>
<circle cx="403.7" cy="256.9" r="1.8" fill="#b00d28" stroke="#000" stroke-width="0.7"/>
<circle cx="408.3" cy="263.4" r="1.8" fill="#b00d28" stroke="#000" stroke-width="0.7"/>
<circle cx="439.3" cy="263.3" r="1.8" fill="#b00d28" stroke="#000" stroke-width="0.7"/>
<circle cx="317.2" cy="267" r="1.8" fill="#b00d28" stroke="#000" stroke-width="0.7"/>
<circle cx="303.8" cy="268.5" r="1.8" fill="#b00d28" stroke="#000" stroke-width="0.7"/>
<circle cx="333.8" cy="321.5" r="1.8" fill="#b00d28" stroke="#000" stroke-width="0.7"/>
<circle cx="345.4" cy="320.7" r="1.8" fill="#b00d28" stroke="#000" stroke-width="0.7"/>
<circle cx="347.4" cy="324.2" r="1.8" fill="#b00d28" stroke="#000" stroke-width="0.7"/>
<circle cx="350.3" cy="322.7" r="1.8" fill="#b00d28" stroke="#000" stroke-width="0.7"/>
<circle cx="348.9" cy="325" r="1.8" fill="#b00d28" stroke="#000" stroke-width="0.7"/>
<circle cx="343.1" cy="328.1" r="1.8" fill="#b00d28" stroke="#000" stroke-width="0.7"/>
<circle cx="348.5" cy="329.2" r="1.8" fill="#b00d28" stroke="#000" stroke-width="0.7"/>
<circle cx="363.8" cy="319.3" r="1.8" fill="#b00d28" stroke="#000" stroke-width="0.7"/>
<circle cx="365.7" cy="323" r="1.8" fill="#b00d28" stroke="#000" stroke-width="0.7"/>
<circle cx="371.8" cy="321.2" r="1.8" fill="#b00d28" stroke="#000" stroke-width="0.7"/>
<circle cx="377.4" cy="319.9" r="1.8" fill="#b00d28" stroke="#000" stroke-width="0.7"/>
<circle cx="385.7" cy="321.6" r="1.8" fill="#b00d28" stroke="#000" stroke-width="0.7"/>
<circle cx="371.2" cy="326.5" r="1.8" fill="#b00d28" stroke="#000" stroke-width="0.7"/>
<circle cx="374.9" cy="327.3" r="1.8" fill="#b00d28" stroke="#000" stroke-width="0.7"/>
<circle cx="359.7" cy="329.9" r="1.8" fill="#b00d28" stroke="#000" stroke-width="0.7"/>
<circle cx="365.8" cy="331.9" r="1.8" fill="#b00d28" stroke="#000" stroke-width="0.7"/>
<circle cx="352.3" cy="335.8" r="1.8" fill="#b00d28" stroke="#000" stroke-width="0.7"/>
<circle cx="350" cy="336.8" r="1.8" fill="#b00d28" stroke="#000" stroke-width="0.7"/>
<circle cx="359.7" cy="338.1" r="1.8" fill="#b00d28" stroke="#000" stroke-width="0.7"/>
<circle cx="348.5" cy="342.2" r="1.8" fill="#b00d28" stroke="#000" stroke-width="0.7"/>
<circle cx="333.6" cy="236.8" r="2.0" fill="#27478c" stroke="#000" stroke-width="0.7"/>
<circle cx="399.3" cy="229.3" r="2.0" fill="#27478c" stroke="#000" stroke-width="0.7"/>
<circle cx="328.4" cy="253" r="2.0" fill="#27478c" stroke="#000" stroke-width="0.7"/>
<circle cx="331.1" cy="257.7" r="2.0" fill="#27478c" stroke="#000" stroke-width="0.7"/>
<circle cx="335.1" cy="257.7" r="2.0" fill="#27478c" stroke="#000" stroke-width="0.7"/>
<circle cx="421.3" cy="254.7" r="2.0" fill="#27478c" stroke="#000" stroke-width="0.7"/>
<circle cx="422.7" cy="262.8" r="2.0" fill="#27478c" stroke="#000" stroke-width="0.7"/>
<circle cx="463.8" cy="243.4" r="2.0" fill="#27478c" stroke="#000" stroke-width="0.7"/>
<circle cx="478.2" cy="243.4" r="2.0" fill="#27478c" stroke="#000" stroke-width="0.7"/>
<circle cx="384.6" cy="326.8" r="2.0" fill="#27478c" stroke="#000" stroke-width="0.7"/>
<circle cx="329.5" cy="347.8" r="2.0" fill="#27478c" stroke="#000" stroke-width="0.7"/>
<circle cx="334.0" cy="258.3" r="1.3" fill="#b00d28" stroke="#1a0000" stroke-width="0.4"/>
<text x="328.60" y="233.00" font-size="5.7" fill="#333" color="#333" text-anchor="start" font-weight="normal" font-style="normal" textLength="14.0" lengthAdjust="spacingAndGlyphs" style="stroke-width:0.1px">AOAH</text>
<text x="392.50" y="237.00" font-size="5.7" fill="#333" color="#333" text-anchor="start" font-weight="normal" font-style="normal" textLength="13.3" lengthAdjust="spacingAndGlyphs" style="stroke-width:0.1px">IFT80</text>
<text x="317.10" y="248.90" font-size="5.7" fill="#333" color="#333" text-anchor="start" font-weight="normal" font-style="normal" textLength="22.5" lengthAdjust="spacingAndGlyphs" style="stroke-width:0.1px">SERINC5</text>
<text x="307.30" y="259.30" font-size="5.7" fill="#333" color="#333" text-anchor="start" font-weight="normal" font-style="normal" textLength="19.1" lengthAdjust="spacingAndGlyphs" style="stroke-width:0.1px">AHCYL1</text>
<text x="325.10" y="264.00" font-size="5.7" fill="#333" color="#333" text-anchor="start" font-weight="normal" font-style="normal" textLength="10.1" lengthAdjust="spacingAndGlyphs" style="stroke-width:0.1px">TAF1</text>
<text x="411.40" y="251.40" font-size="5.7" fill="#333" color="#333" text-anchor="start" font-weight="normal" font-style="normal" textLength="23.3" lengthAdjust="spacingAndGlyphs" style="stroke-width:0.1px">ZSCAN18</text>
<text x="426.40" y="265.30" font-size="5.7" fill="#333" color="#333" text-anchor="start" font-weight="normal" font-style="normal" textLength="8.6" lengthAdjust="spacingAndGlyphs" style="stroke-width:0.1px">TNF</text>
<text x="456.70" y="240.50" font-size="5.7" fill="#333" color="#333" text-anchor="start" font-weight="normal" font-style="normal" textLength="16.4" lengthAdjust="spacingAndGlyphs" style="stroke-width:0.1px">VCAM1</text>
<text x="465.40" y="251.70" font-size="5.7" fill="#333" color="#333" text-anchor="start" font-weight="normal" font-style="normal" textLength="17.0" lengthAdjust="spacingAndGlyphs" style="stroke-width:0.1px">MS4A3</text>
<text x="380.50" y="335.00" font-size="5.7" fill="#333" color="#333" text-anchor="start" font-weight="normal" font-style="normal" textLength="20.6" lengthAdjust="spacingAndGlyphs" style="stroke-width:0.1px">TUBA1B</text>
<text x="321.40" y="345.50" font-size="5.7" fill="#333" color="#333" text-anchor="start" font-weight="normal" font-style="normal" textLength="17.6" lengthAdjust="spacingAndGlyphs" style="stroke-width:0.1px">PITPNA</text>
<circle cx="332.4" cy="384.8" r="1.9" fill="#27478c" stroke="#000" stroke-width="0.5"/>
<circle cx="397.7" cy="384.8" r="1.9" fill="#b00d28" stroke="#1a0000" stroke-width="0.5"/>
<text x="337.80" y="386.70" font-size="5.4" fill="#333" color="#333" text-anchor="start" font-weight="normal" font-style="normal" textLength="48.6" lengthAdjust="spacingAndGlyphs">CMML-specific genes</text>
<text x="402.80" y="386.70" font-size="5.4" fill="#333" color="#333" text-anchor="start" font-weight="normal" font-style="normal" textLength="48.5" lengthAdjust="spacingAndGlyphs">not overlapping genes</text>
</svg>
</body></html>
